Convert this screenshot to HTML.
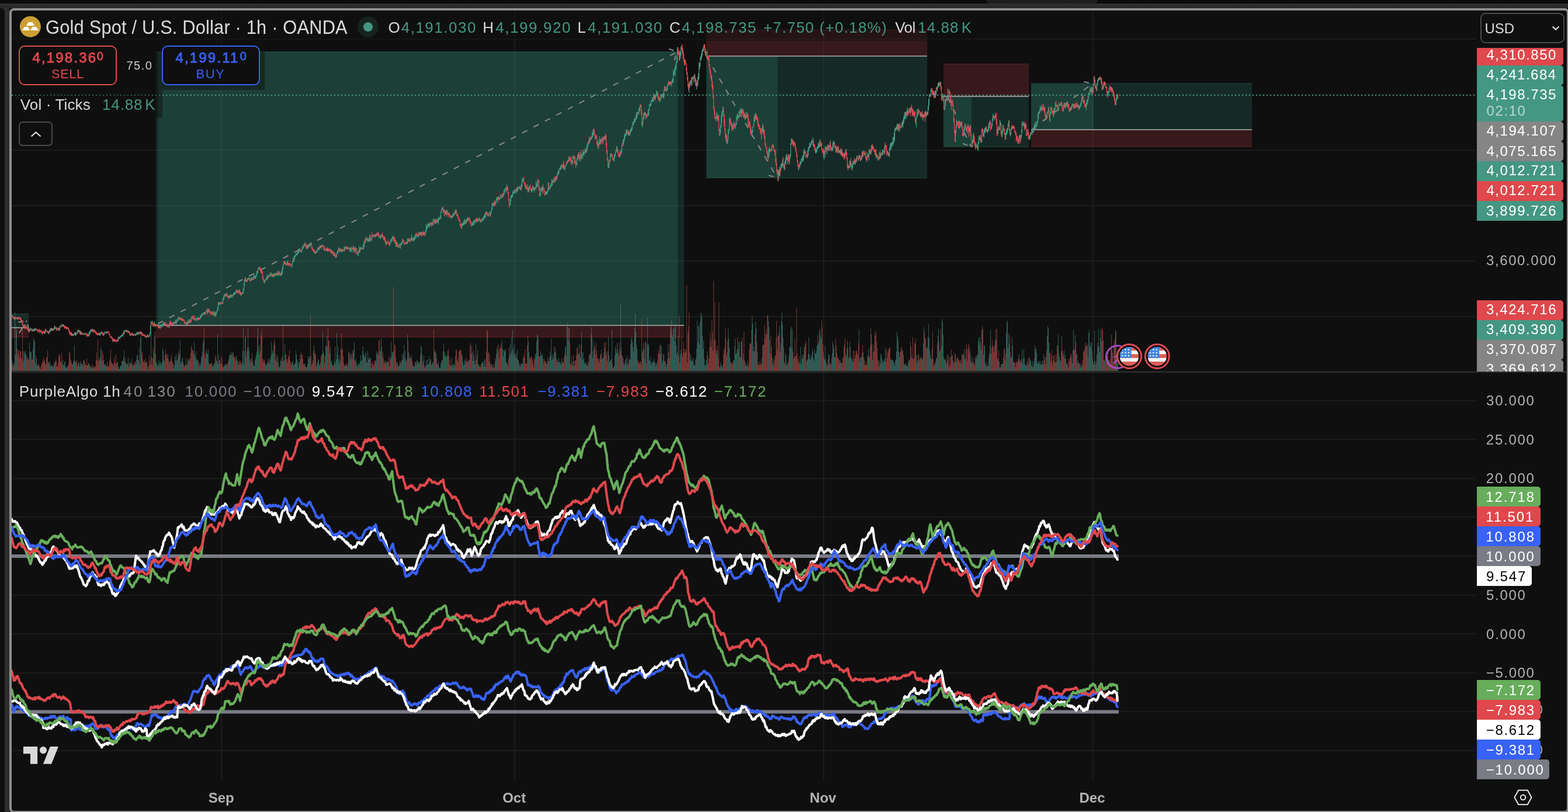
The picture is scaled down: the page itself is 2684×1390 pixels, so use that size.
<!DOCTYPE html><html lang="en"><head><meta charset="utf-8"><title>XAUUSD chart</title><style>
*{box-sizing:border-box}
html,body{margin:0;padding:0}
body{width:2684px;height:1390px;overflow:hidden;background:#0f0f0f;position:relative;
 font-family:"Liberation Sans",sans-serif;-webkit-font-smoothing:antialiased}
.t{position:absolute;line-height:0;white-space:nowrap}
.b{position:absolute}
.lab{position:absolute;left:2528px;height:34px;border-radius:0 4px 4px 0;color:#fff}
svg{position:absolute;left:0;top:0}
</style></head><body><svg width="2684" height="1390" viewBox="0 0 2684 1390"><path d="M379 18V1335 M881 18V1335 M1410 18V1335 M1870.5 18V1335 M20 67H2526 M20 162H2526 M20 257H2526 M20 352H2526 M20 447H2526 M20 542H2526 M20 686H2526 M20 752H2526 M20 819H2526 M20 885H2526 M20 952H2526 M20 1019H2526 M20 1085H2526 M20 1152H2526 M20 1218H2526 M20 1285H2526" stroke="rgba(255,255,255,0.07)" stroke-width="1.6" fill="none"/><rect x="20" y="537" width="29" height="23" fill="rgba(45,150,130,0.2)" /><rect x="20" y="562" width="29" height="15.5" fill="rgba(220,65,75,0.2)" /><rect x="20" y="560" width="24" height="2" fill="#8f8f8f" /><rect x="20" y="537" width="29" height="1" fill="#25483f" /><rect x="20" y="576.5" width="29" height="1.0" fill="#5a2528" /><rect x="267" y="89" width="904" height="467" fill="rgba(45,150,130,0.2)" /><rect x="271" y="89" width="889" height="467" fill="rgba(61,152,128,0.2)" /><rect x="267" y="88.5" width="904" height="1.0" fill="#2a5a50" /><rect x="267" y="558" width="904" height="19.5" fill="rgba(220,65,75,0.2)" /><rect x="267" y="576.5" width="904" height="1.0" fill="#5a2528" /><rect x="267" y="556" width="904" height="2" fill="#8f8f8f" /><rect x="1209" y="51" width="378" height="44" fill="rgba(220,65,75,0.2)" /><rect x="1209" y="50.5" width="378" height="1.0" fill="#5a2528" /><rect x="1209" y="97" width="378" height="208" fill="rgba(45,150,130,0.2)" /><rect x="1209" y="97" width="122" height="208" fill="rgba(61,152,128,0.2)" /><rect x="1209" y="304" width="378" height="1" fill="#25483f" /><rect x="1214" y="95" width="373" height="2" fill="#8f8f8f" /><rect x="1615" y="109.5" width="146" height="54.5" fill="rgba(220,65,75,0.2)" /><rect x="1615" y="109" width="146" height="1" fill="#5a2528" /><rect x="1615" y="166" width="146" height="85.5" fill="rgba(45,150,130,0.2)" /><rect x="1615" y="166" width="48" height="85.5" fill="rgba(61,152,128,0.2)" /><rect x="1615" y="250.5" width="146" height="1.0" fill="#25483f" /><rect x="1615" y="164" width="146" height="2" fill="#8f8f8f" /><rect x="1765" y="143" width="378" height="78" fill="rgba(45,150,130,0.2)" /><rect x="1765" y="143" width="107" height="78" fill="rgba(61,152,128,0.2)" /><rect x="1765" y="142.5" width="378" height="1.0" fill="#25483f" /><rect x="1765" y="223" width="378" height="28.5" fill="rgba(220,65,75,0.2)" /><rect x="1765" y="250.5" width="378" height="1.0" fill="#5a2528" /><rect x="1765" y="221" width="378" height="2" fill="#8f8f8f" /><path d="M20.5 635V618M24.5 635V622M25.5 635V534M26.5 635V607M27.5 635V557M28.5 635V565M30.5 635V607M41.5 635V602M42.5 635V605M43.5 635V600M44.5 635V607M50.5 635V587M51.5 635V603M52.5 635V601M56.5 635V597M57.5 635V578M58.5 635V582M59.5 635V585M60.5 635V622M62.5 635V614M63.5 635V626M64.5 635V625M68.5 635V628M77.5 635V623M83.5 635V620M84.5 635V623M85.5 635V618M86.5 635V627M88.5 635V625M90.5 635V628M91.5 635V627M92.5 635V619M93.5 635V622M107.5 635V616M108.5 635V624M109.5 635V626M110.5 635V619M111.5 635V619M112.5 635V628M113.5 635V630M114.5 635V629M115.5 635V627M124.5 635V624M125.5 635V620M126.5 635V617M127.5 635V591M128.5 635V618M132.5 635V627M133.5 635V624M134.5 635V620M137.5 635V618M138.5 635V622M139.5 635V622M140.5 635V623M141.5 635V626M144.5 635V616M150.5 635V624M152.5 635V623M153.5 635V626M154.5 635V626M155.5 635V629M156.5 635V631M158.5 635V628M159.5 635V630M171.5 635V611M172.5 635V594M173.5 635V599M174.5 635V618M177.5 635V616M178.5 635V624M179.5 635V625M180.5 635V623M181.5 635V627M193.5 635V622M194.5 635V626M197.5 635V622M202.5 635V627M203.5 635V631M204.5 635V632M205.5 635V627M206.5 635V626M207.5 635V626M208.5 635V618M209.5 635V617M210.5 635V619M212.5 635V600M213.5 635V619M214.5 635V613M215.5 635V622M216.5 635V623M219.5 635V612M224.5 635V621M226.5 635V623M227.5 635V627M228.5 635V624M229.5 635V624M233.5 635V616M234.5 635V609M235.5 635V608M237.5 635V617M238.5 635V595M240.5 635V578M241.5 635V570M251.5 635V620M252.5 635V627M253.5 635V632M258.5 635V554M264.5 635V575M267.5 635V620M268.5 635V622M269.5 635V625M270.5 635V628M271.5 635V617M274.5 635V623M275.5 635V620M276.5 635V625M277.5 635V620M278.5 635V596M279.5 635V601M280.5 635V616M281.5 635V619M287.5 635V607M290.5 635V619M296.5 635V623M297.5 635V631M298.5 635V625M299.5 635V610M300.5 635V617M301.5 635V606M302.5 635V617M303.5 635V617M304.5 635V611M305.5 635V604M307.5 635V607M308.5 635V583M309.5 635V623M310.5 635V619M311.5 635V615M312.5 635V611M319.5 635V625M320.5 635V624M322.5 635V617M323.5 635V613M324.5 635V618M331.5 635V605M332.5 635V585M333.5 635V607M334.5 635V613M335.5 635V601M336.5 635V618M337.5 635V615M338.5 635V616M342.5 635V622M343.5 635V625M344.5 635V612M345.5 635V609M346.5 635V602M347.5 635V587M348.5 635V581M351.5 635V613M352.5 635V603M353.5 635V598M355.5 635V606M356.5 635V598M362.5 635V621M363.5 635V628M364.5 635V625M365.5 635V626M366.5 635V623M367.5 635V621M370.5 635V616M371.5 635V619M372.5 635V572M373.5 635V623M374.5 635V608M383.5 635V626M384.5 635V626M385.5 635V623M386.5 635V622M387.5 635V626M391.5 635V615M392.5 635V609M393.5 635V605M394.5 635V608M395.5 635V607M397.5 635V608M398.5 635V603M404.5 635V609M405.5 635V615M406.5 635V617M409.5 635V623M412.5 635V622M413.5 635V625M414.5 635V619M415.5 635V600M416.5 635V561M417.5 635V624M418.5 635V601M419.5 635V578M421.5 635V611M423.5 635V595M424.5 635V562M425.5 635V594M426.5 635V600M429.5 635V621M430.5 635V613M432.5 635V618M433.5 635V623M434.5 635V626M435.5 635V627M436.5 635V617M437.5 635V613M438.5 635V608M439.5 635V602M441.5 635V561M442.5 635V594M443.5 635V606M453.5 635V620M454.5 635V624M455.5 635V626M456.5 635V623M457.5 635V621M460.5 635V614M461.5 635V623M462.5 635V616M463.5 635V610M464.5 635V585M465.5 635V606M466.5 635V599M467.5 635V604M470.5 635V587M471.5 635V616M472.5 635V606M476.5 635V620M477.5 635V629M480.5 635V617M481.5 635V613M482.5 635V619M483.5 635V610M485.5 635V618M486.5 635V617M487.5 635V590M491.5 635V621M499.5 635V620M500.5 635V621M501.5 635V618M503.5 635V624M504.5 635V623M505.5 635V620M506.5 635V600M507.5 635V607M508.5 635V615M509.5 635V619M510.5 635V629M511.5 635V620M512.5 635V621M513.5 635V607M519.5 635V624M521.5 635V623M525.5 635V628M526.5 635V623M527.5 635V610M528.5 635V615M529.5 635V609M530.5 635V613M537.5 635V591M542.5 635V622M543.5 635V620M544.5 635V615M545.5 635V616M546.5 635V625M547.5 635V624M551.5 635V605M552.5 635V567M557.5 635V593M558.5 635V591M559.5 635V575M560.5 635V594M564.5 635V605M565.5 635V594M566.5 635V619M568.5 635V623M572.5 635V618M574.5 635V622M575.5 635V615M576.5 635V570M577.5 635V607M578.5 635V593M579.5 635V615M581.5 635V609M582.5 635V618M589.5 635V626M590.5 635V626M591.5 635V625M594.5 635V627M595.5 635V622M597.5 635V601M599.5 635V615M600.5 635V604M601.5 635V608M604.5 635V604M605.5 635V598M606.5 635V586M609.5 635V614M610.5 635V626M611.5 635V623M613.5 635V623M614.5 635V621M616.5 635V619M617.5 635V608M620.5 635V601M621.5 635V593M622.5 635V606M623.5 635V609M624.5 635V612M625.5 635V603M626.5 635V605M627.5 635V621M628.5 635V620M629.5 635V600M630.5 635V613M631.5 635V616M632.5 635V611M634.5 635V613M635.5 635V630M636.5 635V622M639.5 635V627M643.5 635V618M644.5 635V601M645.5 635V606M646.5 635V603M651.5 635V599M652.5 635V579M653.5 635V594M661.5 635V622M662.5 635V618M663.5 635V620M669.5 635V585M670.5 635V610M671.5 635V603M672.5 635V603M679.5 635V623M680.5 635V620M682.5 635V627M683.5 635V625M685.5 635V619M686.5 635V623M687.5 635V617M688.5 635V606M689.5 635V616M690.5 635V605M691.5 635V590M692.5 635V612M693.5 635V600M694.5 635V617M697.5 635V573M699.5 635V603M700.5 635V613M703.5 635V613M704.5 635V608M706.5 635V623M707.5 635V627M708.5 635V628M709.5 635V627M710.5 635V619M711.5 635V620M712.5 635V625M713.5 635V616M715.5 635V621M716.5 635V620M718.5 635V619M720.5 635V591M721.5 635V595M722.5 635V606M724.5 635V618M725.5 635V609M729.5 635V617M730.5 635V625M731.5 635V615M732.5 635V624M733.5 635V623M734.5 635V610M735.5 635V621M736.5 635V615M739.5 635V624M740.5 635V620M741.5 635V621M744.5 635V598M745.5 635V603M746.5 635V605M748.5 635V624M749.5 635V623M750.5 635V619M751.5 635V628M752.5 635V630M753.5 635V630M754.5 635V623M755.5 635V620M756.5 635V616M757.5 635V616M759.5 635V588M760.5 635V602M761.5 635V610M763.5 635V612M764.5 635V609M765.5 635V610M768.5 635V609M772.5 635V626M773.5 635V612M774.5 635V624M775.5 635V629M776.5 635V624M777.5 635V622M778.5 635V626M790.5 635V607M791.5 635V611M792.5 635V620M793.5 635V626M794.5 635V624M795.5 635V618M796.5 635V615M799.5 635V618M800.5 635V618M802.5 635V616M803.5 635V616M808.5 635V604M809.5 635V618M810.5 635V600M811.5 635V609M812.5 635V618M813.5 635V624M814.5 635V588M818.5 635V623M819.5 635V624M820.5 635V627M825.5 635V619M826.5 635V621M827.5 635V619M828.5 635V628M829.5 635V615M830.5 635V615M831.5 635V628M837.5 635V619M841.5 635V622M842.5 635V624M843.5 635V630M848.5 635V618M849.5 635V606M850.5 635V597M859.5 635V582M860.5 635V598M861.5 635V610M862.5 635V599M863.5 635V600M864.5 635V602M865.5 635V596M866.5 635V621M867.5 635V620M872.5 635V608M873.5 635V589M874.5 635V604M875.5 635V577M876.5 635V601M877.5 635V564M878.5 635V596M879.5 635V606M880.5 635V590M882.5 635V611M883.5 635V604M884.5 635V613M885.5 635V598M886.5 635V616M887.5 635V617M888.5 635V624M891.5 635V623M892.5 635V623M893.5 635V621M894.5 635V624M895.5 635V613M904.5 635V584M905.5 635V602M917.5 635V606M918.5 635V584M919.5 635V573M920.5 635V575M924.5 635V610M925.5 635V601M926.5 635V608M927.5 635V609M928.5 635V605M934.5 635V620M935.5 635V623M936.5 635V622M937.5 635V611M938.5 635V618M941.5 635V601M942.5 635V609M943.5 635V580M944.5 635V617M945.5 635V606M946.5 635V615M947.5 635V611M949.5 635V603M950.5 635V595M951.5 635V604M953.5 635V620M954.5 635V616M955.5 635V621M956.5 635V613M957.5 635V620M958.5 635V620M959.5 635V621M960.5 635V625M963.5 635V619M967.5 635V594M968.5 635V593M969.5 635V610M970.5 635V560M971.5 635V553M972.5 635V583M973.5 635V562M979.5 635V620M980.5 635V627M981.5 635V608M982.5 635V618M990.5 635V607M991.5 635V589M992.5 635V604M993.5 635V612M995.5 635V568M996.5 635V604M997.5 635V617M998.5 635V603M999.5 635V614M1000.5 635V622M1001.5 635V620M1003.5 635V621M1004.5 635V626M1005.5 635V626M1006.5 635V619M1009.5 635V607M1010.5 635V604M1012.5 635V560M1013.5 635V577M1014.5 635V613M1015.5 635V601M1016.5 635V584M1025.5 635V621M1026.5 635V614M1029.5 635V598M1030.5 635V615M1031.5 635V612M1032.5 635V613M1033.5 635V604M1035.5 635V595M1041.5 635V577M1042.5 635V608M1043.5 635V620M1044.5 635V618M1045.5 635V616M1047.5 635V564M1050.5 635V629M1051.5 635V626M1052.5 635V608M1053.5 635V593M1054.5 635V598M1055.5 635V604M1056.5 635V587M1062.5 635V520M1063.5 635V594M1064.5 635V608M1066.5 635V613M1067.5 635V621M1068.5 635V625M1069.5 635V621M1070.5 635V616M1071.5 635V614M1072.5 635V625M1073.5 635V609M1077.5 635V617M1078.5 635V615M1079.5 635V589M1080.5 635V581M1081.5 635V577M1082.5 635V585M1083.5 635V594M1084.5 635V602M1085.5 635V579M1086.5 635V561M1087.5 635V537M1088.5 635V568M1089.5 635V590M1090.5 635V597M1094.5 635V623M1095.5 635V619M1100.5 635V599M1101.5 635V587M1102.5 635V596M1103.5 635V614M1105.5 635V585M1108.5 635V543M1109.5 635V591M1110.5 635V589M1111.5 635V617M1112.5 635V618M1113.5 635V611M1114.5 635V625M1115.5 635V620M1116.5 635V621M1117.5 635V620M1118.5 635V618M1119.5 635V613M1120.5 635V620M1122.5 635V627M1123.5 635V622M1124.5 635V623M1130.5 635V590M1131.5 635V606M1132.5 635V594M1133.5 635V621M1134.5 635V617M1135.5 635V606M1136.5 635V607M1138.5 635V618M1139.5 635V622M1140.5 635V628M1141.5 635V623M1142.5 635V615M1143.5 635V590M1147.5 635V558M1150.5 635V572M1151.5 635V577M1152.5 635V563M1153.5 635V562M1154.5 635V584M1155.5 635V560M1156.5 635V555M1157.5 635V591M1158.5 635V607M1159.5 635V602M1160.5 635V575M1163.5 635V621M1164.5 635V607M1165.5 635V598M1180.5 635V604M1181.5 635V617M1182.5 635V608M1183.5 635V618M1184.5 635V615M1185.5 635V618M1186.5 635V612M1187.5 635V625M1188.5 635V624M1189.5 635V626M1190.5 635V616M1192.5 635V597M1193.5 635V549M1194.5 635V586M1195.5 635V559M1196.5 635V557M1197.5 635V590M1198.5 635V551M1199.5 635V535M1200.5 635V544M1201.5 635V538M1202.5 635V574M1203.5 635V597M1204.5 635V583M1205.5 635V614M1206.5 635V626M1208.5 635V624M1209.5 635V616M1210.5 635V602M1225.5 635V599M1226.5 635V605M1233.5 635V620M1234.5 635V625M1235.5 635V627M1236.5 635V630M1237.5 635V623M1243.5 635V609M1246.5 635V563M1247.5 635V580M1248.5 635V596M1249.5 635V612M1255.5 635V617M1256.5 635V617M1257.5 635V593M1258.5 635V580M1259.5 635V606M1260.5 635V605M1261.5 635V598M1264.5 635V586M1265.5 635V585M1266.5 635V611M1267.5 635V611M1268.5 635V584M1269.5 635V585M1271.5 635V615M1275.5 635V620M1276.5 635V625M1277.5 635V625M1278.5 635V627M1279.5 635V618M1287.5 635V542M1288.5 635V554M1289.5 635V601M1290.5 635V593M1291.5 635V602M1293.5 635V551M1294.5 635V562M1304.5 635V613M1305.5 635V590M1315.5 635V550M1316.5 635V560M1320.5 635V594M1321.5 635V611M1322.5 635V623M1333.5 635V570M1334.5 635V559M1336.5 635V587M1337.5 635V550M1338.5 635V535M1339.5 635V556M1343.5 635V623M1344.5 635V604M1345.5 635V609M1346.5 635V624M1348.5 635V620M1351.5 635V594M1352.5 635V594M1353.5 635V563M1354.5 635V559M1355.5 635V597M1356.5 635V563M1358.5 635V614M1369.5 635V619M1370.5 635V594M1371.5 635V624M1372.5 635V614M1373.5 635V608M1374.5 635V614M1375.5 635V606M1376.5 635V593M1380.5 635V619M1381.5 635V616M1382.5 635V615M1383.5 635V606M1384.5 635V577M1385.5 635V606M1386.5 635V615M1387.5 635V615M1388.5 635V607M1389.5 635V611M1390.5 635V597M1391.5 635V602M1392.5 635V615M1393.5 635V618M1394.5 635V597M1395.5 635V605M1396.5 635V605M1397.5 635V601M1398.5 635V592M1399.5 635V573M1400.5 635V590M1401.5 635V584M1402.5 635V567M1403.5 635V563M1404.5 635V574M1410.5 635V611M1411.5 635V616M1412.5 635V592M1415.5 635V625M1416.5 635V625M1418.5 635V605M1419.5 635V608M1420.5 635V623M1424.5 635V604M1425.5 635V585M1426.5 635V590M1427.5 635V597M1428.5 635V611M1429.5 635V612M1436.5 635V616M1437.5 635V621M1438.5 635V616M1440.5 635V622M1447.5 635V607M1448.5 635V611M1449.5 635V597M1452.5 635V614M1453.5 635V611M1454.5 635V585M1455.5 635V594M1456.5 635V611M1457.5 635V614M1458.5 635V619M1459.5 635V614M1464.5 635V608M1470.5 635V564M1471.5 635V619M1472.5 635V613M1473.5 635V612M1474.5 635V610M1475.5 635V604M1486.5 635V597M1487.5 635V611M1491.5 635V572M1492.5 635V589M1493.5 635V616M1503.5 635V618M1507.5 635V608M1508.5 635V605M1509.5 635V613M1510.5 635V622M1511.5 635V616M1512.5 635V619M1513.5 635V618M1514.5 635V613M1515.5 635V595M1524.5 635V616M1525.5 635V614M1526.5 635V616M1527.5 635V617M1528.5 635V616M1529.5 635V620M1530.5 635V622M1531.5 635V626M1532.5 635V618M1533.5 635V616M1534.5 635V602M1535.5 635V568M1536.5 635V575M1537.5 635V583M1538.5 635V602M1539.5 635V611M1545.5 635V600M1546.5 635V608M1547.5 635V625M1548.5 635V623M1549.5 635V624M1550.5 635V622M1552.5 635V626M1553.5 635V628M1554.5 635V621M1555.5 635V615M1556.5 635V617M1568.5 635V608M1569.5 635V622M1570.5 635V617M1571.5 635V608M1579.5 635V613M1580.5 635V588M1581.5 635V560M1586.5 635V597M1588.5 635V577M1589.5 635V555M1590.5 635V579M1591.5 635V600M1592.5 635V607M1593.5 635V613M1600.5 635V624M1601.5 635V618M1602.5 635V613M1603.5 635V613M1604.5 635V588M1605.5 635V575M1606.5 635V563M1609.5 635V599M1612.5 635V546M1613.5 635V551M1614.5 635V573M1616.5 635V616M1617.5 635V614M1618.5 635V616M1620.5 635V623M1621.5 635V607M1622.5 635V617M1629.5 635V609M1635.5 635V607M1636.5 635V620M1637.5 635V614M1642.5 635V620M1643.5 635V618M1645.5 635V623M1649.5 635V607M1650.5 635V598M1651.5 635V615M1652.5 635V614M1659.5 635V604M1660.5 635V596M1661.5 635V618M1665.5 635V612M1670.5 635V609M1671.5 635V613M1672.5 635V608M1674.5 635V583M1675.5 635V578M1677.5 635V577M1678.5 635V586M1679.5 635V599M1680.5 635V565M1683.5 635V607M1684.5 635V591M1685.5 635V592M1686.5 635V622M1687.5 635V626M1690.5 635V624M1691.5 635V627M1692.5 635V613M1693.5 635V606M1694.5 635V591M1695.5 635V565M1703.5 635V582M1707.5 635V614M1708.5 635V615M1710.5 635V619M1711.5 635V629M1712.5 635V629M1715.5 635V623M1716.5 635V622M1722.5 635V570M1723.5 635V552M1724.5 635V549M1725.5 635V596M1726.5 635V571M1727.5 635V589M1730.5 635V612M1731.5 635V610M1732.5 635V577M1733.5 635V592M1734.5 635V618M1735.5 635V621M1744.5 635V607M1745.5 635V618M1747.5 635V620M1748.5 635V615M1749.5 635V598M1750.5 635V622M1751.5 635V614M1752.5 635V598M1753.5 635V613M1754.5 635V623M1755.5 635V626M1756.5 635V625M1757.5 635V619M1758.5 635V626M1759.5 635V614M1763.5 635V618M1764.5 635V617M1767.5 635V618M1768.5 635V629M1769.5 635V622M1770.5 635V614M1771.5 635V591M1772.5 635V597M1773.5 635V597M1774.5 635V604M1775.5 635V620M1776.5 635V623M1777.5 635V618M1778.5 635V622M1779.5 635V618M1780.5 635V625M1781.5 635V619M1782.5 635V624M1783.5 635V623M1784.5 635V617M1786.5 635V606M1792.5 635V576M1793.5 635V558M1794.5 635V561M1795.5 635V587M1806.5 635V621M1808.5 635V619M1811.5 635V573M1812.5 635V605M1813.5 635V610M1814.5 635V617M1815.5 635V619M1817.5 635V576M1821.5 635V600M1825.5 635V621M1826.5 635V624M1833.5 635V606M1834.5 635V612M1835.5 635V622M1836.5 635V600M1837.5 635V565M1840.5 635V574M1841.5 635V585M1842.5 635V605M1845.5 635V617M1848.5 635V623M1849.5 635V629M1850.5 635V622M1851.5 635V628M1852.5 635V625M1860.5 635V593M1861.5 635V590M1862.5 635V611M1863.5 635V570M1864.5 635V565M1865.5 635V591M1866.5 635V595M1867.5 635V587M1868.5 635V586M1870.5 635V615M1871.5 635V620M1872.5 635V624M1873.5 635V566M1874.5 635V618M1877.5 635V607M1878.5 635V587M1879.5 635V593M1880.5 635V563M1881.5 635V594M1882.5 635V603M1883.5 635V578M1884.5 635V564M1888.5 635V583M1889.5 635V616M1890.5 635V617M1897.5 635V616M1898.5 635V616M1899.5 635V620M1903.5 635V598M1909.5 635V565M1911.5 635V615M1912.5 635V622M1913.5 635V621" stroke="rgba(82,164,154,0.5)" stroke-width="1" fill="none" shape-rendering="crispEdges"/><path d="M21.5 635V625M22.5 635V621M23.5 635V626M29.5 635V597M31.5 635V599M32.5 635V601M33.5 635V613M34.5 635V600M35.5 635V602M36.5 635V612M37.5 635V615M38.5 635V559M39.5 635V601M40.5 635V618M45.5 635V615M46.5 635V609M47.5 635V615M48.5 635V613M49.5 635V617M53.5 635V603M54.5 635V616M55.5 635V615M61.5 635V609M65.5 635V622M66.5 635V624M67.5 635V628M69.5 635V632M70.5 635V626M71.5 635V621M72.5 635V621M73.5 635V615M74.5 635V619M75.5 635V612M76.5 635V617M78.5 635V623M79.5 635V612M80.5 635V611M81.5 635V600M82.5 635V620M87.5 635V625M89.5 635V626M94.5 635V619M95.5 635V614M96.5 635V618M97.5 635V627M98.5 635V627M99.5 635V621M100.5 635V609M101.5 635V606M102.5 635V609M103.5 635V619M104.5 635V618M105.5 635V604M106.5 635V623M116.5 635V626M117.5 635V621M118.5 635V604M119.5 635V602M120.5 635V613M121.5 635V617M122.5 635V621M123.5 635V623M129.5 635V621M130.5 635V619M131.5 635V616M135.5 635V622M136.5 635V628M142.5 635V618M143.5 635V617M145.5 635V622M146.5 635V625M147.5 635V625M148.5 635V614M149.5 635V626M151.5 635V621M157.5 635V624M160.5 635V626M161.5 635V630M162.5 635V628M163.5 635V627M164.5 635V616M165.5 635V603M166.5 635V617M167.5 635V581M168.5 635V619M169.5 635V613M170.5 635V617M175.5 635V601M176.5 635V607M182.5 635V626M183.5 635V620M184.5 635V627M185.5 635V628M186.5 635V626M187.5 635V617M188.5 635V614M189.5 635V598M190.5 635V619M191.5 635V622M192.5 635V623M195.5 635V611M196.5 635V618M198.5 635V606M199.5 635V623M200.5 635V620M201.5 635V620M211.5 635V612M217.5 635V624M218.5 635V622M220.5 635V627M221.5 635V620M222.5 635V623M223.5 635V621M225.5 635V614M230.5 635V620M231.5 635V619M232.5 635V624M236.5 635V616M239.5 635V624M242.5 635V607M243.5 635V602M244.5 635V615M245.5 635V620M246.5 635V619M247.5 635V616M248.5 635V621M249.5 635V613M250.5 635V621M254.5 635V626M255.5 635V609M256.5 635V617M257.5 635V624M259.5 635V611M260.5 635V625M261.5 635V613M262.5 635V595M263.5 635V604M265.5 635V568M266.5 635V606M272.5 635V623M273.5 635V618M282.5 635V608M283.5 635V598M284.5 635V607M285.5 635V606M286.5 635V613M288.5 635V615M289.5 635V621M291.5 635V618M292.5 635V613M293.5 635V606M294.5 635V618M295.5 635V621M306.5 635V600M313.5 635V620M314.5 635V624M315.5 635V627M316.5 635V626M317.5 635V623M318.5 635V613M321.5 635V615M325.5 635V613M326.5 635V604M327.5 635V592M328.5 635V596M329.5 635V600M330.5 635V600M339.5 635V618M340.5 635V627M341.5 635V622M349.5 635V561M350.5 635V607M354.5 635V605M357.5 635V621M358.5 635V623M359.5 635V623M360.5 635V623M361.5 635V622M368.5 635V611M369.5 635V608M375.5 635V616M376.5 635V617M377.5 635V623M378.5 635V610M379.5 635V623M380.5 635V613M381.5 635V627M382.5 635V629M388.5 635V623M389.5 635V623M390.5 635V619M396.5 635V602M399.5 635V604M400.5 635V611M401.5 635V612M402.5 635V610M403.5 635V618M407.5 635V625M408.5 635V619M410.5 635V617M411.5 635V620M420.5 635V575M422.5 635V601M427.5 635V617M428.5 635V614M431.5 635V604M440.5 635V577M444.5 635V590M445.5 635V601M446.5 635V573M447.5 635V576M448.5 635V565M449.5 635V615M450.5 635V620M451.5 635V615M452.5 635V616M458.5 635V615M459.5 635V620M468.5 635V591M469.5 635V581M473.5 635V619M474.5 635V612M475.5 635V608M478.5 635V628M479.5 635V626M484.5 635V559M488.5 635V607M489.5 635V606M490.5 635V615M492.5 635V615M493.5 635V609M494.5 635V611M495.5 635V599M496.5 635V617M497.5 635V620M498.5 635V625M502.5 635V625M514.5 635V614M515.5 635V603M516.5 635V607M517.5 635V607M518.5 635V614M520.5 635V623M522.5 635V627M523.5 635V627M524.5 635V629M531.5 635V540M532.5 635V609M533.5 635V625M534.5 635V622M535.5 635V617M536.5 635V600M538.5 635V605M539.5 635V604M540.5 635V609M541.5 635V627M548.5 635V621M549.5 635V610M550.5 635V608M553.5 635V602M554.5 635V606M555.5 635V621M556.5 635V609M561.5 635V562M562.5 635V583M563.5 635V583M567.5 635V617M569.5 635V625M570.5 635V626M571.5 635V624M573.5 635V593M580.5 635V623M583.5 635V597M584.5 635V570M585.5 635V599M586.5 635V596M587.5 635V610M588.5 635V621M592.5 635V624M593.5 635V622M596.5 635V604M598.5 635V606M602.5 635V614M603.5 635V600M607.5 635V617M608.5 635V619M612.5 635V628M615.5 635V625M618.5 635V617M619.5 635V618M633.5 635V614M637.5 635V619M638.5 635V624M640.5 635V623M641.5 635V617M642.5 635V617M647.5 635V607M648.5 635V582M649.5 635V583M650.5 635V602M654.5 635V610M655.5 635V602M656.5 635V614M657.5 635V622M658.5 635V619M659.5 635V617M660.5 635V620M664.5 635V620M665.5 635V610M666.5 635V627M667.5 635V614M668.5 635V614M673.5 635V491M674.5 635V600M675.5 635V589M676.5 635V592M677.5 635V612M678.5 635V620M681.5 635V627M684.5 635V618M695.5 635V620M696.5 635V615M698.5 635V583M701.5 635V607M702.5 635V613M705.5 635V618M714.5 635V618M717.5 635V622M719.5 635V609M723.5 635V624M726.5 635V626M727.5 635V630M728.5 635V627M737.5 635V615M738.5 635V624M742.5 635V564M743.5 635V602M747.5 635V613M758.5 635V601M762.5 635V606M766.5 635V600M767.5 635V597M769.5 635V624M770.5 635V616M771.5 635V626M779.5 635V610M780.5 635V599M781.5 635V599M782.5 635V617M783.5 635V612M784.5 635V620M785.5 635V602M786.5 635V599M787.5 635V601M788.5 635V599M789.5 635V599M797.5 635V621M798.5 635V612M801.5 635V620M804.5 635V593M805.5 635V587M806.5 635V605M807.5 635V591M815.5 635V616M816.5 635V608M817.5 635V599M821.5 635V628M822.5 635V628M823.5 635V623M824.5 635V622M832.5 635V601M833.5 635V564M834.5 635V568M835.5 635V604M836.5 635V603M838.5 635V608M839.5 635V623M840.5 635V626M844.5 635V628M845.5 635V623M846.5 635V629M847.5 635V613M851.5 635V591M852.5 635V601M853.5 635V590M854.5 635V612M855.5 635V597M856.5 635V595M857.5 635V587M858.5 635V594M868.5 635V622M869.5 635V625M870.5 635V614M871.5 635V595M881.5 635V606M889.5 635V622M890.5 635V627M896.5 635V607M897.5 635V612M898.5 635V598M899.5 635V622M900.5 635V623M901.5 635V622M902.5 635V591M903.5 635V574M906.5 635V612M907.5 635V615M908.5 635V612M909.5 635V610M910.5 635V613M911.5 635V617M912.5 635V622M913.5 635V628M914.5 635V612M915.5 635V615M916.5 635V606M921.5 635V580M922.5 635V610M923.5 635V610M929.5 635V614M930.5 635V622M931.5 635V614M932.5 635V618M933.5 635V618M939.5 635V619M940.5 635V613M948.5 635V593M952.5 635V614M961.5 635V613M962.5 635V620M964.5 635V622M965.5 635V612M966.5 635V606M974.5 635V562M975.5 635V587M976.5 635V623M977.5 635V624M978.5 635V609M983.5 635V626M984.5 635V617M985.5 635V617M986.5 635V608M987.5 635V596M988.5 635V594M989.5 635V605M994.5 635V590M1002.5 635V623M1007.5 635V622M1008.5 635V608M1011.5 635V571M1017.5 635V597M1018.5 635V593M1019.5 635V607M1020.5 635V587M1021.5 635V601M1022.5 635V614M1023.5 635V612M1024.5 635V615M1027.5 635V608M1028.5 635V605M1034.5 635V586M1036.5 635V586M1037.5 635V608M1038.5 635V602M1039.5 635V618M1040.5 635V601M1046.5 635V614M1048.5 635V622M1049.5 635V630M1057.5 635V597M1058.5 635V604M1059.5 635V609M1060.5 635V586M1061.5 635V600M1065.5 635V609M1074.5 635V621M1075.5 635V624M1076.5 635V613M1091.5 635V615M1092.5 635V619M1093.5 635V621M1096.5 635V619M1097.5 635V624M1098.5 635V546M1099.5 635V603M1104.5 635V585M1106.5 635V622M1107.5 635V589M1121.5 635V621M1125.5 635V618M1126.5 635V605M1127.5 635V599M1128.5 635V605M1129.5 635V591M1137.5 635V618M1144.5 635V603M1145.5 635V613M1146.5 635V589M1148.5 635V563M1149.5 635V548M1161.5 635V610M1162.5 635V541M1166.5 635V577M1167.5 635V605M1168.5 635V612M1169.5 635V585M1170.5 635V597M1171.5 635V604M1172.5 635V597M1173.5 635V603M1174.5 635V599M1175.5 635V488M1176.5 635V620M1177.5 635V569M1178.5 635V559M1179.5 635V535M1191.5 635V612M1207.5 635V625M1211.5 635V609M1212.5 635V622M1213.5 635V614M1214.5 635V595M1215.5 635V570M1216.5 635V583M1217.5 635V594M1218.5 635V549M1219.5 635V569M1220.5 635V600M1221.5 635V481M1222.5 635V583M1223.5 635V517M1224.5 635V581M1227.5 635V592M1228.5 635V600M1229.5 635V614M1230.5 635V517M1231.5 635V628M1232.5 635V629M1238.5 635V606M1239.5 635V599M1240.5 635V595M1241.5 635V562M1242.5 635V579M1244.5 635V603M1245.5 635V583M1250.5 635V621M1251.5 635V620M1252.5 635V620M1253.5 635V624M1254.5 635V621M1262.5 635V577M1263.5 635V598M1270.5 635V578M1272.5 635V605M1273.5 635V568M1274.5 635V616M1280.5 635V628M1281.5 635V623M1282.5 635V598M1283.5 635V587M1284.5 635V589M1285.5 635V588M1286.5 635V564M1292.5 635V572M1295.5 635V586M1296.5 635V603M1297.5 635V624M1298.5 635V624M1299.5 635V620M1300.5 635V625M1301.5 635V619M1302.5 635V623M1303.5 635V624M1306.5 635V591M1307.5 635V590M1308.5 635V556M1309.5 635V580M1310.5 635V572M1311.5 635V563M1312.5 635V572M1313.5 635V540M1314.5 635V540M1317.5 635V581M1318.5 635V605M1319.5 635V574M1323.5 635V614M1324.5 635V626M1325.5 635V617M1326.5 635V609M1327.5 635V609M1328.5 635V578M1329.5 635V549M1330.5 635V599M1331.5 635V575M1332.5 635V575M1335.5 635V602M1340.5 635V578M1341.5 635V594M1342.5 635V619M1347.5 635V625M1349.5 635V620M1350.5 635V609M1357.5 635V602M1359.5 635V612M1360.5 635V580M1361.5 635V610M1362.5 635V609M1363.5 635V527M1364.5 635V604M1365.5 635V615M1366.5 635V619M1367.5 635V610M1368.5 635V623M1377.5 635V595M1378.5 635V588M1379.5 635V584M1405.5 635V580M1406.5 635V548M1407.5 635V560M1408.5 635V589M1409.5 635V602M1413.5 635V615M1414.5 635V620M1417.5 635V615M1421.5 635V622M1422.5 635V624M1423.5 635V614M1430.5 635V581M1431.5 635V592M1432.5 635V604M1433.5 635V611M1434.5 635V613M1435.5 635V615M1439.5 635V621M1441.5 635V621M1442.5 635V611M1443.5 635V614M1444.5 635V594M1445.5 635V590M1446.5 635V579M1450.5 635V583M1451.5 635V595M1460.5 635V600M1461.5 635V619M1462.5 635V601M1463.5 635V613M1465.5 635V600M1466.5 635V601M1467.5 635V605M1468.5 635V609M1469.5 635V587M1476.5 635V591M1477.5 635V603M1478.5 635V612M1479.5 635V616M1480.5 635V625M1481.5 635V620M1482.5 635V624M1483.5 635V625M1484.5 635V612M1485.5 635V608M1488.5 635V611M1489.5 635V593M1490.5 635V562M1494.5 635V603M1495.5 635V590M1496.5 635V601M1497.5 635V570M1498.5 635V575M1499.5 635V566M1500.5 635V585M1501.5 635V596M1502.5 635V615M1504.5 635V627M1505.5 635V617M1506.5 635V623M1516.5 635V620M1517.5 635V598M1518.5 635V613M1519.5 635V604M1520.5 635V601M1521.5 635V597M1522.5 635V595M1523.5 635V595M1540.5 635V604M1541.5 635V602M1542.5 635V597M1543.5 635V594M1544.5 635V601M1551.5 635V626M1557.5 635V616M1558.5 635V584M1559.5 635V594M1560.5 635V610M1561.5 635V613M1562.5 635V577M1563.5 635V615M1564.5 635V613M1565.5 635V587M1566.5 635V589M1567.5 635V580M1572.5 635V606M1573.5 635V617M1574.5 635V613M1575.5 635V612M1576.5 635V614M1577.5 635V610M1578.5 635V617M1582.5 635V567M1583.5 635V578M1584.5 635V580M1585.5 635V595M1587.5 635V593M1594.5 635V615M1595.5 635V596M1596.5 635V567M1597.5 635V615M1598.5 635V627M1599.5 635V621M1607.5 635V585M1608.5 635V602M1610.5 635V564M1611.5 635V593M1615.5 635V611M1619.5 635V619M1623.5 635V607M1624.5 635V627M1625.5 635V612M1626.5 635V624M1627.5 635V611M1628.5 635V598M1630.5 635V608M1631.5 635V617M1632.5 635V621M1633.5 635V620M1634.5 635V604M1638.5 635V612M1639.5 635V611M1640.5 635V615M1641.5 635V616M1644.5 635V616M1646.5 635V605M1647.5 635V609M1648.5 635V606M1653.5 635V597M1654.5 635V589M1655.5 635V618M1656.5 635V598M1657.5 635V593M1658.5 635V588M1662.5 635V609M1663.5 635V620M1664.5 635V621M1666.5 635V621M1667.5 635V621M1668.5 635V625M1669.5 635V613M1673.5 635V607M1676.5 635V590M1681.5 635V557M1682.5 635V563M1688.5 635V620M1689.5 635V628M1696.5 635V606M1697.5 635V595M1698.5 635V582M1699.5 635V592M1700.5 635V593M1701.5 635V603M1702.5 635V591M1704.5 635V563M1705.5 635V582M1706.5 635V563M1709.5 635V600M1713.5 635V623M1714.5 635V624M1717.5 635V612M1718.5 635V598M1719.5 635V596M1720.5 635V616M1721.5 635V605M1728.5 635V574M1729.5 635V602M1736.5 635V620M1737.5 635V621M1738.5 635V628M1739.5 635V620M1740.5 635V619M1741.5 635V621M1742.5 635V615M1743.5 635V613M1746.5 635V617M1760.5 635V623M1761.5 635V611M1762.5 635V613M1765.5 635V625M1766.5 635V627M1785.5 635V624M1787.5 635V617M1788.5 635V611M1789.5 635V623M1790.5 635V611M1791.5 635V599M1796.5 635V604M1797.5 635V603M1798.5 635V618M1799.5 635V608M1800.5 635V599M1801.5 635V624M1802.5 635V617M1803.5 635V609M1804.5 635V608M1805.5 635V619M1807.5 635V606M1809.5 635V591M1810.5 635V593M1816.5 635V601M1818.5 635V600M1819.5 635V605M1820.5 635V610M1822.5 635V614M1823.5 635V607M1824.5 635V614M1827.5 635V623M1828.5 635V629M1829.5 635V614M1830.5 635V619M1831.5 635V614M1832.5 635V606M1838.5 635V598M1839.5 635V598M1843.5 635V607M1844.5 635V622M1846.5 635V621M1847.5 635V622M1853.5 635V617M1854.5 635V601M1855.5 635V602M1856.5 635V598M1857.5 635V587M1858.5 635V593M1859.5 635V587M1869.5 635V601M1875.5 635V625M1876.5 635V619M1885.5 635V585M1886.5 635V561M1887.5 635V566M1891.5 635V615M1892.5 635V619M1893.5 635V616M1894.5 635V618M1895.5 635V609M1896.5 635V601M1900.5 635V615M1901.5 635V598M1902.5 635V573M1904.5 635V604M1905.5 635V620M1906.5 635V592M1907.5 635V586M1908.5 635V580M1910.5 635V568" stroke="rgba(221,94,86,0.5)" stroke-width="1" fill="none" shape-rendering="crispEdges"/><path d="M267 556L1159 89" stroke="#8a8a8a" stroke-width="2" stroke-dasharray="10 12" stroke-dashoffset="-3.5" fill="none"/><path d="M1153.4 86.8L1145.0 83.6M1157.2 94.7L1154.4 103.3" stroke="#8a8a8a" stroke-width="2" fill="none"/><path d="M1209 96L1330 304" stroke="#8a8a8a" stroke-width="2" stroke-dasharray="10 12" stroke-dashoffset="-0.5" fill="none"/><path d="M1331.9 298.3L1334.8 289.8M1324.2 302.4L1315.5 300.1" stroke="#8a8a8a" stroke-width="2" fill="none"/><path d="M1622 166L1662 251" stroke="#8a8a8a" stroke-width="2" stroke-dasharray="10 12" stroke-dashoffset="-1" fill="none"/><path d="M1664.4 245.5L1668.0 237.2M1656.4 248.9L1647.9 245.8" stroke="#8a8a8a" stroke-width="2" fill="none"/><path d="M1765 222.5L1870 143" stroke="#8a8a8a" stroke-width="2" stroke-dasharray="10 12" stroke-dashoffset="-3" fill="none"/><path d="M1864.1 141.8L1855.3 140.0M1869.1 148.9L1867.9 157.8" stroke="#8a8a8a" stroke-width="2" fill="none"/><path d="M33 570L46 549" stroke="#8a8a8a" stroke-width="2" stroke-dasharray="10 12" stroke-dashoffset="0" fill="none"/><path d="M40.1 550.0L31.2 551.5M47.3 554.8L49.4 563.6" stroke="#8a8a8a" stroke-width="2" fill="none"/><path d="M20.5 540.1V543.1M24.5 542.7V546.4M26.5 543.3V546.7M27.5 543.2V545.8M30.5 542.6V546.7M41.5 556.3V560.0M44.5 556.6V562.4M50.5 563.2V568.7M51.5 562.6V566.4M52.5 560.9V564.7M56.5 563.4V568.1M57.5 562.6V565.9M58.5 563.9V567.1M59.5 561.7V566.9M60.5 561.9V565.7M62.5 563.0V565.2M68.5 564.9V567.9M76.5 567.2V571.7M77.5 563.4V570.8M83.5 567.2V571.6M84.5 565.7V570.3M85.5 563.5V568.8M86.5 561.6V566.9M88.5 561.6V566.0M90.5 562.6V567.0M91.5 562.2V564.7M92.5 560.2V565.3M93.5 557.2V563.6M97.5 559.8V565.0M100.5 560.6V566.4M102.5 557.2V565.7M104.5 557.3V560.7M105.5 554.4V558.6M107.5 555.6V559.4M108.5 555.1V558.6M114.5 560.4V563.5M124.5 571.7V575.3M125.5 571.5V575.0M126.5 570.9V574.2M127.5 569.2V572.5M128.5 568.2V574.6M130.5 569.5V573.4M131.5 569.5V571.9M132.5 565.5V571.2M133.5 564.6V570.1M134.5 564.5V567.7M137.5 566.2V572.2M139.5 568.1V572.7M140.5 569.8V572.7M141.5 569.8V572.1M144.5 570.7V573.0M146.5 569.6V572.8M150.5 569.8V575.9M152.5 569.6V575.2M153.5 566.7V572.2M154.5 565.6V571.5M155.5 564.1V568.8M156.5 563.3V566.8M158.5 562.3V568.2M167.5 569.9V573.9M169.5 568.7V573.9M171.5 569.9V575.0M172.5 569.6V572.7M173.5 567.1V572.1M177.5 569.8V574.8M178.5 570.5V572.8M179.5 567.1V571.8M181.5 568.1V570.5M183.5 566.4V570.9M193.5 579.7V585.3M194.5 579.8V582.9M197.5 581.6V585.3M200.5 582.4V585.6M201.5 579.9V584.5M202.5 576.2V583.8M203.5 577.0V579.9M205.5 574.6V579.9M206.5 575.2V577.4M207.5 573.9V576.8M208.5 572.0V575.7M209.5 573.1V575.4M210.5 569.4V576.3M212.5 565.0V572.3M213.5 566.3V568.5M214.5 565.0V567.6M215.5 564.7V567.8M219.5 565.9V569.0M223.5 571.9V574.7M224.5 570.8V573.3M226.5 570.5V574.3M229.5 571.1V574.3M231.5 571.4V575.0M233.5 568.7V574.3M234.5 569.5V571.7M235.5 567.7V573.2M237.5 569.4V572.1M238.5 568.1V572.9M240.5 567.6V571.7M250.5 575.2V578.9M251.5 574.5V577.0M252.5 572.0V576.6M255.5 573.6V576.7M256.5 569.2V576.0M257.5 557.2V572.6M258.5 549.6V559.5M260.5 549.0V555.2M264.5 550.3V558.1M267.5 554.9V558.5M274.5 557.5V563.0M275.5 557.5V559.4M276.5 556.4V559.8M277.5 554.8V560.9M278.5 552.7V558.1M279.5 552.8V557.3M280.5 551.5V556.7M284.5 554.7V559.1M287.5 555.8V560.2M289.5 554.3V561.7M290.5 550.8V558.2M293.5 553.2V557.3M294.5 552.0V556.0M296.5 551.2V556.3M297.5 552.2V556.3M298.5 550.6V554.1M299.5 550.2V553.5M301.5 546.6V555.8M302.5 548.9V552.3M303.5 546.3V550.1M304.5 544.5V550.0M305.5 542.1V546.4M307.5 543.5V546.9M310.5 543.7V548.3M319.5 551.8V558.2M320.5 549.8V555.3M322.5 550.3V553.6M323.5 546.7V552.4M324.5 546.1V553.7M327.5 543.3V551.4M328.5 542.1V547.0M331.5 541.0V546.1M333.5 544.7V548.0M335.5 546.4V549.8M336.5 543.3V548.2M337.5 544.4V547.6M338.5 543.4V546.7M341.5 543.9V547.7M342.5 541.1V546.4M343.5 539.5V544.4M344.5 538.2V543.9M346.5 538.1V541.1M347.5 534.7V539.6M348.5 535.2V537.9M350.5 535.0V537.9M351.5 533.6V538.8M352.5 532.7V536.5M353.5 531.3V534.2M355.5 529.5V539.1M356.5 528.7V533.0M359.5 532.5V535.5M362.5 534.5V537.4M364.5 532.2V538.1M366.5 535.9V540.5M367.5 533.5V539.7M369.5 535.2V542.6M370.5 533.4V538.4M371.5 530.0V535.1M372.5 525.6V532.5M373.5 518.3V530.6M374.5 517.0V522.3M376.5 516.9V523.1M380.5 515.7V520.5M381.5 511.6V520.0M382.5 508.0V514.1M383.5 504.5V513.1M384.5 502.9V508.4M386.5 503.8V507.5M387.5 502.0V506.5M391.5 506.7V510.2M392.5 505.1V510.8M393.5 505.6V509.1M394.5 503.8V510.2M397.5 504.2V510.1M398.5 503.4V505.6M400.5 500.3V505.7M401.5 500.6V504.7M402.5 499.6V503.5M403.5 498.8V502.8M404.5 495.5V501.1M409.5 495.4V500.7M412.5 500.3V507.1M413.5 501.9V503.8M415.5 499.6V503.6M416.5 493.4V502.0M417.5 485.3V497.4M418.5 478.3V489.7M419.5 474.3V482.7M421.5 479.8V482.0M423.5 476.0V482.3M425.5 474.9V479.5M429.5 475.8V481.2M430.5 474.4V479.8M432.5 476.8V479.7M433.5 474.3V478.5M434.5 470.6V478.2M435.5 471.1V476.1M436.5 471.7V476.5M437.5 472.7V478.1M438.5 468.5V474.7M439.5 463.8V472.1M441.5 459.6V467.8M442.5 457.0V462.3M443.5 457.5V459.3M452.5 480.3V483.4M453.5 479.0V484.9M454.5 477.0V481.0M455.5 475.4V479.0M456.5 473.1V479.9M457.5 469.7V477.4M459.5 471.7V476.0M460.5 469.8V473.9M461.5 471.1V473.2M462.5 467.1V473.2M463.5 466.9V471.1M466.5 468.4V473.8M469.5 468.3V473.8M470.5 466.9V471.8M472.5 467.8V472.4M474.5 464.1V471.2M476.5 464.3V471.9M480.5 468.2V472.4M481.5 464.9V471.5M482.5 461.7V471.2M483.5 456.7V468.1M484.5 453.0V461.3M485.5 448.0V454.8M486.5 446.3V451.5M491.5 447.6V453.9M494.5 450.7V454.1M499.5 451.8V457.9M500.5 446.2V454.3M501.5 441.2V449.6M503.5 437.9V447.4M504.5 437.5V444.6M505.5 435.5V439.9M506.5 434.2V437.6M507.5 434.1V436.6M508.5 431.8V437.3M509.5 430.2V436.2M510.5 426.2V434.1M511.5 425.9V432.3M512.5 425.5V430.7M515.5 428.2V431.0M516.5 425.9V433.1M517.5 421.6V427.3M518.5 421.6V427.1M519.5 418.2V424.3M521.5 415.9V421.3M525.5 420.5V427.3M527.5 420.8V424.9M528.5 418.2V423.0M529.5 417.1V421.6M530.5 416.5V423.1M531.5 414.6V419.9M537.5 427.2V432.1M539.5 430.3V434.6M541.5 429.6V434.0M542.5 428.7V431.4M543.5 424.3V431.4M545.5 424.0V428.7M546.5 422.1V427.9M547.5 419.3V425.4M549.5 419.3V424.4M551.5 418.3V423.6M556.5 426.3V428.3M557.5 425.5V428.7M559.5 425.2V430.3M560.5 423.0V429.8M564.5 424.5V430.0M566.5 428.0V433.4M568.5 429.5V433.7M572.5 432.9V437.9M574.5 436.5V442.0M576.5 431.6V439.8M577.5 430.1V434.7M578.5 427.7V433.7M579.5 423.5V430.6M581.5 427.0V432.1M582.5 424.7V430.2M585.5 426.8V432.0M586.5 426.4V429.8M589.5 421.8V430.7M590.5 423.1V427.8M591.5 422.3V426.4M594.5 423.8V426.9M595.5 422.5V426.7M597.5 424.0V425.8M599.5 424.9V430.3M600.5 423.7V430.5M601.5 422.3V431.9M604.5 420.7V432.0M606.5 423.6V430.3M608.5 422.5V431.7M609.5 425.3V428.1M611.5 432.4V436.9M613.5 429.6V438.0M614.5 420.8V432.7M616.5 423.6V430.2M617.5 422.3V427.5M620.5 424.5V426.4M621.5 418.2V427.1M622.5 415.4V426.9M623.5 412.0V423.1M625.5 406.7V415.7M627.5 408.5V411.6M628.5 405.6V412.4M630.5 409.3V413.4M631.5 407.0V414.0M632.5 402.1V413.7M634.5 406.3V412.6M635.5 406.9V410.1M636.5 397.8V412.9M639.5 402.3V405.6M641.5 401.8V406.8M643.5 400.7V404.9M645.5 399.5V404.1M646.5 397.9V401.7M651.5 400.9V409.5M652.5 403.1V406.4M653.5 401.1V405.5M661.5 412.5V418.2M662.5 414.2V417.7M667.5 413.7V420.1M668.5 411.5V416.2M669.5 409.0V415.3M670.5 407.8V413.6M671.5 403.9V412.3M672.5 404.3V408.5M679.5 414.0V421.9M682.5 418.6V424.8M683.5 417.5V420.1M685.5 415.8V425.7M686.5 416.4V419.6M687.5 414.1V419.4M688.5 409.5V417.1M694.5 414.2V418.2M696.5 413.7V417.8M697.5 408.2V417.5M699.5 409.3V414.0M700.5 408.2V412.7M703.5 406.6V413.6M704.5 401.0V411.0M706.5 408.0V413.0M707.5 405.5V412.1M708.5 407.3V413.1M709.5 405.0V411.0M710.5 401.4V410.3M711.5 400.7V407.3M713.5 400.1V406.8M715.5 402.1V406.5M716.5 397.6V405.6M718.5 397.2V402.1M720.5 396.7V402.6M722.5 397.8V402.0M724.5 398.1V402.5M725.5 395.4V403.0M728.5 393.5V403.6M729.5 384.1V397.4M730.5 387.8V393.4M731.5 384.8V391.5M732.5 381.0V388.9M733.5 383.0V387.4M734.5 382.7V389.6M735.5 381.6V385.9M736.5 381.6V387.1M739.5 380.8V384.7M741.5 374.3V385.4M744.5 374.4V383.3M746.5 375.1V383.8M748.5 376.9V381.4M749.5 373.7V380.4M750.5 372.2V384.5M751.5 371.4V377.3M753.5 369.0V375.8M754.5 362.6V374.0M755.5 358.4V364.4M756.5 354.9V360.3M757.5 355.2V359.4M759.5 358.4V362.9M761.5 358.8V366.8M763.5 360.8V368.0M765.5 358.7V366.4M768.5 364.6V367.9M771.5 368.7V372.5M772.5 369.3V374.7M774.5 367.3V372.0M775.5 366.2V371.7M776.5 363.9V369.7M777.5 365.0V368.7M778.5 360.8V367.1M780.5 357.7V365.4M782.5 367.5V369.9M790.5 381.7V391.0M791.5 382.7V387.5M792.5 380.9V386.1M793.5 378.3V385.2M794.5 377.1V384.9M795.5 374.7V383.2M798.5 375.0V382.1M799.5 373.3V379.4M800.5 372.0V379.1M802.5 372.6V376.6M808.5 380.4V385.8M809.5 379.3V386.9M810.5 379.1V385.1M811.5 377.4V385.2M812.5 376.2V380.5M813.5 375.3V382.2M817.5 373.7V379.9M818.5 374.3V378.9M820.5 372.1V377.4M822.5 376.1V381.6M824.5 375.5V379.2M825.5 373.7V379.3M826.5 372.7V376.8M827.5 371.1V378.2M828.5 369.2V375.5M829.5 367.0V373.5M830.5 364.0V373.5M831.5 362.5V371.8M836.5 365.8V369.2M837.5 362.4V368.1M839.5 363.0V369.9M840.5 360.4V366.3M841.5 354.8V363.6M842.5 347.5V359.5M843.5 347.6V353.4M845.5 345.5V353.7M848.5 343.7V350.4M849.5 340.2V348.0M850.5 336.6V343.2M853.5 336.0V342.9M855.5 338.3V342.0M856.5 332.2V340.5M859.5 332.8V339.6M861.5 330.9V336.9M862.5 325.0V334.3M863.5 325.5V331.7M864.5 322.0V327.6M865.5 320.9V326.0M867.5 315.9V326.6M872.5 348.1V352.6M873.5 339.6V351.1M874.5 335.2V345.7M875.5 333.3V339.2M876.5 332.7V338.4M877.5 327.2V337.5M878.5 328.3V333.1M879.5 325.1V330.7M880.5 324.2V330.9M882.5 324.6V332.1M884.5 323.1V330.0M885.5 319.6V327.6M886.5 320.2V326.6M887.5 319.8V323.3M891.5 317.6V326.2M892.5 314.5V324.7M893.5 307.1V320.7M894.5 304.3V311.6M901.5 317.9V322.7M904.5 321.2V328.2M905.5 318.1V328.0M910.5 322.2V329.1M911.5 316.9V326.3M914.5 320.8V329.7M915.5 319.3V325.9M917.5 310.2V324.6M918.5 315.6V320.2M919.5 310.8V320.4M920.5 305.8V319.2M924.5 329.9V335.9M925.5 322.3V334.3M926.5 320.8V327.6M927.5 320.2V328.3M928.5 318.7V325.4M930.5 322.1V324.5M933.5 328.4V333.6M934.5 327.8V332.5M935.5 328.0V333.3M936.5 327.1V332.9M937.5 322.5V330.1M938.5 312.8V328.1M941.5 318.5V323.9M942.5 316.1V320.3M943.5 313.1V320.3M944.5 306.6V316.8M945.5 308.8V318.1M947.5 305.4V312.3M949.5 305.9V311.5M950.5 302.1V310.4M951.5 301.5V309.6M953.5 299.2V307.2M954.5 294.8V302.5M955.5 291.2V298.8M956.5 292.9V298.8M957.5 287.5V295.3M958.5 286.2V289.4M959.5 284.0V291.3M960.5 282.0V290.1M963.5 282.0V288.7M966.5 285.2V292.3M967.5 283.1V289.2M968.5 282.3V284.7M969.5 276.6V283.8M971.5 273.0V280.2M973.5 268.9V277.2M979.5 273.5V279.6M980.5 266.0V281.6M981.5 267.9V272.6M986.5 277.9V282.9M987.5 271.1V283.1M988.5 265.1V275.0M990.5 260.8V271.6M992.5 267.5V276.5M993.5 261.4V270.6M995.5 263.5V272.4M996.5 264.7V267.7M997.5 259.8V272.1M998.5 255.7V265.0M999.5 260.3V267.2M1000.5 258.5V263.9M1001.5 254.5V261.0M1003.5 254.3V262.5M1004.5 248.6V259.6M1005.5 245.2V255.6M1006.5 242.8V251.0M1008.5 234.6V247.3M1009.5 236.4V244.5M1010.5 234.8V240.9M1012.5 234.5V238.7M1013.5 227.5V236.9M1014.5 221.8V235.1M1015.5 225.5V231.6M1016.5 219.9V230.7M1019.5 232.2V237.9M1024.5 239.2V255.3M1025.5 243.5V249.7M1026.5 233.2V247.1M1028.5 237.8V247.5M1029.5 238.3V243.8M1030.5 234.4V241.2M1032.5 234.0V244.4M1033.5 234.3V237.4M1035.5 232.8V239.4M1041.5 278.6V287.2M1042.5 273.7V288.2M1044.5 264.7V276.4M1045.5 262.0V268.9M1050.5 269.5V273.9M1051.5 264.0V276.6M1052.5 262.9V269.7M1053.5 258.9V267.5M1054.5 254.9V261.2M1055.5 249.7V259.1M1060.5 262.0V270.1M1061.5 256.8V268.6M1063.5 255.6V264.2M1064.5 247.7V261.2M1066.5 238.9V250.5M1067.5 238.1V247.2M1068.5 231.2V242.2M1069.5 227.8V239.3M1070.5 230.4V233.5M1071.5 222.1V233.7M1072.5 221.8V231.1M1075.5 222.6V232.1M1077.5 226.6V232.9M1078.5 223.1V231.4M1079.5 220.3V227.7M1080.5 218.6V225.0M1081.5 216.4V224.3M1082.5 211.2V220.9M1083.5 208.6V214.3M1084.5 207.5V215.1M1085.5 203.8V211.2M1086.5 202.5V209.5M1087.5 201.7V209.1M1088.5 197.1V204.8M1089.5 192.0V204.3M1090.5 191.3V202.1M1092.5 191.4V196.4M1093.5 185.3V195.1M1094.5 183.5V191.5M1095.5 179.5V189.5M1099.5 208.1V218.1M1100.5 201.4V213.6M1101.5 194.7V205.4M1102.5 192.5V203.0M1103.5 191.4V196.2M1105.5 193.6V204.8M1108.5 193.9V198.8M1109.5 188.1V198.0M1110.5 185.3V198.0M1111.5 178.0V189.0M1112.5 177.9V182.3M1113.5 175.8V182.0M1114.5 171.8V180.9M1115.5 170.7V174.3M1116.5 166.2V174.2M1117.5 169.3V173.4M1118.5 159.8V174.8M1120.5 162.1V170.2M1122.5 160.9V168.6M1123.5 154.5V164.6M1124.5 157.3V163.4M1130.5 166.8V173.1M1131.5 160.8V169.1M1133.5 161.6V165.7M1134.5 159.2V165.8M1135.5 159.9V168.5M1136.5 152.7V168.0M1138.5 147.6V155.2M1140.5 152.5V156.7M1141.5 148.8V155.0M1142.5 144.8V154.8M1143.5 141.7V147.9M1147.5 139.7V144.5M1149.5 140.8V148.3M1150.5 135.1V143.2M1151.5 134.4V140.2M1152.5 120.1V142.0M1153.5 122.4V129.6M1154.5 117.2V127.4M1155.5 113.8V129.7M1156.5 110.0V120.8M1157.5 105.8V117.5M1158.5 97.9V108.2M1159.5 80.5V106.8M1163.5 89.3V103.4M1164.5 87.7V100.0M1165.5 80.2V95.7M1179.5 140.9V158.6M1180.5 140.1V151.0M1181.5 138.6V147.0M1182.5 136.9V142.0M1184.5 132.6V146.3M1185.5 131.0V136.4M1187.5 129.5V141.7M1188.5 128.0V134.3M1192.5 140.9V152.9M1193.5 137.3V147.8M1194.5 131.6V146.4M1195.5 124.9V137.2M1196.5 107.3V135.1M1197.5 107.4V119.0M1198.5 98.4V114.3M1199.5 95.4V102.2M1200.5 91.6V103.2M1201.5 86.5V97.8M1202.5 84.2V94.6M1203.5 81.6V87.9M1204.5 77.5V87.7M1208.5 87.7V96.4M1209.5 88.6V93.7M1225.5 200.2V208.1M1226.5 191.7V203.6M1228.5 196.1V207.5M1232.5 221.8V231.7M1233.5 213.0V227.8M1234.5 197.4V219.1M1235.5 190.9V210.8M1236.5 189.1V198.6M1237.5 181.9V192.6M1243.5 231.3V245.6M1245.5 238.0V245.8M1246.5 222.2V239.7M1247.5 220.6V228.5M1248.5 200.7V223.0M1249.5 204.2V211.0M1253.5 210.9V220.3M1255.5 211.7V223.6M1256.5 207.1V216.6M1258.5 213.9V220.2M1259.5 208.9V216.7M1260.5 199.4V213.9M1261.5 196.2V204.8M1263.5 196.2V202.5M1264.5 198.3V201.9M1265.5 190.4V201.0M1266.5 187.6V197.5M1267.5 187.6V193.8M1268.5 184.1V194.4M1271.5 185.9V193.7M1273.5 192.1V201.2M1275.5 196.0V205.4M1278.5 191.8V202.5M1282.5 209.5V214.9M1287.5 222.3V234.5M1288.5 217.0V226.8M1289.5 212.7V218.9M1290.5 200.8V215.1M1291.5 195.2V209.6M1293.5 193.0V203.0M1303.5 222.2V237.4M1304.5 218.2V225.5M1305.5 211.3V226.6M1315.5 255.5V271.4M1316.5 253.4V267.5M1319.5 255.0V258.2M1320.5 254.0V259.4M1321.5 248.0V256.4M1332.5 294.1V309.6M1333.5 294.5V301.8M1334.5 285.3V301.9M1336.5 281.1V293.0M1337.5 280.7V286.5M1338.5 278.1V288.3M1339.5 272.3V283.6M1341.5 280.9V288.0M1343.5 275.3V290.8M1344.5 270.0V280.2M1345.5 265.7V281.7M1346.5 263.0V274.4M1348.5 269.4V281.1M1351.5 266.8V281.3M1352.5 263.0V271.7M1353.5 245.0V267.6M1354.5 236.7V247.9M1355.5 238.6V245.0M1358.5 240.4V252.3M1367.5 283.1V291.4M1369.5 276.2V285.7M1370.5 276.5V281.9M1371.5 270.9V280.5M1372.5 270.6V276.3M1373.5 267.3V276.4M1374.5 265.8V277.3M1375.5 258.5V274.3M1376.5 253.9V269.1M1378.5 259.2V261.0M1380.5 264.0V268.3M1382.5 257.2V269.5M1383.5 252.3V266.6M1384.5 251.1V258.2M1385.5 244.2V254.3M1386.5 247.0V252.4M1387.5 244.8V252.6M1388.5 242.5V248.8M1389.5 239.1V246.2M1390.5 241.5V244.2M1391.5 235.4V249.7M1396.5 255.1V262.5M1397.5 253.9V262.1M1398.5 251.1V260.1M1399.5 250.5V254.0M1400.5 244.3V255.5M1401.5 247.1V252.7M1402.5 242.5V252.2M1403.5 238.6V252.1M1410.5 255.8V273.6M1412.5 250.8V270.1M1415.5 252.1V264.0M1416.5 247.8V257.2M1418.5 248.0V258.9M1419.5 249.6V258.0M1420.5 243.9V252.5M1424.5 251.4V258.9M1425.5 244.3V258.2M1426.5 240.5V253.7M1427.5 242.2V248.4M1429.5 249.2V254.3M1432.5 250.3V259.1M1435.5 252.3V263.1M1436.5 257.0V260.6M1437.5 257.5V262.1M1438.5 255.6V263.8M1440.5 255.2V266.6M1446.5 260.8V271.4M1447.5 256.0V266.7M1452.5 283.7V287.8M1454.5 275.0V287.2M1455.5 275.6V285.9M1458.5 281.4V291.5M1459.5 275.8V287.7M1461.5 274.9V281.6M1463.5 273.4V282.2M1464.5 272.5V280.8M1466.5 266.1V277.5M1470.5 264.5V272.9M1471.5 265.7V271.6M1473.5 269.8V276.3M1474.5 266.6V273.8M1475.5 259.6V272.5M1477.5 260.8V268.5M1478.5 257.0V263.5M1480.5 262.1V265.6M1484.5 260.4V274.6M1486.5 263.5V268.5M1487.5 256.3V274.7M1490.5 257.8V264.7M1491.5 248.3V262.3M1492.5 248.9V258.4M1500.5 263.4V271.3M1503.5 268.3V274.5M1505.5 260.4V273.5M1507.5 263.8V270.4M1508.5 260.9V267.3M1510.5 256.1V265.8M1511.5 257.3V264.0M1512.5 257.4V260.6M1514.5 247.7V263.0M1518.5 257.9V263.3M1520.5 260.6V267.4M1522.5 253.1V268.2M1523.5 247.3V257.6M1524.5 244.4V256.8M1525.5 244.5V254.8M1526.5 242.6V251.3M1527.5 243.5V247.9M1528.5 234.3V249.8M1529.5 234.8V246.1M1530.5 226.7V243.5M1531.5 220.5V240.6M1532.5 218.9V224.2M1533.5 217.8V223.9M1534.5 215.8V221.2M1535.5 211.3V223.0M1537.5 211.9V222.0M1539.5 213.6V225.8M1542.5 214.9V219.7M1543.5 210.3V217.2M1544.5 207.6V215.8M1545.5 206.1V218.6M1546.5 200.9V212.8M1547.5 197.5V209.5M1548.5 192.4V204.4M1549.5 191.6V202.9M1550.5 191.7V203.8M1552.5 188.5V200.4M1553.5 184.0V197.1M1555.5 190.2V194.0M1556.5 185.1V193.4M1559.5 183.6V192.7M1563.5 186.7V200.3M1568.5 199.7V218.1M1569.5 187.3V201.5M1570.5 192.9V200.0M1571.5 185.6V196.8M1575.5 192.1V199.0M1579.5 195.1V206.4M1581.5 195.8V200.0M1584.5 189.5V199.9M1586.5 191.1V198.3M1588.5 180.9V197.1M1589.5 169.5V188.9M1590.5 161.2V181.0M1592.5 161.1V166.3M1593.5 151.3V165.2M1597.5 154.9V163.5M1600.5 155.1V167.9M1601.5 155.1V166.4M1602.5 149.6V162.4M1604.5 147.5V156.9M1605.5 141.9V150.3M1606.5 141.3V148.9M1609.5 139.8V147.6M1612.5 163.8V171.0M1613.5 159.7V168.8M1616.5 183.4V186.7M1617.5 170.2V188.7M1618.5 168.9V181.7M1620.5 163.4V173.1M1621.5 163.3V172.8M1622.5 151.7V168.4M1628.5 171.4V188.3M1629.5 171.4V176.0M1635.5 222.5V243.5M1636.5 213.8V229.5M1637.5 204.7V219.4M1642.5 214.5V219.2M1643.5 209.7V218.8M1645.5 208.0V214.7M1649.5 220.9V233.9M1650.5 217.0V231.1M1651.5 211.3V223.2M1655.5 217.1V228.2M1656.5 213.0V219.1M1659.5 217.6V227.4M1660.5 214.9V226.8M1664.5 240.5V252.1M1665.5 230.6V243.9M1670.5 244.6V252.6M1671.5 248.3V252.0M1674.5 241.6V257.8M1675.5 232.4V246.7M1677.5 232.1V239.9M1679.5 237.0V243.7M1680.5 220.6V243.9M1683.5 227.3V233.5M1684.5 222.0V235.6M1685.5 218.9V226.5M1686.5 218.4V228.5M1687.5 215.9V223.8M1690.5 221.8V227.4M1691.5 216.1V225.8M1692.5 210.4V223.2M1693.5 208.6V219.4M1694.5 205.7V214.5M1697.5 211.1V220.2M1698.5 202.4V216.0M1699.5 194.9V207.1M1702.5 199.3V205.9M1703.5 193.4V203.2M1707.5 221.1V231.2M1708.5 217.3V228.5M1710.5 217.5V222.8M1711.5 205.1V222.5M1712.5 209.5V215.1M1715.5 225.1V235.1M1716.5 214.1V228.8M1721.5 227.8V239.3M1722.5 223.2V231.6M1723.5 220.1V230.3M1724.5 218.9V226.8M1725.5 211.4V221.9M1726.5 206.6V216.2M1729.5 226.8V233.4M1730.5 219.2V230.2M1731.5 215.8V223.0M1734.5 216.0V219.7M1744.5 232.1V246.0M1745.5 230.7V237.8M1747.5 230.9V241.0M1748.5 221.8V235.1M1749.5 207.2V226.5M1750.5 211.7V215.1M1751.5 209.1V214.8M1754.5 209.5V220.8M1755.5 211.7V220.0M1758.5 221.0V231.6M1762.5 232.1V239.9M1763.5 227.6V237.0M1764.5 226.2V232.1M1766.5 222.6V230.9M1767.5 224.0V228.3M1768.5 222.3V226.5M1769.5 218.3V227.0M1770.5 211.6V222.6M1771.5 215.1V221.3M1772.5 208.9V221.2M1773.5 211.6V217.6M1774.5 208.0V216.2M1775.5 206.3V212.7M1776.5 195.6V209.8M1777.5 191.4V204.4M1778.5 191.1V195.7M1779.5 187.1V194.0M1780.5 180.8V192.0M1781.5 184.3V189.0M1782.5 180.5V188.6M1783.5 183.2V188.8M1786.5 178.2V188.2M1791.5 195.7V202.6M1792.5 191.7V201.9M1793.5 189.7V194.3M1794.5 182.6V193.2M1797.5 190.8V209.1M1798.5 182.8V196.5M1804.5 184.4V196.3M1805.5 185.2V191.2M1806.5 175.9V187.5M1808.5 179.2V182.2M1811.5 184.7V190.7M1812.5 176.0V188.6M1814.5 177.5V182.1M1815.5 175.0V179.4M1820.5 179.3V190.2M1821.5 175.8V183.4M1824.5 176.7V184.0M1825.5 176.9V181.1M1826.5 173.5V181.9M1831.5 185.0V191.0M1833.5 183.0V189.1M1834.5 180.1V187.3M1835.5 177.7V182.8M1836.5 177.8V181.7M1840.5 178.5V185.6M1842.5 179.5V183.1M1845.5 178.8V184.7M1847.5 181.3V187.1M1848.5 180.5V185.6M1849.5 176.4V183.4M1850.5 173.4V180.8M1851.5 166.8V176.8M1852.5 159.7V173.5M1859.5 175.6V189.3M1860.5 170.6V179.9M1861.5 170.3V178.5M1862.5 165.0V174.8M1863.5 158.5V168.2M1864.5 158.5V162.9M1865.5 153.6V161.8M1866.5 149.5V157.4M1867.5 150.0V154.4M1870.5 150.5V160.2M1871.5 143.2V157.7M1872.5 131.5V147.0M1877.5 142.2V156.2M1878.5 137.1V147.1M1879.5 133.9V141.4M1880.5 133.5V138.2M1882.5 131.0V137.0M1884.5 133.2V141.3M1887.5 147.5V154.2M1888.5 143.4V152.5M1889.5 139.8V148.6M1896.5 157.1V164.4M1897.5 155.9V161.9M1898.5 150.8V158.7M1899.5 146.2V153.2M1903.5 149.7V156.8M1910.5 167.3V179.9M1911.5 164.0V172.7M1912.5 160.0V167.8" stroke="#449782" stroke-width="1.25" fill="none"/><path d="M21.5 539.6V542.9M22.5 541.0V546.2M23.5 543.3V546.1M25.5 541.7V548.4M28.5 543.3V545.8M29.5 543.2V547.7M31.5 542.7V545.2M32.5 542.6V545.5M33.5 542.8V547.1M34.5 543.9V547.3M35.5 543.7V549.3M36.5 546.7V551.2M37.5 547.7V553.8M38.5 550.5V557.6M39.5 554.6V559.7M40.5 556.2V559.9M42.5 555.0V562.9M43.5 558.3V562.7M45.5 558.3V562.6M46.5 560.1V564.3M47.5 560.9V565.8M48.5 563.2V567.9M49.5 563.8V568.3M53.5 562.4V566.0M54.5 562.7V567.0M55.5 563.8V566.4M61.5 562.2V565.2M63.5 563.1V565.5M64.5 563.7V568.9M65.5 564.8V567.3M66.5 564.5V567.2M67.5 563.5V570.4M69.5 564.7V568.2M70.5 565.7V571.2M71.5 566.5V569.2M72.5 567.8V572.4M73.5 566.8V570.6M74.5 566.9V570.2M75.5 566.1V570.9M78.5 563.0V567.5M79.5 565.9V568.6M80.5 567.0V568.6M81.5 566.0V569.6M82.5 566.7V571.8M87.5 561.6V566.2M89.5 561.9V566.5M94.5 558.4V562.7M95.5 560.5V563.0M96.5 561.3V566.7M98.5 561.2V563.7M99.5 562.4V566.2M101.5 561.1V564.4M103.5 557.0V560.0M106.5 555.4V558.4M109.5 555.8V560.5M110.5 556.9V562.5M111.5 558.4V561.5M112.5 558.7V562.9M113.5 558.5V563.2M115.5 559.9V562.8M116.5 560.3V563.4M117.5 561.0V566.5M118.5 564.1V570.3M119.5 567.0V573.2M120.5 568.1V573.0M121.5 569.1V574.8M122.5 568.7V575.2M123.5 570.7V574.4M129.5 568.4V574.5M135.5 564.8V569.2M136.5 565.7V572.4M138.5 567.3V572.9M142.5 570.0V572.6M143.5 571.0V573.9M145.5 570.7V572.5M147.5 570.6V574.0M148.5 571.5V576.7M149.5 572.2V575.6M151.5 572.4V576.3M157.5 563.5V567.8M159.5 565.2V569.6M160.5 564.3V567.8M161.5 564.1V567.8M162.5 565.1V569.9M163.5 566.8V570.5M164.5 568.6V571.3M165.5 568.6V573.3M166.5 569.7V573.7M168.5 570.7V573.6M170.5 569.8V574.1M174.5 567.5V571.0M175.5 569.0V572.7M176.5 569.4V575.0M180.5 568.2V570.2M182.5 568.1V571.0M184.5 567.3V569.1M185.5 567.5V569.8M186.5 567.5V572.8M187.5 571.4V574.1M188.5 572.5V577.8M189.5 575.3V578.0M190.5 575.8V578.8M191.5 576.4V580.0M192.5 577.9V583.8M195.5 579.7V585.5M196.5 581.7V584.7M198.5 581.0V584.4M199.5 582.6V584.7M204.5 576.5V579.9M211.5 567.8V572.4M216.5 564.5V568.1M217.5 565.2V569.1M218.5 565.9V569.2M220.5 566.4V569.9M221.5 567.2V571.9M222.5 568.5V574.9M225.5 569.0V574.2M227.5 570.9V574.3M228.5 572.0V574.9M230.5 572.2V574.3M232.5 571.8V574.1M236.5 567.7V572.5M239.5 567.2V571.3M241.5 567.8V573.7M242.5 569.1V572.1M243.5 569.1V574.4M244.5 571.5V575.4M245.5 572.0V574.6M246.5 572.8V575.0M247.5 571.8V576.5M248.5 574.0V576.8M249.5 573.8V577.5M253.5 573.7V577.5M254.5 574.6V577.2M259.5 552.1V555.5M261.5 551.2V559.4M262.5 553.9V557.5M263.5 552.4V558.8M265.5 554.1V560.0M266.5 555.2V558.3M268.5 555.7V557.7M269.5 555.5V558.9M270.5 557.3V560.7M271.5 557.1V561.5M272.5 558.3V562.4M273.5 558.3V562.0M281.5 550.8V555.8M282.5 553.4V555.8M283.5 550.9V558.5M285.5 554.6V558.2M286.5 554.3V560.5M288.5 555.6V559.5M291.5 549.4V557.1M292.5 549.2V556.4M295.5 551.9V557.4M300.5 547.7V554.2M306.5 542.7V548.2M308.5 543.6V546.9M309.5 544.8V548.2M311.5 544.2V549.1M312.5 545.1V549.4M313.5 546.2V548.9M314.5 546.8V550.0M315.5 547.9V553.5M316.5 550.2V554.5M317.5 551.4V555.1M318.5 551.4V555.8M321.5 548.3V557.3M325.5 546.5V550.2M326.5 548.6V552.4M329.5 540.0V545.4M330.5 542.7V546.7M332.5 539.8V547.9M334.5 544.8V549.2M339.5 543.1V549.0M340.5 544.1V547.0M345.5 537.1V541.2M349.5 534.0V538.4M354.5 528.2V535.4M357.5 528.0V535.3M358.5 530.2V534.8M360.5 532.7V539.3M361.5 534.5V537.6M363.5 532.7V539.8M365.5 533.7V540.4M368.5 533.3V542.5M375.5 517.3V520.1M377.5 517.2V520.2M378.5 517.9V520.9M379.5 517.2V520.5M385.5 502.7V506.6M388.5 501.0V508.8M389.5 504.9V508.9M390.5 506.2V511.8M395.5 504.4V508.9M396.5 505.2V508.5M399.5 502.9V507.5M405.5 495.6V502.0M406.5 495.9V500.3M407.5 497.9V503.0M408.5 496.9V502.3M410.5 495.4V504.2M411.5 499.6V504.7M414.5 500.0V504.0M420.5 475.2V482.6M422.5 477.8V483.3M424.5 476.4V478.1M426.5 475.4V478.8M427.5 476.2V481.2M428.5 478.6V482.1M431.5 474.4V479.6M440.5 464.1V467.6M444.5 456.6V462.7M445.5 457.8V464.2M446.5 459.2V466.7M447.5 463.0V467.7M448.5 463.3V469.3M449.5 465.2V477.3M450.5 472.6V480.5M451.5 477.8V484.1M458.5 471.9V477.0M464.5 466.5V473.5M465.5 469.0V473.7M467.5 469.0V474.9M468.5 468.4V473.9M471.5 468.3V473.3M473.5 467.5V471.3M475.5 466.9V471.5M477.5 463.2V470.1M478.5 466.0V471.9M479.5 466.9V472.1M487.5 447.0V452.4M488.5 448.1V452.1M489.5 449.5V453.9M490.5 450.2V454.3M492.5 445.6V452.9M493.5 449.2V455.9M495.5 450.2V453.8M496.5 450.4V454.7M497.5 451.8V455.4M498.5 453.7V456.5M502.5 442.8V447.4M513.5 424.8V430.4M514.5 428.0V431.4M520.5 419.2V422.4M522.5 414.8V421.7M523.5 416.7V424.7M524.5 423.2V425.2M526.5 420.8V425.9M532.5 414.9V420.1M533.5 416.6V426.0M534.5 422.2V429.3M535.5 425.5V428.4M536.5 426.7V431.7M538.5 427.6V434.3M540.5 430.1V434.1M544.5 422.7V428.3M548.5 420.9V424.3M550.5 420.5V426.4M552.5 419.6V422.0M553.5 420.0V422.3M554.5 420.8V428.3M555.5 421.7V429.6M558.5 424.8V430.3M561.5 424.6V431.6M562.5 426.3V430.2M563.5 426.6V429.1M565.5 426.3V431.4M567.5 427.8V434.7M569.5 429.1V434.7M570.5 430.9V438.0M571.5 431.9V438.4M573.5 432.8V439.6M575.5 435.6V440.9M580.5 423.5V431.0M583.5 425.2V430.8M584.5 426.4V431.6M587.5 426.2V430.7M588.5 426.5V429.3M592.5 420.5V425.5M593.5 421.6V426.5M596.5 423.3V426.9M598.5 423.3V431.0M602.5 423.9V426.3M603.5 424.1V427.5M605.5 421.6V426.9M607.5 424.7V433.3M610.5 425.1V435.0M612.5 429.9V435.2M615.5 425.5V432.2M618.5 422.7V426.9M619.5 424.4V427.3M624.5 410.7V416.8M626.5 406.4V411.7M629.5 408.0V414.5M633.5 402.1V412.4M637.5 401.2V405.8M638.5 403.1V405.8M640.5 400.8V404.7M642.5 401.0V405.7M644.5 398.5V404.0M647.5 397.0V405.5M648.5 399.7V405.2M649.5 403.6V408.0M650.5 404.0V406.8M654.5 398.6V406.0M655.5 402.1V407.6M656.5 404.3V410.5M657.5 404.6V411.7M658.5 404.4V413.0M659.5 407.9V417.1M660.5 411.9V420.3M663.5 413.9V416.4M664.5 410.5V417.1M665.5 414.5V418.3M666.5 415.5V421.4M673.5 404.3V413.2M674.5 406.2V412.1M675.5 405.6V415.9M676.5 409.9V417.5M677.5 410.8V422.2M678.5 414.4V422.7M680.5 415.1V422.4M681.5 419.9V424.0M684.5 417.9V424.4M689.5 408.5V412.7M690.5 410.7V415.8M691.5 411.6V418.9M692.5 415.1V417.8M693.5 415.2V417.9M695.5 414.6V417.7M698.5 407.8V415.0M701.5 407.6V414.3M702.5 411.1V413.7M705.5 406.6V411.7M712.5 398.3V403.8M714.5 400.3V403.9M717.5 396.8V404.0M719.5 398.1V402.9M721.5 397.5V405.2M723.5 396.2V403.1M726.5 397.2V404.0M727.5 398.1V400.5M737.5 378.9V385.0M738.5 381.5V388.5M740.5 379.8V386.7M742.5 374.5V381.7M743.5 377.6V380.6M745.5 376.1V383.2M747.5 375.2V380.7M752.5 372.4V375.1M758.5 353.4V364.0M760.5 358.8V370.3M762.5 360.8V367.6M764.5 360.9V370.5M766.5 361.7V367.9M767.5 364.8V371.8M769.5 364.1V370.7M770.5 368.1V373.1M773.5 368.9V373.3M779.5 360.2V366.8M781.5 359.9V369.5M783.5 365.6V372.6M784.5 368.6V375.1M785.5 372.1V378.1M786.5 375.9V379.3M787.5 375.3V387.5M788.5 383.6V386.5M789.5 382.9V392.5M796.5 376.5V384.0M797.5 378.7V383.3M801.5 372.6V379.2M803.5 372.1V378.3M804.5 374.7V381.6M805.5 378.1V384.7M806.5 379.7V388.5M807.5 384.4V385.7M814.5 374.5V379.5M815.5 373.4V379.2M816.5 372.8V380.4M819.5 375.3V377.8M821.5 372.8V380.3M823.5 375.4V379.2M832.5 361.7V366.9M833.5 363.2V367.9M834.5 363.0V369.4M835.5 366.2V371.0M838.5 364.2V371.1M844.5 347.0V351.9M846.5 342.7V350.8M847.5 346.2V352.6M851.5 336.8V343.0M852.5 337.6V347.0M854.5 337.0V341.6M857.5 332.8V337.5M858.5 335.7V339.7M860.5 330.3V337.2M866.5 321.1V329.7M868.5 318.0V324.3M869.5 321.0V333.3M870.5 328.9V344.5M871.5 339.9V355.2M881.5 326.2V328.7M883.5 321.9V327.7M888.5 319.3V322.2M889.5 318.1V324.6M890.5 321.4V324.9M895.5 305.8V310.2M896.5 302.5V312.7M897.5 310.7V316.1M898.5 313.2V319.3M899.5 313.7V322.8M900.5 317.4V324.2M902.5 315.1V325.2M903.5 321.6V329.9M906.5 319.8V323.2M907.5 315.6V323.9M908.5 322.0V326.0M909.5 321.6V330.0M912.5 318.4V323.8M913.5 320.7V326.7M916.5 321.1V322.9M921.5 308.6V311.5M922.5 308.5V326.5M923.5 319.5V337.3M929.5 315.9V331.7M931.5 321.6V328.5M932.5 325.9V335.4M939.5 311.8V324.7M940.5 319.8V325.1M946.5 308.9V313.1M948.5 303.0V313.4M952.5 301.6V308.1M961.5 280.9V286.3M962.5 281.5V287.4M964.5 274.9V288.9M965.5 279.2V289.3M970.5 276.8V280.9M972.5 274.0V277.1M974.5 267.2V275.5M975.5 269.5V274.5M976.5 268.5V276.3M977.5 269.0V280.5M978.5 274.9V282.7M982.5 265.4V270.8M983.5 269.1V281.0M984.5 267.5V279.7M985.5 274.8V287.3M989.5 263.2V271.9M991.5 260.5V274.4M994.5 256.8V274.8M1002.5 254.6V262.6M1007.5 240.6V245.3M1011.5 232.9V239.1M1017.5 222.2V231.4M1018.5 229.4V239.0M1020.5 230.9V236.5M1021.5 232.2V246.9M1022.5 241.2V249.7M1023.5 245.6V253.5M1027.5 238.0V246.5M1031.5 236.3V247.3M1034.5 233.1V240.8M1036.5 229.1V238.7M1037.5 231.0V251.0M1038.5 244.1V263.0M1039.5 257.4V274.6M1040.5 270.5V286.1M1043.5 273.0V279.2M1046.5 262.8V266.7M1047.5 263.4V269.6M1048.5 264.7V273.3M1049.5 270.1V275.4M1056.5 250.7V260.5M1057.5 255.0V262.2M1058.5 259.4V268.2M1059.5 263.7V267.9M1062.5 260.0V264.8M1065.5 243.6V250.2M1073.5 221.7V228.3M1074.5 225.3V230.3M1076.5 224.0V231.3M1091.5 192.7V195.6M1096.5 178.7V183.1M1097.5 179.3V196.9M1098.5 188.4V215.7M1104.5 191.6V198.3M1106.5 195.5V201.0M1107.5 196.4V201.8M1119.5 163.4V170.9M1121.5 162.6V171.8M1125.5 155.8V166.2M1126.5 160.1V170.1M1127.5 166.5V172.2M1128.5 163.9V173.7M1129.5 167.8V174.4M1132.5 162.1V167.3M1137.5 147.9V154.9M1139.5 148.2V156.2M1144.5 138.3V144.3M1145.5 139.2V146.4M1146.5 140.1V145.4M1148.5 139.0V144.9M1160.5 81.1V94.1M1161.5 87.1V94.0M1162.5 85.9V104.3M1166.5 78.2V86.2M1167.5 75.6V88.1M1168.5 81.9V93.6M1169.5 86.7V101.0M1170.5 92.8V105.8M1171.5 99.9V112.3M1172.5 102.4V111.2M1173.5 103.2V109.3M1174.5 107.8V121.6M1175.5 116.3V128.3M1176.5 122.9V137.7M1177.5 130.7V148.2M1178.5 143.8V154.6M1183.5 132.4V147.0M1186.5 131.4V134.8M1189.5 126.4V139.6M1190.5 133.0V146.3M1191.5 136.0V148.2M1205.5 75.5V82.5M1206.5 76.1V91.2M1207.5 82.6V95.8M1210.5 86.4V97.8M1211.5 95.1V99.8M1212.5 95.7V104.2M1213.5 94.0V114.5M1214.5 109.0V121.3M1215.5 116.6V127.5M1216.5 121.5V133.8M1217.5 127.6V138.0M1218.5 129.4V149.1M1219.5 138.3V153.2M1220.5 146.0V168.1M1221.5 162.3V187.3M1222.5 181.8V197.0M1223.5 188.5V203.1M1224.5 199.5V204.5M1227.5 194.2V204.2M1229.5 198.9V206.1M1230.5 196.4V224.6M1231.5 219.6V233.1M1238.5 184.5V200.7M1239.5 195.1V216.3M1240.5 202.9V224.0M1241.5 219.9V236.7M1242.5 227.5V240.5M1244.5 231.6V245.9M1250.5 202.1V215.7M1251.5 208.2V215.8M1252.5 211.3V224.4M1254.5 215.3V221.9M1257.5 211.3V220.1M1262.5 194.0V207.6M1269.5 187.5V195.5M1270.5 187.1V197.5M1272.5 188.9V201.3M1274.5 193.6V203.2M1276.5 192.3V203.8M1277.5 197.9V201.8M1279.5 196.0V201.5M1280.5 194.8V218.7M1281.5 202.8V216.9M1283.5 206.8V219.4M1284.5 214.3V228.2M1285.5 218.0V231.7M1286.5 222.5V229.0M1292.5 197.0V207.3M1294.5 195.3V205.0M1295.5 197.7V205.8M1296.5 200.4V211.6M1297.5 203.0V217.2M1298.5 211.7V217.0M1299.5 212.4V221.7M1300.5 215.4V222.0M1301.5 219.2V229.4M1302.5 219.3V228.8M1306.5 214.6V230.0M1307.5 222.0V230.2M1308.5 221.2V237.8M1309.5 231.5V249.0M1310.5 244.6V251.6M1311.5 249.9V255.4M1312.5 251.8V263.2M1313.5 257.7V270.3M1314.5 262.2V276.8M1317.5 250.6V260.6M1318.5 255.6V260.5M1322.5 247.8V252.2M1323.5 245.6V252.7M1324.5 249.7V258.1M1325.5 255.3V260.0M1326.5 255.5V266.1M1327.5 257.7V278.3M1328.5 271.1V283.4M1329.5 279.2V295.1M1330.5 289.3V299.3M1331.5 290.1V310.2M1335.5 287.7V300.0M1340.5 268.4V284.7M1342.5 280.6V291.4M1347.5 265.4V274.1M1349.5 264.2V277.5M1350.5 264.4V276.3M1356.5 237.7V247.4M1357.5 241.0V249.2M1359.5 242.6V246.4M1360.5 243.8V251.0M1361.5 245.8V256.7M1362.5 252.1V261.6M1363.5 258.9V268.9M1364.5 263.2V276.8M1365.5 274.1V284.8M1366.5 281.0V289.8M1368.5 279.5V286.8M1377.5 257.8V264.0M1379.5 258.7V270.6M1381.5 264.0V270.8M1392.5 239.9V251.4M1393.5 246.3V252.3M1394.5 247.4V258.0M1395.5 251.4V261.4M1404.5 240.4V250.0M1405.5 245.2V250.9M1406.5 244.1V256.5M1407.5 254.0V260.5M1408.5 257.8V263.6M1409.5 253.8V269.6M1411.5 258.2V263.7M1413.5 249.7V256.5M1414.5 251.9V259.4M1417.5 247.7V254.9M1421.5 239.8V257.5M1422.5 249.2V259.0M1423.5 252.7V256.5M1428.5 243.0V252.2M1430.5 248.5V260.6M1431.5 252.4V262.1M1433.5 251.2V261.0M1434.5 249.6V262.0M1439.5 253.7V265.5M1441.5 258.1V268.1M1442.5 260.7V269.1M1443.5 262.1V267.1M1444.5 261.9V273.3M1445.5 263.2V269.9M1448.5 255.1V265.9M1449.5 260.2V274.6M1450.5 269.5V287.8M1451.5 279.5V291.2M1453.5 283.6V288.3M1456.5 270.3V283.3M1457.5 279.5V290.0M1460.5 277.3V281.9M1462.5 270.8V279.4M1465.5 270.8V276.4M1467.5 267.0V272.4M1468.5 270.4V273.0M1469.5 267.5V276.0M1472.5 266.0V275.1M1476.5 258.4V269.0M1479.5 259.2V266.2M1481.5 258.8V270.5M1482.5 267.2V273.9M1483.5 269.1V277.6M1485.5 263.7V269.9M1488.5 255.3V262.3M1489.5 254.8V264.4M1493.5 246.4V254.9M1494.5 249.4V256.3M1495.5 252.0V259.1M1496.5 256.3V260.3M1497.5 256.4V265.1M1498.5 255.1V265.8M1499.5 255.4V270.2M1501.5 264.3V267.9M1502.5 264.9V275.1M1504.5 268.0V272.3M1506.5 258.6V271.2M1509.5 260.7V264.9M1513.5 252.3V265.3M1515.5 244.0V252.7M1516.5 248.7V257.2M1517.5 248.5V266.9M1519.5 258.1V265.0M1521.5 261.8V267.2M1536.5 213.6V222.7M1538.5 212.1V224.4M1540.5 210.2V218.6M1541.5 216.7V220.6M1551.5 191.0V197.5M1554.5 188.1V198.1M1557.5 185.1V192.8M1558.5 184.1V198.9M1560.5 179.3V189.5M1561.5 184.9V197.4M1562.5 187.8V198.7M1564.5 191.8V196.3M1565.5 191.1V199.8M1566.5 189.9V208.5M1567.5 202.4V212.3M1572.5 186.9V194.4M1573.5 188.4V192.0M1574.5 190.4V197.6M1576.5 192.1V201.3M1577.5 193.2V200.3M1578.5 189.7V201.5M1580.5 195.5V202.7M1582.5 192.2V201.1M1583.5 190.4V208.5M1585.5 192.4V199.9M1587.5 191.1V196.7M1591.5 160.4V164.8M1594.5 152.4V156.4M1595.5 150.3V161.8M1596.5 155.1V163.0M1598.5 156.1V167.4M1599.5 159.2V168.0M1603.5 149.2V154.0M1607.5 139.8V147.4M1608.5 142.1V147.6M1610.5 140.6V154.3M1611.5 147.6V173.0M1614.5 161.6V174.0M1615.5 167.3V187.7M1619.5 169.2V172.9M1623.5 155.4V158.1M1624.5 153.0V160.6M1625.5 156.7V167.9M1626.5 157.4V175.4M1627.5 167.2V180.9M1630.5 170.5V182.4M1631.5 175.7V189.7M1632.5 186.7V209.9M1633.5 201.9V227.2M1634.5 222.3V243.0M1638.5 207.6V214.2M1639.5 207.6V214.0M1640.5 210.6V219.2M1641.5 208.7V221.0M1644.5 208.5V215.6M1646.5 208.0V219.9M1647.5 215.7V233.1M1648.5 227.4V233.0M1652.5 213.2V217.5M1653.5 215.8V222.9M1654.5 218.4V224.8M1657.5 213.5V224.4M1658.5 217.3V234.4M1661.5 213.9V233.5M1662.5 228.4V239.4M1663.5 237.8V252.8M1666.5 227.5V240.4M1667.5 232.0V244.4M1668.5 240.2V249.7M1669.5 244.9V256.1M1672.5 246.0V254.7M1673.5 250.0V257.5M1676.5 234.6V239.9M1678.5 230.5V243.2M1681.5 219.6V226.6M1682.5 221.1V233.7M1688.5 217.6V225.4M1689.5 220.4V225.4M1695.5 208.2V224.2M1696.5 215.9V221.8M1700.5 198.7V203.2M1701.5 197.1V201.5M1704.5 197.4V201.2M1705.5 193.1V213.5M1706.5 203.3V232.9M1709.5 214.9V223.1M1713.5 209.2V230.7M1714.5 221.9V233.9M1717.5 213.6V223.9M1718.5 219.5V224.4M1719.5 220.6V230.9M1720.5 226.9V238.6M1727.5 205.8V223.3M1728.5 220.6V231.3M1732.5 214.0V220.8M1733.5 214.7V220.6M1735.5 215.4V220.4M1736.5 216.7V225.4M1737.5 223.5V228.3M1738.5 224.4V231.8M1739.5 227.1V242.5M1740.5 231.8V238.1M1741.5 232.8V241.9M1742.5 237.8V246.0M1743.5 236.0V244.6M1746.5 230.2V245.1M1752.5 207.4V217.4M1753.5 211.2V223.6M1756.5 212.4V233.5M1757.5 229.1V232.1M1759.5 220.4V230.9M1760.5 225.4V238.0M1761.5 230.7V239.3M1765.5 224.9V229.1M1784.5 178.2V190.6M1785.5 183.9V188.6M1787.5 183.6V192.0M1788.5 183.2V198.5M1789.5 192.5V201.9M1790.5 197.4V205.8M1795.5 184.6V199.7M1796.5 196.8V205.9M1799.5 183.5V188.1M1800.5 183.0V193.8M1801.5 188.8V194.5M1802.5 189.5V198.0M1803.5 187.5V201.2M1807.5 172.8V182.7M1809.5 179.2V186.4M1810.5 179.5V186.7M1813.5 179.0V180.4M1816.5 174.2V180.6M1817.5 174.8V184.3M1818.5 179.2V189.0M1819.5 185.0V191.8M1822.5 175.7V183.8M1823.5 178.0V186.1M1827.5 176.3V184.6M1828.5 177.6V184.6M1829.5 178.6V187.9M1830.5 185.5V192.1M1832.5 183.3V188.7M1837.5 176.8V186.0M1838.5 178.8V185.3M1839.5 177.8V185.5M1841.5 175.5V183.5M1843.5 174.2V184.6M1844.5 178.6V182.8M1846.5 179.7V188.7M1853.5 162.7V168.9M1854.5 165.5V177.2M1855.5 171.6V176.9M1856.5 170.7V183.7M1857.5 178.2V182.5M1858.5 177.5V183.8M1868.5 150.1V160.6M1869.5 153.5V162.4M1873.5 129.3V142.1M1874.5 135.9V150.2M1875.5 144.7V152.4M1876.5 148.1V154.9M1881.5 132.5V136.9M1883.5 131.4V136.0M1885.5 133.1V144.3M1886.5 139.1V153.7M1890.5 140.4V145.4M1891.5 139.7V147.1M1892.5 141.6V150.2M1893.5 148.4V151.8M1894.5 148.4V159.3M1895.5 155.2V167.0M1900.5 147.0V156.7M1901.5 148.6V154.4M1902.5 149.0V157.9M1904.5 151.2V159.0M1905.5 154.5V162.8M1906.5 157.1V167.2M1907.5 162.6V173.5M1908.5 168.2V179.9M1909.5 174.6V178.3M1913.5 162.0V169.8" stroke="#df484c" stroke-width="1.25" fill="none"/><path d="M20 952H1915 M20 1218.5H1915" stroke="#797b85" stroke-width="6" fill="none"/><path d="M20.0,888.7 21.1,891.3 22.3,893.1 23.4,892.6 24.6,892.1 25.7,892.1 26.8,894.2 28.0,894.2 29.1,894.4 30.3,897.7 31.4,899.7 32.5,902.4 33.7,902.8 34.8,905.4 36.0,907.5 37.1,907.7 38.2,911.6 39.4,914.0 40.5,915.6 41.6,919.9 42.7,921.8 43.8,926.1 44.9,928.2 46.0,931.7 47.1,933.3 48.2,936.2 49.3,938.7 50.5,939.8 51.6,940.2 52.8,939.6 53.9,942.0 55.0,943.1 56.2,945.1 57.3,945.9 58.5,946.4 59.6,948.4 60.7,949.8 61.8,951.8 62.9,951.3 64.0,952.9 65.1,954.3 66.2,956.7 67.2,959.0 68.3,961.1 69.4,962.9 70.4,963.6 71.5,963.3 72.6,966.9 73.6,964.9 74.7,964.3 75.8,960.4 76.8,959.1 77.9,959.6 79.0,956.7 80.0,954.5 81.1,952.1 82.2,952.1 83.2,952.2 84.3,950.7 85.4,949.0 86.4,945.4 87.4,944.2 88.5,942.8 89.5,938.7 90.5,936.2 91.6,935.6 92.6,938.7 93.7,937.3 94.8,939.6 95.9,940.0 96.9,942.6 98.0,943.3 99.1,945.0 100.2,948.2 101.3,948.9 102.4,951.0 103.5,950.8 104.6,951.5 105.7,953.0 106.8,951.1 107.9,953.6 109.0,955.7 110.1,955.4 111.2,958.1 112.3,959.2 113.4,959.0 114.4,962.5 115.5,964.6 116.6,967.4 117.6,970.4 118.7,973.3 119.8,973.7 120.9,973.1 121.9,973.2 123.0,970.4 124.1,973.1 125.1,972.1 126.2,971.6 127.3,969.4 128.3,968.4 129.4,968.4 130.5,970.8 131.5,968.2 132.6,971.3 133.6,974.4 134.6,976.6 135.6,980.9 136.7,984.9 137.7,988.0 138.8,988.5 139.9,991.6 140.9,993.7 142.0,996.3 143.1,1000.3 144.1,1000.8 145.1,1001.6 146.2,1002.8 147.2,1003.3 148.2,1001.5 149.2,999.6 150.3,994.8 151.3,993.8 152.3,994.4 153.3,990.0 154.4,987.7 155.4,986.0 156.4,983.9 157.4,981.8 158.5,979.7 159.5,982.1 160.6,983.8 161.7,983.8 162.7,985.4 163.8,987.1 164.9,987.4 166.2,993.2 167.4,998.1 168.7,1001.5 169.7,1000.2 170.8,1000.5 171.8,1002.4 172.8,1003.1 173.8,1001.5 174.9,1000.3 176.0,1000.3 177.1,1001.5 178.2,1001.1 179.3,997.9 180.4,997.1 181.5,996.4 182.6,994.6 183.6,996.4 184.6,997.0 185.6,998.6 186.7,997.7 187.7,1002.5 188.7,1006.1 189.7,1007.0 190.8,1008.6 191.8,1013.1 192.9,1016.7 193.9,1016.8 195.0,1015.4 196.1,1017.3 197.1,1020.2 198.2,1019.5 199.2,1018.5 200.3,1015.4 201.3,1015.5 202.3,1013.8 203.3,1010.5 204.4,1010.5 205.4,1005.9 206.4,1002.1 207.4,1002.3 208.5,997.7 209.5,998.6 210.6,995.1 211.7,991.6 212.7,990.5 213.8,989.2 214.9,987.4 216.0,986.9 217.1,988.0 218.2,983.9 219.3,984.4 220.4,984.7 221.5,987.2 222.6,984.9 223.6,983.0 224.7,981.4 225.8,980.8 226.8,981.7 227.9,981.2 229.0,979.7 230.3,970.3 231.5,961.3 232.8,951.5 233.8,954.2 234.9,953.8 235.9,956.1 236.9,955.0 237.9,956.7 239.0,958.6 240.0,958.9 241.0,960.1 242.1,962.0 243.1,961.8 244.1,964.1 245.1,964.7 246.2,967.1 247.2,967.1 248.2,969.5 249.5,971.4 250.8,972.5 252.1,974.6 253.1,967.6 254.1,959.7 255.1,955.1 256.2,949.8 257.2,943.8 258.2,944.9 259.2,944.2 260.3,944.1 261.3,942.7 262.3,942.6 263.3,941.9 264.4,944.7 265.4,944.7 266.4,945.8 267.4,947.7 268.5,949.5 269.5,947.9 270.5,951.5 271.5,949.8 272.6,950.3 273.6,949.0 274.6,945.4 275.6,942.3 276.7,941.4 277.7,936.2 278.7,934.3 279.7,928.2 280.8,925.3 281.8,924.7 282.8,920.8 283.9,918.3 285.0,916.6 286.0,915.5 287.1,915.4 288.2,914.0 289.2,911.8 290.3,913.1 291.3,916.4 292.3,916.9 293.3,918.5 294.4,920.8 295.6,927.1 296.9,932.0 298.2,937.4 299.5,931.3 300.8,928.1 302.1,920.8 303.3,913.5 304.6,902.8 305.7,903.6 306.8,901.6 307.8,901.0 308.9,900.2 310.0,898.9 311.0,897.7 312.1,902.0 313.2,903.7 314.2,901.4 315.3,906.3 316.4,907.7 317.4,907.9 318.5,907.5 319.6,908.5 320.6,908.6 321.7,908.0 322.8,906.6 323.8,905.4 324.9,905.3 326.0,903.1 327.1,900.5 328.2,899.1 329.3,898.4 330.4,897.9 331.5,896.4 332.6,896.4 333.7,898.0 334.7,898.3 335.8,899.4 336.9,901.4 337.9,900.3 339.0,900.0 340.1,898.0 341.2,895.8 342.2,896.1 343.3,897.3 344.4,895.1 345.4,893.0 346.4,890.2 347.4,886.8 348.5,884.5 349.5,879.7 350.5,876.6 351.5,873.4 352.6,873.4 353.6,870.2 354.6,868.2 355.7,871.0 356.8,871.4 357.8,875.9 358.9,877.4 360.0,877.7 361.0,879.7 362.1,881.0 363.2,879.1 364.2,879.2 365.3,880.2 366.4,880.9 367.4,881.0 368.5,880.2 369.6,878.2 370.6,876.9 371.7,877.4 372.8,875.9 373.8,873.3 374.9,874.4 376.0,869.4 377.1,869.6 378.1,869.7 379.2,869.4 380.3,866.9 381.3,866.2 382.4,866.7 383.5,865.6 384.5,865.8 385.6,862.2 386.7,864.4 387.7,865.2 388.7,869.2 389.7,871.7 390.8,873.9 391.8,874.6 392.8,875.7 393.8,875.4 394.9,876.3 395.9,876.6 396.9,877.2 397.9,878.2 399.0,876.8 400.0,872.1 401.0,873.5 402.1,872.1 403.3,872.1 404.6,872.7 405.9,874.6 407.2,878.8 408.5,882.7 409.7,887.4 410.8,884.2 411.8,882.5 412.8,882.0 413.8,877.5 414.9,874.6 415.9,871.1 416.9,870.0 417.9,866.0 419.0,863.1 420.0,861.8 421.0,862.4 422.1,863.1 423.1,862.7 424.1,862.6 425.1,864.4 426.2,864.5 427.3,865.1 428.3,866.6 429.4,867.7 430.5,868.5 431.5,868.2 432.6,866.1 433.6,864.0 434.6,864.8 435.6,863.2 436.7,861.8 437.9,857.4 439.2,855.1 440.5,852.8 441.6,853.3 442.6,855.4 443.7,856.3 444.8,859.8 445.9,863.6 446.9,864.4 448.0,866.0 449.1,866.4 450.1,869.8 451.2,873.7 452.3,872.2 453.3,874.6 454.4,876.0 455.5,875.2 456.5,874.5 457.6,871.4 458.7,872.5 459.7,873.3 460.8,876.7 461.9,877.4 462.9,877.0 464.0,877.5 465.1,877.1 466.2,881.0 467.2,881.4 468.3,880.7 469.4,878.7 470.4,881.2 471.5,878.2 472.6,879.7 473.6,882.0 474.7,884.8 475.8,887.8 476.8,889.8 477.9,893.3 479.0,893.8 480.0,889.8 481.0,885.3 482.1,880.2 483.1,876.9 484.1,874.6 485.1,874.3 486.2,873.7 487.2,872.6 488.2,870.8 489.2,866.9 490.3,868.6 491.3,871.9 492.3,877.9 493.3,879.7 494.4,881.0 495.6,884.5 496.9,884.8 498.2,890.0 499.2,886.7 500.3,885.3 501.3,886.7 502.3,887.0 503.3,884.9 504.4,882.4 505.5,877.8 506.5,876.1 507.6,873.9 508.7,872.2 509.7,866.9 510.8,870.0 511.8,870.4 512.8,870.6 513.8,872.0 514.9,874.6 515.9,875.7 516.9,875.4 517.9,877.6 519.0,877.2 520.0,875.9 521.1,877.8 522.1,879.8 523.2,880.5 524.3,882.0 525.3,885.4 526.4,887.4 527.5,887.9 528.5,890.9 529.6,890.9 530.7,893.4 531.8,893.4 532.8,893.8 533.9,896.4 535.0,894.7 536.1,898.6 537.2,899.0 538.3,897.8 539.4,900.8 540.5,902.8 541.6,900.5 542.7,900.0 543.8,900.8 544.9,901.7 546.0,901.2 547.1,900.7 548.2,897.7 549.3,896.4 550.3,898.1 551.4,900.5 552.5,899.4 553.5,902.8 554.6,904.1 555.7,904.6 556.8,905.6 557.8,905.9 558.9,907.9 560.0,909.2 561.0,910.5 562.1,910.1 563.2,912.2 564.2,912.7 565.3,915.0 566.4,915.5 567.4,915.6 568.5,914.8 569.5,918.0 570.5,919.4 571.5,922.1 572.6,923.3 573.6,922.7 574.7,919.2 575.8,917.9 576.8,919.0 577.9,916.7 579.0,916.9 580.0,917.9 581.0,919.2 582.1,918.4 583.1,919.6 584.1,920.8 585.2,920.2 586.2,923.1 587.3,922.9 588.4,923.6 589.4,925.5 590.5,927.2 591.6,927.0 592.6,929.4 593.7,927.9 594.8,931.3 595.9,930.0 596.9,932.3 597.9,934.7 599.0,934.0 600.0,933.8 601.0,936.7 602.1,938.7 603.1,936.6 604.2,936.8 605.3,936.6 606.3,936.1 607.4,935.8 608.5,937.4 609.7,934.1 611.0,932.5 612.3,928.5 613.4,929.2 614.5,928.1 615.6,929.0 616.7,931.1 617.8,930.7 618.9,929.2 620.0,932.3 621.1,929.8 622.1,929.3 623.2,926.1 624.3,924.7 625.3,923.6 626.4,922.1 627.5,920.1 628.5,918.6 629.6,918.9 630.7,917.7 631.8,916.5 632.8,915.6 633.8,912.9 634.9,911.7 635.9,909.5 636.9,908.3 637.9,907.9 639.0,907.0 640.0,907.6 641.0,907.4 642.1,905.6 643.1,905.4 644.1,909.2 645.1,908.9 646.2,911.2 647.2,911.4 648.2,915.6 649.3,916.0 650.3,917.0 651.4,915.1 652.5,912.6 653.5,913.6 654.6,914.4 655.6,917.3 656.7,920.8 657.7,923.0 658.7,926.1 659.7,925.9 661.0,930.3 662.3,935.8 663.6,940.0 664.6,942.3 665.6,941.5 666.7,947.3 667.7,948.3 668.7,949.0 669.7,949.6 670.8,949.8 671.8,953.7 672.8,955.3 673.8,956.7 674.9,957.2 675.9,958.4 676.9,961.6 677.9,961.9 679.0,964.9 680.0,964.4 680.5,965.6 681.6,963.4 682.6,962.1 683.7,961.3 684.8,961.6 685.9,961.1 686.9,957.9 688.2,963.2 689.5,966.2 690.8,969.5 691.8,971.3 692.8,971.2 693.8,974.0 694.9,975.6 695.9,975.9 697.0,975.4 698.0,975.2 699.1,975.1 700.2,972.2 701.2,971.6 702.3,973.3 703.4,973.6 704.4,973.1 705.5,971.6 706.6,975.0 707.6,974.3 708.7,974.6 709.7,973.6 710.8,971.4 711.8,968.9 712.8,966.1 713.8,961.8 714.9,958.0 716.0,955.6 717.1,953.2 718.1,950.7 719.2,947.8 720.3,943.8 721.3,941.9 722.4,941.3 723.5,940.8 724.5,939.2 725.6,937.0 726.7,938.7 727.7,935.0 728.8,932.1 729.9,929.8 730.9,923.8 732.0,921.4 733.1,919.5 734.1,916.6 735.2,916.1 736.3,915.0 737.4,917.4 738.4,916.5 739.5,915.6 740.6,915.6 741.6,915.5 742.7,916.7 743.8,917.5 744.8,917.4 745.9,915.6 747.0,916.1 748.0,915.4 749.1,915.1 750.2,910.6 751.2,911.2 752.3,910.5 753.4,908.8 754.4,906.4 755.5,904.6 756.6,903.4 757.6,901.3 758.7,899.0 760.0,907.4 761.3,918.2 762.3,918.9 763.3,920.2 764.4,923.5 765.4,925.8 766.4,929.7 767.5,927.6 768.5,928.8 769.6,929.7 770.7,933.7 771.8,933.7 772.8,932.3 773.9,931.8 775.0,931.2 776.0,931.4 777.1,932.2 778.2,933.0 779.2,933.6 780.3,936.0 781.4,938.1 782.4,941.3 783.5,939.8 784.6,942.8 785.6,943.8 786.9,942.6 788.2,944.4 789.5,946.4 790.5,947.1 791.5,952.1 792.6,953.6 793.6,955.2 794.6,954.1 795.6,951.0 796.7,950.2 797.7,948.2 798.7,946.5 799.7,943.8 800.8,940.5 801.8,943.9 802.8,943.6 803.8,941.9 804.9,940.0 806.2,945.9 807.4,951.5 808.5,949.1 809.5,945.8 810.5,942.3 811.5,938.7 812.6,936.2 813.6,938.8 814.7,940.8 815.8,944.9 816.8,947.0 817.9,949.1 819.0,951.5 820.0,950.3 821.1,948.9 822.2,946.1 823.2,940.4 824.3,938.7 825.4,937.4 826.5,936.1 827.5,935.7 828.6,932.4 829.7,931.6 830.7,929.9 831.8,927.2 832.8,926.0 833.8,926.9 834.9,926.9 835.9,926.7 836.9,928.5 837.9,925.7 839.0,923.4 840.0,917.9 841.0,913.6 842.1,913.1 843.1,910.0 844.2,906.2 845.3,904.4 846.3,902.2 847.4,898.0 848.5,895.1 849.5,893.7 850.6,895.3 851.7,896.4 852.7,894.9 853.8,892.9 854.9,892.6 855.9,892.1 857.0,893.9 858.1,892.6 859.1,895.0 860.2,892.7 861.3,893.8 862.3,893.3 863.3,892.3 864.4,888.2 865.4,886.8 866.4,883.6 867.4,889.5 868.5,888.5 869.5,893.3 870.5,899.5 871.5,900.3 872.6,899.2 873.6,893.9 874.6,895.3 875.6,891.4 876.7,890.0 877.7,889.6 878.7,883.8 879.7,882.0 880.8,882.2 881.8,881.0 882.8,878.7 883.8,876.5 884.9,877.6 885.9,874.6 886.9,873.3 887.9,876.3 889.0,880.1 890.0,881.4 891.0,884.1 892.1,886.2 893.1,884.3 894.1,881.5 895.1,881.6 896.2,879.6 897.2,878.5 898.2,882.2 899.2,885.8 900.3,888.9 901.3,891.0 902.3,895.1 903.3,897.5 904.4,899.5 905.4,899.8 906.4,900.9 907.4,904.1 908.5,903.2 909.6,903.1 910.6,899.8 911.7,900.6 912.8,901.2 913.8,897.7 914.9,897.7 916.0,897.4 917.1,894.0 918.1,893.3 919.2,895.7 920.3,892.6 921.5,896.7 922.8,904.9 924.1,910.5 925.4,911.7 926.7,913.1 927.9,916.9 929.0,916.5 930.1,916.1 931.2,913.9 932.2,916.2 933.3,915.9 934.4,915.6 935.4,916.6 936.5,914.0 937.6,910.6 938.6,908.8 939.7,908.7 940.8,907.9 941.8,903.4 942.8,900.1 943.8,896.8 944.9,894.3 945.9,890.0 946.9,889.1 947.9,889.0 949.0,887.2 950.0,885.9 951.0,884.9 952.1,885.9 953.2,886.8 954.2,884.2 955.3,886.2 956.4,885.0 957.4,884.9 958.5,881.7 959.5,878.8 960.5,877.8 961.5,877.6 962.6,874.6 963.6,874.3 964.6,878.9 965.6,880.4 966.7,883.7 967.7,884.9 968.7,883.1 969.7,879.7 970.8,878.8 971.8,879.9 972.8,878.5 973.8,880.3 974.9,877.8 975.9,875.3 976.9,874.6 977.9,874.6 979.0,877.9 980.1,881.5 981.2,881.8 982.2,887.0 983.3,886.5 984.4,890.0 985.4,888.6 986.4,886.5 987.4,888.1 988.5,886.4 989.5,887.4 990.8,890.9 992.1,895.8 993.3,900.3 994.4,899.1 995.5,897.3 996.5,897.8 997.6,897.0 998.7,895.4 999.7,893.8 1000.8,894.3 1001.8,889.7 1002.8,887.1 1003.8,886.4 1004.9,883.6 1005.9,880.4 1006.9,880.2 1007.9,879.0 1009.0,876.9 1010.0,877.2 1011.1,873.5 1012.1,872.1 1013.2,869.1 1014.3,870.0 1015.3,866.6 1016.4,864.4 1017.4,867.7 1018.5,871.1 1019.5,873.0 1020.5,876.6 1021.5,878.5 1022.6,876.4 1023.6,878.9 1024.6,878.2 1025.6,881.1 1026.7,881.0 1027.7,882.3 1028.7,881.5 1029.7,883.0 1030.8,884.6 1031.8,888.7 1032.8,889.3 1033.8,896.1 1034.9,898.3 1035.9,900.3 1036.9,902.8 1038.2,909.7 1039.5,917.6 1040.8,925.9 1041.8,926.6 1042.9,928.9 1044.0,927.2 1045.0,929.8 1046.1,932.5 1047.2,932.3 1048.2,933.2 1049.2,934.7 1050.3,935.2 1051.3,939.1 1052.3,940.0 1053.6,938.4 1054.9,935.0 1056.2,931.0 1057.4,936.9 1058.7,941.8 1060.0,947.7 1061.0,946.4 1062.1,943.9 1063.1,942.5 1064.1,936.8 1065.1,936.2 1066.2,936.6 1067.3,934.8 1068.3,931.1 1069.4,932.0 1070.5,930.8 1071.5,931.0 1072.6,927.8 1073.6,923.7 1074.6,921.2 1075.6,918.5 1076.7,915.6 1077.7,914.4 1078.8,914.8 1079.9,910.1 1080.9,908.5 1082.0,908.5 1083.1,905.4 1084.1,905.4 1085.2,905.5 1086.3,904.2 1087.4,904.0 1088.4,906.1 1089.5,904.1 1090.6,903.0 1091.6,901.8 1092.7,901.4 1093.8,896.1 1094.8,894.1 1095.9,895.1 1097.0,895.2 1098.0,898.0 1099.1,900.1 1100.2,900.3 1101.2,903.4 1102.3,902.8 1103.4,902.6 1104.4,899.7 1105.5,899.8 1106.6,897.1 1107.6,897.6 1108.7,895.1 1109.8,898.2 1110.9,896.5 1111.9,895.1 1113.0,897.4 1114.1,897.9 1115.1,897.7 1116.2,895.4 1117.3,897.2 1118.3,894.1 1119.4,894.6 1120.5,896.4 1121.5,895.1 1122.6,897.4 1123.7,899.4 1124.7,901.3 1125.8,903.6 1126.9,905.1 1127.9,905.4 1129.0,904.4 1130.0,905.5 1131.0,905.8 1132.1,907.5 1133.1,907.9 1134.4,904.8 1135.6,898.2 1136.9,893.8 1137.9,892.6 1139.0,890.7 1140.0,891.4 1141.0,890.0 1142.1,887.4 1143.1,887.8 1144.1,887.9 1145.1,889.8 1146.2,894.2 1147.2,895.1 1148.5,890.0 1149.7,884.5 1151.0,879.7 1152.3,874.8 1153.6,871.7 1154.9,864.4 1155.9,863.2 1156.9,864.0 1157.9,862.8 1159.0,861.7 1160.0,859.2 1161.1,860.4 1162.1,861.5 1163.2,862.6 1164.3,863.1 1165.3,861.3 1166.4,864.4 1167.4,868.7 1168.5,872.8 1169.5,877.5 1170.5,881.7 1171.5,887.4 1172.8,893.6 1174.1,902.0 1175.4,907.9 1176.4,912.6 1177.4,914.7 1178.5,920.7 1179.5,923.1 1180.5,928.5 1181.5,927.7 1182.6,927.4 1183.6,926.5 1184.6,926.2 1185.6,928.5 1186.7,929.1 1187.8,932.0 1188.9,936.2 1190.0,936.6 1191.1,938.8 1192.2,941.3 1193.3,943.8 1194.4,940.9 1195.4,938.9 1196.4,937.5 1197.4,933.2 1198.5,931.0 1199.5,929.2 1200.6,929.4 1201.7,925.8 1202.7,925.0 1203.8,924.5 1204.9,922.1 1206.0,921.5 1207.1,920.6 1208.2,919.5 1209.3,920.4 1210.4,921.2 1211.5,919.9 1212.6,922.1 1213.6,925.7 1214.6,928.5 1215.6,931.3 1216.7,935.7 1217.7,938.7 1218.7,944.9 1219.7,949.6 1220.8,956.8 1221.8,959.7 1222.8,966.9 1223.8,970.6 1224.9,972.9 1225.9,975.7 1226.9,975.1 1227.9,977.2 1229.0,978.0 1230.0,977.3 1231.0,975.2 1232.1,976.1 1233.1,973.3 1234.1,975.0 1235.1,981.6 1236.2,982.9 1237.2,986.6 1238.2,987.4 1239.5,990.1 1240.8,995.8 1242.1,999.0 1243.1,993.6 1244.1,989.4 1245.1,982.7 1246.2,976.9 1247.2,974.6 1248.2,972.3 1249.2,973.0 1250.3,973.0 1251.3,971.5 1252.3,969.5 1253.3,970.2 1254.4,969.3 1255.4,968.2 1256.4,968.1 1257.4,966.9 1258.7,961.7 1260.0,958.0 1261.3,954.1 1262.4,956.1 1263.4,955.4 1264.5,952.1 1265.6,952.3 1266.6,949.0 1267.7,950.3 1268.7,955.4 1269.7,957.2 1270.8,961.4 1271.8,962.8 1272.8,965.6 1273.8,966.1 1274.9,962.6 1275.9,963.0 1276.9,966.3 1277.9,964.4 1279.0,968.3 1280.1,972.1 1281.2,972.9 1282.2,976.2 1283.3,978.2 1284.4,979.7 1285.4,974.2 1286.4,968.2 1287.4,960.3 1288.5,954.2 1289.5,949.0 1290.6,949.1 1291.6,951.1 1292.7,951.4 1293.8,951.5 1294.8,955.2 1295.9,956.7 1296.9,955.0 1297.9,954.5 1299.0,952.7 1300.0,950.0 1301.0,951.5 1302.1,953.7 1303.2,952.6 1304.2,956.5 1305.3,957.9 1306.4,960.2 1307.4,959.2 1308.5,965.2 1309.6,970.9 1310.6,973.8 1311.7,978.5 1312.8,981.5 1313.8,987.4 1314.9,987.1 1315.9,987.6 1316.9,985.5 1317.9,987.2 1319.0,988.6 1320.0,987.4 1320.5,988.7 1321.5,991.3 1322.6,989.8 1323.6,991.6 1324.6,993.0 1325.6,992.6 1326.7,995.5 1327.7,998.5 1328.7,1000.9 1329.7,1003.2 1330.8,1005.4 1332.1,1000.0 1333.3,994.0 1334.6,990.0 1335.9,987.0 1337.2,981.4 1338.5,973.3 1339.5,975.2 1340.6,976.3 1341.7,975.9 1342.7,976.5 1343.8,980.4 1344.9,981.0 1345.9,980.2 1346.9,980.0 1347.9,980.7 1349.0,976.4 1350.0,978.5 1351.0,973.3 1352.1,968.9 1353.1,965.9 1354.1,961.7 1355.1,956.7 1356.4,957.3 1357.7,958.1 1359.0,959.2 1360.0,964.1 1361.0,969.1 1362.1,977.8 1363.1,985.7 1364.1,990.0 1365.1,989.9 1366.2,989.0 1367.2,989.9 1368.2,990.2 1369.2,992.6 1370.3,993.9 1371.4,993.3 1372.4,992.6 1373.5,989.5 1374.6,990.2 1375.6,988.7 1376.7,985.9 1377.8,986.2 1378.8,984.3 1379.9,985.3 1381.0,982.6 1382.1,979.7 1383.1,977.7 1384.2,972.6 1385.3,971.2 1386.3,969.9 1387.4,965.4 1388.5,961.8 1389.5,963.0 1390.6,960.8 1391.7,961.9 1392.7,961.2 1393.8,962.0 1394.9,961.8 1395.9,960.2 1396.9,958.5 1397.9,958.1 1399.0,954.0 1400.0,951.5 1401.0,946.8 1402.1,944.2 1403.1,942.8 1404.1,938.5 1405.1,937.4 1406.2,937.8 1407.2,941.1 1408.2,943.6 1409.2,944.3 1410.3,946.4 1411.3,944.9 1412.4,944.3 1413.5,943.9 1414.5,943.1 1415.6,942.1 1416.7,940.0 1417.7,941.1 1418.8,942.0 1419.9,940.9 1420.9,944.5 1422.0,944.0 1423.1,946.4 1424.1,944.3 1425.1,944.5 1426.2,943.0 1427.2,941.8 1428.2,941.3 1429.2,941.9 1430.3,943.2 1431.3,943.1 1432.3,944.2 1433.3,946.4 1434.4,945.7 1435.5,945.5 1436.5,944.5 1437.6,943.0 1438.7,940.6 1439.7,940.0 1440.8,937.0 1441.9,934.8 1442.9,933.6 1444.0,935.8 1445.1,934.2 1446.2,932.3 1447.2,935.5 1448.2,940.2 1449.2,944.7 1450.3,947.7 1451.3,949.0 1452.4,952.6 1453.4,952.9 1454.5,957.0 1455.6,956.0 1456.6,957.4 1457.7,960.5 1458.8,958.1 1459.8,959.8 1460.9,958.1 1462.0,955.0 1463.0,956.1 1464.1,952.8 1465.2,952.3 1466.2,953.2 1467.3,952.5 1468.4,949.5 1469.4,947.9 1470.5,947.7 1471.6,945.1 1472.6,942.1 1473.7,938.1 1474.8,931.8 1475.9,925.3 1476.9,923.3 1477.9,924.0 1479.0,924.5 1480.0,924.6 1481.0,923.0 1482.1,922.1 1483.1,921.3 1484.2,919.9 1485.3,918.0 1486.3,915.0 1487.4,912.5 1488.5,913.1 1489.5,910.9 1490.5,911.1 1491.5,906.9 1492.6,903.3 1493.6,904.1 1494.9,911.0 1496.2,922.0 1497.4,928.5 1498.7,932.3 1500.0,938.0 1501.3,942.6 1502.3,945.4 1503.3,945.9 1504.4,946.7 1505.4,945.9 1506.4,946.4 1507.5,946.6 1508.5,948.0 1509.6,943.2 1510.7,943.4 1511.8,944.3 1512.8,943.8 1513.8,946.1 1514.9,948.5 1515.9,950.2 1516.9,954.3 1517.9,956.7 1519.2,961.5 1520.5,966.7 1521.8,970.8 1522.9,969.4 1523.9,968.4 1525.0,965.9 1526.1,967.9 1527.1,968.0 1528.2,964.4 1529.2,964.4 1530.3,961.3 1531.3,955.1 1532.3,954.2 1533.3,951.5 1534.6,947.2 1535.9,942.4 1537.2,936.2 1538.2,936.7 1539.3,935.3 1540.4,936.2 1541.5,933.5 1542.5,929.3 1543.6,931.0 1544.7,931.8 1545.7,928.3 1546.8,928.3 1547.9,927.8 1548.9,929.5 1550.0,928.5 1551.1,929.1 1552.1,927.0 1553.2,927.7 1554.3,925.5 1555.3,923.6 1556.4,924.6 1557.5,924.0 1558.5,924.3 1559.6,921.5 1560.7,921.0 1561.8,921.4 1562.8,922.1 1563.8,925.1 1564.9,924.0 1565.9,924.8 1566.9,930.0 1567.9,931.0 1569.0,928.1 1570.0,928.7 1571.0,927.7 1572.1,927.5 1573.1,923.3 1574.1,926.0 1575.1,929.9 1576.2,930.4 1577.2,933.6 1578.2,937.4 1579.2,936.2 1580.3,935.4 1581.3,934.9 1582.3,935.2 1583.3,937.4 1584.4,935.4 1585.5,933.5 1586.5,932.2 1587.6,930.9 1588.7,928.8 1589.7,925.9 1590.8,926.6 1591.9,925.6 1592.9,923.7 1594.0,924.6 1595.1,924.9 1596.2,922.1 1597.2,920.1 1598.3,916.8 1599.4,916.2 1600.4,914.5 1601.5,910.9 1602.6,910.5 1603.6,909.0 1604.7,912.3 1605.8,908.7 1606.8,908.1 1607.9,907.8 1609.0,907.9 1610.0,911.7 1611.0,915.7 1612.1,916.6 1613.1,919.1 1614.1,920.8 1615.4,924.8 1616.7,925.7 1617.9,927.2 1619.0,925.8 1620.0,925.6 1621.0,923.0 1622.1,920.1 1623.1,919.5 1624.1,921.9 1625.1,927.3 1626.2,931.2 1627.2,934.6 1628.2,940.0 1629.2,944.0 1630.3,945.5 1631.3,947.3 1632.3,951.3 1633.3,954.1 1634.4,955.3 1635.4,956.2 1636.4,960.3 1637.4,961.1 1638.5,961.8 1639.5,962.4 1640.6,964.6 1641.7,968.6 1642.7,969.5 1643.8,973.0 1644.9,974.6 1645.9,976.2 1646.9,977.3 1647.9,977.4 1649.0,978.3 1650.0,979.7 1651.0,978.9 1652.1,979.3 1653.1,977.4 1654.1,972.7 1655.1,972.1 1656.2,975.8 1657.2,977.6 1658.2,981.2 1659.2,984.3 1660.3,987.4 1661.3,989.6 1662.3,991.5 1663.3,995.2 1664.4,998.2 1665.4,997.7 1666.4,1001.6 1667.4,1002.8 1668.5,1004.5 1669.5,1004.9 1670.5,1005.4 1671.6,1006.2 1672.6,1003.8 1673.7,1003.9 1674.8,1002.2 1675.9,1003.9 1676.9,1002.8 1677.9,1000.1 1679.0,995.5 1680.0,991.1 1681.0,989.3 1682.1,984.9 1683.1,982.7 1684.1,981.2 1685.1,980.0 1686.2,978.0 1687.2,975.9 1688.2,973.3 1689.3,974.9 1690.4,973.2 1691.5,972.1 1692.5,970.4 1693.6,970.8 1694.7,970.1 1695.7,967.4 1696.8,964.0 1697.9,966.2 1698.9,963.1 1700.0,961.8 1701.0,964.2 1702.1,967.1 1703.1,971.9 1704.1,975.2 1705.1,979.7 1706.2,981.0 1707.2,980.8 1708.2,980.2 1709.2,983.3 1710.3,984.9 1711.3,985.1 1712.4,986.1 1713.5,988.8 1714.5,991.2 1715.6,993.4 1716.7,996.4 1717.7,999.9 1718.7,1002.8 1719.7,1004.3 1720.8,1006.7 1721.8,1007.9 1722.8,1003.0 1723.8,1001.8 1724.9,1000.4 1725.9,995.4 1726.9,992.6 1727.9,988.8 1729.0,985.4 1730.0,984.8 1731.0,980.9 1732.1,979.7 1733.1,981.8 1734.2,979.9 1735.3,978.8 1736.3,977.1 1737.4,978.4 1738.5,977.2 1739.5,974.6 1740.6,973.7 1741.7,974.6 1742.7,973.1 1743.8,973.2 1744.9,972.1 1745.9,968.4 1746.9,961.3 1747.9,956.6 1749.0,951.4 1750.0,943.8 1751.3,940.4 1752.6,936.6 1753.8,932.3 1754.9,934.3 1756.0,934.0 1757.1,935.5 1758.1,935.1 1759.2,936.1 1760.3,938.7 1761.3,937.7 1762.3,939.2 1763.3,936.9 1764.4,937.1 1765.4,937.4 1766.4,934.3 1767.4,932.6 1768.5,931.6 1769.5,925.9 1770.5,923.3 1771.6,919.7 1772.6,917.2 1773.7,914.6 1774.8,913.2 1775.9,912.7 1776.9,907.9 1777.9,906.6 1779.0,900.7 1780.0,901.5 1781.0,898.1 1782.1,895.1 1783.3,895.1 1784.6,892.9 1785.9,891.3 1786.9,892.4 1787.9,896.6 1789.0,899.5 1790.0,899.9 1791.0,902.8 1792.3,902.3 1793.6,898.9 1794.9,897.7 1796.2,900.3 1797.4,904.7 1798.7,909.2 1799.7,911.4 1800.8,914.2 1801.8,915.8 1802.8,914.3 1803.8,918.2 1804.9,918.7 1805.9,917.6 1806.9,920.7 1807.9,921.3 1809.0,922.1 1810.0,923.5 1811.1,925.5 1812.2,926.6 1813.2,926.1 1814.3,927.3 1815.4,928.5 1816.4,927.4 1817.4,927.3 1818.5,926.9 1819.5,928.3 1820.5,925.9 1821.6,927.1 1822.6,926.7 1823.7,928.7 1824.8,928.2 1825.9,928.1 1826.9,928.5 1827.9,930.7 1829.0,931.4 1830.0,932.8 1831.0,934.7 1832.1,934.9 1833.1,931.8 1834.1,929.7 1835.1,928.0 1836.2,925.6 1837.2,922.1 1838.2,922.2 1839.3,924.1 1840.4,925.6 1841.5,928.8 1842.5,930.6 1843.6,931.0 1844.7,931.1 1845.7,931.5 1846.8,934.3 1847.9,936.7 1848.9,938.1 1850.0,938.7 1851.1,938.5 1852.1,934.8 1853.2,936.8 1854.3,937.4 1855.3,935.4 1856.4,933.6 1857.5,931.4 1858.5,930.4 1859.6,926.4 1860.7,924.1 1861.8,923.1 1862.8,920.8 1863.8,917.2 1864.9,914.2 1865.9,910.2 1866.9,905.9 1867.9,902.8 1869.0,901.1 1870.0,899.4 1871.0,898.5 1872.1,896.0 1873.1,893.8 1874.1,896.1 1875.1,897.9 1876.2,899.4 1877.2,901.9 1878.2,902.8 1879.2,904.8 1880.3,906.5 1881.3,905.2 1882.3,904.8 1883.3,907.9 1884.4,910.7 1885.4,917.4 1886.4,922.0 1887.4,928.8 1888.5,931.0 1889.5,932.0 1890.6,934.1 1891.7,936.1 1892.7,940.5 1893.8,942.2 1894.9,942.6 1895.9,941.7 1897.0,944.1 1898.1,940.7 1899.1,940.7 1900.2,939.2 1901.3,940.0 1902.3,940.3 1903.3,939.8 1904.4,942.0 1905.4,942.9 1906.4,942.6 1907.7,947.3 1909.0,952.0 1910.3,954.1 1911.5,955.3 1912.8,957.9" stroke="#ffffff" stroke-width="4.1" fill="none" stroke-linejoin="round" stroke-linecap="round"/><path d="M20.0,902.8 21.1,905.1 22.2,902.3 23.3,902.3 24.4,901.7 25.5,902.2 26.6,899.3 27.7,900.3 28.7,901.5 29.7,903.6 30.8,906.3 31.8,909.3 32.8,913.1 33.8,914.7 34.9,919.3 35.9,921.6 36.9,922.8 37.9,928.5 39.0,930.5 40.1,932.5 41.2,936.1 42.2,939.0 43.3,941.4 44.4,943.8 45.5,946.8 46.6,948.1 47.7,954.3 48.8,955.1 49.9,958.7 51.0,962.3 52.1,965.6 53.1,962.1 54.1,959.5 55.1,953.0 56.2,950.5 57.2,949.0 58.2,946.4 59.3,947.4 60.4,943.6 61.5,942.4 62.5,938.9 63.6,940.0 64.7,935.2 65.7,932.7 66.8,934.7 67.9,931.9 68.9,928.5 70.0,925.9 71.1,924.6 72.1,925.0 73.2,927.4 74.3,925.9 75.3,928.2 76.4,929.7 77.5,928.6 78.5,927.4 79.6,930.5 80.7,930.5 81.8,928.4 82.8,928.5 83.9,924.9 85.0,924.5 86.0,922.2 87.1,922.1 88.2,921.9 89.2,919.5 90.3,918.3 91.3,919.0 92.3,917.6 93.3,918.2 94.4,916.9 95.4,919.5 96.4,918.6 97.4,917.8 98.5,919.4 99.5,920.8 100.5,918.0 101.5,917.8 102.6,918.2 103.6,914.1 104.6,915.6 105.7,916.6 106.8,918.4 107.8,921.4 108.9,920.9 110.0,924.3 111.0,925.9 112.1,926.4 113.2,926.7 114.2,927.1 115.3,927.4 116.4,929.1 117.4,929.7 118.5,933.6 119.5,935.0 120.5,936.3 121.5,936.6 122.6,938.7 123.6,940.2 124.7,935.8 125.8,936.2 126.8,935.8 127.9,934.1 129.0,932.3 130.0,935.0 131.1,936.2 132.2,936.8 133.2,937.5 134.3,936.9 135.4,936.2 136.4,936.8 137.4,936.7 138.5,935.7 139.5,936.8 140.5,936.2 141.6,937.8 142.6,939.1 143.7,940.9 144.8,941.5 145.9,943.8 146.9,943.8 148.2,943.4 149.5,943.7 150.8,946.4 151.8,946.7 152.8,947.0 153.8,945.7 154.9,944.9 155.9,943.8 157.0,947.5 158.0,948.1 159.1,952.5 160.2,953.0 161.2,955.4 162.3,959.2 163.4,959.8 164.4,960.6 165.5,963.8 166.6,965.4 167.6,966.5 168.7,966.9 169.8,965.1 170.9,964.6 171.9,963.9 173.0,963.9 174.1,964.5 175.1,963.1 176.2,959.8 177.2,957.3 178.2,957.3 179.2,954.4 180.3,951.5 181.3,953.3 182.4,955.0 183.5,955.9 184.5,958.3 185.6,959.5 186.7,959.2 187.7,960.8 188.7,967.5 189.7,967.2 190.8,970.5 191.8,973.3 192.9,975.3 194.0,978.1 195.1,976.8 196.2,977.3 197.3,979.7 198.4,980.9 199.5,983.6 200.6,981.1 201.6,978.8 202.7,976.0 203.8,972.9 204.8,970.9 205.9,968.2 206.9,968.0 207.9,970.1 209.0,971.1 210.0,971.6 211.0,972.1 212.1,972.8 213.1,975.1 214.1,976.6 215.1,980.6 216.2,981.0 217.2,987.0 218.2,990.3 219.2,991.6 220.3,993.2 221.3,997.7 222.3,998.9 223.3,1000.5 224.4,1000.9 225.4,1004.1 226.4,1005.4 227.5,1004.5 228.5,1003.0 229.6,1000.0 230.7,996.8 231.8,996.5 232.8,996.4 233.8,993.0 234.9,992.6 235.9,989.6 236.9,989.1 237.9,984.9 239.0,986.5 240.1,986.8 241.2,987.5 242.2,985.5 243.3,988.0 244.4,987.4 245.4,986.6 246.5,988.3 247.6,988.6 248.6,990.1 249.7,990.1 250.8,988.7 251.8,988.6 252.8,993.3 253.8,995.7 254.9,996.7 255.9,996.4 257.2,990.7 258.5,980.6 259.7,973.3 260.8,974.9 261.8,974.7 262.8,977.2 263.8,978.9 264.9,979.7 265.9,983.5 266.9,982.0 267.9,982.5 269.0,985.8 270.0,988.7 271.1,988.2 272.1,988.1 273.2,990.2 274.3,990.3 275.3,991.5 276.4,993.8 277.4,993.6 278.5,991.5 279.5,989.9 280.5,989.9 281.5,990.0 282.6,991.6 283.6,995.2 284.6,994.4 285.6,995.8 286.7,997.7 287.9,991.0 289.2,985.5 290.5,979.7 291.6,979.5 292.6,980.4 293.7,978.2 294.8,978.2 295.9,977.1 296.9,977.2 297.9,977.6 299.0,974.7 300.0,972.6 301.0,970.0 302.1,966.9 303.1,967.0 304.1,960.6 305.1,958.4 306.2,955.9 307.2,954.1 308.2,954.6 309.3,953.0 310.4,951.6 311.5,951.2 312.5,952.9 313.6,952.8 314.6,957.3 315.6,961.5 316.7,962.3 317.7,966.4 318.7,968.2 319.7,966.2 320.8,962.7 321.8,962.1 322.8,958.4 323.8,956.7 325.1,951.8 326.4,951.5 327.7,946.4 328.8,946.8 329.8,947.7 330.9,948.5 332.0,949.8 333.0,948.5 334.1,951.5 335.1,952.4 336.2,954.9 337.2,953.8 338.2,955.5 339.2,956.7 340.3,952.5 341.3,952.1 342.3,950.2 343.3,950.9 344.4,949.0 345.6,939.5 346.9,928.3 348.2,920.8 349.2,910.5 350.3,904.7 351.3,899.2 352.3,889.0 353.3,882.3 354.6,879.6 355.9,873.4 357.2,868.2 358.5,871.4 359.7,872.9 361.0,875.9 362.1,873.4 363.1,872.8 364.1,877.2 365.1,875.9 366.2,874.6 367.4,866.1 368.7,862.5 370.0,854.1 371.0,853.6 372.1,851.9 373.1,848.7 374.1,845.3 375.1,843.8 376.2,841.6 377.2,843.0 378.2,844.5 379.2,843.7 380.3,841.3 381.5,833.4 382.8,825.9 384.1,819.6 385.4,814.7 386.7,810.5 387.7,816.7 388.7,818.9 389.7,821.8 390.8,822.7 391.8,828.5 392.9,827.6 393.9,827.1 395.0,827.1 396.1,829.4 397.1,829.8 398.2,831.0 399.5,830.9 400.8,831.0 402.1,831.0 403.3,826.3 404.6,819.7 405.9,811.8 407.2,818.9 408.5,822.9 409.7,829.7 410.8,820.7 411.8,816.0 412.8,809.1 413.8,803.5 414.9,796.4 415.9,791.7 416.9,788.2 417.9,785.7 419.0,780.7 420.0,775.9 421.1,773.8 422.1,770.1 423.2,768.2 424.3,763.9 425.3,764.1 426.4,761.8 427.4,765.8 428.5,765.9 429.5,769.3 430.5,772.4 431.5,774.6 432.6,771.5 433.6,766.6 434.6,762.2 435.6,757.9 436.7,756.7 437.7,751.0 438.8,748.3 439.9,743.9 440.9,739.4 442.0,735.1 443.1,732.3 444.1,734.2 445.1,739.0 446.2,740.6 447.2,744.7 448.2,749.0 449.2,750.8 450.3,754.1 451.3,756.1 452.3,761.8 453.3,761.8 454.4,762.3 455.5,757.9 456.5,756.8 457.6,754.2 458.7,752.7 459.7,750.3 460.8,749.7 461.8,748.3 462.8,748.7 463.8,750.4 464.9,747.7 465.9,746.7 466.9,749.7 467.9,751.8 469.0,751.7 470.0,752.8 471.0,750.3 472.1,747.1 473.1,744.9 474.1,739.4 475.1,736.2 476.2,738.7 477.2,739.6 478.2,742.7 479.2,742.8 480.3,746.4 481.5,740.9 482.8,733.2 484.1,728.5 485.1,727.8 486.2,723.3 487.2,719.7 488.2,715.6 489.2,715.6 490.3,715.2 491.3,720.9 492.3,720.0 493.3,723.3 494.4,725.9 495.6,727.6 496.9,733.8 498.2,736.2 499.3,732.9 500.3,730.9 501.4,729.9 502.5,728.8 503.5,725.6 504.6,723.3 505.6,719.7 506.7,718.2 507.7,716.7 508.7,712.4 509.7,707.9 510.8,710.6 511.8,714.9 512.8,719.7 513.8,719.9 514.9,723.3 515.9,720.7 516.9,719.4 517.9,718.8 519.0,718.6 520.0,716.9 521.1,719.4 522.1,724.8 523.2,727.7 524.3,731.0 525.3,733.9 526.4,736.2 527.7,732.9 529.0,729.3 530.3,724.6 531.3,728.8 532.3,730.7 533.3,734.4 534.4,736.4 535.4,738.7 536.4,740.0 537.4,741.4 538.5,742.3 539.5,746.8 540.5,747.7 541.6,747.0 542.6,746.1 543.7,743.1 544.8,742.4 545.9,740.6 546.9,740.0 548.0,738.1 549.1,737.2 550.1,739.3 551.2,736.9 552.3,735.8 553.3,736.2 554.4,738.2 555.4,738.1 556.4,741.3 557.4,742.3 558.5,745.1 559.6,745.9 560.7,746.8 561.8,746.9 562.9,748.7 564.0,754.1 565.1,754.3 566.2,755.4 567.3,757.0 568.4,758.3 569.5,760.1 570.5,764.6 571.6,766.2 572.7,767.9 573.8,766.9 574.9,767.1 576.0,764.8 577.1,767.5 578.2,768.2 579.3,768.1 580.4,767.9 581.5,768.2 582.6,769.0 583.7,768.5 584.8,768.5 585.9,767.5 587.0,766.8 588.1,768.7 589.2,766.9 590.3,771.7 591.4,773.1 592.5,774.2 593.6,777.4 594.7,777.9 595.8,779.8 596.9,782.3 598.0,781.7 599.1,782.3 600.1,783.6 601.2,782.3 602.3,779.4 603.3,779.7 604.4,779.1 605.5,783.5 606.5,786.6 607.6,788.2 608.7,790.1 609.7,791.3 610.9,792.5 612.0,793.0 613.1,792.9 614.2,791.5 615.4,793.7 616.5,795.2 617.6,792.1 618.7,793.8 619.8,789.1 620.9,787.9 621.9,784.5 623.0,783.6 624.1,780.9 625.1,775.9 626.2,775.1 627.2,774.4 628.2,775.5 629.2,773.8 630.3,774.6 631.3,775.0 632.4,779.6 633.5,781.9 634.5,782.0 635.6,783.9 636.7,787.4 637.7,785.5 638.8,780.6 639.9,780.0 640.9,780.5 642.0,776.7 643.1,774.6 644.1,778.3 645.2,780.8 646.3,783.4 647.4,786.7 648.4,787.3 649.5,791.3 650.6,790.9 651.6,792.1 652.7,794.6 653.8,795.5 654.8,800.2 655.9,800.3 656.9,803.5 657.9,802.2 659.0,804.8 660.0,806.9 661.0,809.2 662.1,812.1 663.1,813.0 664.1,814.7 665.1,819.2 666.2,820.8 667.2,820.5 668.2,816.1 669.2,811.6 670.3,809.5 671.3,806.7 672.6,819.8 673.8,828.6 675.1,838.7 676.3,844.3 677.6,847.1 678.8,850.9 680.0,856.7 680.9,857.8 681.8,859.2 682.9,858.2 683.9,858.0 685.0,858.0 686.1,857.2 687.1,858.5 688.2,857.9 689.2,862.4 690.3,869.7 691.3,873.3 692.3,880.2 693.3,884.9 694.4,885.5 695.5,886.4 696.5,885.0 697.6,887.1 698.7,886.6 699.7,888.7 700.8,887.5 701.8,885.6 702.8,885.4 703.8,885.1 704.9,883.6 706.0,886.6 707.1,889.3 708.2,889.3 709.3,891.0 710.4,894.3 711.5,897.4 712.6,897.7 713.6,891.8 714.6,884.9 715.6,879.0 716.7,875.9 717.7,869.5 718.8,869.9 719.8,872.2 720.9,873.4 722.0,873.1 723.0,877.1 724.1,875.9 725.2,875.5 726.2,875.0 727.3,872.7 728.4,872.5 729.4,870.7 730.5,869.5 731.6,867.7 732.6,869.0 733.7,868.9 734.8,868.5 735.9,867.8 736.9,868.2 737.9,867.5 739.0,866.8 740.0,863.8 741.0,862.5 742.1,860.5 743.2,859.0 744.2,860.3 745.3,861.0 746.4,863.7 747.5,861.6 748.6,864.6 749.7,865.6 750.9,865.8 752.0,861.3 753.1,859.2 754.2,858.1 755.4,855.5 756.5,850.7 757.6,848.2 758.7,846.4 760.0,851.0 761.3,857.4 762.6,861.8 763.6,866.5 764.6,870.1 765.6,873.7 766.7,874.8 767.7,878.5 768.8,880.1 769.9,879.1 771.0,877.9 772.1,879.0 773.2,879.5 774.3,880.5 775.4,879.7 776.5,880.3 777.5,885.3 778.6,887.2 779.7,887.2 780.7,888.1 781.8,890.0 782.9,890.4 783.9,892.4 785.0,894.7 786.1,895.2 787.1,897.9 788.2,900.3 789.2,900.7 790.3,903.2 791.3,904.1 792.3,907.7 793.3,910.5 794.4,908.8 795.5,908.2 796.6,907.9 797.7,907.2 798.8,903.7 799.9,903.1 801.0,902.8 802.1,903.0 803.1,908.7 804.1,912.3 805.1,916.1 806.2,916.9 807.2,916.6 808.2,916.7 809.2,915.6 810.3,917.4 811.3,915.6 812.3,918.1 813.3,920.5 814.4,924.7 815.4,928.6 816.4,929.7 817.5,931.4 818.5,931.7 819.6,928.4 820.7,931.6 821.8,928.9 822.8,929.7 823.9,927.0 825.0,922.6 826.0,920.1 827.1,916.9 828.2,912.4 829.2,910.5 830.3,912.1 831.4,909.7 832.4,910.3 833.5,907.9 834.6,906.8 835.6,905.4 836.7,901.5 837.8,900.1 838.8,897.4 839.9,896.8 841.0,894.9 842.1,892.6 843.1,891.4 844.2,888.4 845.3,887.5 846.3,882.7 847.4,879.4 848.5,877.2 849.5,874.0 850.5,870.8 851.5,867.9 852.6,867.1 853.6,861.8 854.6,862.1 855.6,863.3 856.7,863.2 857.7,863.4 858.7,864.4 859.8,861.3 860.9,859.2 861.9,856.9 863.0,853.0 864.1,848.6 865.1,846.4 866.2,848.4 867.3,850.7 868.3,851.8 869.4,855.1 870.5,855.6 871.5,860.5 872.6,857.8 873.7,854.2 874.7,848.3 875.8,845.2 876.9,842.9 877.9,837.4 879.0,833.5 880.1,831.4 881.2,826.6 882.3,826.6 883.4,824.3 884.5,819.4 885.6,818.2 886.7,820.5 887.8,821.0 888.9,821.7 890.0,823.5 891.1,823.0 892.2,824.8 893.3,823.3 894.4,825.2 895.4,827.8 896.4,829.5 897.4,833.5 898.5,836.2 899.5,837.8 900.6,839.6 901.7,842.8 902.7,844.7 903.8,844.0 904.9,845.1 906.0,844.7 907.1,843.9 908.2,846.5 909.3,846.6 910.4,844.7 911.5,842.5 912.6,843.8 913.6,842.1 914.7,843.1 915.8,839.0 916.8,840.2 917.9,836.2 919.0,836.2 920.0,838.0 921.0,841.8 922.1,843.6 923.1,849.1 924.1,852.8 925.1,852.8 926.2,852.8 927.2,855.5 928.2,857.5 929.2,859.2 930.3,861.2 931.3,863.1 932.3,863.9 933.3,865.9 934.4,869.5 935.4,867.8 936.5,868.0 937.6,865.8 938.6,862.8 939.7,861.1 940.8,861.8 942.1,854.7 943.3,850.5 944.6,845.1 945.7,843.7 946.8,842.6 947.8,838.6 948.9,835.5 950.0,831.8 951.0,832.3 952.1,827.7 953.1,821.9 954.1,819.4 955.1,813.3 956.2,809.2 957.2,808.4 958.3,807.4 959.4,803.0 960.4,802.4 961.5,800.6 962.6,801.5 963.8,803.5 965.1,805.2 966.4,807.9 967.4,806.2 968.5,802.3 969.5,797.9 970.5,794.9 971.5,793.8 972.6,794.1 973.7,790.4 974.8,788.5 975.9,785.0 977.0,782.7 978.1,782.6 979.2,779.7 980.3,781.6 981.3,783.5 982.3,786.6 983.3,787.7 984.4,788.7 985.4,785.0 986.5,781.1 987.6,779.4 988.6,777.6 989.7,770.7 990.8,768.2 992.1,772.4 993.3,777.3 994.6,783.6 995.9,776.3 997.2,770.0 998.5,764.4 999.5,764.7 1000.5,760.1 1001.5,758.5 1002.6,756.8 1003.6,756.7 1004.7,753.2 1005.7,752.6 1006.8,751.4 1007.9,752.2 1008.9,749.7 1010.0,746.4 1011.1,743.9 1012.1,743.2 1013.2,738.8 1014.3,734.7 1015.3,731.5 1016.4,729.7 1017.4,736.4 1018.5,740.6 1019.5,746.4 1020.5,752.9 1021.5,759.2 1022.6,760.3 1023.6,760.4 1024.6,762.0 1025.6,763.1 1026.7,763.1 1027.8,764.9 1028.9,761.5 1030.0,759.2 1031.1,758.1 1032.2,759.3 1033.3,759.3 1034.4,757.9 1035.6,764.4 1036.9,772.6 1038.2,777.2 1039.5,792.2 1040.8,805.4 1041.8,806.9 1042.8,812.5 1043.8,817.2 1044.9,818.9 1045.9,820.8 1046.9,825.6 1047.9,827.3 1049.0,830.8 1050.0,834.9 1051.0,837.4 1052.1,835.5 1053.1,829.7 1054.1,826.4 1055.1,825.7 1056.2,823.3 1057.4,830.6 1058.7,836.7 1060.0,843.8 1061.0,841.3 1062.1,836.4 1063.1,834.5 1064.1,830.5 1065.1,828.5 1066.2,826.1 1067.2,822.0 1068.2,819.2 1069.2,815.8 1070.3,810.5 1071.3,808.4 1072.4,806.8 1073.5,805.9 1074.5,803.5 1075.6,801.3 1076.7,799.0 1077.7,797.5 1078.8,797.7 1079.9,793.6 1080.9,791.0 1082.0,789.3 1083.1,790.0 1084.1,789.6 1085.1,790.5 1086.2,788.4 1087.2,786.5 1088.2,784.9 1089.3,784.3 1090.3,777.6 1091.4,776.4 1092.5,777.2 1093.5,772.5 1094.6,769.5 1095.6,771.0 1096.7,776.2 1097.7,777.2 1098.7,780.3 1099.7,782.3 1101.0,783.6 1102.3,783.5 1103.6,783.6 1104.7,780.0 1105.8,781.0 1106.9,777.3 1108.0,777.9 1109.1,777.2 1110.2,776.2 1111.3,772.1 1112.4,769.5 1113.4,768.5 1114.5,768.5 1115.6,766.4 1116.6,764.5 1117.7,761.8 1118.7,761.5 1119.7,756.7 1120.8,755.0 1121.8,756.8 1122.8,754.1 1123.9,757.5 1125.0,756.5 1126.0,758.8 1127.1,761.5 1128.2,764.3 1129.2,766.9 1130.3,767.5 1131.4,768.7 1132.4,768.6 1133.5,769.8 1134.6,771.5 1135.6,772.1 1136.7,773.1 1137.8,770.2 1138.8,771.4 1139.9,771.1 1141.0,769.2 1142.1,769.5 1143.1,769.9 1144.1,770.5 1145.1,772.3 1146.2,774.5 1147.2,773.3 1148.2,772.9 1149.3,769.8 1150.4,765.7 1151.5,764.7 1152.5,761.9 1153.6,759.2 1154.6,756.7 1155.6,756.5 1156.7,754.0 1157.7,751.1 1158.7,749.0 1159.7,749.9 1160.8,753.9 1161.8,757.7 1162.8,757.4 1163.8,760.5 1164.9,762.1 1166.0,766.1 1167.1,768.9 1168.1,772.9 1169.2,775.2 1170.3,779.7 1171.3,786.6 1172.3,792.8 1173.3,797.8 1174.4,805.2 1175.4,810.5 1176.7,814.3 1177.9,820.2 1179.2,825.9 1180.3,826.6 1181.4,827.9 1182.4,830.1 1183.5,831.1 1184.6,831.7 1185.6,829.7 1186.7,831.2 1187.8,832.7 1188.8,834.1 1189.9,835.0 1191.0,835.3 1192.1,836.2 1193.1,832.0 1194.1,831.4 1195.1,829.0 1196.2,825.4 1197.2,823.3 1198.3,822.8 1199.4,820.2 1200.5,820.0 1201.6,819.0 1202.7,818.0 1203.8,815.9 1204.9,814.4 1206.0,815.8 1207.1,817.9 1208.2,818.1 1209.3,817.4 1210.4,817.5 1211.5,820.1 1212.6,820.8 1213.6,823.3 1214.6,828.8 1215.6,832.3 1216.7,836.5 1217.7,840.0 1219.0,848.2 1220.3,858.4 1221.5,869.5 1222.6,871.8 1223.6,875.9 1224.6,879.5 1225.6,885.2 1226.7,886.2 1227.7,883.2 1228.7,881.4 1229.7,880.0 1230.8,875.9 1231.8,874.6 1233.1,871.2 1234.4,869.0 1235.6,865.6 1236.7,871.1 1237.7,872.9 1238.7,879.5 1239.7,883.2 1240.8,887.4 1241.8,886.1 1242.8,881.4 1243.8,881.1 1244.9,880.2 1245.9,878.5 1246.9,877.8 1247.9,875.9 1249.0,873.2 1250.0,873.4 1251.0,873.3 1252.1,874.0 1253.2,876.5 1254.2,878.0 1255.3,877.6 1256.4,879.9 1257.4,883.6 1258.6,882.4 1259.7,884.6 1260.8,883.2 1261.9,883.2 1263.0,879.7 1264.2,882.4 1265.3,880.9 1266.4,881.0 1267.4,881.7 1268.5,884.2 1269.5,887.3 1270.5,888.5 1271.5,890.0 1272.6,890.7 1273.7,891.9 1274.7,894.4 1275.8,895.7 1276.9,897.6 1277.9,899.0 1279.0,900.6 1280.1,904.4 1281.2,908.1 1282.3,908.7 1283.4,910.2 1284.5,913.2 1285.6,915.6 1286.7,913.0 1287.8,910.4 1288.8,905.7 1289.9,900.9 1291.0,895.9 1292.1,895.1 1293.1,897.4 1294.2,898.3 1295.3,901.1 1296.3,901.5 1297.4,905.5 1298.5,906.7 1299.6,909.2 1300.7,907.9 1301.8,910.1 1302.9,910.5 1304.0,911.9 1305.1,908.8 1306.2,910.5 1307.2,916.2 1308.3,918.5 1309.4,923.3 1310.4,926.5 1311.5,931.8 1312.6,933.6 1313.6,936.0 1314.7,936.6 1315.8,942.3 1316.8,942.1 1317.9,943.2 1318.9,945.2 1320.0,949.0 1321.0,951.9 1322.1,955.5 1323.1,957.9 1324.1,961.7 1325.1,960.5 1326.2,963.2 1327.2,964.9 1328.2,966.9 1329.2,968.7 1330.3,971.3 1331.3,971.6 1332.3,974.7 1333.3,973.3 1334.4,973.9 1335.5,973.3 1336.5,970.5 1337.6,968.2 1338.7,967.7 1339.7,968.2 1340.8,971.0 1341.9,968.6 1343.0,969.7 1344.1,969.4 1345.2,972.2 1346.3,972.9 1347.4,973.3 1348.5,973.0 1349.6,971.5 1350.6,971.6 1351.7,968.6 1352.8,966.4 1353.8,965.6 1354.9,967.1 1356.0,970.2 1357.1,970.2 1358.1,971.0 1359.2,972.1 1360.3,974.6 1361.3,973.6 1362.3,976.9 1363.3,979.6 1364.4,981.1 1365.4,982.3 1366.5,983.4 1367.5,983.9 1368.6,983.7 1369.7,984.2 1370.7,983.6 1371.8,983.6 1372.8,983.5 1373.8,980.4 1374.9,979.5 1375.9,978.3 1376.9,978.5 1377.9,975.6 1379.0,977.2 1380.0,977.4 1381.0,977.1 1382.1,977.2 1383.1,973.8 1384.2,973.5 1385.3,971.0 1386.3,969.3 1387.4,970.0 1388.5,966.9 1389.5,973.4 1390.5,977.6 1391.5,982.1 1392.6,986.9 1393.6,992.6 1394.6,991.2 1395.6,991.9 1396.7,993.5 1397.7,993.1 1398.7,991.3 1399.7,988.7 1400.8,986.1 1401.8,985.2 1402.8,983.8 1403.8,981.0 1404.9,981.7 1405.9,980.1 1406.9,980.4 1407.9,979.5 1409.0,979.7 1410.0,979.8 1411.1,978.9 1412.2,975.4 1413.2,974.6 1414.3,975.9 1415.4,972.1 1416.5,971.7 1417.5,970.0 1418.6,967.8 1419.7,968.9 1420.7,968.2 1421.8,964.4 1422.9,965.7 1423.9,968.2 1425.0,967.8 1426.1,967.6 1427.1,969.0 1428.2,968.2 1429.2,966.3 1430.3,964.9 1431.3,966.7 1432.3,964.0 1433.3,963.1 1434.4,964.6 1435.4,969.8 1436.4,969.2 1437.4,972.3 1438.5,974.6 1439.5,975.0 1440.6,974.7 1441.7,975.6 1442.7,977.3 1443.8,978.9 1444.9,979.7 1445.9,981.1 1446.9,982.6 1447.9,985.4 1449.0,987.2 1450.0,990.0 1451.0,992.2 1452.1,995.6 1453.1,997.9 1454.1,998.3 1455.1,1002.8 1456.2,1001.2 1457.2,1004.2 1458.2,1003.6 1459.2,1004.9 1460.3,1007.9 1461.3,1007.0 1462.4,1005.6 1463.5,1005.1 1464.5,1004.6 1465.6,1002.3 1466.7,1001.5 1467.7,996.5 1468.7,995.9 1469.7,994.4 1470.8,989.3 1471.8,988.7 1472.8,987.6 1473.8,979.3 1474.9,976.9 1475.9,975.7 1476.9,970.8 1478.0,969.9 1479.1,969.0 1480.1,968.7 1481.2,969.6 1482.3,967.8 1483.3,968.2 1484.4,965.6 1485.5,963.0 1486.6,963.8 1487.7,959.4 1488.8,958.2 1489.9,955.9 1491.0,954.1 1492.1,956.4 1493.1,958.7 1494.1,964.3 1495.1,967.1 1496.2,972.1 1497.2,970.5 1498.2,974.9 1499.2,976.0 1500.3,975.2 1501.3,977.2 1502.6,976.0 1503.8,974.7 1505.1,972.1 1506.2,970.8 1507.2,975.8 1508.2,976.1 1509.2,979.0 1510.3,978.5 1511.4,979.3 1512.5,980.7 1513.6,981.1 1514.7,978.4 1515.8,978.8 1516.8,981.3 1517.9,979.7 1519.0,978.9 1520.0,976.7 1521.0,973.3 1522.1,974.1 1523.1,972.1 1524.2,971.5 1525.3,969.2 1526.4,968.1 1527.5,962.8 1528.6,962.2 1529.7,962.9 1530.8,959.2 1531.8,958.4 1532.8,954.4 1533.8,952.1 1534.9,947.7 1535.9,946.4 1537.0,947.0 1538.0,946.5 1539.1,946.9 1540.2,947.3 1541.2,947.8 1542.3,947.7 1543.3,947.0 1544.4,941.0 1545.4,940.3 1546.4,939.7 1547.4,936.2 1548.5,933.8 1549.5,935.2 1550.5,931.0 1551.5,930.3 1552.6,927.2 1553.6,924.9 1554.6,924.8 1555.6,922.3 1556.7,922.8 1557.7,923.3 1558.7,922.3 1559.7,920.0 1560.8,916.8 1561.8,915.8 1562.8,913.1 1563.8,918.2 1564.9,922.0 1565.9,925.0 1566.9,928.4 1567.9,931.0 1569.0,932.9 1570.0,930.8 1571.0,930.4 1572.1,930.7 1573.1,932.3 1574.1,936.8 1575.1,939.1 1576.2,942.0 1577.2,945.2 1578.2,949.0 1579.2,948.0 1580.3,946.3 1581.3,941.6 1582.3,941.0 1583.3,936.2 1584.4,933.8 1585.4,931.4 1586.4,927.0 1587.4,923.5 1588.5,919.5 1589.7,911.0 1591.0,903.0 1592.3,897.7 1593.6,902.8 1594.9,910.0 1596.2,918.2 1597.2,917.1 1598.2,914.5 1599.2,913.2 1600.3,910.8 1601.3,907.9 1602.3,905.8 1603.3,902.8 1604.4,900.7 1605.4,901.3 1606.4,900.3 1607.7,897.7 1609.0,896.3 1610.3,892.6 1611.3,896.5 1612.3,899.2 1613.3,904.2 1614.4,911.0 1615.4,915.6 1616.7,907.8 1617.9,903.3 1619.2,899.0 1620.5,899.2 1621.8,896.7 1623.1,895.1 1624.1,897.6 1625.2,899.0 1626.3,900.7 1627.4,903.9 1628.4,905.7 1629.5,907.9 1630.5,911.6 1631.5,917.0 1632.6,920.0 1633.6,925.7 1634.6,928.5 1635.7,928.6 1636.8,931.9 1637.8,931.1 1638.9,929.8 1640.0,928.9 1641.0,931.0 1642.1,933.3 1643.1,934.7 1644.1,936.2 1645.1,939.0 1646.2,942.6 1647.2,940.6 1648.2,939.9 1649.2,941.0 1650.3,937.9 1651.3,940.0 1652.3,941.2 1653.3,942.4 1654.4,942.1 1655.4,945.8 1656.4,946.4 1657.5,948.9 1658.5,951.1 1659.6,955.6 1660.7,959.0 1661.8,960.8 1662.8,964.4 1663.9,964.9 1665.0,967.8 1666.0,968.2 1667.1,967.1 1668.2,968.8 1669.2,970.8 1670.3,970.3 1671.4,970.7 1672.4,970.6 1673.5,971.2 1674.6,970.1 1675.6,970.8 1676.7,968.5 1677.7,966.3 1678.7,961.2 1679.7,957.8 1680.8,954.1 1681.8,954.0 1682.9,956.3 1684.0,955.7 1685.0,954.4 1686.1,954.3 1687.2,955.4 1688.2,955.9 1689.3,959.1 1690.4,958.4 1691.5,958.4 1692.5,959.6 1693.6,959.2 1694.7,955.4 1695.7,952.4 1696.8,949.6 1697.9,945.5 1698.9,944.1 1700.0,942.6 1701.0,946.7 1702.1,950.3 1703.1,953.7 1704.1,957.0 1705.1,959.2 1706.2,963.8 1707.3,965.7 1708.3,965.7 1709.4,966.0 1710.5,969.1 1711.5,970.8 1712.6,973.3 1713.7,975.1 1714.7,976.9 1715.8,977.8 1716.9,977.5 1717.9,979.7 1719.0,977.7 1720.0,981.0 1721.0,980.7 1722.1,981.8 1723.1,982.3 1724.1,979.7 1725.1,977.2 1726.2,973.6 1727.2,969.5 1728.2,969.5 1729.2,969.2 1730.3,968.9 1731.3,969.6 1732.3,968.5 1733.3,968.2 1734.4,972.4 1735.4,972.6 1736.4,975.6 1737.4,977.8 1738.5,979.7 1739.5,983.9 1740.5,982.8 1741.5,986.3 1742.6,986.7 1743.6,987.4 1744.6,985.5 1745.6,981.9 1746.7,977.5 1747.7,975.6 1748.7,973.3 1749.7,969.8 1750.8,964.6 1751.8,958.4 1752.8,953.3 1753.8,949.0 1754.9,947.6 1756.0,948.7 1757.1,949.1 1758.1,947.9 1759.2,949.9 1760.3,949.0 1761.3,947.1 1762.3,943.5 1763.3,939.2 1764.4,936.3 1765.4,933.6 1766.5,931.1 1767.5,928.9 1768.6,927.9 1769.7,927.2 1770.7,926.0 1771.8,923.3 1772.8,920.3 1773.8,920.0 1774.9,918.9 1775.9,918.3 1776.9,916.9 1777.9,916.9 1779.0,917.7 1780.0,922.1 1781.0,920.0 1782.1,923.3 1783.1,924.1 1784.2,925.0 1785.3,928.2 1786.3,930.4 1787.4,931.6 1788.5,936.2 1789.5,937.2 1790.6,936.7 1791.7,938.0 1792.7,938.3 1793.8,937.1 1794.9,936.2 1795.9,936.3 1797.0,939.1 1798.1,943.5 1799.1,947.0 1800.2,950.1 1801.3,952.8 1802.3,947.7 1803.3,942.5 1804.4,940.2 1805.4,935.6 1806.4,931.0 1807.5,929.0 1808.5,931.1 1809.6,928.8 1810.7,927.6 1811.8,927.1 1812.8,928.5 1813.9,929.2 1815.0,930.2 1816.0,931.7 1817.1,932.0 1818.2,934.3 1819.2,934.9 1820.3,932.9 1821.4,932.0 1822.4,930.8 1823.5,929.2 1824.6,927.4 1825.6,925.9 1826.7,925.3 1827.8,924.0 1828.9,923.0 1830.0,924.2 1831.1,922.7 1832.2,920.2 1833.3,922.1 1834.4,921.8 1835.5,924.4 1836.5,926.1 1837.6,924.6 1838.7,927.5 1839.7,927.2 1840.8,929.0 1841.9,926.6 1843.0,926.9 1844.1,926.9 1845.2,927.7 1846.3,924.2 1847.4,924.6 1848.5,924.4 1849.6,923.9 1850.6,922.8 1851.7,923.0 1852.8,923.4 1853.8,923.3 1854.9,923.8 1856.0,924.1 1857.1,922.0 1858.1,921.9 1859.2,921.2 1860.3,920.8 1861.3,915.5 1862.3,913.0 1863.3,912.6 1864.4,907.4 1865.4,902.8 1866.5,904.8 1867.5,903.4 1868.6,902.5 1869.7,899.6 1870.7,899.8 1871.8,900.3 1872.8,898.3 1873.8,895.8 1874.9,896.0 1875.9,892.6 1876.9,892.6 1877.9,890.0 1879.0,886.5 1880.0,882.1 1881.0,881.0 1882.1,878.5 1883.1,880.9 1884.1,888.1 1885.1,891.0 1886.2,893.1 1887.2,899.0 1888.2,899.8 1889.2,901.1 1890.3,902.1 1891.3,904.2 1892.3,907.9 1893.4,906.4 1894.5,908.0 1895.6,907.1 1896.7,908.0 1897.8,906.3 1898.9,907.3 1900.0,909.2 1901.1,908.2 1902.1,905.9 1903.2,904.7 1904.3,903.6 1905.3,900.8 1906.4,900.3 1907.7,905.4 1909.0,909.1 1910.3,914.4 1911.5,916.5 1912.8,916.9" stroke="#67ad5b" stroke-width="4.1" fill="none" stroke-linejoin="round" stroke-linecap="round"/><path d="M20.0,902.8 21.0,905.5 22.1,909.6 23.1,909.9 24.1,914.1 25.1,915.6 26.2,915.5 27.3,918.3 28.3,917.3 29.4,916.8 30.5,917.7 31.5,916.9 32.6,917.7 33.7,918.3 34.7,916.7 35.8,917.0 36.9,917.2 37.9,918.2 39.0,916.4 40.1,917.1 41.2,919.1 42.3,920.5 43.4,921.2 44.5,922.5 45.6,923.3 46.7,924.8 47.8,927.7 48.8,930.7 49.9,931.2 51.0,933.3 52.1,936.2 53.1,934.6 54.2,933.6 55.3,933.6 56.3,936.5 57.4,933.6 58.5,936.2 59.5,935.9 60.6,934.6 61.7,934.7 62.7,934.4 63.8,934.5 64.9,932.3 65.9,932.5 67.0,933.0 68.1,933.3 69.1,935.1 70.2,935.4 71.3,937.4 72.4,936.3 73.4,937.1 74.5,938.1 75.6,938.3 76.6,942.9 77.7,942.6 78.7,942.1 79.7,943.0 80.8,946.6 81.8,943.7 82.8,946.4 83.9,947.2 85.0,949.0 86.0,949.9 87.1,952.8 88.2,952.6 89.2,955.4 90.3,955.1 91.4,956.7 92.5,951.6 93.6,954.3 94.7,954.2 95.8,952.0 96.9,951.5 98.0,951.3 99.1,953.9 100.1,953.1 101.2,952.4 102.3,952.3 103.3,952.8 104.4,952.3 105.5,951.2 106.5,954.3 107.6,950.3 108.7,949.2 109.7,951.5 110.8,952.4 111.9,955.1 112.9,956.5 114.0,958.1 115.1,960.4 116.2,961.8 117.2,962.7 118.2,963.3 119.2,967.1 120.3,967.3 121.3,966.9 122.3,969.3 123.3,968.3 124.4,966.1 125.4,964.4 126.4,965.6 127.4,963.3 128.5,961.4 129.5,959.6 130.5,959.1 131.5,959.2 132.6,960.9 133.7,961.2 134.7,965.2 135.8,967.1 136.9,970.0 137.9,970.8 139.0,972.7 140.1,973.7 141.2,975.2 142.2,975.3 143.3,978.6 144.4,979.7 145.4,981.9 146.5,982.3 147.6,983.3 148.6,983.8 149.7,984.8 150.8,987.4 151.8,985.2 152.9,984.7 154.0,982.5 155.0,983.6 156.1,983.1 157.2,982.3 158.2,981.0 159.2,983.7 160.3,987.1 161.3,986.9 162.3,988.7 163.4,988.8 164.4,991.3 165.5,990.9 166.6,993.9 167.6,994.0 168.7,995.1 169.8,995.6 170.9,995.0 171.9,993.2 173.0,993.6 174.1,994.3 175.1,995.1 176.2,995.0 177.3,993.1 178.3,993.5 179.4,993.9 180.5,992.2 181.5,991.3 182.6,990.4 183.7,991.6 184.7,991.6 185.8,989.6 186.9,990.4 187.9,990.0 189.0,991.9 190.0,997.3 191.0,1000.7 192.1,1001.9 193.1,1005.4 194.1,1007.1 195.2,1006.9 196.3,1008.2 197.4,1010.4 198.4,1008.7 199.5,1011.8 200.6,1012.4 201.6,1012.3 202.7,1009.8 203.8,1010.9 204.8,1009.6 205.9,1010.5 206.9,1009.6 207.9,1007.5 209.0,1004.4 210.0,1002.3 211.0,1001.5 212.1,997.3 213.1,995.2 214.1,992.3 215.1,988.1 216.2,984.9 217.2,984.1 218.3,983.6 219.4,977.7 220.4,974.6 221.5,975.3 222.6,973.3 223.7,973.4 224.8,973.6 225.9,971.5 227.0,972.4 228.1,972.4 229.2,973.5 230.3,974.6 231.3,974.2 232.3,973.7 233.3,971.6 234.4,970.8 235.4,970.8 236.4,971.7 237.4,974.8 238.5,974.0 239.5,978.1 240.5,977.2 241.5,977.6 242.6,975.1 243.6,976.7 244.6,974.9 245.6,973.3 246.7,975.3 247.7,974.5 248.7,974.2 249.7,973.8 250.8,977.2 252.1,970.5 253.3,964.2 254.6,959.2 255.7,960.5 256.8,955.8 257.8,955.9 258.9,954.4 260.0,954.4 261.0,952.8 262.3,955.9 263.6,962.0 264.9,965.6 265.9,969.3 266.9,967.6 267.9,968.7 269.0,969.6 270.0,970.8 271.1,968.1 272.1,970.4 273.2,970.5 274.3,969.9 275.3,971.2 276.4,969.5 277.4,968.4 278.5,966.6 279.5,964.9 280.5,963.9 281.5,961.8 282.6,960.6 283.7,958.9 284.7,959.3 285.8,955.5 286.9,954.7 287.9,951.5 289.2,946.8 290.5,943.1 291.8,937.4 292.8,938.4 293.8,936.3 294.9,935.8 295.9,936.5 296.9,936.2 297.9,935.4 299.0,933.2 300.0,929.5 301.0,925.8 302.1,924.6 303.1,923.6 304.1,920.5 305.1,920.9 306.2,919.0 307.2,916.9 308.2,915.8 309.2,912.8 310.3,911.4 311.3,911.7 312.3,910.5 313.4,910.9 314.4,910.7 315.5,914.0 316.6,914.0 317.6,915.8 318.7,916.9 319.8,914.8 320.9,915.6 321.9,914.6 323.0,910.6 324.1,912.0 325.1,910.5 326.2,909.4 327.3,910.1 328.3,906.6 329.4,905.9 330.5,906.4 331.5,904.1 332.7,906.6 333.8,903.9 334.9,902.2 336.0,904.4 337.1,903.0 338.3,904.2 339.4,903.3 340.5,905.4 341.5,904.1 342.6,901.4 343.6,898.1 344.6,895.3 345.6,892.6 346.7,891.4 347.7,889.9 348.7,888.7 349.7,886.1 350.8,884.9 352.1,884.3 353.3,883.6 354.6,879.7 355.7,880.8 356.8,880.1 357.8,884.4 358.9,884.7 360.0,886.2 361.0,887.4 362.1,888.1 363.2,887.2 364.2,888.7 365.3,889.2 366.4,890.3 367.4,891.3 368.5,888.4 369.5,886.0 370.5,880.8 371.5,878.4 372.6,877.2 373.6,876.7 374.7,875.3 375.8,875.8 376.8,873.6 377.9,870.8 379.0,870.8 380.1,870.7 381.2,869.1 382.3,870.0 383.4,870.1 384.5,869.3 385.6,869.2 386.7,866.9 387.7,868.5 388.8,869.2 389.9,870.4 390.9,870.6 392.0,872.9 393.1,875.9 394.1,872.4 395.2,873.1 396.3,873.0 397.4,871.3 398.4,872.2 399.5,869.5 400.5,870.6 401.5,867.9 402.6,865.3 403.6,866.4 404.6,865.6 405.7,868.2 406.8,869.5 407.8,872.0 408.9,871.9 410.0,874.1 411.0,874.6 412.1,868.9 413.1,866.8 414.1,866.7 415.1,860.7 416.2,859.2 417.2,857.3 418.2,856.0 419.2,855.2 420.3,854.3 421.3,852.8 422.4,852.6 423.4,853.3 424.5,854.0 425.6,852.3 426.6,854.6 427.7,852.8 428.7,856.7 429.7,855.1 430.8,856.8 431.8,855.7 432.8,859.2 433.9,857.7 435.0,853.7 436.0,850.4 437.1,850.1 438.2,849.1 439.2,846.4 440.3,845.8 441.3,843.8 442.3,844.3 443.3,845.9 444.4,846.4 445.4,851.0 446.4,850.8 447.4,851.5 448.5,856.2 449.5,859.2 450.5,861.1 451.5,863.7 452.6,865.7 453.6,868.6 454.6,868.2 455.7,866.3 456.8,866.4 457.8,868.6 458.9,865.9 460.0,866.3 461.0,864.4 462.1,864.2 463.2,866.6 464.3,866.9 465.4,865.5 466.5,866.5 467.6,864.3 468.7,865.6 469.8,866.3 470.9,865.9 472.0,864.4 473.1,865.8 474.2,866.1 475.3,867.4 476.4,865.6 477.4,866.7 478.5,866.7 479.5,867.6 480.5,868.3 481.5,869.5 482.6,869.3 483.7,866.5 484.7,862.5 485.8,858.6 486.9,856.8 487.9,852.8 489.0,855.4 490.0,855.5 491.0,858.5 492.1,863.4 493.1,864.4 494.1,864.3 495.1,867.5 496.2,872.3 497.2,875.0 498.2,874.6 499.3,872.4 500.3,870.9 501.4,868.2 502.5,867.4 503.5,865.6 504.6,864.4 505.7,861.0 506.8,859.7 507.8,857.2 508.9,854.8 510.0,855.2 511.0,852.8 512.1,855.1 513.2,855.9 514.2,858.5 515.3,859.5 516.4,860.4 517.4,863.1 518.5,862.7 519.6,862.7 520.6,863.1 521.7,863.2 522.8,864.4 523.8,865.6 524.9,866.5 526.0,865.0 527.1,863.0 528.1,860.0 529.2,859.7 530.3,859.2 531.3,860.7 532.3,864.3 533.3,866.0 534.4,867.4 535.4,869.5 536.5,871.7 537.5,874.6 538.6,876.0 539.7,878.7 540.7,883.0 541.8,884.9 542.8,883.9 543.8,883.5 544.9,886.9 545.9,887.1 546.9,886.2 547.9,886.3 549.0,885.3 550.0,884.4 551.0,881.3 552.1,882.3 553.1,886.0 554.1,886.9 555.1,892.0 556.2,895.6 557.2,897.7 558.2,897.4 559.3,898.6 560.4,899.3 561.5,901.3 562.5,900.4 563.6,902.8 564.7,905.0 565.7,908.0 566.8,909.6 567.9,911.2 568.9,914.3 570.0,915.6 571.1,916.2 572.1,915.8 573.2,914.6 574.3,915.4 575.3,914.1 576.4,916.9 577.5,914.2 578.5,913.2 579.6,914.1 580.7,911.7 581.8,909.6 582.8,910.5 583.9,913.1 585.0,913.2 586.0,913.1 587.1,913.3 588.2,914.0 589.2,916.9 590.3,917.2 591.4,918.4 592.4,918.9 593.5,918.0 594.6,916.5 595.6,916.9 596.7,913.3 597.8,912.3 598.8,913.4 599.9,912.1 601.0,911.9 602.1,910.5 603.1,912.4 604.2,913.6 605.3,914.6 606.3,916.2 607.4,914.3 608.5,918.2 609.5,917.3 610.5,921.4 611.5,920.9 612.6,920.8 613.6,922.1 614.7,920.8 615.7,923.0 616.8,921.0 617.9,921.0 618.9,919.8 620.0,920.8 621.0,915.7 622.1,915.6 623.1,912.0 624.1,910.2 625.1,907.9 626.2,906.8 627.3,906.4 628.3,906.2 629.4,905.2 630.5,904.7 631.5,902.8 632.6,903.7 633.6,902.9 634.6,903.0 635.6,906.0 636.7,906.7 637.7,906.3 638.8,904.1 639.9,901.1 640.9,901.4 642.0,901.8 643.1,897.7 644.4,902.8 645.6,908.3 646.9,915.6 648.2,918.1 649.5,920.9 650.8,924.6 651.8,925.1 652.8,925.4 653.8,924.8 654.9,924.6 655.9,925.9 656.9,928.1 657.9,930.8 659.0,931.7 660.0,934.4 661.0,936.2 662.1,938.0 663.1,940.1 664.1,942.3 665.1,943.1 666.2,943.8 667.2,940.6 668.3,939.6 669.4,937.3 670.4,934.9 671.5,932.0 672.6,931.0 673.8,938.8 675.1,943.0 676.4,946.4 677.6,949.8 678.8,951.1 680.0,954.1 681.1,955.8 682.3,958.1 683.4,961.7 684.5,964.6 685.6,966.9 686.7,966.4 687.7,967.9 688.7,967.1 689.7,969.5 690.8,969.5 692.1,975.4 693.3,982.4 694.6,987.4 695.7,985.8 696.8,985.8 697.8,986.4 698.9,984.4 700.0,982.7 701.0,984.9 702.1,982.8 703.1,982.1 704.1,980.5 705.1,979.0 706.2,977.2 707.2,979.9 708.3,980.1 709.4,980.9 710.4,980.5 711.5,982.8 712.6,982.3 713.6,980.2 714.6,973.9 715.6,972.6 716.7,969.7 717.7,966.9 718.8,966.6 719.8,964.5 720.9,962.0 722.0,959.5 723.0,960.5 724.1,956.7 725.2,956.4 726.2,952.8 727.3,953.0 728.4,951.0 729.4,948.2 730.5,946.4 731.5,941.8 732.6,941.4 733.6,937.4 734.6,936.7 735.6,933.6 736.7,934.0 737.7,936.3 738.7,937.8 739.7,937.4 740.8,940.0 741.8,939.5 742.9,937.7 744.0,935.1 745.0,934.8 746.1,933.1 747.2,933.6 748.2,931.3 749.3,929.5 750.4,927.5 751.5,923.7 752.5,923.6 753.6,922.1 754.6,920.1 755.6,919.5 756.7,920.6 757.7,916.2 758.7,915.6 760.0,920.5 761.3,924.1 762.6,929.7 763.6,929.7 764.6,930.4 765.6,932.8 766.7,934.2 767.7,933.6 768.7,936.6 769.7,937.9 770.8,939.3 771.8,941.4 772.8,943.8 773.8,945.0 774.9,943.8 775.9,943.6 776.9,944.1 777.9,942.6 779.0,945.4 780.1,947.3 781.2,950.1 782.2,954.6 783.3,955.8 784.4,956.7 785.4,956.3 786.4,958.8 787.4,957.5 788.5,957.9 789.5,960.5 790.5,960.1 791.5,961.0 792.6,961.7 793.6,962.0 794.6,961.8 795.7,965.9 796.8,966.4 797.8,967.7 798.9,970.4 800.0,971.5 801.0,970.8 802.1,973.5 803.1,977.0 804.1,975.7 805.1,976.6 806.2,979.7 807.2,976.1 808.2,975.8 809.2,977.4 810.3,975.3 811.3,974.6 812.3,976.0 813.3,974.5 814.4,976.1 815.4,975.9 816.4,977.2 817.5,975.8 818.5,975.9 819.6,975.3 820.7,974.4 821.8,975.9 822.8,974.6 823.8,974.9 824.9,972.9 825.9,970.3 826.9,969.1 827.9,969.5 829.2,964.0 830.5,960.2 831.8,954.1 832.9,954.6 833.9,953.8 835.0,954.2 836.1,954.3 837.1,954.9 838.2,954.1 839.2,951.9 840.3,952.6 841.3,946.2 842.3,943.3 843.3,943.8 844.4,938.8 845.4,937.1 846.4,937.6 847.4,932.5 848.5,929.7 849.5,928.1 850.6,926.5 851.7,923.4 852.7,925.3 853.8,922.0 854.9,919.5 855.9,921.2 857.0,918.9 858.1,917.8 859.1,916.2 860.2,914.2 861.3,914.4 862.3,910.6 863.3,910.4 864.4,907.0 865.4,903.2 866.4,900.3 867.5,902.1 868.5,906.9 869.6,908.4 870.7,909.7 871.8,913.6 872.8,915.6 873.8,913.2 874.9,911.2 875.9,910.0 876.9,908.6 877.9,904.1 879.0,900.6 880.1,903.8 881.2,901.7 882.2,900.2 883.3,900.2 884.4,899.0 885.4,901.4 886.5,900.4 887.6,902.2 888.6,902.3 889.7,906.6 890.8,906.7 891.8,907.0 892.9,906.7 894.0,902.8 895.0,901.9 896.1,902.0 897.2,900.3 898.2,904.6 899.2,910.0 900.3,914.8 901.3,917.5 902.3,922.1 903.3,925.1 904.4,927.2 905.4,929.3 906.4,930.0 907.4,933.6 908.5,933.3 909.6,932.8 910.6,931.8 911.7,931.1 912.8,930.6 913.8,929.7 914.9,929.5 916.0,930.4 917.1,929.5 918.1,929.3 919.2,928.6 920.3,927.2 921.5,937.7 922.8,943.4 924.1,951.5 925.2,952.1 926.2,950.7 927.3,948.0 928.4,946.4 929.4,948.6 930.5,946.4 931.6,947.2 932.6,949.1 933.7,949.9 934.8,948.6 935.9,949.2 936.9,952.8 938.0,951.0 939.1,951.2 940.1,951.4 941.2,951.3 942.3,949.1 943.3,950.3 944.6,945.8 945.9,940.2 947.2,936.2 948.2,932.3 949.3,933.2 950.4,930.6 951.5,929.1 952.5,929.9 953.6,928.5 954.6,926.7 955.6,922.1 956.7,918.2 957.7,915.6 958.7,915.6 959.7,912.1 960.8,911.7 961.8,909.4 962.8,905.4 963.8,904.1 964.9,901.7 966.0,898.8 967.1,898.2 968.1,893.0 969.2,893.1 970.3,890.0 971.3,887.6 972.4,888.2 973.5,888.2 974.5,886.7 975.6,886.6 976.7,887.4 977.7,886.2 978.8,884.9 979.9,882.3 980.9,884.5 982.0,884.4 983.1,882.3 984.4,884.9 985.6,888.3 986.9,887.4 988.2,882.3 989.5,877.9 990.8,874.6 991.8,876.7 992.8,877.4 993.8,882.5 994.9,883.8 995.9,886.2 997.0,889.2 998.0,887.2 999.1,887.0 1000.2,888.8 1001.2,888.5 1002.3,888.7 1003.4,887.9 1004.5,889.1 1005.6,887.5 1006.7,885.5 1007.8,883.8 1008.9,882.8 1010.0,881.0 1011.1,878.8 1012.1,879.1 1013.2,875.9 1014.3,875.5 1015.3,874.4 1016.4,873.3 1017.7,879.4 1019.0,882.1 1020.3,883.6 1021.3,883.6 1022.4,884.8 1023.5,885.1 1024.5,885.9 1025.6,887.0 1026.7,887.4 1027.8,889.9 1028.9,889.7 1030.0,889.5 1031.1,889.3 1032.2,887.3 1033.3,885.0 1034.4,886.2 1035.6,892.4 1036.9,898.3 1038.2,904.1 1039.5,909.4 1040.8,915.9 1042.1,918.2 1043.1,919.4 1044.2,921.9 1045.3,921.6 1046.3,922.1 1047.4,923.8 1048.5,924.6 1049.6,926.0 1050.7,925.0 1051.8,925.4 1052.9,925.3 1054.0,925.4 1055.1,923.2 1056.2,924.6 1057.2,928.3 1058.2,930.1 1059.2,934.1 1060.3,933.7 1061.3,936.2 1062.4,934.2 1063.4,930.1 1064.5,931.5 1065.6,926.3 1066.6,925.2 1067.7,923.3 1068.8,922.2 1069.8,919.7 1070.9,920.8 1072.0,919.0 1073.0,915.6 1074.1,915.6 1075.4,912.7 1076.7,908.9 1077.9,907.9 1079.0,907.4 1080.1,905.5 1081.2,902.6 1082.3,901.7 1083.4,902.9 1084.5,901.7 1085.6,901.5 1086.7,901.9 1087.8,902.5 1088.8,903.2 1089.9,902.9 1091.0,903.2 1092.1,902.8 1093.1,899.6 1094.1,896.2 1095.1,891.8 1096.2,890.9 1097.2,884.9 1098.2,887.1 1099.2,883.8 1100.3,885.5 1101.3,885.9 1102.3,888.7 1103.3,889.5 1104.4,890.2 1105.4,892.4 1106.4,895.6 1107.4,896.4 1108.5,895.2 1109.6,895.6 1110.6,892.9 1111.7,892.8 1112.8,890.2 1113.8,890.0 1114.9,893.0 1116.0,891.5 1117.1,892.9 1118.2,890.3 1119.3,890.6 1120.4,894.8 1121.5,892.6 1122.6,894.2 1123.7,892.2 1124.7,893.9 1125.8,893.9 1126.9,896.9 1127.9,896.4 1129.0,900.8 1130.0,899.7 1131.0,902.1 1132.1,901.2 1133.1,905.4 1134.1,906.7 1135.1,906.1 1136.2,904.6 1137.2,906.5 1138.2,906.7 1139.2,909.2 1140.3,911.3 1141.3,910.1 1142.3,914.7 1143.3,914.4 1144.4,911.6 1145.5,914.7 1146.5,912.4 1147.6,912.4 1148.7,908.9 1149.7,910.5 1150.8,904.8 1151.8,904.4 1152.8,901.0 1153.8,897.0 1154.9,895.1 1155.9,894.2 1156.9,890.4 1157.9,889.5 1159.0,885.6 1160.0,884.9 1161.1,884.0 1162.1,885.3 1163.2,886.7 1164.3,888.6 1165.3,888.0 1166.4,888.7 1167.4,892.3 1168.5,895.2 1169.5,897.4 1170.5,900.4 1171.5,902.8 1172.6,905.1 1173.6,908.0 1174.6,913.0 1175.6,918.9 1176.7,922.1 1177.9,927.3 1179.2,930.9 1180.5,936.2 1181.6,935.0 1182.6,935.9 1183.7,934.3 1184.8,931.8 1185.9,933.4 1186.9,933.6 1188.0,935.1 1189.1,936.3 1190.1,935.0 1191.2,936.9 1192.3,938.0 1193.3,938.7 1194.4,937.1 1195.5,935.7 1196.5,933.0 1197.6,931.5 1198.7,931.3 1199.7,928.5 1200.8,927.4 1201.9,925.8 1202.9,924.7 1204.0,924.7 1205.1,925.1 1206.2,924.6 1207.2,925.6 1208.3,927.2 1209.4,927.7 1210.4,927.7 1211.5,925.2 1212.6,928.5 1213.6,929.9 1214.6,930.6 1215.6,933.5 1216.7,937.4 1217.7,937.4 1218.7,939.3 1219.7,943.9 1220.8,943.9 1221.8,946.7 1222.8,951.5 1223.8,953.6 1224.9,955.5 1225.9,956.2 1226.9,958.2 1227.9,956.7 1229.0,955.9 1230.1,956.5 1231.2,957.9 1232.2,958.2 1233.3,955.5 1234.4,957.9 1235.4,958.9 1236.4,961.4 1237.4,965.7 1238.5,966.5 1239.5,968.2 1240.5,970.6 1241.5,972.9 1242.6,978.9 1243.6,981.3 1244.6,982.3 1245.6,981.1 1246.7,979.4 1247.7,979.2 1248.7,975.6 1249.7,977.2 1250.8,977.7 1251.8,980.9 1252.8,983.6 1253.8,984.5 1254.9,987.4 1256.0,988.5 1257.1,990.4 1258.2,989.4 1259.4,990.7 1260.5,989.8 1261.6,988.7 1262.7,989.7 1263.8,988.7 1264.9,987.8 1266.0,987.4 1267.1,987.2 1268.1,985.4 1269.2,981.9 1270.3,982.3 1271.4,982.0 1272.5,980.3 1273.6,978.5 1274.7,979.0 1275.8,978.3 1276.8,977.9 1277.9,975.9 1279.0,978.8 1280.1,978.1 1281.2,979.3 1282.3,980.0 1283.4,982.0 1284.5,981.1 1285.6,982.3 1286.7,979.5 1287.8,976.6 1288.8,974.1 1289.9,971.0 1291.0,970.8 1292.1,968.2 1293.2,967.3 1294.2,968.2 1295.3,965.9 1296.4,965.3 1297.5,965.5 1298.6,965.8 1299.7,965.6 1300.8,964.7 1301.9,965.8 1302.9,968.7 1304.0,970.2 1305.1,974.5 1306.2,973.3 1307.2,975.0 1308.3,979.3 1309.4,977.8 1310.4,980.1 1311.5,987.3 1312.6,987.4 1313.6,990.1 1314.7,992.4 1315.8,993.9 1316.8,997.1 1317.9,998.4 1318.9,1003.4 1320.0,1005.4 1320.5,997.7 1321.5,999.0 1322.6,999.2 1323.6,1002.3 1324.6,1004.0 1325.6,1007.9 1326.7,1008.9 1327.7,1012.2 1328.7,1016.7 1329.7,1020.6 1330.8,1023.3 1332.1,1025.0 1333.3,1029.7 1334.4,1027.9 1335.4,1023.9 1336.4,1017.8 1337.4,1016.6 1338.5,1010.5 1339.6,1009.6 1340.7,1007.3 1341.8,1008.8 1342.9,1006.8 1344.0,1005.1 1345.1,1002.8 1346.2,1002.8 1347.2,1001.8 1348.2,1001.6 1349.2,1003.2 1350.3,1000.3 1351.3,1000.3 1352.3,999.7 1353.3,998.5 1354.4,995.3 1355.4,995.8 1356.4,992.6 1357.5,996.4 1358.5,998.2 1359.6,1001.2 1360.7,1002.0 1361.8,1004.0 1362.8,1006.7 1363.9,1008.1 1365.0,1008.5 1366.1,1010.0 1367.2,1009.7 1368.3,1010.2 1369.4,1007.5 1370.5,1010.5 1371.6,1009.9 1372.6,1007.4 1373.7,1006.6 1374.8,1006.3 1375.9,1005.0 1376.9,1004.1 1378.0,1002.7 1379.1,999.5 1380.1,998.4 1381.2,994.7 1382.3,991.5 1383.3,990.0 1384.4,987.8 1385.5,984.1 1386.5,979.7 1387.6,976.9 1388.7,974.9 1389.7,972.1 1390.8,974.9 1391.9,973.5 1393.0,973.1 1394.1,970.9 1395.2,974.5 1396.3,975.6 1397.4,974.6 1398.5,972.4 1399.6,969.1 1400.7,969.9 1401.8,967.7 1402.9,968.8 1404.0,967.3 1405.1,964.4 1406.2,965.9 1407.2,968.1 1408.2,966.3 1409.2,969.9 1410.3,969.5 1411.3,966.5 1412.4,965.1 1413.5,962.8 1414.5,962.4 1415.6,960.0 1416.7,959.2 1417.7,957.7 1418.8,957.7 1419.9,958.0 1420.9,958.4 1422.0,959.0 1423.1,956.7 1424.1,956.3 1425.1,948.8 1426.2,947.3 1427.2,946.2 1428.2,942.6 1429.2,944.1 1430.3,947.2 1431.3,947.6 1432.3,950.4 1433.3,954.1 1434.4,955.1 1435.5,958.5 1436.5,960.5 1437.6,960.4 1438.7,959.5 1439.7,961.8 1440.8,961.6 1441.9,961.0 1442.9,962.5 1444.0,963.3 1445.1,964.2 1446.2,965.6 1447.2,968.3 1448.3,968.9 1449.4,968.8 1450.4,970.4 1451.5,971.2 1452.6,972.1 1453.6,971.2 1454.7,969.9 1455.8,972.3 1456.8,972.0 1457.9,972.2 1459.0,973.3 1460.0,973.3 1461.1,973.3 1462.2,975.7 1463.2,975.0 1464.3,975.0 1465.4,974.6 1466.5,973.7 1467.5,974.2 1468.6,973.4 1469.7,973.3 1470.7,971.4 1471.8,972.1 1472.9,969.1 1473.9,967.6 1475.0,965.6 1476.1,965.0 1477.1,964.8 1478.2,961.8 1479.3,959.7 1480.3,959.1 1481.4,959.2 1482.5,958.0 1483.5,956.5 1484.6,954.1 1485.7,951.3 1486.8,949.5 1487.8,948.0 1488.9,947.2 1490.0,945.6 1491.0,943.8 1492.3,942.7 1493.6,939.7 1494.9,938.7 1495.9,941.2 1497.0,942.1 1498.1,944.7 1499.1,946.7 1500.2,949.4 1501.3,954.1 1502.4,951.5 1503.4,950.1 1504.5,948.2 1505.6,944.3 1506.6,945.3 1507.7,941.3 1508.8,939.1 1509.8,937.2 1510.9,935.8 1512.0,935.2 1513.0,934.5 1514.1,932.3 1515.2,932.1 1516.2,939.5 1517.3,941.3 1518.4,943.4 1519.4,943.7 1520.5,946.4 1521.5,947.8 1522.6,946.7 1523.6,948.5 1524.6,948.0 1525.6,947.7 1526.7,947.7 1527.7,948.3 1528.7,944.1 1529.7,946.0 1530.8,943.8 1531.8,941.4 1532.8,940.5 1533.8,937.0 1534.9,935.7 1535.9,932.3 1536.9,932.9 1537.9,932.3 1539.0,931.1 1540.0,929.8 1541.0,925.9 1542.1,928.9 1543.1,930.8 1544.1,932.3 1545.1,932.7 1546.2,936.2 1547.2,933.9 1548.3,934.0 1549.4,933.5 1550.4,932.7 1551.5,931.3 1552.6,932.3 1553.6,932.3 1554.7,934.4 1555.8,934.3 1556.8,934.8 1557.9,933.4 1559.0,933.6 1560.1,932.4 1561.2,933.0 1562.3,935.5 1563.4,935.6 1564.5,936.1 1565.6,936.1 1566.7,937.4 1567.8,937.8 1568.9,938.7 1570.0,937.4 1571.1,938.1 1572.2,935.8 1573.3,934.4 1574.4,936.2 1575.4,937.7 1576.5,939.9 1577.6,942.5 1578.6,944.3 1579.7,945.5 1580.8,946.4 1581.8,943.4 1582.9,942.6 1584.0,941.9 1585.0,940.4 1586.1,938.6 1587.2,936.2 1588.2,934.2 1589.3,933.8 1590.4,930.3 1591.5,928.4 1592.5,928.4 1593.6,925.9 1594.7,926.3 1595.7,924.6 1596.8,922.3 1597.9,922.0 1598.9,920.5 1600.0,920.8 1601.1,920.3 1602.1,919.0 1603.2,918.8 1604.3,915.0 1605.3,912.6 1606.4,913.1 1607.7,913.0 1609.0,909.0 1610.3,907.9 1611.5,912.2 1612.8,918.6 1614.1,924.6 1615.1,928.4 1616.2,929.0 1617.2,930.5 1618.2,934.9 1619.2,937.4 1620.5,934.3 1621.8,927.2 1623.1,923.3 1624.1,922.4 1625.2,926.8 1626.3,930.1 1627.4,931.3 1628.4,931.9 1629.5,933.6 1630.5,933.1 1631.5,936.1 1632.6,941.6 1633.6,943.5 1634.6,943.8 1635.7,944.8 1636.8,945.6 1637.8,946.1 1638.9,944.7 1640.0,945.2 1641.0,946.4 1642.1,949.7 1643.2,950.7 1644.2,955.4 1645.3,956.4 1646.4,957.1 1647.4,959.2 1648.5,961.9 1649.6,962.1 1650.6,965.4 1651.7,966.5 1652.8,966.4 1653.8,966.9 1654.9,970.3 1656.0,971.3 1657.1,974.3 1658.1,975.1 1659.2,977.2 1660.3,979.7 1661.3,980.4 1662.4,982.7 1663.5,984.0 1664.5,987.8 1665.6,988.8 1666.7,991.3 1667.7,993.2 1668.8,990.1 1669.9,989.6 1670.9,988.4 1672.0,988.0 1673.1,987.4 1674.1,988.3 1675.2,987.5 1676.3,986.2 1677.4,982.0 1678.4,980.3 1679.5,979.7 1680.6,977.5 1681.6,976.3 1682.7,975.4 1683.8,972.6 1684.8,970.4 1685.9,969.5 1687.0,969.6 1688.0,968.7 1689.1,964.8 1690.2,964.5 1691.2,963.5 1692.3,959.2 1693.4,958.5 1694.5,958.4 1695.6,956.3 1696.7,954.7 1697.8,955.0 1698.9,955.3 1700.0,954.1 1701.1,955.7 1702.1,958.3 1703.2,958.7 1704.3,961.3 1705.3,963.7 1706.4,964.4 1707.5,967.2 1708.5,966.9 1709.6,968.9 1710.7,970.5 1711.8,973.5 1712.8,974.6 1713.9,975.2 1715.0,974.6 1716.0,977.9 1717.1,978.3 1718.2,979.8 1719.2,981.0 1720.3,984.3 1721.3,982.2 1722.3,983.4 1723.3,981.7 1724.4,984.9 1725.6,975.3 1726.9,968.2 1728.0,968.9 1729.1,969.6 1730.1,968.8 1731.2,969.9 1732.3,969.7 1733.3,972.1 1734.4,970.8 1735.5,973.4 1736.5,975.9 1737.6,978.1 1738.7,978.9 1739.7,977.2 1740.8,978.3 1741.9,978.1 1742.9,975.5 1744.0,974.6 1745.1,970.9 1746.2,972.1 1747.2,967.9 1748.2,960.0 1749.2,956.5 1750.3,951.4 1751.3,946.4 1752.4,947.9 1753.4,949.1 1754.5,948.9 1755.6,951.0 1756.6,950.4 1757.7,954.1 1758.8,955.1 1759.8,956.6 1760.9,955.3 1762.0,958.7 1763.0,959.3 1764.1,957.9 1765.2,957.1 1766.2,955.7 1767.3,952.8 1768.4,951.6 1769.4,950.1 1770.5,949.0 1771.6,949.3 1772.6,947.7 1773.7,945.0 1774.8,943.3 1775.9,940.5 1776.9,938.7 1778.0,935.3 1779.1,933.8 1780.1,932.6 1781.2,932.7 1782.3,931.8 1783.3,931.0 1784.4,931.3 1785.5,929.9 1786.5,927.5 1787.6,925.5 1788.7,924.1 1789.7,923.3 1790.8,922.9 1791.9,922.0 1792.9,923.6 1794.0,926.0 1795.1,927.3 1796.2,925.9 1797.2,923.6 1798.3,924.2 1799.4,925.2 1800.4,925.8 1801.5,926.4 1802.6,923.3 1803.6,923.5 1804.7,921.1 1805.8,921.8 1806.8,921.7 1807.9,923.0 1809.0,922.1 1810.0,920.9 1811.1,922.9 1812.2,924.8 1813.2,927.4 1814.3,926.1 1815.4,927.2 1816.5,926.1 1817.5,928.1 1818.6,927.2 1819.7,927.3 1820.7,927.8 1821.8,927.2 1822.9,927.8 1823.9,924.7 1825.0,927.6 1826.1,925.3 1827.1,923.8 1828.2,924.6 1829.3,923.1 1830.3,923.7 1831.4,924.3 1832.5,924.3 1833.5,925.8 1834.6,927.2 1835.7,926.3 1836.8,926.7 1837.8,925.5 1838.9,926.2 1840.0,925.7 1841.0,925.9 1842.1,926.1 1843.2,926.8 1844.2,926.9 1845.3,928.1 1846.4,929.6 1847.4,929.7 1848.5,928.4 1849.6,929.7 1850.6,929.2 1851.7,929.9 1852.8,931.3 1853.8,928.5 1854.9,929.2 1856.0,929.0 1857.1,931.4 1858.1,931.5 1859.2,929.3 1860.3,931.0 1861.3,929.6 1862.4,927.3 1863.5,925.8 1864.5,924.4 1865.6,921.5 1866.7,920.8 1867.7,918.8 1868.8,913.2 1869.9,909.5 1870.9,907.7 1872.0,902.7 1873.1,900.3 1874.1,900.7 1875.1,899.7 1876.2,900.3 1877.2,899.9 1878.2,901.5 1879.2,900.1 1880.3,898.5 1881.3,897.2 1882.3,896.0 1883.3,893.8 1884.4,896.3 1885.4,900.3 1886.4,905.7 1887.4,907.5 1888.5,910.5 1889.5,912.8 1890.5,914.2 1891.5,917.8 1892.6,919.9 1893.6,922.1 1894.7,923.8 1895.7,925.6 1896.8,923.5 1897.9,924.5 1898.9,925.6 1900.0,927.2 1901.1,928.8 1902.1,932.8 1903.2,933.6 1904.3,935.4 1905.3,933.0 1906.4,936.2 1907.5,935.0 1908.5,938.1 1909.6,938.7 1910.7,939.3 1911.8,940.9 1912.8,941.3" stroke="#3861f6" stroke-width="4.1" fill="none" stroke-linejoin="round" stroke-linecap="round"/><path d="M20.0,920.8 21.3,925.9 22.6,931.6 23.8,936.2 24.9,936.5 25.9,937.4 26.9,937.1 27.9,938.4 29.0,936.2 30.0,934.8 31.0,932.7 32.1,931.0 33.1,930.3 34.1,929.7 35.2,931.3 36.2,932.7 37.3,935.5 38.4,936.2 39.4,933.8 40.5,936.2 41.5,936.6 42.6,937.8 43.6,941.3 44.6,941.5 45.6,942.6 46.7,943.4 47.7,944.6 48.7,944.8 49.7,946.0 50.8,949.0 51.8,946.9 52.8,945.2 53.8,944.2 54.9,945.1 55.9,941.3 57.0,940.4 58.0,941.0 59.1,943.1 60.2,941.6 61.2,944.0 62.3,942.6 63.3,941.7 64.4,943.5 65.4,943.6 66.4,944.4 67.4,946.4 68.5,948.9 69.6,949.9 70.6,950.7 71.7,954.0 72.8,955.0 73.8,955.4 74.9,955.9 76.0,952.7 77.1,952.2 78.1,951.9 79.2,950.3 80.3,949.0 81.3,949.6 82.4,949.2 83.5,949.3 84.5,949.1 85.6,952.2 86.7,951.5 87.7,950.6 88.7,947.9 89.7,944.6 90.8,943.1 91.8,940.0 92.8,940.1 93.8,937.9 94.9,938.8 95.9,939.9 96.9,938.7 97.9,941.8 99.0,944.2 100.0,944.7 101.0,947.5 102.1,946.4 103.1,945.4 104.2,943.0 105.3,945.0 106.3,944.8 107.4,946.4 108.5,943.8 109.6,940.9 110.7,943.6 111.8,941.0 112.9,939.8 114.1,940.5 115.2,941.4 116.3,940.0 117.4,940.0 118.7,942.4 120.0,950.7 121.3,954.1 122.4,954.6 123.4,955.4 124.5,955.2 125.6,955.4 126.6,954.2 127.7,955.4 128.8,955.3 129.8,956.0 130.9,954.5 132.0,953.9 133.0,953.8 134.1,952.8 135.2,954.9 136.2,955.7 137.3,956.6 138.4,960.0 139.4,961.1 140.5,961.8 141.6,965.5 142.6,966.5 143.7,967.0 144.8,967.0 145.9,966.2 146.9,968.2 147.9,969.0 149.0,969.4 150.0,971.1 151.0,972.0 152.1,970.8 153.1,969.8 154.2,970.8 155.3,968.6 156.3,964.9 157.4,965.1 158.5,963.1 159.5,965.1 160.5,967.6 161.5,969.1 162.6,972.9 163.6,972.1 164.6,975.4 165.6,978.9 166.7,979.6 167.7,983.5 168.7,984.9 169.7,986.5 170.8,984.4 171.8,985.2 172.8,983.0 173.8,984.9 174.9,981.9 175.9,980.2 176.9,979.8 177.9,977.2 179.0,972.1 180.0,970.3 181.1,971.9 182.2,971.1 183.2,968.1 184.3,969.0 185.4,968.2 186.4,969.0 187.4,970.7 188.5,974.1 189.5,979.9 190.5,979.7 191.6,981.4 192.6,984.9 193.7,984.2 194.8,984.9 195.9,985.8 196.9,987.4 198.0,987.6 199.1,990.0 200.1,989.0 201.2,989.9 202.3,990.1 203.3,990.0 204.4,988.3 205.5,989.0 206.5,986.8 207.6,988.1 208.7,988.7 209.7,988.7 210.8,985.3 211.8,982.5 212.8,978.4 213.8,976.1 214.9,972.1 216.0,972.7 217.1,971.5 218.2,972.9 219.3,972.3 220.4,972.3 221.5,971.9 222.6,973.3 223.6,972.6 224.7,971.9 225.8,973.6 226.8,974.4 227.9,974.5 229.0,974.6 230.0,974.3 231.1,977.0 232.2,976.1 233.2,978.4 234.3,979.9 235.4,979.7 236.5,978.2 237.6,981.3 238.7,980.0 239.8,979.5 240.9,978.5 242.0,977.4 243.1,978.5 244.1,979.1 245.2,978.7 246.3,980.2 247.4,982.4 248.4,982.7 249.5,982.3 250.5,983.4 251.5,983.4 252.6,983.2 253.6,980.9 254.6,981.0 255.6,977.3 256.7,973.5 257.7,969.1 258.7,966.1 259.7,961.8 260.8,960.2 261.9,962.4 262.9,958.6 264.0,959.8 265.1,960.1 266.2,957.9 267.2,960.5 268.2,961.6 269.2,961.0 270.3,962.9 271.3,964.4 272.4,961.6 273.4,961.6 274.5,960.8 275.6,959.4 276.6,960.2 277.7,957.9 278.7,956.3 279.7,954.8 280.8,953.9 281.8,952.8 282.8,951.5 283.8,952.6 284.9,956.1 285.9,958.4 286.9,958.3 287.9,959.2 289.0,957.7 290.1,958.0 291.2,961.8 292.2,958.1 293.3,960.2 294.4,960.5 295.4,963.6 296.4,963.7 297.4,962.3 298.5,963.5 299.5,965.6 300.8,961.9 302.1,956.8 303.3,954.1 304.4,955.8 305.4,959.5 306.4,962.3 307.4,964.8 308.5,966.9 309.5,966.7 310.5,964.4 311.5,962.7 312.6,961.9 313.6,961.8 314.6,963.5 315.6,963.8 316.7,969.5 317.7,972.1 318.7,973.3 319.7,974.3 320.8,975.9 321.8,976.2 322.8,976.7 323.8,977.2 324.9,971.6 325.9,966.6 326.9,958.4 327.9,954.7 329.0,949.0 330.0,945.6 331.0,943.7 332.1,940.2 333.1,938.4 334.1,938.7 335.2,937.2 336.2,941.0 337.3,943.2 338.4,942.5 339.4,942.0 340.5,945.1 341.5,940.4 342.6,938.7 343.6,940.3 344.6,935.2 345.6,933.6 346.9,929.4 348.2,921.1 349.5,915.6 350.6,913.9 351.6,910.4 352.7,909.9 353.8,908.8 354.8,904.9 355.9,901.5 357.0,901.4 358.0,900.9 359.1,898.9 360.2,898.5 361.2,898.3 362.3,897.7 363.4,901.5 364.4,901.9 365.5,902.5 366.6,903.6 367.6,909.8 368.7,910.5 369.8,907.4 370.9,908.0 371.9,905.2 373.0,902.9 374.1,898.8 375.1,895.1 376.2,894.9 377.3,896.9 378.3,897.8 379.4,898.4 380.5,900.9 381.5,899.0 382.6,894.7 383.7,891.7 384.7,888.3 385.8,883.0 386.9,882.3 387.9,875.9 389.0,880.8 390.1,880.9 391.2,881.6 392.2,885.8 393.3,887.6 394.4,890.0 395.4,887.9 396.5,886.7 397.6,885.1 398.6,883.0 399.7,882.0 400.8,879.7 402.1,877.2 403.3,869.8 404.6,864.4 405.6,865.2 406.7,863.6 407.7,863.5 408.7,863.8 409.7,866.9 410.8,862.4 411.9,858.3 412.9,855.8 414.0,853.3 415.1,849.1 416.2,847.7 417.2,844.6 418.2,843.2 419.2,839.0 420.3,837.8 421.3,834.9 422.3,832.9 423.3,828.8 424.4,824.8 425.4,824.2 426.4,820.8 427.4,820.8 428.5,820.6 429.5,822.8 430.5,825.4 431.5,823.3 432.6,822.5 433.7,818.1 434.7,814.1 435.8,810.6 436.9,807.9 437.9,802.8 439.0,801.8 440.0,802.8 441.0,799.1 442.1,799.5 443.1,799.0 444.1,803.0 445.1,804.7 446.2,804.5 447.2,807.7 448.2,806.7 449.2,806.6 450.3,811.3 451.3,813.2 452.3,812.8 453.3,815.6 454.4,815.5 455.4,814.0 456.4,811.0 457.4,807.9 458.5,807.9 459.5,805.2 460.5,804.2 461.5,802.5 462.6,800.8 463.6,800.3 464.6,800.9 465.6,802.5 466.7,807.7 467.7,807.3 468.7,809.2 469.8,807.7 470.9,802.2 471.9,802.9 473.0,797.8 474.1,795.0 475.1,793.8 476.2,794.2 477.2,796.8 478.2,801.4 479.2,803.2 480.3,805.4 481.5,802.3 482.8,795.0 484.1,791.3 485.1,786.8 486.2,783.2 487.2,780.4 488.2,777.3 489.2,773.3 490.5,774.3 491.8,779.1 493.1,783.6 494.1,786.0 495.2,784.8 496.3,785.0 497.4,785.3 498.4,786.7 499.5,786.2 500.5,783.3 501.5,781.2 502.6,779.1 503.6,776.5 504.6,774.6 505.6,770.3 506.7,764.7 507.7,763.7 508.7,758.7 509.7,754.1 510.8,752.6 511.9,754.0 512.9,752.8 514.0,752.2 515.1,749.4 516.2,751.5 517.3,751.5 518.4,748.4 519.5,749.0 520.5,751.4 521.6,750.6 522.7,747.8 523.8,749.0 525.1,747.5 526.4,749.0 527.7,745.1 529.0,740.9 530.3,734.1 531.5,728.5 532.8,733.6 534.1,739.2 535.4,747.7 536.5,747.2 537.6,750.9 538.7,751.3 539.8,753.7 540.9,754.7 542.0,755.0 543.1,755.4 544.2,757.2 545.3,756.2 546.4,755.6 547.5,755.1 548.6,754.3 549.7,752.4 550.8,750.3 551.8,754.1 552.8,758.5 553.8,758.5 554.9,759.2 555.9,764.4 557.0,765.4 558.0,766.4 559.1,769.7 560.2,771.4 561.2,772.2 562.3,773.3 563.4,776.9 564.4,778.1 565.5,779.1 566.6,778.3 567.6,780.5 568.7,779.7 569.8,777.8 570.9,782.3 571.9,783.2 573.0,783.7 574.1,785.2 575.1,783.6 576.4,779.4 577.7,773.3 579.0,766.9 580.1,768.9 581.2,768.8 582.3,767.2 583.4,771.7 584.5,769.7 585.6,769.5 586.7,770.8 587.8,771.1 588.9,771.9 590.0,773.9 591.1,774.1 592.2,772.2 593.3,772.5 594.4,772.1 595.4,771.1 596.5,766.4 597.6,763.0 598.6,759.2 599.7,759.0 600.8,756.7 601.8,758.2 602.9,759.0 604.0,757.0 605.0,757.6 606.1,757.2 607.2,759.2 608.2,762.0 609.2,760.5 610.3,763.3 611.3,764.6 612.3,765.6 613.4,767.5 614.4,767.0 615.5,767.7 616.6,768.1 617.6,768.8 618.7,770.8 619.8,768.7 620.9,765.9 621.9,761.9 623.0,756.8 624.1,758.0 625.1,752.8 626.2,753.6 627.3,754.2 628.4,755.9 629.5,754.1 630.6,751.1 631.7,752.6 632.8,754.1 634.0,752.8 635.1,754.8 636.2,752.8 637.4,752.8 638.5,751.1 639.7,752.2 640.8,750.5 641.9,751.5 643.1,750.3 644.1,753.2 645.2,756.0 646.3,756.2 647.4,759.3 648.4,763.0 649.5,765.6 650.6,767.0 651.6,767.2 652.7,765.3 653.8,767.0 654.8,765.9 655.9,765.6 657.0,769.6 658.0,769.2 659.1,770.8 660.2,773.7 661.2,775.9 662.3,778.5 663.4,780.3 664.4,782.1 665.5,784.0 666.6,785.8 667.6,788.1 668.7,788.7 669.8,788.7 670.9,787.9 671.9,787.4 673.0,786.6 674.1,788.7 675.1,787.4 676.3,791.4 677.6,799.2 678.8,804.5 680.0,810.5 681.0,814.1 682.1,814.9 683.1,818.2 684.1,818.1 685.2,816.8 686.3,816.1 687.4,816.3 688.4,817.3 689.5,815.6 690.5,820.2 691.5,823.9 692.6,827.6 693.6,830.3 694.6,836.2 695.7,836.8 696.8,835.7 697.8,834.2 698.9,835.6 700.0,832.9 701.0,832.3 702.1,831.1 703.2,832.2 704.2,833.2 705.3,830.8 706.4,832.9 707.4,833.6 708.5,835.9 709.6,835.4 710.6,838.1 711.7,839.6 712.8,838.3 713.8,838.7 714.9,838.4 716.0,837.7 717.1,834.9 718.1,834.4 719.2,829.9 720.3,829.7 721.4,830.6 722.5,831.2 723.6,830.9 724.7,831.0 725.8,829.7 726.8,831.5 727.9,829.7 729.0,827.7 730.1,825.4 731.2,826.8 732.2,822.3 733.3,821.2 734.4,819.5 735.4,821.6 736.5,822.0 737.6,821.5 738.6,823.2 739.7,826.1 740.8,825.9 741.9,825.9 743.0,825.0 744.1,824.8 745.2,826.5 746.3,827.3 747.4,827.5 748.5,828.5 749.6,827.6 750.7,828.4 751.9,827.8 753.0,825.2 754.2,825.3 755.3,823.4 756.4,824.1 757.6,823.5 758.7,820.8 760.0,830.4 761.3,834.9 762.4,838.2 763.4,839.9 764.5,838.3 765.6,839.5 766.6,840.7 767.7,842.6 768.8,844.7 769.8,844.6 770.9,846.3 772.0,848.7 773.0,850.3 774.1,852.8 775.2,850.5 776.2,851.9 777.3,850.4 778.4,850.9 779.4,850.6 780.5,851.5 781.5,855.2 782.6,855.7 783.6,857.2 784.6,857.1 785.6,861.8 786.7,863.7 787.8,866.0 788.8,869.7 789.9,871.2 791.0,874.6 792.1,875.9 793.1,879.0 794.2,879.2 795.3,881.6 796.3,881.8 797.4,882.4 798.5,884.9 799.6,883.8 800.7,883.7 801.8,887.0 802.9,886.4 804.0,886.6 805.1,886.6 806.2,886.2 807.4,894.5 808.7,897.7 809.7,899.6 810.8,898.0 811.8,896.4 812.8,896.2 813.8,896.4 814.9,900.8 815.9,900.4 816.9,902.5 817.9,901.9 819.0,905.4 820.0,903.6 821.1,902.5 822.2,900.6 823.2,898.1 824.3,896.8 825.4,895.1 826.5,895.2 827.5,893.0 828.6,891.3 829.7,888.4 830.7,889.3 831.8,887.4 832.8,888.1 833.8,892.2 834.9,894.4 835.9,895.2 836.9,896.4 838.0,893.4 839.1,890.8 840.1,890.9 841.2,888.2 842.3,889.0 843.3,887.4 844.4,885.9 845.5,883.4 846.5,882.7 847.6,881.7 848.7,879.5 849.7,877.2 850.8,877.5 851.9,875.4 852.9,872.0 854.0,873.0 855.1,871.1 856.2,870.8 857.3,868.4 858.4,868.5 859.5,871.9 860.5,873.9 861.6,874.2 862.7,874.5 863.8,872.1 864.9,873.0 866.0,871.4 867.1,871.0 868.1,873.7 869.2,875.4 870.3,874.6 871.3,873.6 872.3,874.6 873.3,877.2 874.4,880.4 875.4,881.0 876.5,882.2 877.6,879.5 878.7,878.3 879.8,879.1 880.9,879.8 882.0,876.5 883.1,878.5 884.1,877.9 885.2,880.0 886.3,877.9 887.4,880.7 888.4,882.6 889.5,881.0 890.6,883.5 891.7,881.8 892.9,881.1 894.0,879.2 895.1,879.7 896.2,878.9 897.3,880.2 898.5,879.7 899.7,886.3 901.0,894.6 902.3,899.0 903.6,899.2 904.9,903.3 906.2,902.8 907.2,903.3 908.3,899.4 909.4,902.4 910.4,900.5 911.5,899.6 912.6,900.3 913.7,900.3 914.8,897.5 915.9,900.1 917.0,897.9 918.1,897.6 919.2,897.0 920.3,897.7 921.3,901.9 922.3,907.2 923.3,912.2 924.4,920.8 925.4,923.3 926.5,924.1 927.5,922.1 928.6,924.1 929.7,923.0 930.7,921.8 931.8,920.8 932.9,921.4 933.9,918.4 935.0,918.6 936.1,918.9 937.1,919.8 938.2,919.5 939.3,916.6 940.3,917.4 941.4,915.7 942.5,914.3 943.5,914.0 944.6,913.1 945.6,910.3 946.7,908.2 947.7,907.5 948.7,905.1 949.7,902.8 950.8,900.6 951.9,901.1 953.0,899.0 954.1,896.2 955.2,896.6 956.3,892.7 957.4,892.6 958.5,891.8 959.6,889.6 960.6,888.2 961.7,886.8 962.8,885.9 963.8,884.9 964.9,882.8 966.0,878.3 967.1,875.1 968.1,870.3 969.2,868.3 970.3,866.9 971.3,866.3 972.4,867.1 973.5,865.1 974.5,864.7 975.6,864.9 976.7,863.1 977.7,863.8 978.8,860.5 979.9,860.3 980.9,857.9 982.0,858.6 983.1,859.2 984.1,859.6 985.2,856.5 986.3,858.3 987.4,858.7 988.4,858.9 989.5,857.9 990.5,860.5 991.5,859.4 992.6,861.5 993.6,861.3 994.6,863.1 995.7,861.4 996.8,860.5 997.8,859.4 998.9,860.5 1000.0,859.2 1001.0,857.9 1002.1,855.5 1003.3,855.4 1004.4,858.4 1005.5,856.5 1006.6,854.4 1007.8,854.5 1008.9,850.9 1010.0,852.8 1011.1,849.9 1012.1,846.0 1013.2,845.0 1014.3,840.9 1015.3,837.2 1016.4,836.2 1017.4,840.0 1018.5,839.1 1019.5,840.0 1020.5,841.1 1021.5,842.6 1022.6,840.3 1023.7,838.7 1024.7,835.8 1025.8,834.3 1026.9,833.8 1027.9,831.0 1029.0,830.4 1030.1,831.4 1031.2,828.2 1032.3,826.8 1033.4,826.4 1034.5,825.4 1035.6,824.6 1036.9,835.0 1038.2,845.2 1039.5,854.1 1040.8,862.3 1042.1,867.5 1043.3,874.6 1044.4,874.4 1045.5,878.5 1046.5,877.1 1047.6,878.4 1048.7,880.1 1049.7,878.5 1050.8,877.0 1051.9,875.3 1052.9,874.9 1054.0,870.0 1055.1,868.9 1056.2,866.9 1057.2,870.0 1058.2,870.8 1059.2,874.7 1060.3,877.0 1061.3,878.5 1062.3,872.5 1063.3,871.6 1064.4,865.3 1065.4,859.0 1066.4,856.7 1067.5,852.7 1068.5,851.0 1069.6,849.4 1070.7,845.4 1071.8,841.8 1072.8,841.3 1073.9,837.9 1075.0,834.8 1076.0,833.6 1077.1,832.2 1078.2,829.5 1079.2,827.2 1080.3,826.2 1081.4,822.6 1082.4,820.6 1083.5,820.7 1084.6,820.0 1085.6,816.9 1086.7,818.1 1087.7,817.4 1088.7,817.5 1089.7,815.5 1090.8,815.6 1091.8,815.2 1092.8,815.4 1093.8,813.3 1094.9,811.6 1095.9,811.8 1096.9,816.0 1097.9,818.2 1099.0,820.8 1100.0,823.8 1101.0,827.2 1102.1,828.5 1103.2,828.5 1104.2,829.8 1105.3,830.3 1106.4,830.4 1107.4,832.3 1108.5,831.3 1109.6,827.7 1110.6,828.0 1111.7,827.3 1112.8,825.8 1113.8,824.6 1114.9,822.9 1116.0,824.1 1117.1,822.4 1118.1,823.8 1119.2,822.3 1120.3,822.1 1121.3,818.2 1122.3,818.9 1123.3,818.2 1124.4,814.9 1125.4,815.6 1126.5,816.9 1127.5,817.5 1128.6,821.9 1129.7,824.6 1130.7,826.2 1131.8,825.9 1132.8,825.6 1133.8,819.8 1134.9,818.3 1135.9,818.1 1136.9,814.4 1138.0,814.5 1139.1,813.4 1140.1,812.6 1141.2,811.6 1142.3,811.7 1143.3,811.8 1144.4,810.7 1145.5,809.7 1146.5,806.0 1147.6,806.3 1148.7,806.3 1149.7,805.4 1150.8,803.1 1151.8,800.5 1152.8,797.3 1153.8,791.4 1154.9,790.0 1155.9,785.3 1156.9,785.2 1157.9,780.1 1159.0,778.3 1160.0,777.2 1161.1,778.7 1162.1,779.3 1163.2,783.5 1164.3,785.4 1165.3,788.9 1166.4,790.0 1167.4,793.2 1168.5,797.4 1169.5,801.3 1170.5,803.7 1171.5,805.4 1172.8,813.4 1174.1,822.2 1175.4,828.5 1176.7,836.1 1177.9,841.1 1179.2,843.8 1180.3,845.8 1181.4,844.4 1182.4,843.4 1183.5,842.1 1184.6,839.4 1185.6,840.0 1186.7,839.6 1187.8,840.8 1188.9,842.0 1190.0,839.1 1191.1,838.9 1192.2,838.3 1193.3,838.7 1194.4,834.9 1195.4,831.3 1196.4,827.3 1197.4,825.4 1198.5,823.3 1199.5,821.5 1200.6,821.1 1201.7,822.9 1202.7,820.3 1203.8,817.5 1204.9,819.5 1205.9,820.8 1207.0,821.8 1208.1,821.6 1209.1,822.6 1210.2,826.0 1211.3,825.9 1212.4,830.2 1213.4,831.8 1214.5,835.6 1215.6,836.8 1216.6,839.4 1217.7,843.8 1218.7,848.6 1219.7,851.1 1220.8,856.5 1221.8,859.5 1222.8,864.4 1223.8,864.0 1224.9,865.7 1225.9,869.5 1226.9,867.9 1227.9,870.8 1229.0,871.7 1230.1,876.8 1231.2,879.1 1232.2,883.3 1233.3,885.6 1234.4,888.7 1235.4,892.3 1236.4,894.3 1237.4,896.8 1238.5,897.8 1239.5,900.3 1240.5,901.4 1241.5,905.2 1242.6,907.8 1243.6,909.5 1244.6,911.8 1245.6,909.4 1246.7,908.6 1247.7,907.5 1248.7,904.2 1249.7,902.8 1250.8,902.7 1251.9,904.0 1253.0,904.5 1254.1,906.9 1255.2,907.1 1256.3,908.1 1257.4,910.5 1258.5,911.7 1259.6,908.3 1260.7,910.2 1261.8,910.4 1262.9,910.3 1264.0,908.3 1265.1,907.9 1266.4,905.9 1267.7,899.9 1269.0,897.7 1270.1,895.7 1271.2,898.1 1272.3,901.3 1273.5,898.7 1274.6,899.9 1275.7,900.0 1276.8,900.3 1277.9,900.3 1279.0,903.4 1280.1,903.9 1281.2,907.1 1282.3,908.0 1283.4,909.8 1284.5,911.4 1285.6,910.5 1286.7,912.1 1287.8,909.4 1288.9,909.5 1290.0,908.8 1291.1,907.5 1292.2,907.8 1293.3,907.9 1294.4,909.1 1295.5,910.1 1296.6,910.4 1297.7,912.3 1298.8,913.8 1299.9,914.5 1301.0,915.6 1302.1,917.2 1303.2,919.6 1304.3,923.7 1305.4,925.6 1306.5,927.4 1307.6,928.3 1308.7,928.5 1309.8,931.3 1310.9,933.9 1311.9,936.2 1313.0,939.1 1314.1,941.9 1315.1,946.4 1316.3,951.5 1317.6,948.9 1318.8,953.2 1320.0,956.7 1321.0,954.5 1322.1,956.3 1323.1,957.9 1324.1,961.4 1325.2,961.0 1326.3,959.9 1327.4,959.2 1328.4,962.1 1329.5,963.1 1330.8,963.5 1332.1,963.6 1333.3,966.9 1334.4,966.0 1335.4,965.1 1336.4,961.5 1337.4,959.8 1338.5,957.9 1339.5,958.0 1340.6,961.2 1341.7,960.3 1342.7,962.3 1343.8,963.3 1344.9,966.9 1345.9,964.4 1347.0,965.1 1348.1,964.2 1349.1,964.1 1350.2,963.8 1351.3,964.4 1352.3,964.1 1353.3,966.3 1354.4,965.1 1355.4,968.0 1356.4,965.6 1357.5,969.8 1358.5,969.2 1359.6,974.2 1360.7,975.5 1361.8,976.6 1362.8,979.7 1363.8,983.5 1364.9,983.3 1365.9,985.4 1366.9,988.5 1367.9,988.7 1369.0,988.7 1370.0,987.6 1371.0,990.8 1372.1,991.6 1373.1,991.3 1374.1,991.9 1375.2,989.9 1376.3,989.2 1377.4,986.7 1378.4,985.6 1379.5,984.9 1380.5,981.4 1381.5,978.8 1382.6,978.3 1383.6,974.2 1384.6,970.8 1385.9,969.8 1387.2,966.0 1388.5,965.6 1389.5,963.9 1390.6,966.3 1391.7,966.7 1392.7,966.2 1393.8,968.2 1394.9,968.2 1396.0,970.7 1397.1,967.1 1398.2,970.0 1399.3,970.6 1400.4,970.3 1401.5,968.2 1402.6,969.5 1403.6,968.2 1404.7,971.2 1405.8,972.7 1406.8,975.5 1407.9,976.5 1409.0,977.2 1410.1,974.9 1411.2,975.7 1412.3,975.9 1413.4,976.5 1414.5,971.8 1415.6,974.4 1416.7,973.3 1417.7,973.6 1418.8,975.1 1419.9,978.5 1420.9,978.4 1422.0,978.3 1423.1,978.5 1424.1,976.6 1425.2,975.4 1426.3,976.1 1427.4,975.3 1428.4,977.3 1429.5,975.9 1430.5,977.8 1431.5,978.5 1432.6,978.7 1433.6,980.8 1434.6,982.3 1435.7,983.4 1436.8,985.1 1437.8,986.1 1438.9,988.4 1440.0,990.5 1441.0,991.3 1442.1,993.4 1443.2,993.9 1444.2,996.3 1445.3,995.1 1446.4,1000.1 1447.4,1000.3 1448.5,1002.6 1449.5,1005.9 1450.5,1005.5 1451.5,1006.9 1452.6,1009.2 1453.6,1008.7 1454.6,1011.3 1455.6,1009.0 1456.7,1010.1 1457.7,1011.8 1458.8,1010.6 1459.9,1008.3 1461.0,1009.1 1462.1,1008.3 1463.2,1005.4 1464.3,1004.3 1465.4,1001.5 1466.4,1003.2 1467.4,1003.8 1468.5,1005.1 1469.5,1005.9 1470.5,1005.4 1471.6,1005.2 1472.8,1002.7 1473.9,1001.3 1475.0,1000.9 1476.1,1003.1 1477.2,1002.7 1478.4,1001.3 1479.5,1001.5 1480.6,1003.1 1481.7,1003.8 1482.8,1006.8 1483.9,1006.1 1485.0,1005.8 1486.1,1005.5 1487.2,1009.2 1488.3,1009.1 1489.4,1007.6 1490.5,1009.9 1491.6,1010.8 1492.7,1008.8 1493.8,1010.4 1494.9,1010.5 1495.9,1010.0 1497.0,1009.7 1498.1,1011.0 1499.1,1009.3 1500.2,1009.8 1501.3,1010.5 1502.3,1007.4 1503.3,1004.6 1504.4,1001.5 1505.4,1001.0 1506.4,997.7 1507.4,996.9 1508.5,995.5 1509.5,993.3 1510.5,991.3 1511.5,988.7 1512.6,988.9 1513.7,990.1 1514.7,988.6 1515.8,988.7 1516.9,991.1 1517.9,991.3 1519.0,993.2 1520.1,992.9 1521.2,994.9 1522.3,995.4 1523.4,996.5 1524.5,996.4 1525.6,995.1 1526.7,995.4 1527.7,995.4 1528.7,994.2 1529.7,989.8 1530.8,990.0 1531.9,990.3 1533.0,989.1 1534.2,988.8 1535.3,990.8 1536.5,988.8 1537.6,989.1 1538.7,991.2 1539.9,992.8 1541.0,992.6 1542.3,994.6 1543.6,995.1 1544.7,992.7 1545.8,993.4 1546.9,992.1 1548.0,991.1 1549.1,988.8 1550.2,987.1 1551.3,987.4 1552.3,988.7 1553.3,990.8 1554.4,994.0 1555.4,995.0 1556.4,995.1 1557.4,995.8 1558.5,991.8 1559.5,990.6 1560.5,991.2 1561.5,990.0 1562.6,991.6 1563.7,990.5 1564.8,990.9 1565.9,993.9 1567.0,995.9 1568.1,994.2 1569.2,997.7 1570.3,996.9 1571.4,998.3 1572.4,998.8 1573.5,996.9 1574.6,995.4 1575.6,996.4 1576.7,998.9 1577.7,1002.3 1578.7,1007.5 1579.7,1010.9 1580.8,1014.4 1581.8,1011.2 1582.9,1010.7 1584.0,1006.9 1585.0,1007.9 1586.1,1005.6 1587.2,1002.8 1588.2,998.3 1589.2,996.1 1590.3,992.9 1591.3,987.0 1592.3,983.6 1593.4,981.2 1594.4,977.9 1595.5,972.7 1596.6,972.8 1597.6,967.1 1598.7,966.9 1599.7,961.2 1600.8,958.2 1601.8,956.7 1602.8,957.1 1603.8,951.5 1604.9,951.9 1605.9,948.9 1606.9,947.0 1607.9,947.0 1609.0,946.4 1610.0,950.5 1611.0,951.8 1612.1,953.4 1613.1,957.7 1614.1,961.8 1615.1,961.4 1616.2,963.7 1617.2,966.7 1618.2,966.2 1619.2,966.9 1620.5,966.9 1621.8,966.7 1623.1,964.4 1624.1,965.4 1625.1,966.1 1626.2,966.6 1627.2,970.6 1628.2,972.1 1629.3,974.9 1630.3,976.4 1631.4,972.2 1632.5,972.9 1633.5,975.1 1634.6,977.2 1635.9,976.4 1637.2,975.8 1638.5,973.3 1639.7,977.7 1641.0,981.5 1642.3,982.3 1643.3,984.5 1644.4,982.9 1645.4,985.3 1646.4,983.2 1647.4,983.6 1648.5,980.8 1649.6,980.6 1650.6,981.2 1651.7,979.0 1652.8,978.0 1653.8,975.9 1654.9,979.0 1655.9,980.9 1656.9,981.4 1657.9,987.7 1659.0,987.4 1660.0,993.3 1661.0,996.9 1662.1,999.4 1663.1,1003.5 1664.1,1007.9 1665.1,1011.5 1666.2,1012.7 1667.2,1012.9 1668.2,1014.7 1669.2,1016.9 1670.5,1017.1 1671.8,1018.8 1673.1,1020.8 1674.1,1018.9 1675.1,1019.7 1676.2,1015.5 1677.2,1011.7 1678.2,1011.8 1679.2,1007.7 1680.3,1001.0 1681.3,998.1 1682.3,994.0 1683.3,987.4 1684.4,984.1 1685.4,984.3 1686.4,981.6 1687.4,980.9 1688.5,979.7 1689.5,980.0 1690.6,976.0 1691.7,976.3 1692.7,974.6 1693.8,977.0 1694.9,974.6 1695.9,971.7 1697.0,969.8 1698.1,967.2 1699.1,963.7 1700.2,960.6 1701.3,960.5 1702.3,961.5 1703.3,964.2 1704.4,967.7 1705.4,971.2 1706.4,972.1 1707.4,973.7 1708.5,973.7 1709.5,974.1 1710.5,978.3 1711.5,979.7 1712.6,980.9 1713.7,980.7 1714.7,981.0 1715.8,983.4 1716.9,986.6 1717.9,987.4 1719.2,988.4 1720.5,992.2 1721.8,995.1 1723.1,989.6 1724.4,986.5 1725.6,982.3 1726.7,982.2 1727.7,985.0 1728.7,988.4 1729.7,991.7 1730.8,993.8 1732.1,989.9 1733.3,987.0 1734.6,981.0 1735.7,980.6 1736.8,983.2 1737.8,981.6 1738.9,980.3 1740.0,981.5 1741.0,979.7 1742.1,977.5 1743.1,971.0 1744.1,969.4 1745.1,967.3 1746.2,964.4 1747.2,964.5 1748.3,959.1 1749.4,956.6 1750.4,956.0 1751.5,955.5 1752.6,952.8 1753.6,952.4 1754.7,954.8 1755.8,956.0 1756.8,958.1 1757.9,958.2 1759.0,959.2 1760.0,958.9 1761.1,962.4 1762.2,964.7 1763.2,965.7 1764.3,966.0 1765.4,969.5 1766.4,968.4 1767.4,964.6 1768.5,962.9 1769.5,961.8 1770.5,956.7 1771.6,955.1 1772.6,951.3 1773.7,946.5 1774.8,942.6 1775.9,941.0 1776.9,936.2 1777.9,936.0 1779.0,932.4 1780.0,930.7 1781.0,929.6 1782.1,928.5 1783.1,923.3 1784.1,921.3 1785.1,920.5 1786.2,918.7 1787.2,915.6 1788.2,916.6 1789.3,918.3 1790.4,915.6 1791.5,917.2 1792.5,916.2 1793.6,916.9 1794.7,915.5 1795.7,917.4 1796.8,915.7 1797.9,917.7 1798.9,918.5 1800.0,919.5 1801.1,919.3 1802.1,916.4 1803.2,916.1 1804.3,916.6 1805.3,914.9 1806.4,914.4 1807.5,914.9 1808.5,915.5 1809.6,914.7 1810.7,914.1 1811.8,915.2 1812.8,916.9 1813.9,919.5 1815.0,920.1 1816.0,921.2 1817.1,924.9 1818.2,926.8 1819.2,927.2 1820.3,926.4 1821.4,924.2 1822.4,923.8 1823.5,919.8 1824.6,918.7 1825.6,916.9 1826.7,917.3 1827.8,915.4 1828.8,914.6 1829.9,915.8 1831.0,917.1 1832.1,914.4 1833.1,915.0 1834.2,917.9 1835.3,917.8 1836.3,919.5 1837.4,921.2 1838.5,920.8 1839.5,925.0 1840.6,925.2 1841.7,925.8 1842.7,928.8 1843.8,931.1 1844.9,931.0 1845.9,931.9 1846.9,932.3 1847.9,933.9 1849.0,933.5 1850.0,936.2 1851.1,936.1 1852.1,933.0 1853.2,931.3 1854.3,929.9 1855.3,927.0 1856.4,927.2 1857.5,926.6 1858.6,926.3 1859.7,929.1 1860.8,927.7 1861.9,927.4 1863.0,925.7 1864.1,928.5 1865.2,925.5 1866.2,924.4 1867.3,920.2 1868.4,917.8 1869.4,915.3 1870.5,913.1 1871.8,913.0 1873.1,907.8 1874.4,907.9 1875.6,913.5 1876.9,915.0 1878.2,918.2 1879.2,914.5 1880.3,911.0 1881.3,909.8 1882.3,909.6 1883.3,906.7 1884.6,911.2 1885.9,918.0 1887.2,923.3 1888.2,925.6 1889.3,927.8 1890.4,930.7 1891.5,931.7 1892.5,933.9 1893.6,933.6 1894.6,934.6 1895.6,935.7 1896.7,935.5 1897.7,935.3 1898.7,936.2 1899.7,935.5 1900.8,934.4 1901.8,932.3 1902.8,928.5 1903.8,928.5 1904.9,929.3 1905.9,930.6 1906.9,930.9 1907.9,930.8 1909.0,931.0 1910.3,933.8 1911.5,935.2 1912.8,934.9" stroke="#df484c" stroke-width="4.1" fill="none" stroke-linejoin="round" stroke-linecap="round"/><path d="M20.0,1206.2 21.3,1209.0 22.6,1212.7 23.8,1219.0 24.9,1214.3 25.9,1213.7 26.9,1210.2 27.9,1211.0 29.0,1208.7 30.0,1211.4 31.1,1210.4 32.2,1211.8 33.2,1212.0 34.3,1212.0 35.4,1213.8 36.5,1212.9 37.5,1214.1 38.6,1216.3 39.7,1216.7 40.7,1216.6 41.8,1217.7 42.9,1219.5 43.9,1219.0 45.0,1220.3 46.1,1220.5 47.1,1221.3 48.2,1222.8 49.3,1225.3 50.3,1224.1 51.4,1224.0 52.5,1224.7 53.5,1226.5 54.6,1224.1 55.7,1224.0 56.8,1227.6 57.8,1224.6 58.9,1225.1 60.0,1226.8 61.0,1226.7 62.1,1226.8 63.2,1224.5 64.2,1227.1 65.3,1226.8 66.4,1227.0 67.4,1227.9 68.5,1228.8 69.6,1229.3 70.6,1228.9 71.7,1231.1 72.8,1232.5 73.8,1230.5 74.9,1230.1 76.0,1231.0 77.1,1230.8 78.2,1228.8 79.3,1228.7 80.4,1230.4 81.5,1229.2 82.6,1228.7 83.7,1229.0 84.7,1228.6 85.8,1228.4 86.9,1225.7 87.9,1227.9 89.0,1228.2 90.0,1226.1 91.0,1227.3 92.1,1226.6 93.1,1225.4 94.1,1227.4 95.2,1229.3 96.3,1229.2 97.4,1230.5 98.4,1231.2 99.5,1229.2 100.6,1228.2 101.7,1229.2 102.8,1226.3 103.9,1226.8 105.0,1228.7 106.1,1228.8 107.2,1226.7 108.3,1225.3 109.4,1230.0 110.5,1229.8 111.6,1230.3 112.7,1230.5 113.8,1228.2 114.9,1230.5 115.9,1228.4 117.0,1232.5 118.1,1230.7 119.1,1230.9 120.2,1231.1 121.3,1231.8 121.6,1249.7 122.6,1250.4 123.6,1248.4 124.6,1247.1 125.7,1248.4 126.7,1249.6 127.7,1249.7 128.8,1249.6 129.9,1248.0 131.0,1248.4 132.1,1245.7 133.2,1245.1 134.3,1244.5 135.4,1245.9 136.4,1248.9 137.4,1248.8 138.5,1249.5 139.5,1249.0 140.5,1248.5 141.6,1247.4 142.7,1246.5 143.8,1243.7 144.9,1242.9 146.0,1242.3 147.1,1244.2 148.2,1243.3 149.3,1244.5 150.5,1244.7 151.6,1242.1 152.8,1242.6 153.9,1243.1 155.0,1240.9 156.2,1241.1 157.3,1239.2 158.5,1238.2 159.5,1239.5 160.5,1240.6 161.5,1243.3 162.6,1244.7 163.6,1247.2 164.7,1244.0 165.8,1247.8 166.9,1247.8 168.0,1245.3 169.1,1243.4 170.2,1243.5 171.3,1243.3 172.4,1244.3 173.5,1244.5 174.6,1241.7 175.7,1241.9 176.8,1245.2 177.9,1245.1 179.0,1244.6 180.1,1243.5 181.2,1243.3 182.3,1244.1 183.4,1247.5 184.5,1247.3 185.6,1249.3 186.7,1248.5 187.9,1250.7 189.2,1254.8 190.5,1260.0 191.6,1260.5 192.6,1259.9 193.7,1263.0 194.8,1263.1 195.9,1263.4 196.9,1263.8 198.0,1261.2 199.1,1261.7 200.1,1259.3 201.2,1257.3 202.3,1256.7 203.3,1257.4 204.4,1256.7 205.5,1253.4 206.5,1252.7 207.6,1255.2 208.7,1254.9 209.7,1252.3 210.8,1254.1 211.9,1251.1 212.9,1248.4 214.0,1248.2 215.1,1249.0 216.2,1247.2 217.2,1249.3 218.3,1247.4 219.4,1246.5 220.4,1245.1 221.5,1246.4 222.6,1247.2 223.6,1247.6 224.7,1246.4 225.8,1247.2 226.8,1247.3 227.9,1247.2 229.0,1249.7 230.0,1245.7 231.1,1243.7 232.2,1243.9 233.2,1242.2 234.3,1238.5 235.4,1238.2 236.5,1239.0 237.6,1240.9 238.7,1239.8 239.8,1239.6 240.9,1239.1 242.0,1240.2 243.1,1240.8 244.1,1241.8 245.2,1241.9 246.3,1243.4 247.4,1243.7 248.4,1244.4 249.5,1244.6 250.6,1243.7 251.6,1241.6 252.7,1240.5 253.8,1240.9 254.8,1242.9 255.9,1239.5 257.2,1235.1 258.5,1229.3 259.7,1224.1 260.8,1226.1 261.8,1225.9 262.8,1223.9 263.8,1223.5 264.9,1222.8 265.9,1223.4 266.9,1223.6 267.9,1225.1 269.0,1224.3 270.0,1227.9 271.1,1228.0 272.2,1227.4 273.3,1229.3 274.4,1227.8 275.5,1228.8 276.6,1230.3 277.7,1230.5 278.8,1228.7 279.8,1232.3 280.9,1229.3 282.0,1227.9 283.0,1227.3 284.1,1227.9 285.2,1226.7 286.2,1227.0 287.3,1226.2 288.4,1223.7 289.4,1222.1 290.5,1221.5 291.5,1218.4 292.6,1218.7 293.6,1220.3 294.6,1219.7 295.6,1219.0 296.7,1218.8 297.7,1215.7 298.7,1216.2 299.7,1212.1 300.8,1210.0 301.8,1208.7 302.8,1210.2 303.8,1208.7 304.9,1207.1 305.9,1207.4 307.0,1208.8 308.1,1207.5 309.2,1206.7 310.3,1208.0 311.4,1208.2 312.5,1208.1 313.6,1206.2 314.7,1206.6 315.8,1207.1 316.9,1204.6 318.0,1207.7 319.1,1207.5 320.2,1207.0 321.3,1207.4 322.3,1206.3 323.3,1202.3 324.4,1200.3 325.4,1198.8 326.4,1195.9 327.4,1193.7 328.5,1189.8 329.5,1187.0 330.5,1184.2 331.5,1183.1 332.6,1182.8 333.7,1183.1 334.7,1184.1 335.8,1183.6 336.9,1183.7 337.9,1185.6 339.0,1183.4 340.1,1183.9 341.2,1180.4 342.2,1179.7 343.3,1178.1 344.4,1176.7 345.4,1174.2 346.4,1171.4 347.4,1165.6 348.5,1165.3 349.5,1162.6 350.6,1160.9 351.6,1162.4 352.7,1160.2 353.8,1157.1 354.8,1157.5 355.9,1156.2 356.9,1155.6 357.9,1156.1 359.0,1159.1 360.0,1160.0 361.0,1162.6 362.1,1164.7 363.2,1165.1 364.2,1166.2 365.3,1170.5 366.4,1172.6 367.4,1171.5 368.5,1169.5 369.5,1165.8 370.5,1163.7 371.5,1164.1 372.6,1160.0 373.6,1159.0 374.7,1156.3 375.8,1156.5 376.8,1154.5 377.9,1154.2 379.0,1153.6 380.1,1154.0 381.2,1151.8 382.3,1149.6 383.4,1148.7 384.5,1149.6 385.6,1147.2 386.7,1144.6 387.7,1146.1 388.8,1145.5 389.9,1147.2 390.9,1145.7 392.0,1144.9 393.1,1144.6 394.1,1144.4 395.2,1142.7 396.3,1140.6 397.4,1139.5 398.4,1140.1 399.5,1140.8 400.6,1139.1 401.7,1142.0 402.8,1140.9 403.9,1140.6 405.0,1138.1 406.1,1137.9 407.2,1136.9 408.2,1140.2 409.2,1144.9 410.3,1148.8 411.3,1152.0 412.3,1154.9 413.4,1151.5 414.4,1149.9 415.5,1149.7 416.6,1147.6 417.6,1145.2 418.7,1144.6 419.8,1143.0 421.0,1142.4 422.1,1143.9 423.2,1142.5 424.3,1144.0 425.4,1143.0 426.6,1142.7 427.7,1140.8 428.7,1140.5 429.7,1143.5 430.8,1144.2 431.8,1146.7 432.8,1149.7 433.9,1150.2 435.0,1148.3 436.1,1149.2 437.2,1146.2 438.3,1145.1 439.4,1144.4 440.5,1143.3 441.6,1143.1 442.6,1141.4 443.7,1140.8 444.8,1138.8 445.9,1141.0 446.9,1139.5 448.0,1141.0 449.1,1141.3 450.2,1140.6 451.3,1141.0 452.4,1143.0 453.5,1142.1 454.6,1143.3 455.7,1144.3 456.8,1144.8 457.9,1142.9 459.0,1142.2 460.1,1141.2 461.2,1142.1 462.3,1139.5 463.4,1139.2 464.4,1139.3 465.5,1140.3 466.6,1138.2 467.6,1137.8 468.7,1136.9 469.8,1136.1 470.9,1136.1 472.0,1137.2 473.1,1138.7 474.2,1137.3 475.3,1137.1 476.4,1138.2 477.5,1138.6 478.5,1139.6 479.6,1137.6 480.7,1139.1 481.8,1138.0 482.8,1139.5 483.9,1137.2 485.0,1135.2 486.0,1134.1 487.1,1133.8 488.2,1131.6 489.2,1131.8 490.3,1131.7 491.4,1131.5 492.4,1131.5 493.5,1132.2 494.6,1130.2 495.6,1130.5 496.7,1129.3 497.8,1125.8 498.8,1126.9 499.9,1125.1 501.0,1123.9 502.1,1124.1 503.2,1123.5 504.2,1123.7 505.3,1123.7 506.4,1122.0 507.5,1122.9 508.6,1122.7 509.7,1121.5 510.8,1121.1 511.9,1121.8 513.0,1121.3 514.1,1121.3 515.2,1120.3 516.3,1121.0 517.4,1119.0 518.5,1119.4 519.6,1115.0 520.6,1116.8 521.7,1113.7 522.8,1110.8 523.8,1111.3 524.9,1111.4 526.0,1114.1 527.1,1115.5 528.1,1114.8 529.2,1117.4 530.3,1116.4 531.3,1118.4 532.3,1121.4 533.3,1124.3 534.4,1126.8 535.4,1129.2 536.5,1127.2 537.6,1131.4 538.7,1130.5 539.8,1132.1 540.9,1131.2 542.0,1132.5 543.1,1133.1 544.2,1130.4 545.4,1131.7 546.5,1132.1 547.6,1129.7 548.8,1127.6 549.9,1127.8 551.1,1127.4 552.2,1128.1 553.3,1127.9 554.6,1134.2 555.9,1138.0 557.2,1140.8 558.3,1142.3 559.4,1140.7 560.5,1142.3 561.6,1143.9 562.7,1146.3 563.8,1148.6 564.9,1149.7 565.9,1151.9 567.0,1151.0 568.1,1152.5 569.1,1153.1 570.2,1154.0 571.3,1154.9 572.4,1154.8 573.5,1155.4 574.6,1155.4 575.8,1156.8 576.9,1156.0 578.0,1156.3 579.1,1158.6 580.3,1156.2 581.4,1157.1 582.5,1157.2 583.6,1154.4 584.7,1155.4 585.8,1155.5 586.8,1154.9 587.9,1153.6 589.0,1154.9 590.1,1155.2 591.2,1152.9 592.3,1153.4 593.4,1152.2 594.5,1153.9 595.6,1152.3 596.7,1151.9 597.7,1154.0 598.7,1154.0 599.7,1157.2 600.8,1157.4 601.8,1155.5 602.9,1157.3 604.0,1160.1 605.0,1160.7 606.1,1160.1 607.2,1161.3 608.2,1162.4 609.3,1163.9 610.4,1163.8 611.5,1163.3 612.5,1161.8 613.6,1162.6 614.7,1162.4 615.8,1161.4 617.0,1161.2 618.1,1158.7 619.2,1159.6 620.3,1158.8 621.4,1158.6 622.6,1157.4 623.7,1156.3 624.8,1156.2 625.9,1156.3 627.0,1154.5 628.1,1154.2 629.2,1152.2 630.3,1152.3 631.4,1151.9 632.5,1149.7 633.6,1151.6 634.7,1149.3 635.8,1149.4 636.8,1147.3 637.9,1148.5 639.0,1147.7 640.1,1145.4 641.2,1143.9 642.2,1144.5 643.3,1142.8 644.4,1144.6 645.6,1149.9 646.9,1151.6 648.2,1154.9 649.3,1156.2 650.3,1156.3 651.4,1156.2 652.5,1158.5 653.5,1157.6 654.6,1157.4 655.7,1158.7 656.8,1157.7 657.8,1159.9 658.9,1160.9 660.0,1162.5 661.0,1162.6 662.1,1165.3 663.2,1161.8 664.3,1162.4 665.4,1163.0 666.5,1163.0 667.6,1164.8 668.7,1165.1 669.8,1166.1 670.9,1164.9 671.9,1165.8 673.0,1167.8 674.1,1168.6 675.1,1170.3 676.3,1172.3 677.6,1174.9 678.8,1176.5 680.0,1180.5 680.5,1185.6 681.5,1186.6 682.6,1187.1 683.6,1188.0 684.6,1186.5 685.6,1186.9 686.7,1186.5 687.7,1186.3 688.7,1182.8 689.7,1182.3 690.8,1184.4 691.8,1186.2 692.8,1189.7 693.8,1193.8 694.9,1195.6 695.9,1199.7 697.0,1203.0 698.1,1204.3 699.2,1204.2 700.3,1202.0 701.4,1204.8 702.5,1205.5 703.6,1207.4 704.7,1207.0 705.8,1207.5 706.9,1205.5 708.0,1205.2 709.1,1205.4 710.2,1204.2 711.3,1204.9 712.4,1205.1 713.5,1207.0 714.6,1204.9 715.7,1205.4 716.8,1203.0 717.9,1202.9 719.0,1203.6 720.1,1203.2 721.2,1200.4 722.3,1200.7 723.4,1199.5 724.5,1199.8 725.6,1198.8 726.7,1195.9 727.8,1195.3 728.9,1195.1 730.0,1193.3 731.1,1192.3 732.2,1190.6 733.3,1190.0 734.4,1192.1 735.4,1189.6 736.5,1188.8 737.6,1185.8 738.6,1185.3 739.7,1184.8 740.8,1183.1 741.9,1182.7 743.0,1182.0 744.1,1180.5 745.2,1181.2 746.3,1177.8 747.4,1178.4 748.5,1177.9 749.5,1178.6 750.6,1178.6 751.7,1174.6 752.7,1174.9 753.8,1173.6 754.9,1175.4 755.9,1173.0 757.0,1172.0 758.1,1173.5 759.1,1171.6 760.2,1169.6 761.3,1170.3 762.4,1170.7 763.5,1171.7 764.6,1171.8 765.7,1169.5 766.8,1169.6 767.9,1170.6 769.0,1171.5 770.1,1171.8 771.2,1170.9 772.3,1170.8 773.4,1170.3 774.5,1170.5 775.6,1168.5 776.7,1170.3 777.7,1170.4 778.8,1169.8 779.9,1168.4 780.9,1170.1 782.0,1169.3 783.1,1171.5 784.1,1174.2 785.1,1175.3 786.2,1175.2 787.2,1178.2 788.2,1177.9 789.3,1177.8 790.3,1177.6 791.4,1176.7 792.5,1177.4 793.5,1175.5 794.6,1176.7 795.6,1178.2 796.7,1178.0 797.7,1179.0 798.7,1180.9 799.7,1181.8 800.8,1179.7 801.9,1180.1 802.9,1179.0 804.0,1180.2 805.1,1179.1 806.2,1179.2 807.4,1184.2 808.7,1186.1 810.0,1192.1 811.1,1191.9 812.1,1193.2 813.2,1192.0 814.3,1190.5 815.3,1192.2 816.4,1190.8 817.5,1193.0 818.5,1190.4 819.6,1191.9 820.7,1191.8 821.8,1192.1 822.8,1194.6 823.9,1195.9 825.0,1195.2 826.0,1195.5 827.1,1197.8 828.2,1198.1 829.2,1197.2 830.5,1193.4 831.8,1188.2 832.9,1186.2 834.0,1186.0 835.1,1186.5 836.2,1186.7 837.3,1184.2 838.4,1183.5 839.5,1184.4 840.5,1180.8 841.5,1182.3 842.6,1181.2 843.6,1181.1 844.6,1177.9 845.7,1175.1 846.8,1177.4 847.8,1173.6 848.9,1171.1 850.0,1171.9 851.0,1171.5 852.1,1172.0 853.2,1169.1 854.2,1169.4 855.3,1168.7 856.4,1167.8 857.4,1166.4 858.5,1166.6 859.6,1166.1 860.6,1165.5 861.7,1164.2 862.8,1161.6 863.8,1160.0 864.9,1159.7 866.0,1157.7 867.1,1161.5 868.1,1158.4 869.2,1156.4 870.3,1158.7 871.5,1160.6 872.8,1164.0 874.1,1166.4 875.1,1164.7 876.2,1161.0 877.2,1160.2 878.2,1156.6 879.2,1154.9 880.3,1154.4 881.4,1153.9 882.4,1151.4 883.5,1150.8 884.6,1151.6 885.6,1149.7 886.7,1150.0 887.8,1152.9 888.8,1150.3 889.9,1153.1 891.0,1155.2 892.1,1156.2 893.2,1156.2 894.2,1154.2 895.3,1155.3 896.4,1156.4 897.5,1155.1 898.6,1155.9 899.7,1156.2 901.0,1159.1 902.3,1165.5 903.6,1172.8 904.7,1171.3 905.7,1173.0 906.8,1174.3 907.9,1173.0 908.9,1174.1 910.0,1175.4 911.1,1176.5 912.1,1174.6 913.2,1176.3 914.3,1176.1 915.3,1175.8 916.4,1175.4 917.4,1176.7 918.5,1175.9 919.5,1176.1 920.5,1175.7 921.5,1174.1 922.6,1177.0 923.6,1176.7 924.6,1182.2 925.6,1184.7 926.7,1185.6 927.7,1187.4 928.7,1188.2 929.7,1189.6 930.8,1189.6 931.8,1192.1 932.9,1192.8 933.9,1191.8 935.0,1193.3 936.1,1193.3 937.1,1194.0 938.2,1194.6 939.3,1196.8 940.3,1193.7 941.4,1193.8 942.5,1193.9 943.5,1193.4 944.6,1192.1 945.6,1190.5 946.7,1188.1 947.7,1186.5 948.7,1183.1 949.7,1183.1 950.8,1180.9 951.9,1181.5 953.0,1181.9 954.1,1178.9 955.2,1178.1 956.3,1177.2 957.4,1176.7 958.5,1176.4 959.6,1172.3 960.6,1173.5 961.7,1173.0 962.8,1168.3 963.8,1169.0 964.9,1168.2 965.9,1164.6 966.9,1158.9 967.9,1159.2 969.0,1156.2 970.0,1152.8 971.1,1154.8 972.2,1154.1 973.2,1152.2 974.3,1150.1 975.4,1149.7 976.4,1148.3 977.4,1148.6 978.5,1147.8 979.5,1147.0 980.5,1147.2 981.6,1150.7 982.6,1153.0 983.7,1154.7 984.8,1158.2 985.9,1157.2 986.9,1160.0 987.9,1158.1 989.0,1157.5 990.0,1151.6 991.0,1150.5 992.1,1149.7 993.1,1149.0 994.2,1151.1 995.3,1149.1 996.3,1147.5 997.4,1147.2 998.5,1145.9 999.5,1145.8 1000.6,1147.2 1001.7,1143.9 1002.7,1145.5 1003.8,1145.1 1004.9,1143.3 1006.0,1145.5 1007.1,1143.2 1008.2,1142.9 1009.3,1142.4 1010.4,1141.0 1011.5,1140.0 1012.6,1140.8 1013.6,1141.6 1014.7,1138.6 1015.8,1138.9 1016.8,1140.8 1017.9,1143.2 1019.0,1142.1 1020.0,1145.3 1021.0,1145.6 1022.1,1146.2 1023.1,1146.1 1024.1,1149.7 1025.2,1151.3 1026.2,1149.7 1027.3,1147.4 1028.4,1148.4 1029.4,1146.0 1030.5,1147.2 1031.5,1147.1 1032.6,1146.4 1033.6,1146.3 1034.6,1144.9 1035.6,1143.3 1036.9,1150.9 1038.2,1157.6 1039.5,1165.1 1040.5,1166.8 1041.5,1168.2 1042.6,1171.6 1043.6,1176.8 1044.6,1179.2 1045.7,1176.8 1046.8,1182.1 1047.8,1179.6 1048.9,1179.7 1050.0,1180.9 1051.0,1180.5 1052.3,1182.7 1053.6,1182.9 1054.9,1186.9 1055.9,1184.4 1056.9,1183.7 1057.9,1183.8 1059.0,1181.6 1060.0,1180.5 1061.0,1177.2 1062.1,1177.1 1063.1,1176.1 1064.1,1172.1 1065.1,1171.5 1066.2,1171.2 1067.3,1171.8 1068.4,1170.9 1069.5,1169.9 1070.6,1168.6 1071.7,1168.8 1072.8,1167.7 1073.9,1166.8 1075.0,1165.2 1076.1,1166.5 1077.2,1164.0 1078.3,1161.5 1079.4,1161.7 1080.5,1160.0 1081.6,1157.5 1082.7,1159.0 1083.8,1158.0 1084.9,1158.1 1086.0,1157.7 1087.1,1155.1 1088.2,1154.9 1089.3,1154.0 1090.4,1153.9 1091.5,1153.6 1092.6,1152.7 1093.7,1150.5 1094.8,1151.4 1095.9,1151.0 1097.0,1153.2 1098.0,1152.9 1099.1,1155.4 1100.2,1156.7 1101.2,1157.9 1102.3,1160.0 1103.4,1159.1 1104.4,1157.3 1105.5,1157.4 1106.6,1157.3 1107.6,1158.1 1108.7,1157.4 1109.8,1158.6 1110.9,1157.7 1112.0,1156.6 1113.1,1155.8 1114.2,1153.1 1115.3,1154.0 1116.4,1153.6 1117.5,1152.3 1118.6,1153.9 1119.7,1153.2 1120.8,1152.2 1121.9,1150.6 1123.0,1150.2 1124.1,1149.7 1125.2,1149.0 1126.3,1148.9 1127.4,1148.7 1128.5,1146.8 1129.6,1148.5 1130.7,1147.0 1131.8,1147.2 1132.9,1146.3 1133.9,1143.8 1135.0,1144.7 1136.1,1141.6 1137.1,1139.6 1138.2,1136.9 1139.3,1136.5 1140.3,1133.8 1141.4,1134.7 1142.5,1133.2 1143.5,1131.9 1144.6,1131.8 1145.7,1132.8 1146.8,1131.0 1147.9,1129.4 1149.0,1127.7 1150.1,1127.7 1151.2,1129.4 1152.3,1129.2 1153.4,1127.4 1154.5,1127.7 1155.6,1128.7 1156.7,1126.5 1157.8,1125.6 1158.9,1124.5 1160.0,1125.4 1161.1,1122.3 1162.2,1122.9 1163.3,1123.4 1164.4,1122.5 1165.5,1122.9 1166.6,1122.2 1167.7,1120.3 1168.7,1121.0 1169.7,1122.6 1170.8,1126.4 1171.8,1128.3 1172.8,1130.5 1173.8,1133.3 1174.9,1139.2 1175.9,1143.5 1176.9,1147.3 1177.9,1149.7 1179.0,1153.6 1180.1,1154.3 1181.2,1153.0 1182.2,1155.8 1183.3,1156.3 1184.4,1157.4 1185.5,1156.6 1186.6,1158.3 1187.7,1159.0 1188.8,1159.3 1189.9,1159.1 1191.0,1158.3 1192.1,1160.0 1193.1,1158.8 1194.2,1157.9 1195.3,1158.0 1196.3,1158.9 1197.4,1155.8 1198.5,1154.9 1199.5,1153.3 1200.6,1153.6 1201.7,1152.8 1202.7,1151.0 1203.8,1150.0 1204.9,1148.5 1205.9,1148.4 1207.0,1150.7 1208.1,1151.6 1209.1,1153.6 1210.2,1151.6 1211.3,1152.3 1212.4,1153.5 1213.4,1154.9 1214.5,1155.6 1215.6,1156.7 1216.6,1158.3 1217.7,1160.0 1218.7,1162.9 1219.7,1164.3 1220.8,1167.8 1221.8,1167.7 1222.8,1172.8 1223.8,1173.3 1224.9,1176.8 1225.9,1176.4 1226.9,1179.8 1227.9,1183.1 1229.0,1185.2 1230.0,1187.3 1231.0,1187.6 1232.1,1189.8 1233.1,1190.8 1234.1,1191.0 1235.2,1191.9 1236.3,1193.4 1237.4,1192.4 1238.4,1190.3 1239.5,1193.3 1240.5,1194.3 1241.5,1196.8 1242.6,1199.4 1243.6,1204.3 1244.6,1204.9 1245.6,1208.8 1246.7,1210.1 1247.7,1210.3 1248.7,1214.1 1249.7,1216.4 1250.8,1216.0 1251.9,1214.3 1252.9,1219.0 1254.0,1219.0 1255.1,1218.2 1256.2,1216.4 1257.2,1217.8 1258.3,1217.3 1259.4,1214.4 1260.4,1213.4 1261.5,1215.6 1262.6,1215.1 1263.7,1216.1 1264.8,1215.0 1265.9,1213.0 1267.0,1212.8 1268.1,1212.9 1269.2,1211.1 1270.3,1208.7 1271.3,1211.1 1272.4,1209.0 1273.5,1210.8 1274.5,1209.1 1275.6,1208.5 1276.7,1210.0 1277.8,1209.4 1278.9,1211.1 1280.0,1213.6 1281.1,1214.4 1282.2,1214.4 1283.3,1214.3 1284.4,1216.4 1285.4,1217.6 1286.5,1217.4 1287.6,1216.6 1288.6,1216.0 1289.7,1217.8 1290.8,1219.0 1291.9,1219.7 1293.0,1218.5 1294.1,1219.5 1295.2,1217.2 1296.3,1215.6 1297.4,1218.1 1298.5,1217.7 1299.5,1217.2 1300.6,1218.4 1301.7,1217.9 1302.7,1219.3 1303.8,1218.9 1304.9,1221.5 1306.0,1221.4 1307.1,1222.6 1308.2,1223.6 1309.3,1225.0 1310.4,1223.3 1311.5,1225.5 1312.6,1226.7 1313.6,1225.5 1314.7,1226.5 1315.8,1228.1 1316.8,1228.8 1317.9,1231.1 1318.9,1229.4 1320.0,1229.2 1320.9,1229.8 1321.8,1225.4 1322.9,1225.1 1323.9,1225.8 1325.0,1226.3 1326.1,1227.6 1327.1,1228.6 1328.2,1229.2 1329.2,1228.1 1330.3,1229.6 1331.3,1229.1 1332.3,1229.7 1333.3,1231.8 1334.4,1230.9 1335.4,1229.0 1336.4,1227.3 1337.4,1226.8 1338.5,1227.9 1339.6,1228.1 1340.7,1229.5 1341.8,1229.7 1342.9,1230.0 1344.0,1229.4 1345.1,1230.2 1346.2,1230.5 1347.3,1230.8 1348.4,1230.3 1349.5,1229.6 1350.5,1231.1 1351.6,1231.8 1352.7,1230.4 1353.8,1231.8 1354.9,1230.7 1355.9,1230.8 1356.9,1227.6 1357.9,1226.4 1359.0,1227.9 1360.0,1226.9 1361.1,1228.4 1362.2,1232.1 1363.2,1231.8 1364.3,1236.5 1365.4,1235.6 1366.4,1237.6 1367.4,1237.5 1368.5,1239.1 1369.5,1239.6 1370.5,1239.5 1371.5,1238.6 1372.6,1236.5 1373.6,1234.2 1374.6,1232.9 1375.6,1229.2 1376.7,1228.2 1377.8,1229.7 1378.8,1227.4 1379.9,1227.2 1381.0,1228.6 1382.1,1225.4 1383.2,1224.9 1384.2,1224.1 1385.3,1223.4 1386.4,1224.9 1387.5,1224.3 1388.6,1224.4 1389.7,1224.1 1390.8,1224.2 1391.9,1223.6 1393.0,1222.1 1394.1,1223.0 1395.2,1222.5 1396.3,1226.2 1397.4,1225.4 1398.5,1224.3 1399.6,1222.3 1400.6,1221.4 1401.7,1219.9 1402.8,1221.9 1403.8,1220.3 1404.9,1219.8 1406.0,1221.4 1407.1,1221.7 1408.1,1223.5 1409.2,1222.8 1410.3,1224.1 1411.4,1223.9 1412.5,1225.5 1413.6,1225.2 1414.7,1223.5 1415.8,1225.3 1416.8,1225.5 1417.9,1224.1 1419.0,1224.5 1420.1,1223.9 1421.2,1223.7 1422.3,1224.2 1423.4,1224.5 1424.5,1223.6 1425.6,1222.8 1426.7,1221.3 1427.8,1223.0 1428.8,1225.9 1429.9,1226.1 1431.0,1228.3 1432.1,1229.2 1433.1,1230.5 1434.2,1231.9 1435.3,1234.7 1436.3,1235.5 1437.4,1236.1 1438.5,1236.9 1439.7,1239.5 1441.0,1240.8 1442.3,1244.6 1443.4,1243.5 1444.4,1242.4 1445.5,1242.2 1446.6,1240.7 1447.6,1241.5 1448.7,1240.8 1449.7,1240.6 1450.8,1240.9 1451.8,1244.2 1452.8,1244.9 1453.8,1243.3 1454.9,1243.7 1456.0,1244.6 1457.1,1242.3 1458.1,1241.4 1459.2,1241.0 1460.3,1240.8 1461.4,1238.9 1462.5,1241.7 1463.6,1240.5 1464.7,1238.5 1465.8,1238.4 1466.8,1237.8 1467.9,1238.2 1469.0,1238.3 1470.1,1237.2 1471.2,1236.9 1472.2,1238.7 1473.3,1239.6 1474.4,1240.8 1475.4,1240.8 1476.4,1241.4 1477.4,1243.0 1478.5,1243.6 1479.5,1244.6 1480.6,1247.2 1481.6,1247.0 1482.7,1246.5 1483.8,1247.6 1484.8,1248.1 1485.9,1247.2 1486.9,1246.9 1487.9,1244.1 1489.0,1243.5 1490.0,1242.0 1491.0,1239.5 1492.1,1239.0 1493.2,1237.8 1494.2,1238.1 1495.3,1236.5 1496.4,1234.9 1497.4,1235.6 1498.5,1236.8 1499.6,1233.7 1500.6,1234.7 1501.7,1230.4 1502.8,1231.5 1503.8,1230.5 1504.9,1230.9 1506.0,1230.1 1507.1,1230.8 1508.1,1230.6 1509.2,1228.5 1510.3,1229.2 1511.3,1228.5 1512.3,1227.4 1513.3,1223.7 1514.4,1221.0 1515.4,1221.5 1516.4,1219.0 1517.4,1217.3 1518.5,1215.9 1519.5,1215.3 1520.5,1213.8 1521.6,1213.8 1522.7,1213.1 1523.8,1214.3 1524.9,1212.1 1526.0,1211.6 1527.1,1212.9 1528.2,1212.6 1529.3,1212.6 1530.4,1211.6 1531.5,1213.0 1532.6,1213.0 1533.7,1211.8 1534.8,1210.5 1535.9,1210.0 1537.0,1210.9 1538.1,1209.0 1539.2,1210.2 1540.3,1209.8 1541.4,1208.2 1542.5,1207.6 1543.6,1206.2 1544.6,1204.3 1545.6,1201.1 1546.7,1201.7 1547.7,1197.4 1548.7,1197.2 1549.8,1194.5 1550.9,1196.6 1552.0,1197.8 1553.1,1196.1 1554.2,1197.7 1555.3,1198.6 1556.4,1195.9 1557.5,1194.6 1558.5,1196.0 1559.6,1196.6 1560.7,1193.4 1561.8,1190.8 1562.8,1192.1 1563.8,1195.1 1564.9,1196.5 1565.9,1198.3 1566.9,1198.3 1567.9,1202.3 1569.0,1202.5 1570.0,1203.8 1571.0,1205.2 1572.1,1206.0 1573.1,1204.9 1574.1,1203.5 1575.1,1204.0 1576.2,1200.0 1577.2,1200.1 1578.2,1198.5 1579.3,1198.9 1580.3,1201.6 1581.4,1201.0 1582.5,1200.1 1583.5,1199.8 1584.6,1201.0 1585.7,1199.5 1586.8,1196.7 1587.8,1197.4 1588.9,1197.4 1590.0,1195.6 1591.0,1195.9 1592.3,1185.4 1593.6,1172.8 1594.7,1175.4 1595.7,1175.3 1596.8,1174.1 1597.9,1173.0 1598.9,1174.4 1600.0,1172.8 1601.1,1172.3 1602.1,1172.7 1603.2,1169.7 1604.3,1168.2 1605.3,1167.9 1606.4,1165.1 1607.7,1164.0 1609.0,1163.2 1610.3,1160.0 1611.5,1167.0 1612.8,1173.2 1614.1,1177.9 1615.1,1180.1 1616.2,1183.3 1617.2,1183.3 1618.2,1186.4 1619.2,1185.6 1620.3,1185.3 1621.4,1183.9 1622.4,1184.5 1623.5,1184.9 1624.6,1184.5 1625.6,1183.1 1626.7,1186.1 1627.7,1187.8 1628.7,1192.9 1629.7,1195.7 1630.8,1198.5 1631.8,1199.3 1632.8,1202.3 1633.8,1203.1 1634.9,1208.3 1635.9,1210.0 1637.0,1208.3 1638.0,1210.2 1639.1,1209.5 1640.2,1209.5 1641.2,1209.0 1642.3,1208.7 1643.4,1210.2 1644.4,1210.7 1645.5,1210.9 1646.6,1212.6 1647.6,1213.8 1648.7,1212.6 1649.8,1213.9 1650.9,1211.6 1651.9,1211.8 1653.0,1212.3 1654.1,1212.4 1655.1,1213.8 1656.2,1214.1 1657.2,1215.1 1658.2,1218.7 1659.2,1219.8 1660.3,1222.8 1661.3,1224.6 1662.4,1225.5 1663.5,1227.2 1664.5,1230.5 1665.6,1231.7 1666.7,1233.1 1667.8,1234.2 1668.9,1232.9 1670.0,1232.0 1671.1,1232.8 1672.2,1235.6 1673.3,1235.5 1674.4,1234.4 1675.5,1236.7 1676.6,1236.3 1677.7,1234.5 1678.8,1232.5 1679.9,1231.8 1681.0,1233.4 1682.1,1234.4 1683.3,1224.1 1684.4,1223.9 1685.5,1224.1 1686.5,1222.1 1687.6,1223.1 1688.7,1224.7 1689.7,1222.8 1690.8,1222.4 1691.9,1223.5 1693.0,1220.3 1694.1,1221.1 1695.2,1221.0 1696.3,1222.9 1697.4,1221.5 1698.5,1219.5 1699.5,1219.6 1700.5,1220.6 1701.5,1218.0 1702.6,1219.0 1703.6,1219.5 1704.6,1220.3 1705.6,1220.3 1706.7,1223.0 1707.7,1224.1 1708.8,1225.6 1709.8,1226.3 1710.9,1226.7 1712.0,1226.5 1713.0,1228.0 1714.1,1229.2 1715.2,1229.9 1716.3,1230.4 1717.5,1231.1 1718.6,1230.8 1719.7,1230.1 1720.8,1229.1 1722.0,1231.5 1723.1,1230.5 1724.1,1230.2 1725.1,1230.1 1726.2,1230.8 1727.2,1230.9 1728.2,1229.2 1728.7,1213.8 1729.7,1215.2 1730.8,1213.6 1731.8,1213.8 1732.8,1212.8 1733.8,1211.8 1734.9,1211.6 1735.9,1213.8 1737.0,1213.9 1738.1,1210.9 1739.2,1211.9 1740.3,1212.4 1741.4,1210.8 1742.5,1212.0 1743.6,1212.6 1744.6,1212.5 1745.6,1209.3 1746.7,1209.7 1747.7,1206.4 1748.7,1206.2 1749.8,1207.3 1750.9,1205.7 1751.9,1205.5 1753.0,1204.0 1754.1,1205.6 1755.1,1206.2 1756.2,1206.8 1757.3,1206.8 1758.3,1207.4 1759.4,1206.9 1760.5,1206.4 1761.5,1208.7 1762.6,1208.0 1763.7,1206.1 1764.8,1205.6 1765.9,1207.3 1767.0,1206.0 1768.1,1207.6 1769.2,1207.4 1770.3,1205.8 1771.4,1203.0 1772.4,1199.1 1773.5,1200.5 1774.6,1199.2 1775.6,1195.9 1776.7,1194.1 1777.8,1195.3 1778.9,1192.4 1780.0,1194.5 1781.1,1195.2 1782.2,1192.7 1783.3,1193.3 1784.4,1195.8 1785.5,1195.0 1786.5,1196.1 1787.6,1196.4 1788.7,1195.0 1789.7,1198.5 1790.8,1201.6 1791.8,1200.5 1792.8,1200.5 1793.8,1204.0 1794.9,1203.6 1796.2,1200.2 1797.4,1196.5 1798.7,1195.9 1799.8,1194.1 1800.9,1192.9 1802.0,1192.7 1803.1,1194.2 1804.2,1193.8 1805.3,1193.0 1806.4,1194.6 1807.5,1195.8 1808.5,1193.3 1809.6,1194.0 1810.7,1193.3 1811.8,1192.1 1812.8,1190.8 1813.9,1191.3 1815.0,1191.2 1816.1,1194.4 1817.2,1193.7 1818.3,1195.6 1819.4,1192.4 1820.5,1194.6 1821.6,1192.9 1822.7,1194.2 1823.8,1194.4 1824.9,1195.7 1826.0,1195.6 1827.1,1195.0 1828.2,1194.6 1829.3,1195.3 1830.3,1194.5 1831.4,1190.7 1832.5,1191.4 1833.5,1192.7 1834.6,1192.1 1835.7,1193.8 1836.8,1192.4 1837.8,1192.7 1838.9,1191.9 1840.0,1192.6 1841.0,1193.3 1842.1,1195.1 1843.2,1194.4 1844.3,1193.7 1845.4,1192.5 1846.5,1190.2 1847.6,1191.4 1848.7,1190.8 1849.8,1190.2 1850.9,1189.4 1851.9,1189.9 1853.0,1187.8 1854.1,1188.4 1855.1,1186.9 1856.2,1189.4 1857.3,1188.4 1858.3,1188.2 1859.4,1186.4 1860.5,1189.3 1861.5,1189.5 1862.6,1187.1 1863.7,1189.6 1864.7,1190.6 1865.8,1190.1 1866.9,1192.1 1867.9,1190.8 1869.0,1190.1 1870.1,1190.0 1871.2,1187.7 1872.2,1188.5 1873.3,1186.6 1874.4,1186.9 1875.4,1187.6 1876.5,1185.7 1877.6,1184.2 1878.6,1186.1 1879.7,1184.4 1880.8,1183.1 1881.8,1184.9 1882.8,1185.1 1883.8,1186.7 1884.9,1185.8 1885.9,1185.6 1887.0,1185.9 1888.0,1186.8 1889.1,1187.2 1890.2,1188.8 1891.2,1191.1 1892.3,1192.1 1893.4,1193.3 1894.4,1193.7 1895.5,1194.7 1896.6,1195.0 1897.6,1195.1 1898.7,1197.2 1899.8,1198.6 1900.9,1197.5 1901.9,1198.3 1903.0,1199.7 1904.1,1198.5 1905.1,1199.7 1906.2,1200.5 1907.2,1202.1 1908.2,1200.7 1909.2,1201.1 1910.3,1202.3 1911.5,1208.8 1912.8,1210.0" stroke="#3861f6" stroke-width="4.1" fill="none" stroke-linejoin="round" stroke-linecap="round"/><path d="M20.0,1148.5 21.3,1154.6 22.6,1157.6 23.8,1165.1 24.9,1163.4 26.0,1164.2 27.1,1161.9 28.1,1158.1 29.2,1158.5 30.3,1157.4 31.3,1161.0 32.3,1162.6 33.3,1167.4 34.4,1168.3 35.4,1170.3 36.5,1169.8 37.5,1172.5 38.6,1175.5 39.7,1178.6 40.7,1179.7 41.8,1180.5 42.9,1183.1 43.9,1183.1 45.0,1187.0 46.1,1188.1 47.1,1192.7 48.2,1193.3 49.3,1194.8 50.3,1193.3 51.4,1195.0 52.5,1195.6 53.5,1195.0 54.6,1195.9 55.7,1197.0 56.8,1195.5 57.9,1195.9 59.0,1197.1 60.1,1193.8 61.2,1196.6 62.3,1194.6 63.4,1194.7 64.4,1193.8 65.5,1193.3 66.6,1196.0 67.6,1193.1 68.7,1195.9 69.8,1196.8 70.9,1196.4 71.9,1196.9 73.0,1197.7 74.1,1198.5 75.1,1199.7 76.2,1198.2 77.3,1199.1 78.3,1198.8 79.4,1196.6 80.5,1196.3 81.5,1194.6 82.6,1194.1 83.7,1194.4 84.7,1195.9 85.8,1193.8 86.9,1192.6 87.9,1192.1 89.0,1191.2 90.1,1189.4 91.2,1192.0 92.2,1189.4 93.3,1188.1 94.4,1188.2 95.4,1189.5 96.5,1192.5 97.6,1193.4 98.6,1194.2 99.7,1194.0 100.8,1193.3 101.8,1192.5 102.9,1194.3 104.0,1194.1 105.0,1196.8 106.1,1195.0 107.2,1194.6 108.2,1192.4 109.3,1192.9 110.4,1195.6 111.5,1196.6 112.5,1195.4 113.6,1197.2 114.6,1197.5 115.6,1198.1 116.7,1199.6 117.7,1200.3 118.7,1201.0 120.0,1204.5 121.3,1212.3 122.6,1219.0 123.6,1218.9 124.7,1219.8 125.8,1219.9 126.8,1218.1 127.9,1218.6 129.0,1217.7 130.0,1217.5 131.1,1217.2 132.2,1218.3 133.2,1218.5 134.3,1216.0 135.4,1216.4 136.5,1218.3 137.5,1217.5 138.6,1218.3 139.7,1218.2 140.7,1220.1 141.8,1220.3 142.8,1220.9 143.8,1221.2 144.9,1222.3 145.9,1226.3 146.9,1227.9 148.0,1226.9 149.1,1226.9 150.1,1226.4 151.2,1228.3 152.3,1228.9 153.3,1227.9 154.4,1227.0 155.5,1227.8 156.5,1227.5 157.6,1227.9 158.7,1230.1 159.7,1227.9 160.8,1232.4 161.9,1235.0 162.9,1234.4 164.0,1240.0 165.1,1241.7 166.2,1243.3 167.3,1244.4 168.4,1245.9 169.5,1243.5 170.5,1242.5 171.6,1243.5 172.7,1241.2 173.8,1243.3 174.9,1242.4 176.0,1243.6 177.1,1243.6 178.1,1243.9 179.2,1244.1 180.3,1242.1 181.3,1241.7 182.3,1241.5 183.3,1241.5 184.4,1243.3 185.4,1242.1 186.5,1241.3 187.5,1244.5 188.6,1244.5 189.7,1245.3 190.7,1249.4 191.8,1249.7 192.9,1252.0 193.9,1251.4 195.0,1252.3 196.1,1249.3 197.1,1250.7 198.2,1249.7 199.3,1247.9 200.3,1245.6 201.4,1248.3 202.5,1248.9 203.5,1247.5 204.6,1244.6 205.7,1243.6 206.8,1240.8 207.8,1240.0 208.9,1241.2 210.0,1240.8 211.0,1236.9 212.1,1238.1 213.2,1236.5 214.2,1236.3 215.3,1235.2 216.4,1235.4 217.4,1234.4 218.5,1235.1 219.6,1233.7 220.7,1233.6 221.8,1232.9 222.9,1234.5 224.0,1234.0 225.1,1231.8 226.2,1230.3 227.3,1231.7 228.3,1231.4 229.4,1230.8 230.5,1231.0 231.5,1230.5 232.6,1229.4 233.6,1229.0 234.6,1225.3 235.6,1223.1 236.7,1221.5 237.7,1221.6 238.8,1220.9 239.9,1220.0 240.9,1220.6 242.0,1220.7 243.1,1221.5 244.1,1222.6 245.2,1222.2 246.3,1222.8 247.4,1221.6 248.4,1221.4 249.5,1220.3 250.6,1221.2 251.6,1221.2 252.7,1218.9 253.8,1219.1 254.8,1218.6 255.9,1217.7 257.2,1215.6 258.5,1210.0 259.6,1210.5 260.7,1211.1 261.8,1210.5 262.9,1211.8 264.0,1211.0 265.1,1208.8 266.2,1210.0 267.3,1211.2 268.4,1209.7 269.5,1211.2 270.5,1208.1 271.6,1212.4 272.7,1209.9 273.8,1211.3 274.9,1209.9 276.0,1208.0 277.1,1209.1 278.1,1207.5 279.2,1206.0 280.3,1207.4 281.5,1204.9 282.8,1204.5 284.1,1201.0 285.2,1201.4 286.2,1203.2 287.3,1202.3 288.4,1203.0 289.4,1203.0 290.5,1201.0 291.6,1202.3 292.7,1203.0 293.8,1202.0 294.9,1201.6 296.0,1200.3 297.1,1198.4 298.2,1201.0 299.2,1200.9 300.3,1204.0 301.3,1204.0 302.3,1202.6 303.3,1206.2 304.4,1208.4 305.5,1208.4 306.5,1208.8 307.6,1209.4 308.7,1209.6 309.7,1210.0 310.8,1210.6 311.9,1210.8 313.0,1210.6 314.1,1212.3 315.2,1213.3 316.3,1214.2 317.4,1216.4 318.5,1218.3 319.6,1216.3 320.7,1217.8 321.8,1217.7 322.9,1218.0 324.0,1218.8 325.1,1220.3 326.2,1217.3 327.3,1219.4 328.3,1217.4 329.4,1215.2 330.5,1212.7 331.5,1213.8 332.6,1213.9 333.7,1213.3 334.7,1211.4 335.8,1212.1 336.9,1211.1 337.9,1207.4 339.0,1209.5 340.0,1209.9 341.0,1208.4 342.1,1208.7 343.1,1208.7 344.1,1208.2 345.1,1207.8 346.2,1207.3 347.2,1206.8 348.2,1206.2 349.2,1201.7 350.3,1197.0 351.3,1193.0 352.3,1190.3 353.3,1185.6 354.4,1186.8 355.5,1187.0 356.5,1183.8 357.6,1184.2 358.7,1181.2 359.7,1181.8 360.8,1180.7 361.8,1181.9 362.8,1184.1 363.8,1185.4 364.9,1183.1 365.9,1185.5 367.0,1185.6 368.1,1183.9 369.1,1187.4 370.2,1186.2 371.3,1186.9 372.4,1185.8 373.4,1183.9 374.5,1183.1 375.6,1184.1 376.6,1181.7 377.7,1181.8 378.8,1178.6 379.8,1177.9 380.9,1179.2 382.0,1179.6 383.0,1178.3 384.1,1177.9 385.1,1175.1 386.2,1173.9 387.2,1170.3 388.2,1168.5 389.2,1166.4 390.3,1165.8 391.4,1169.4 392.4,1169.3 393.5,1170.1 394.6,1170.6 395.6,1171.5 396.7,1169.9 397.8,1169.1 398.8,1170.7 399.9,1170.4 401.0,1169.9 402.1,1170.3 403.1,1172.8 404.2,1170.6 405.3,1168.9 406.3,1170.4 407.4,1169.8 408.5,1172.8 409.7,1175.5 411.0,1180.9 412.3,1185.6 413.4,1184.2 414.4,1179.5 415.5,1177.2 416.6,1175.1 417.6,1172.4 418.7,1172.8 419.8,1171.7 420.9,1171.6 421.9,1170.5 423.0,1168.1 424.1,1165.8 425.1,1165.1 426.2,1165.9 427.3,1166.3 428.3,1166.0 429.4,1171.6 430.5,1173.0 431.5,1171.5 432.6,1170.3 433.7,1169.1 434.8,1169.2 435.9,1167.6 437.0,1164.4 438.1,1165.4 439.2,1165.1 440.3,1163.0 441.4,1161.5 442.4,1162.3 443.5,1160.9 444.6,1162.7 445.6,1161.3 446.7,1161.2 447.8,1164.6 448.9,1164.4 450.0,1166.4 451.1,1170.7 452.2,1171.3 453.3,1172.8 454.4,1172.4 455.5,1174.9 456.5,1173.1 457.6,1174.6 458.7,1174.0 459.7,1171.5 460.8,1170.7 461.9,1169.2 462.9,1170.2 464.0,1166.6 465.1,1167.1 466.2,1165.1 467.2,1167.8 468.2,1165.3 469.2,1168.0 470.3,1168.8 471.3,1167.7 472.4,1165.2 473.4,1163.9 474.5,1163.5 475.6,1160.7 476.6,1158.6 477.7,1156.2 478.8,1155.7 479.9,1155.8 481.0,1158.2 482.1,1156.4 483.2,1155.0 484.3,1153.7 485.4,1154.9 486.7,1148.3 487.9,1140.7 489.2,1134.4 490.3,1134.7 491.4,1132.2 492.4,1129.8 493.5,1129.3 494.6,1126.9 495.6,1126.7 496.7,1121.9 497.8,1120.7 498.8,1117.7 499.9,1117.8 501.0,1115.8 502.1,1113.8 503.1,1110.8 504.1,1106.3 505.1,1104.6 506.2,1102.2 507.2,1099.7 508.2,1096.2 509.2,1093.1 510.3,1090.8 511.3,1088.5 512.3,1085.6 513.4,1084.5 514.5,1083.8 515.6,1081.9 516.7,1080.4 517.8,1078.2 518.9,1074.9 520.0,1075.4 521.1,1074.4 522.1,1074.1 523.2,1072.3 524.3,1075.2 525.3,1075.1 526.4,1072.8 527.5,1073.1 528.6,1073.5 529.7,1074.3 530.8,1072.7 531.9,1072.7 533.0,1070.1 534.1,1070.3 535.2,1071.5 536.2,1073.1 537.3,1073.7 538.4,1077.2 539.4,1077.6 540.5,1080.5 541.6,1079.3 542.6,1081.2 543.7,1081.2 544.8,1079.2 545.9,1077.1 546.9,1077.9 548.0,1076.3 549.1,1076.9 550.1,1076.7 551.2,1074.8 552.3,1072.7 553.3,1072.8 554.4,1076.5 555.4,1077.4 556.4,1079.7 557.4,1080.8 558.5,1083.1 559.5,1085.2 560.6,1083.7 561.7,1086.0 562.7,1084.8 563.8,1085.2 564.9,1085.6 565.9,1087.7 567.0,1087.0 568.1,1087.9 569.1,1089.0 570.2,1089.9 571.3,1090.8 572.3,1092.6 573.3,1091.4 574.4,1093.8 575.4,1095.3 576.4,1094.6 577.5,1092.5 578.5,1090.0 579.6,1087.1 580.7,1087.0 581.8,1086.5 582.8,1084.4 583.9,1084.4 585.0,1084.1 586.0,1081.2 587.1,1082.4 588.2,1084.1 589.2,1083.1 590.3,1082.8 591.4,1081.9 592.5,1084.4 593.6,1084.8 594.7,1085.8 595.8,1085.7 596.9,1086.9 598.0,1086.7 599.1,1084.3 600.1,1083.1 601.2,1081.7 602.3,1081.2 603.3,1079.2 604.4,1080.5 605.5,1081.6 606.5,1081.7 607.6,1081.4 608.7,1083.4 609.7,1083.1 610.8,1080.3 611.9,1079.2 612.9,1079.4 614.0,1078.0 615.1,1076.9 616.2,1076.7 617.2,1075.9 618.3,1074.0 619.4,1072.2 620.4,1071.5 621.5,1071.4 622.6,1069.0 623.6,1064.7 624.6,1061.0 625.6,1058.2 626.7,1057.1 627.7,1053.6 628.8,1053.5 629.9,1050.8 631.0,1049.2 632.1,1050.3 633.2,1050.5 634.3,1049.8 635.4,1047.2 636.5,1046.3 637.6,1044.7 638.7,1044.6 639.8,1045.2 640.9,1043.2 642.0,1041.4 643.1,1042.1 644.1,1042.2 645.2,1046.9 646.3,1046.3 647.4,1049.4 648.4,1050.2 649.5,1052.3 650.6,1052.9 651.6,1053.7 652.7,1054.8 653.8,1054.6 654.8,1053.7 655.9,1056.2 657.0,1055.4 658.0,1057.5 659.1,1056.1 660.2,1059.3 661.2,1062.9 662.3,1061.3 663.4,1061.6 664.4,1062.3 665.5,1062.9 666.6,1063.6 667.6,1067.6 668.7,1067.7 669.8,1068.2 670.9,1072.0 671.9,1073.3 673.0,1079.3 674.1,1080.5 675.1,1083.1 676.3,1083.9 677.6,1085.1 678.8,1085.7 680.0,1088.2 680.5,1085.6 681.5,1085.6 682.6,1088.6 683.6,1088.1 684.6,1092.5 685.6,1092.1 686.7,1090.9 687.7,1092.1 688.7,1087.8 689.7,1089.8 690.8,1086.9 692.1,1091.1 693.3,1097.9 694.6,1102.3 695.7,1103.9 696.8,1104.4 697.8,1105.1 698.9,1105.7 700.0,1106.9 701.0,1107.4 702.1,1106.5 703.1,1105.8 704.1,1104.8 705.1,1106.5 706.2,1107.4 707.2,1105.9 708.3,1105.4 709.4,1103.8 710.4,1103.2 711.5,1101.6 712.6,1099.7 713.6,1098.6 714.7,1096.1 715.8,1096.0 716.8,1092.6 717.9,1093.4 719.0,1090.8 720.1,1089.4 721.2,1090.2 722.3,1091.5 723.4,1088.0 724.5,1087.3 725.6,1088.3 726.7,1086.9 727.8,1085.2 728.9,1085.5 730.0,1085.2 731.1,1084.2 732.2,1088.0 733.3,1087.0 734.4,1085.6 735.4,1084.2 736.5,1084.7 737.6,1083.3 738.6,1080.6 739.7,1078.6 740.8,1077.9 741.9,1077.7 743.0,1075.9 744.1,1075.8 745.2,1075.2 746.3,1077.3 747.4,1074.2 748.5,1075.4 749.5,1075.1 750.6,1074.4 751.7,1073.3 752.7,1074.8 753.8,1073.2 754.9,1072.8 755.9,1072.0 757.0,1069.5 758.1,1066.4 759.1,1064.8 760.2,1063.4 761.3,1061.3 762.4,1060.0 763.4,1059.5 764.5,1059.0 765.6,1059.0 766.6,1057.6 767.7,1060.0 768.8,1061.8 769.9,1058.6 771.0,1061.3 772.1,1059.8 773.2,1060.5 774.3,1062.0 775.4,1060.0 776.5,1059.7 777.5,1057.2 778.6,1055.8 779.7,1053.3 780.7,1052.6 781.8,1051.0 782.9,1053.5 783.9,1053.7 785.0,1052.6 786.1,1053.9 787.1,1057.7 788.2,1057.4 789.3,1057.5 790.4,1056.0 791.5,1056.7 792.6,1057.9 793.7,1058.2 794.8,1054.9 795.9,1054.9 797.0,1053.2 798.2,1053.1 799.3,1053.8 800.5,1054.0 801.6,1055.5 802.7,1055.1 803.9,1054.1 805.0,1053.8 806.2,1053.6 807.4,1056.9 808.7,1060.5 810.0,1060.0 811.1,1061.7 812.2,1061.5 813.3,1061.0 814.4,1062.0 815.5,1061.1 816.6,1064.8 817.7,1062.6 818.8,1063.0 819.9,1063.1 821.0,1062.5 822.1,1062.7 823.2,1062.9 824.3,1062.4 825.4,1063.8 826.5,1064.0 827.5,1062.4 828.6,1062.2 829.7,1060.3 830.7,1058.9 831.8,1058.7 832.9,1061.1 834.0,1060.9 835.1,1060.2 836.2,1058.9 837.3,1057.8 838.4,1058.4 839.5,1057.4 840.6,1055.8 841.7,1054.8 842.8,1056.3 843.9,1055.6 845.0,1054.4 846.1,1052.7 847.2,1053.6 848.2,1048.7 849.3,1046.4 850.4,1044.7 851.5,1043.0 852.5,1040.4 853.6,1036.9 854.7,1036.5 855.8,1038.3 856.9,1036.9 858.0,1036.4 859.1,1035.8 860.2,1033.7 861.3,1034.4 862.4,1035.8 863.5,1035.1 864.6,1033.7 865.7,1031.2 866.8,1032.1 867.9,1031.5 869.0,1030.5 870.3,1031.9 871.5,1032.6 872.8,1034.4 873.9,1032.4 875.0,1030.9 876.1,1030.8 877.2,1031.0 878.3,1033.1 879.4,1032.6 880.5,1029.2 881.6,1029.1 882.7,1030.2 883.8,1031.1 884.9,1031.4 886.0,1029.8 887.1,1031.7 888.2,1030.5 889.2,1030.6 890.3,1033.8 891.3,1034.0 892.3,1033.8 893.3,1033.1 894.4,1032.8 895.4,1029.6 896.4,1031.9 897.4,1030.4 898.5,1029.2 899.5,1032.4 900.5,1038.4 901.5,1040.2 902.6,1042.2 903.6,1045.9 904.7,1045.8 905.7,1044.9 906.8,1046.7 907.9,1048.2 908.9,1050.1 910.0,1048.5 911.1,1045.9 912.1,1044.2 913.2,1044.6 914.3,1045.3 915.3,1042.1 916.4,1043.3 917.4,1044.0 918.5,1045.9 919.5,1042.9 920.5,1041.6 921.5,1043.3 922.8,1049.5 924.1,1050.9 925.4,1056.2 926.4,1058.7 927.4,1059.5 928.5,1059.4 929.5,1060.7 930.5,1062.6 931.6,1062.8 932.6,1063.6 933.7,1066.2 934.8,1064.1 935.9,1068.4 936.9,1066.4 938.0,1066.6 939.1,1064.0 940.1,1065.1 941.2,1062.7 942.3,1065.8 943.3,1062.6 944.4,1064.0 945.5,1062.7 946.5,1060.4 947.6,1060.1 948.7,1060.9 949.7,1058.7 950.8,1056.9 951.9,1058.4 953.0,1055.8 954.1,1058.5 955.2,1058.0 956.3,1056.3 957.4,1054.9 958.5,1053.9 959.6,1053.1 960.6,1053.1 961.7,1051.9 962.8,1051.8 963.8,1049.7 964.9,1051.1 966.0,1046.9 967.1,1047.6 968.2,1047.9 969.3,1047.5 970.4,1048.4 971.5,1045.9 972.6,1044.6 973.7,1044.9 974.8,1044.2 975.9,1045.4 977.0,1044.6 978.1,1042.6 979.2,1043.3 980.3,1046.3 981.3,1045.6 982.3,1048.8 983.3,1048.7 984.4,1049.7 985.4,1050.4 986.5,1048.5 987.6,1049.6 988.6,1051.9 989.7,1051.4 990.8,1053.6 992.1,1048.7 993.3,1049.6 994.6,1045.9 995.7,1042.6 996.8,1041.8 997.9,1042.8 999.0,1042.7 1000.1,1043.1 1001.2,1041.6 1002.3,1040.8 1003.4,1040.3 1004.4,1039.3 1005.5,1038.3 1006.6,1037.8 1007.6,1035.5 1008.7,1035.6 1009.8,1035.9 1010.9,1033.7 1012.0,1032.7 1013.1,1029.4 1014.2,1028.8 1015.3,1026.9 1016.4,1025.4 1017.4,1027.4 1018.5,1027.8 1019.5,1029.3 1020.5,1032.5 1021.5,1034.4 1022.6,1035.0 1023.6,1035.0 1024.6,1036.8 1025.6,1037.7 1026.7,1038.2 1027.7,1035.8 1028.7,1032.7 1029.7,1032.2 1030.8,1032.8 1031.8,1030.5 1032.8,1030.0 1033.8,1029.6 1034.9,1031.6 1035.9,1030.2 1036.9,1029.2 1038.2,1038.9 1039.5,1049.7 1040.8,1054.5 1042.1,1059.5 1043.3,1063.8 1044.4,1064.5 1045.4,1064.1 1046.4,1064.6 1047.4,1062.6 1048.5,1063.8 1049.5,1066.0 1050.5,1066.2 1051.5,1069.3 1052.6,1071.3 1053.6,1070.3 1054.7,1070.2 1055.7,1068.6 1056.8,1069.0 1057.9,1067.3 1058.9,1064.3 1060.0,1062.6 1061.0,1058.7 1062.1,1055.9 1063.1,1056.1 1064.1,1053.4 1065.1,1052.3 1066.2,1052.1 1067.3,1051.1 1068.3,1049.9 1069.4,1048.9 1070.5,1048.2 1071.5,1045.9 1072.6,1045.3 1073.7,1044.6 1074.8,1045.6 1075.9,1042.7 1077.0,1040.9 1078.1,1040.0 1079.2,1042.1 1080.3,1042.5 1081.4,1044.1 1082.5,1044.1 1083.6,1043.4 1084.7,1041.9 1085.8,1039.9 1086.9,1040.8 1088.0,1040.1 1089.1,1039.2 1090.2,1039.1 1091.3,1038.4 1092.4,1040.1 1093.5,1037.6 1094.6,1036.9 1095.7,1038.4 1096.8,1040.0 1097.8,1041.3 1098.9,1042.7 1100.0,1044.3 1101.0,1044.6 1102.3,1047.4 1103.6,1051.3 1104.9,1054.9 1105.9,1053.3 1106.9,1051.0 1107.9,1050.8 1109.0,1047.4 1110.0,1047.2 1111.1,1045.4 1112.2,1044.0 1113.3,1046.8 1114.4,1045.2 1115.5,1044.3 1116.6,1042.9 1117.7,1043.3 1118.8,1042.7 1119.8,1040.6 1120.9,1041.7 1122.0,1039.5 1123.0,1041.3 1124.1,1040.8 1125.2,1041.1 1126.2,1036.6 1127.3,1035.7 1128.4,1033.1 1129.4,1030.0 1130.5,1030.5 1131.6,1028.3 1132.6,1025.9 1133.7,1026.0 1134.8,1023.7 1135.9,1022.5 1136.9,1019.0 1138.0,1018.8 1139.1,1017.5 1140.2,1017.2 1141.3,1013.9 1142.4,1014.7 1143.5,1013.4 1144.6,1011.3 1145.7,1011.7 1146.8,1010.1 1147.8,1006.3 1148.9,1007.2 1150.0,1006.8 1151.0,1006.2 1152.1,1003.4 1153.1,1001.8 1154.1,997.2 1155.1,993.9 1156.2,993.3 1157.2,989.3 1158.3,990.8 1159.4,990.0 1160.4,987.5 1161.5,986.0 1162.6,984.4 1163.6,982.2 1164.6,982.2 1165.6,981.1 1166.7,978.3 1167.7,976.7 1169.0,980.8 1170.3,983.7 1171.5,989.5 1172.8,989.1 1174.1,987.7 1175.4,990.8 1176.7,1001.0 1177.9,1013.8 1179.2,1018.0 1180.5,1024.9 1181.8,1029.2 1182.9,1029.4 1183.9,1028.9 1185.0,1029.8 1186.1,1027.3 1187.1,1026.9 1188.2,1027.9 1189.5,1029.9 1190.8,1033.5 1192.1,1034.4 1193.1,1034.7 1194.2,1032.2 1195.3,1032.8 1196.3,1030.9 1197.4,1031.4 1198.5,1030.5 1199.5,1029.9 1200.6,1028.8 1201.7,1027.3 1202.7,1027.3 1203.8,1026.9 1204.9,1024.1 1205.9,1024.6 1207.0,1027.7 1208.1,1029.9 1209.1,1032.7 1210.2,1032.4 1211.3,1033.1 1212.3,1037.5 1213.3,1038.7 1214.4,1039.2 1215.4,1041.0 1216.4,1042.1 1217.4,1044.2 1218.5,1044.8 1219.5,1047.4 1220.5,1046.7 1221.5,1047.2 1222.8,1060.0 1224.1,1067.7 1225.1,1072.1 1226.2,1071.3 1227.2,1073.8 1228.2,1074.8 1229.2,1079.2 1230.3,1078.2 1231.3,1079.7 1232.3,1081.2 1233.3,1084.3 1234.4,1086.9 1235.4,1086.3 1236.4,1084.3 1237.4,1083.8 1238.5,1083.9 1239.5,1085.6 1240.5,1088.5 1241.5,1091.9 1242.6,1096.3 1243.6,1101.4 1244.6,1103.6 1245.9,1108.0 1247.2,1108.7 1248.5,1112.6 1249.5,1110.5 1250.6,1111.3 1251.7,1111.1 1252.7,1107.6 1253.8,1106.8 1254.9,1108.7 1255.9,1108.3 1257.0,1109.0 1258.1,1107.3 1259.1,1107.7 1260.2,1106.9 1261.3,1107.4 1262.3,1107.5 1263.3,1107.6 1264.4,1105.6 1265.4,1105.9 1266.4,1108.7 1267.7,1105.8 1269.0,1099.7 1270.0,1100.9 1271.1,1101.5 1272.2,1098.1 1273.2,1098.5 1274.3,1096.9 1275.4,1097.2 1276.4,1096.5 1277.4,1097.2 1278.5,1094.9 1279.5,1096.8 1280.5,1095.9 1281.6,1098.9 1282.6,1099.2 1283.7,1104.0 1284.8,1105.8 1285.9,1107.3 1286.9,1107.4 1288.2,1105.3 1289.5,1101.5 1290.8,1101.0 1291.8,1097.4 1292.9,1097.6 1294.0,1097.0 1295.0,1094.2 1296.1,1093.4 1297.2,1094.6 1298.2,1093.9 1299.3,1093.4 1300.4,1095.2 1301.5,1096.8 1302.5,1097.3 1303.6,1098.5 1304.7,1101.0 1305.7,1103.6 1306.8,1103.9 1307.9,1104.0 1308.9,1105.1 1310.0,1107.4 1311.0,1108.7 1312.1,1113.3 1313.1,1118.5 1314.1,1120.9 1315.1,1126.7 1316.3,1130.0 1317.6,1133.7 1318.8,1134.9 1320.0,1136.9 1320.5,1136.9 1321.6,1137.3 1322.6,1136.9 1323.7,1137.5 1324.8,1139.4 1325.9,1140.2 1326.9,1139.5 1328.0,1140.3 1329.1,1141.8 1330.1,1141.5 1331.2,1141.9 1332.3,1143.6 1333.3,1145.9 1334.4,1145.0 1335.5,1145.6 1336.6,1144.9 1337.7,1145.7 1338.8,1143.8 1339.9,1144.3 1341.0,1142.1 1342.1,1141.3 1343.2,1141.1 1344.3,1139.8 1345.4,1138.0 1346.5,1140.7 1347.6,1139.8 1348.7,1139.5 1349.8,1137.9 1350.9,1137.9 1352.0,1139.5 1353.1,1139.2 1354.2,1140.1 1355.3,1139.8 1356.4,1136.9 1357.5,1136.3 1358.5,1139.6 1359.6,1138.7 1360.7,1139.9 1361.8,1139.4 1362.8,1140.8 1363.8,1142.6 1364.9,1143.9 1365.9,1146.1 1366.9,1146.0 1367.9,1148.5 1369.0,1149.1 1370.1,1147.5 1371.2,1147.6 1372.2,1146.1 1373.3,1144.9 1374.4,1145.9 1375.5,1145.0 1376.6,1145.6 1377.7,1146.3 1378.8,1144.3 1379.9,1143.0 1381.0,1139.9 1382.1,1140.8 1383.3,1131.8 1384.6,1126.7 1385.7,1127.7 1386.8,1124.7 1387.8,1126.7 1388.9,1122.8 1390.0,1123.3 1391.0,1122.8 1392.1,1124.4 1393.2,1123.3 1394.2,1125.5 1395.3,1123.7 1396.4,1122.8 1397.4,1124.1 1398.5,1122.3 1399.6,1120.6 1400.6,1121.4 1401.7,1121.5 1402.8,1122.3 1403.8,1121.5 1405.1,1128.1 1406.4,1134.4 1407.5,1135.0 1408.6,1134.4 1409.7,1133.7 1410.8,1135.9 1411.9,1134.2 1413.0,1133.5 1414.1,1133.1 1415.2,1133.5 1416.3,1131.6 1417.4,1134.6 1418.5,1132.8 1419.6,1131.2 1420.7,1130.0 1421.8,1130.5 1423.1,1134.6 1424.4,1136.1 1425.6,1138.2 1426.7,1140.8 1427.8,1139.0 1428.9,1139.8 1430.0,1139.0 1431.1,1138.1 1432.2,1141.1 1433.3,1140.8 1434.4,1140.8 1435.5,1141.9 1436.5,1143.0 1437.6,1146.7 1438.7,1146.3 1439.7,1145.9 1440.8,1146.5 1441.8,1147.5 1442.8,1148.9 1443.8,1150.3 1444.9,1149.7 1445.9,1147.9 1447.0,1147.8 1448.1,1148.0 1449.1,1145.4 1450.2,1144.6 1451.3,1144.6 1452.6,1151.4 1453.8,1157.4 1455.1,1157.6 1456.4,1161.2 1457.7,1163.8 1458.8,1164.8 1459.9,1164.7 1461.1,1165.3 1462.2,1162.6 1463.3,1163.8 1464.4,1161.3 1465.5,1162.0 1466.7,1162.6 1467.8,1162.9 1468.9,1163.2 1470.1,1164.3 1471.2,1163.1 1472.4,1163.7 1473.5,1162.6 1474.6,1164.3 1475.8,1165.3 1476.9,1163.8 1478.0,1166.3 1479.2,1163.3 1480.3,1163.2 1481.4,1162.1 1482.5,1164.3 1483.7,1162.9 1484.8,1163.7 1485.9,1162.6 1487.0,1161.6 1488.2,1163.8 1489.3,1163.9 1490.5,1161.8 1491.6,1162.1 1492.7,1161.9 1493.9,1163.8 1495.0,1162.8 1496.2,1161.3 1497.4,1164.3 1498.7,1166.3 1500.0,1166.4 1501.1,1165.7 1502.2,1167.2 1503.3,1166.5 1504.4,1165.6 1505.5,1165.1 1506.6,1164.2 1507.7,1165.1 1508.8,1164.5 1509.8,1163.8 1510.9,1163.9 1512.0,1163.7 1513.0,1163.7 1514.1,1162.6 1515.2,1162.7 1516.2,1161.5 1517.3,1164.2 1518.4,1164.2 1519.4,1166.5 1520.5,1165.1 1521.8,1163.1 1523.1,1160.0 1524.2,1162.1 1525.3,1162.0 1526.4,1161.6 1527.5,1160.5 1528.6,1159.4 1529.7,1163.0 1530.8,1161.3 1531.9,1158.7 1533.0,1159.8 1534.2,1162.6 1535.3,1163.0 1536.5,1161.9 1537.6,1160.6 1538.7,1161.3 1539.9,1161.1 1541.0,1161.3 1542.3,1160.5 1543.6,1158.4 1544.9,1157.4 1546.0,1157.3 1547.1,1155.9 1548.2,1156.5 1549.4,1157.6 1550.5,1155.3 1551.6,1157.3 1552.7,1155.6 1553.8,1156.2 1554.9,1156.2 1555.9,1154.6 1556.9,1155.5 1557.9,1152.5 1559.0,1151.0 1560.0,1152.7 1561.1,1151.1 1562.2,1150.1 1563.2,1150.8 1564.3,1151.1 1565.4,1151.0 1566.7,1157.3 1567.9,1161.3 1569.1,1161.9 1570.2,1163.9 1571.3,1161.0 1572.4,1163.9 1573.6,1161.6 1574.7,1161.4 1575.8,1163.9 1576.9,1161.3 1578.2,1165.1 1579.5,1166.7 1580.8,1166.4 1581.9,1165.3 1583.0,1166.6 1584.1,1167.4 1585.3,1164.9 1586.4,1165.5 1587.5,1165.8 1588.6,1166.0 1589.7,1165.1 1591.0,1164.6 1592.3,1163.1 1593.6,1162.6 1594.6,1161.8 1595.6,1164.9 1596.7,1165.1 1597.7,1164.2 1598.7,1167.7 1599.8,1167.2 1600.9,1166.2 1602.0,1167.1 1603.1,1165.9 1604.2,1166.3 1605.3,1168.2 1606.4,1166.4 1607.7,1162.9 1609.0,1162.4 1610.3,1161.3 1611.5,1165.8 1612.8,1171.3 1614.1,1177.9 1615.1,1177.8 1616.2,1181.8 1617.2,1182.7 1618.2,1183.8 1619.2,1185.6 1620.3,1184.7 1621.4,1184.6 1622.5,1187.8 1623.6,1187.5 1624.7,1187.7 1625.8,1187.0 1626.9,1188.2 1628.0,1189.4 1629.1,1188.9 1630.1,1190.0 1631.2,1189.0 1632.3,1191.0 1633.3,1190.8 1634.4,1189.9 1635.4,1187.3 1636.4,1190.2 1637.4,1186.9 1638.5,1186.9 1639.6,1184.3 1640.7,1186.0 1641.8,1187.2 1642.9,1187.7 1644.0,1185.8 1645.1,1186.4 1646.2,1186.9 1647.3,1188.0 1648.4,1189.9 1649.5,1190.1 1650.5,1191.0 1651.6,1191.4 1652.7,1189.3 1653.8,1189.5 1654.9,1191.3 1655.9,1190.4 1656.9,1189.6 1657.9,1189.1 1659.0,1189.5 1660.3,1193.6 1661.5,1196.2 1662.8,1199.7 1663.9,1199.4 1665.0,1202.3 1666.0,1200.3 1667.1,1203.3 1668.2,1204.4 1669.2,1206.2 1670.3,1205.5 1671.4,1207.7 1672.4,1207.5 1673.5,1207.7 1674.6,1209.7 1675.6,1208.7 1676.7,1208.0 1677.7,1205.1 1678.7,1205.0 1679.7,1201.0 1680.8,1202.3 1682.1,1196.5 1683.3,1195.9 1684.4,1195.1 1685.5,1193.8 1686.5,1194.9 1687.6,1195.7 1688.7,1193.2 1689.7,1193.3 1690.8,1191.9 1691.9,1192.5 1693.0,1191.3 1694.1,1192.6 1695.2,1194.0 1696.3,1191.9 1697.4,1192.1 1698.5,1190.3 1699.5,1188.8 1700.5,1188.7 1701.5,1187.2 1702.6,1186.9 1703.8,1189.8 1705.1,1193.0 1706.4,1195.9 1707.5,1197.0 1708.5,1200.6 1709.6,1200.0 1710.7,1202.3 1711.8,1201.6 1712.8,1202.3 1713.9,1201.8 1715.0,1201.7 1716.1,1204.2 1717.2,1204.9 1718.3,1205.1 1719.4,1204.0 1720.5,1204.9 1721.6,1202.8 1722.6,1202.7 1723.7,1207.6 1724.8,1206.4 1725.9,1205.3 1726.9,1206.2 1728.0,1206.2 1729.1,1207.1 1730.1,1208.2 1731.2,1207.6 1732.3,1207.5 1733.3,1207.4 1734.4,1207.1 1735.5,1208.6 1736.5,1209.3 1737.6,1212.6 1738.7,1212.8 1739.7,1211.3 1741.0,1211.4 1742.3,1214.0 1743.6,1216.4 1744.9,1213.0 1746.2,1210.7 1747.4,1208.7 1748.5,1208.1 1749.6,1205.8 1750.6,1206.5 1751.7,1209.1 1752.8,1207.7 1753.8,1206.2 1754.9,1208.5 1755.9,1209.3 1756.9,1211.7 1757.9,1212.9 1759.0,1211.3 1760.0,1213.7 1761.1,1213.3 1762.2,1212.4 1763.2,1210.7 1764.3,1211.2 1765.4,1210.0 1766.5,1208.9 1767.5,1206.9 1768.6,1204.2 1769.7,1204.6 1770.7,1205.5 1771.8,1203.6 1773.1,1196.9 1774.4,1192.1 1775.6,1185.6 1776.9,1182.7 1778.2,1176.7 1779.3,1176.7 1780.3,1178.4 1781.4,1178.5 1782.5,1174.7 1783.5,1174.1 1784.6,1175.4 1785.7,1174.7 1786.8,1176.1 1787.8,1175.8 1788.9,1174.1 1790.0,1176.4 1791.0,1174.1 1792.1,1175.6 1793.1,1177.1 1794.1,1177.1 1795.1,1177.5 1796.2,1179.2 1797.4,1179.8 1798.7,1178.4 1800.0,1179.2 1801.3,1180.7 1802.6,1183.6 1803.8,1188.2 1804.9,1187.5 1806.0,1187.8 1807.1,1187.2 1808.2,1186.6 1809.3,1185.7 1810.4,1186.6 1811.5,1186.9 1812.6,1187.8 1813.7,1187.4 1814.7,1188.2 1815.8,1188.7 1816.9,1189.0 1817.9,1188.2 1819.0,1186.9 1820.1,1186.1 1821.2,1182.7 1822.2,1183.4 1823.3,1180.3 1824.4,1181.8 1825.4,1181.2 1826.5,1180.3 1827.6,1179.9 1828.6,1180.4 1829.7,1180.9 1830.8,1180.5 1831.8,1180.6 1832.9,1179.3 1834.0,1180.1 1835.0,1179.5 1836.1,1179.0 1837.2,1179.2 1838.5,1179.0 1839.7,1179.1 1841.0,1176.7 1842.1,1176.9 1843.1,1178.6 1844.1,1180.9 1845.1,1181.1 1846.2,1183.1 1847.2,1185.3 1848.3,1184.2 1849.4,1183.4 1850.4,1183.3 1851.5,1186.8 1852.6,1186.9 1853.6,1186.0 1854.7,1186.1 1855.8,1185.0 1856.8,1185.7 1857.9,1188.5 1859.0,1185.6 1860.0,1187.6 1861.1,1187.5 1862.2,1187.6 1863.2,1190.7 1864.3,1189.5 1865.4,1189.5 1866.4,1188.5 1867.4,1186.1 1868.5,1184.3 1869.5,1185.0 1870.5,1183.1 1871.6,1181.6 1872.6,1184.2 1873.7,1185.5 1874.8,1185.7 1875.9,1185.7 1876.9,1185.6 1877.9,1182.6 1879.0,1180.2 1880.0,1181.3 1881.0,1178.3 1882.1,1174.1 1883.1,1176.5 1884.1,1181.0 1885.1,1183.0 1886.2,1184.5 1887.2,1188.2 1888.2,1190.6 1889.2,1188.0 1890.3,1187.8 1891.3,1189.7 1892.3,1189.5 1893.4,1189.0 1894.4,1191.7 1895.5,1192.6 1896.6,1194.0 1897.6,1194.6 1898.7,1195.9 1899.8,1195.3 1900.9,1194.2 1901.9,1195.2 1903.0,1197.7 1904.1,1195.5 1905.1,1198.5 1906.2,1198.3 1907.2,1198.3 1908.2,1199.1 1909.2,1198.0 1910.3,1199.7 1911.5,1197.2 1912.8,1193.3" stroke="#df484c" stroke-width="4.1" fill="none" stroke-linejoin="round" stroke-linecap="round"/><path d="M20.0,1201.0 21.1,1200.3 22.1,1200.7 23.2,1199.6 24.3,1198.9 25.3,1197.6 26.4,1198.5 27.5,1200.5 28.5,1201.1 29.6,1202.6 30.7,1202.8 31.8,1203.5 32.8,1203.6 33.9,1203.0 35.0,1206.6 36.0,1208.2 37.1,1209.6 38.2,1208.2 39.2,1211.3 40.3,1210.5 41.4,1212.5 42.4,1215.0 43.5,1216.3 44.6,1218.3 45.6,1219.0 46.7,1219.9 47.8,1221.0 48.9,1220.5 50.0,1223.8 51.1,1224.0 52.2,1225.3 53.3,1224.1 54.4,1223.1 55.5,1223.3 56.6,1223.7 57.7,1224.8 58.8,1224.6 59.9,1223.7 61.0,1224.1 62.1,1224.1 63.2,1227.4 64.2,1226.7 65.3,1228.5 66.4,1230.0 67.4,1230.5 68.5,1231.3 69.6,1234.5 70.6,1232.3 71.7,1234.5 72.8,1236.4 73.8,1238.2 74.1,1245.9 75.2,1245.9 76.3,1244.1 77.3,1246.3 78.4,1246.9 79.4,1247.4 80.5,1248.2 81.5,1245.9 82.6,1246.7 83.7,1244.9 84.7,1246.8 85.8,1246.1 86.9,1246.2 87.9,1247.2 89.0,1244.0 90.1,1243.3 91.2,1244.5 92.2,1239.9 93.3,1238.2 94.4,1239.5 95.5,1240.7 96.6,1240.0 97.7,1236.5 98.8,1235.4 99.9,1236.8 101.0,1236.1 102.1,1236.9 103.2,1238.1 104.2,1239.6 105.3,1239.3 106.4,1239.7 107.5,1240.4 108.6,1242.5 109.7,1240.8 110.8,1242.4 111.9,1242.7 112.9,1240.5 114.0,1243.5 115.1,1244.5 116.2,1243.3 117.2,1241.9 118.3,1243.1 119.4,1245.8 120.4,1243.8 121.5,1245.6 122.6,1247.2 123.7,1244.4 124.8,1245.8 125.9,1244.0 127.0,1241.6 128.1,1240.3 129.2,1239.4 130.3,1236.9 131.3,1238.5 132.4,1236.7 133.5,1236.3 134.5,1238.0 135.6,1237.3 136.7,1236.9 137.7,1239.1 138.8,1241.6 139.9,1241.0 140.9,1240.4 142.0,1242.6 143.1,1244.6 144.2,1244.8 145.3,1247.7 146.4,1246.1 147.5,1248.9 148.6,1247.2 149.7,1247.6 150.8,1249.7 151.9,1251.1 153.0,1251.0 154.1,1250.2 155.2,1249.5 156.3,1249.2 157.4,1249.5 158.5,1248.5 159.5,1251.6 160.6,1254.9 161.7,1257.1 162.7,1260.6 163.8,1263.4 164.9,1265.1 166.2,1268.7 167.4,1269.4 168.7,1271.5 169.8,1272.4 170.9,1274.8 171.9,1274.7 173.0,1276.3 174.1,1279.3 175.1,1277.9 176.2,1274.7 177.2,1275.4 178.2,1275.2 179.2,1274.3 180.3,1272.8 181.3,1273.3 182.4,1273.0 183.5,1271.7 184.5,1274.6 185.6,1273.2 186.7,1271.5 187.7,1271.8 188.8,1272.0 189.9,1272.6 190.9,1270.6 192.0,1271.8 193.1,1274.1 194.1,1271.6 195.2,1271.0 196.3,1271.3 197.4,1270.4 198.4,1270.1 199.5,1266.4 200.6,1263.6 201.6,1261.8 202.7,1261.2 203.8,1260.3 204.8,1254.2 205.9,1254.9 207.0,1252.3 208.0,1253.4 209.1,1250.5 210.2,1251.1 211.2,1252.0 212.3,1249.7 213.4,1249.2 214.5,1249.0 215.6,1247.6 216.7,1246.2 217.8,1247.1 218.9,1246.2 220.0,1243.3 221.1,1246.1 222.1,1243.6 223.2,1245.1 224.3,1244.2 225.3,1244.6 226.4,1244.6 227.5,1246.5 228.5,1248.2 229.6,1246.9 230.7,1247.3 231.8,1250.9 232.8,1252.3 233.8,1249.3 234.9,1247.3 235.9,1249.2 236.9,1248.4 237.9,1245.9 239.0,1246.4 240.1,1247.5 241.2,1247.0 242.2,1249.8 243.3,1252.3 244.4,1251.0 245.4,1252.4 246.5,1252.0 247.6,1250.2 248.6,1247.0 249.7,1249.8 250.8,1248.5 252.1,1263.8 253.1,1262.6 254.2,1261.5 255.3,1261.4 256.3,1257.3 257.4,1257.6 258.5,1254.9 259.6,1256.4 260.7,1253.4 261.8,1250.9 262.9,1251.5 264.0,1249.9 265.1,1248.6 266.2,1247.2 267.3,1246.2 268.4,1242.0 269.5,1241.9 270.5,1239.5 271.6,1240.8 272.7,1239.9 273.8,1238.2 274.9,1236.5 276.0,1236.2 277.1,1234.2 278.2,1234.2 279.3,1231.4 280.4,1230.9 281.5,1227.9 282.6,1230.8 283.7,1228.5 284.7,1229.7 285.8,1226.9 286.9,1227.0 287.9,1229.2 289.0,1228.9 290.1,1226.7 291.2,1227.1 292.3,1226.6 293.4,1226.3 294.5,1225.1 295.6,1225.4 296.7,1228.0 297.8,1227.0 298.9,1227.4 300.0,1228.4 301.1,1227.5 302.2,1226.1 303.3,1227.9 304.6,1211.3 305.7,1209.3 306.8,1209.5 307.8,1211.4 308.9,1211.7 310.0,1210.7 311.0,1210.0 312.1,1210.2 313.2,1207.9 314.2,1206.3 315.3,1206.7 316.4,1208.4 317.4,1207.4 318.5,1207.0 319.6,1207.8 320.7,1207.8 321.8,1210.1 322.9,1210.2 324.0,1212.7 325.1,1213.8 326.2,1211.7 327.3,1209.8 328.3,1206.8 329.4,1207.8 330.5,1206.0 331.5,1204.9 332.6,1204.3 333.7,1207.5 334.7,1208.7 335.8,1211.6 336.9,1213.5 337.9,1213.8 339.0,1214.4 340.0,1215.3 341.0,1214.6 342.1,1213.9 343.1,1212.6 344.4,1204.6 345.6,1195.9 346.7,1193.6 347.7,1190.3 348.7,1190.5 349.7,1184.2 350.8,1183.1 352.1,1182.7 353.3,1177.0 354.6,1174.1 355.7,1177.8 356.8,1177.0 357.8,1178.3 358.9,1179.8 360.0,1178.8 361.0,1180.5 362.1,1182.0 363.2,1184.2 364.2,1184.7 365.3,1185.5 366.4,1185.6 367.4,1188.2 368.5,1186.4 369.5,1183.5 370.5,1179.6 371.5,1176.6 372.6,1175.4 373.8,1171.4 375.1,1162.6 376.2,1158.7 377.3,1159.8 378.3,1159.3 379.4,1159.7 380.5,1157.5 381.5,1154.9 382.6,1154.2 383.7,1149.7 384.7,1150.9 385.8,1149.5 386.9,1146.7 387.9,1145.9 389.0,1148.7 390.1,1145.5 391.2,1145.3 392.3,1146.6 393.4,1147.0 394.5,1146.6 395.6,1147.2 396.7,1147.9 397.8,1146.2 398.8,1141.9 399.9,1139.2 401.0,1141.1 402.1,1138.2 403.1,1139.5 404.1,1137.7 405.1,1134.0 406.2,1133.3 407.2,1131.8 408.5,1132.5 409.7,1136.2 411.0,1139.5 412.1,1136.2 413.2,1133.9 414.2,1132.2 415.3,1129.9 416.4,1127.7 417.4,1124.1 418.5,1124.1 419.6,1125.4 420.7,1125.0 421.8,1123.9 422.9,1123.9 424.0,1124.8 425.1,1125.4 426.2,1126.1 427.3,1126.7 428.3,1127.5 429.4,1127.9 430.5,1127.0 431.5,1129.2 432.8,1132.7 434.1,1134.5 435.4,1135.6 436.5,1134.7 437.5,1131.7 438.6,1128.6 439.7,1128.8 440.7,1126.7 441.8,1126.7 442.9,1126.7 443.9,1126.6 445.0,1127.9 446.1,1132.9 447.1,1133.0 448.2,1134.4 449.3,1134.1 450.4,1137.0 451.5,1138.9 452.6,1139.9 453.7,1142.8 454.8,1143.6 455.9,1143.3 457.0,1143.6 458.0,1144.4 459.1,1143.5 460.2,1142.8 461.2,1139.5 462.3,1139.5 463.4,1139.8 464.4,1138.5 465.5,1139.5 466.6,1139.0 467.6,1138.9 468.7,1136.9 469.8,1139.1 470.9,1138.7 471.9,1136.3 473.0,1135.6 474.1,1137.4 475.1,1134.4 476.2,1135.7 477.3,1136.1 478.3,1135.0 479.4,1133.1 480.5,1134.2 481.5,1134.4 482.6,1134.2 483.7,1132.5 484.7,1129.8 485.8,1128.8 486.9,1126.9 487.9,1124.1 489.0,1126.1 490.1,1127.3 491.2,1130.0 492.2,1129.9 493.3,1131.5 494.4,1134.4 495.4,1132.8 496.5,1134.0 497.6,1133.0 498.6,1134.2 499.7,1136.5 500.8,1136.9 501.9,1136.0 503.0,1134.5 504.1,1131.8 505.2,1134.2 506.3,1132.6 507.4,1132.1 508.5,1129.2 509.7,1127.6 511.0,1126.7 512.1,1127.9 513.2,1130.0 514.2,1127.9 515.3,1130.2 516.4,1132.5 517.4,1133.1 518.5,1130.7 519.6,1131.1 520.6,1132.1 521.7,1131.6 522.8,1133.4 523.8,1134.4 524.9,1134.8 526.0,1134.8 527.1,1135.5 528.2,1135.1 529.3,1131.7 530.4,1131.2 531.5,1131.8 532.6,1131.7 533.6,1134.6 534.6,1136.9 535.6,1139.5 536.7,1140.8 537.7,1139.9 538.7,1142.5 539.7,1144.1 540.8,1145.3 541.8,1147.2 542.9,1145.3 543.9,1146.0 545.0,1145.2 546.1,1143.9 547.1,1142.1 548.2,1142.1 549.2,1138.9 550.3,1138.5 551.3,1139.7 552.3,1137.8 553.3,1139.5 554.4,1142.1 555.4,1142.9 556.4,1146.3 557.4,1149.0 558.5,1152.3 559.5,1154.0 560.6,1154.3 561.7,1153.9 562.7,1155.2 563.8,1156.3 564.9,1157.4 565.9,1159.6 566.9,1159.8 567.9,1160.1 569.0,1162.4 570.0,1165.1 571.1,1163.1 572.2,1164.0 573.3,1163.7 574.4,1164.2 575.5,1164.8 576.6,1163.7 577.7,1163.8 578.8,1164.2 579.8,1165.0 580.9,1163.9 582.0,1164.6 583.0,1160.4 584.1,1162.6 585.2,1162.7 586.2,1164.1 587.3,1166.4 588.4,1165.8 589.4,1166.8 590.5,1165.1 591.6,1167.5 592.6,1167.7 593.7,1167.3 594.8,1168.4 595.9,1167.2 596.9,1169.0 598.0,1167.4 599.1,1167.7 600.1,1169.7 601.2,1167.1 602.3,1166.0 603.3,1165.1 604.4,1166.3 605.5,1165.6 606.5,1167.1 607.6,1168.4 608.7,1169.5 609.7,1169.0 610.8,1170.3 611.9,1170.3 612.9,1168.0 614.0,1167.1 615.1,1165.5 616.2,1165.1 617.2,1163.8 618.3,1163.7 619.4,1161.6 620.4,1159.9 621.5,1160.3 622.6,1158.7 623.7,1158.8 624.8,1157.0 625.9,1157.9 627.0,1156.7 628.1,1156.4 629.2,1157.5 630.3,1154.9 631.4,1154.4 632.5,1156.4 633.6,1154.2 634.7,1154.0 635.8,1151.8 636.8,1151.4 637.9,1151.0 639.0,1151.6 640.1,1151.5 641.2,1147.7 642.2,1145.5 643.3,1144.2 644.4,1145.9 645.6,1149.8 646.9,1154.2 648.2,1158.7 649.3,1159.3 650.4,1159.1 651.5,1161.0 652.6,1160.4 653.7,1162.5 654.8,1164.3 655.9,1165.1 657.0,1166.1 658.0,1166.1 659.1,1168.1 660.2,1168.7 661.2,1172.2 662.3,1171.5 663.4,1171.9 664.4,1171.1 665.5,1170.5 666.6,1170.0 667.6,1170.6 668.7,1171.5 669.7,1173.5 670.8,1175.0 671.8,1178.0 672.8,1176.8 673.8,1177.9 674.9,1181.8 675.9,1179.4 676.9,1180.8 677.9,1182.9 679.0,1184.5 680.0,1185.6 680.5,1183.1 681.5,1184.3 682.6,1184.8 683.6,1186.4 684.6,1184.2 685.6,1186.9 686.7,1187.3 687.7,1187.5 688.7,1188.2 689.7,1191.2 690.8,1192.1 692.1,1196.4 693.3,1200.9 694.6,1203.6 695.6,1206.8 696.7,1208.4 697.7,1208.8 698.7,1212.2 699.7,1215.1 700.8,1214.8 701.9,1215.2 702.9,1216.6 704.0,1215.2 705.1,1216.7 706.2,1216.4 707.3,1216.4 708.4,1216.3 709.5,1215.8 710.5,1217.6 711.6,1216.6 712.7,1216.8 713.8,1215.1 714.9,1214.3 716.0,1213.8 717.1,1211.0 718.1,1213.6 719.2,1213.4 720.3,1211.3 721.3,1209.9 722.4,1207.8 723.5,1206.7 724.5,1205.1 725.6,1201.1 726.7,1201.0 727.7,1202.4 728.8,1200.4 729.9,1199.0 730.9,1198.0 732.0,1197.7 733.1,1199.7 734.1,1200.2 735.2,1198.0 736.3,1196.0 737.4,1196.4 738.4,1192.7 739.5,1190.8 740.6,1190.8 741.7,1190.9 742.8,1188.7 743.9,1187.5 745.0,1188.7 746.1,1188.8 747.2,1188.2 748.2,1185.9 749.3,1184.3 750.4,1184.0 751.5,1182.2 752.5,1180.6 753.6,1179.2 754.6,1178.6 755.6,1177.8 756.7,1174.1 757.7,1173.2 758.7,1170.3 759.7,1171.7 760.8,1174.2 761.8,1177.1 762.8,1176.7 763.8,1177.9 764.9,1179.1 766.0,1177.9 767.1,1179.9 768.1,1180.3 769.2,1182.3 770.3,1183.1 771.4,1180.7 772.5,1182.5 773.6,1183.6 774.7,1183.1 775.8,1184.9 776.8,1184.1 777.9,1184.4 779.0,1186.2 780.1,1185.5 781.2,1187.4 782.2,1189.8 783.3,1192.7 784.4,1193.3 785.4,1194.6 786.5,1194.4 787.6,1196.0 788.6,1198.9 789.7,1197.5 790.8,1198.5 791.8,1199.7 792.9,1200.7 794.0,1201.9 795.0,1204.1 796.1,1202.7 797.2,1204.9 798.2,1203.6 799.2,1203.7 800.3,1202.9 801.3,1203.4 802.3,1199.7 803.3,1203.7 804.4,1207.4 805.4,1209.9 806.4,1214.5 807.4,1215.1 808.5,1214.8 809.6,1213.4 810.6,1215.8 811.7,1216.2 812.8,1218.2 813.8,1217.7 814.9,1220.4 816.0,1221.2 817.1,1222.2 818.1,1223.3 819.2,1225.0 820.3,1227.9 821.3,1227.1 822.4,1226.0 823.5,1224.6 824.5,1224.8 825.6,1223.6 826.7,1221.5 827.8,1221.9 828.9,1220.6 830.0,1218.5 831.1,1220.7 832.2,1219.8 833.3,1217.4 834.4,1217.7 835.4,1217.0 836.4,1212.9 837.4,1214.5 838.5,1212.5 839.5,1210.0 840.5,1209.5 841.5,1207.5 842.6,1204.2 843.6,1205.4 844.6,1203.6 845.7,1201.6 846.8,1200.5 847.8,1198.7 848.9,1197.7 850.0,1194.9 851.0,1193.3 852.1,1189.9 853.2,1190.1 854.2,1191.1 855.3,1191.7 856.4,1189.2 857.4,1188.2 858.5,1189.3 859.6,1186.8 860.6,1186.7 861.7,1187.2 862.8,1184.8 863.8,1183.1 865.1,1181.1 866.4,1179.8 867.7,1177.9 868.8,1181.1 869.8,1185.4 870.9,1189.5 872.0,1190.3 873.0,1192.3 874.1,1195.9 875.4,1191.7 876.7,1190.1 877.9,1186.9 879.0,1185.8 880.1,1185.4 881.2,1181.9 882.3,1182.9 883.4,1179.6 884.5,1178.8 885.6,1179.2 886.7,1177.2 887.8,1177.8 888.9,1176.3 890.0,1174.5 891.1,1174.3 892.2,1174.8 893.3,1171.5 894.4,1175.5 895.5,1179.8 896.5,1182.1 897.6,1183.1 898.7,1190.2 899.7,1190.8 900.8,1190.5 901.9,1192.1 903.0,1193.9 904.1,1195.8 905.2,1196.7 906.3,1196.4 907.4,1197.2 908.5,1195.4 909.6,1195.4 910.6,1191.7 911.7,1189.6 912.8,1189.1 913.8,1188.2 914.9,1185.7 915.9,1184.7 916.9,1184.6 917.9,1182.3 919.0,1181.8 920.0,1182.9 921.0,1185.5 922.1,1187.0 923.1,1189.7 924.1,1192.1 925.2,1195.1 926.2,1197.2 927.3,1195.9 928.4,1196.6 929.4,1195.9 930.5,1199.7 931.5,1200.3 932.6,1201.6 933.6,1203.4 934.6,1202.4 935.6,1204.9 936.7,1204.2 937.8,1201.3 938.8,1202.5 939.9,1203.6 941.0,1199.8 942.1,1201.0 943.2,1199.2 944.2,1197.4 945.3,1195.2 946.4,1194.1 947.5,1190.4 948.6,1189.1 949.7,1185.6 950.8,1186.1 951.9,1184.1 952.9,1184.0 954.0,1186.0 955.1,1184.8 956.2,1183.1 957.2,1180.9 958.3,1179.9 959.4,1180.2 960.4,1180.7 961.5,1179.7 962.6,1177.9 963.6,1180.3 964.6,1183.8 965.6,1184.2 966.7,1185.5 967.7,1188.2 968.8,1187.5 969.8,1185.9 970.9,1184.2 972.0,1183.3 973.0,1183.4 974.1,1181.8 975.2,1178.8 976.2,1178.5 977.3,1176.9 978.4,1173.8 979.4,1173.8 980.5,1171.5 981.5,1172.6 982.6,1175.4 983.6,1178.1 984.6,1177.5 985.6,1179.2 986.7,1178.1 987.8,1181.4 988.8,1178.9 989.9,1180.0 991.0,1177.9 992.1,1177.9 993.3,1165.1 994.4,1162.2 995.5,1162.1 996.5,1162.7 997.6,1161.7 998.7,1160.0 999.7,1160.0 1000.8,1159.4 1001.9,1155.3 1002.9,1156.0 1004.0,1152.0 1005.1,1153.3 1006.2,1151.0 1007.2,1150.2 1008.3,1150.9 1009.4,1149.2 1010.4,1146.1 1011.5,1144.2 1012.6,1145.9 1013.8,1143.2 1015.1,1137.6 1016.4,1134.4 1017.5,1138.1 1018.5,1141.0 1019.6,1140.3 1020.7,1144.2 1021.8,1148.9 1022.8,1151.0 1023.9,1151.3 1025.0,1145.9 1026.0,1146.5 1027.1,1146.3 1028.2,1147.2 1029.2,1143.3 1030.3,1142.7 1031.4,1142.8 1032.4,1143.8 1033.5,1142.3 1034.6,1143.6 1035.6,1142.1 1036.9,1147.8 1038.2,1152.6 1039.5,1158.7 1040.5,1160.7 1041.5,1162.1 1042.6,1167.7 1043.6,1170.6 1044.6,1172.8 1045.6,1173.9 1046.7,1176.1 1047.7,1175.1 1048.7,1176.5 1049.7,1177.9 1050.8,1177.3 1051.9,1174.9 1053.0,1171.0 1054.1,1172.7 1055.2,1171.2 1056.3,1169.4 1057.4,1167.7 1058.5,1166.0 1059.6,1163.4 1060.6,1160.5 1061.7,1158.6 1062.8,1156.8 1063.8,1156.2 1064.9,1154.1 1066.0,1155.9 1067.1,1153.9 1068.1,1155.6 1069.2,1153.9 1070.3,1154.9 1071.4,1155.9 1072.5,1154.3 1073.6,1152.1 1074.7,1151.8 1075.8,1151.3 1076.8,1148.4 1077.9,1149.7 1079.0,1149.1 1080.1,1148.3 1081.2,1148.5 1082.3,1149.1 1083.4,1149.2 1084.5,1149.1 1085.6,1147.2 1086.7,1147.3 1087.8,1147.2 1088.8,1146.8 1089.9,1146.7 1091.0,1146.8 1092.1,1147.2 1093.1,1144.9 1094.1,1144.7 1095.1,1142.7 1096.2,1142.6 1097.2,1142.1 1098.2,1144.8 1099.3,1150.2 1100.4,1148.0 1101.5,1152.1 1102.5,1153.3 1103.6,1158.7 1104.7,1160.4 1105.8,1155.0 1106.9,1155.5 1108.0,1155.5 1109.1,1153.9 1110.2,1153.8 1111.3,1152.3 1112.4,1151.2 1113.4,1150.3 1114.5,1148.7 1115.6,1146.5 1116.6,1146.5 1117.7,1144.6 1118.8,1144.5 1119.8,1143.6 1120.9,1141.4 1122.0,1142.7 1123.0,1143.4 1124.1,1143.3 1125.2,1141.3 1126.2,1140.5 1127.3,1140.1 1128.4,1138.6 1129.4,1138.6 1130.5,1135.6 1131.6,1135.6 1132.6,1133.2 1133.7,1135.9 1134.8,1137.6 1135.9,1137.5 1136.9,1135.6 1138.0,1135.2 1139.1,1134.3 1140.1,1135.8 1141.2,1133.9 1142.3,1132.0 1143.3,1134.4 1144.4,1138.3 1145.4,1140.0 1146.4,1139.2 1147.4,1139.7 1148.5,1142.1 1149.5,1139.1 1150.5,1139.3 1151.5,1136.3 1152.6,1132.6 1153.6,1131.8 1154.7,1130.8 1155.7,1130.7 1156.8,1129.9 1157.9,1128.9 1158.9,1128.9 1160.0,1127.9 1161.0,1127.7 1162.1,1130.0 1163.1,1132.3 1164.1,1135.2 1165.1,1139.5 1166.2,1141.0 1167.3,1143.5 1168.3,1145.0 1169.4,1145.5 1170.5,1146.8 1171.5,1149.7 1172.6,1151.0 1173.6,1155.0 1174.6,1158.2 1175.6,1160.1 1176.7,1162.6 1177.9,1168.8 1179.2,1173.2 1180.5,1177.9 1181.6,1179.3 1182.6,1179.0 1183.7,1180.5 1184.8,1178.7 1185.9,1178.5 1186.9,1179.2 1188.0,1178.3 1189.1,1181.5 1190.1,1183.1 1191.2,1181.9 1192.3,1182.4 1193.3,1181.8 1194.4,1181.7 1195.5,1180.5 1196.5,1175.8 1197.6,1173.9 1198.7,1173.4 1199.7,1171.5 1200.8,1171.5 1201.9,1169.0 1202.9,1168.3 1204.0,1167.0 1205.1,1165.8 1206.2,1166.4 1207.2,1167.9 1208.2,1169.9 1209.2,1174.4 1210.3,1176.0 1211.3,1175.4 1212.4,1176.3 1213.4,1178.3 1214.5,1181.4 1215.6,1182.1 1216.6,1183.9 1217.7,1183.1 1218.7,1188.6 1219.7,1192.4 1220.8,1197.5 1221.8,1203.4 1222.8,1206.2 1223.9,1207.6 1225.0,1210.1 1226.0,1211.3 1227.1,1213.2 1228.2,1216.5 1229.2,1217.7 1230.3,1220.1 1231.4,1220.0 1232.4,1218.0 1233.5,1222.1 1234.6,1221.6 1235.6,1221.5 1236.7,1221.8 1237.7,1224.1 1238.7,1224.6 1239.7,1227.2 1240.8,1229.2 1241.8,1230.5 1242.9,1231.8 1244.0,1231.5 1245.0,1235.0 1246.1,1234.3 1247.2,1235.6 1248.2,1232.0 1249.2,1229.2 1250.3,1226.2 1251.3,1224.3 1252.3,1222.8 1253.4,1221.0 1254.5,1221.4 1255.6,1223.3 1256.7,1222.7 1257.8,1221.3 1258.9,1220.9 1260.0,1220.3 1261.1,1220.2 1262.1,1221.1 1263.2,1220.5 1264.3,1217.7 1265.3,1219.2 1266.4,1220.3 1267.7,1216.7 1269.0,1211.9 1270.3,1208.7 1271.4,1212.2 1272.5,1210.2 1273.6,1209.9 1274.7,1210.1 1275.8,1210.7 1276.8,1211.6 1277.9,1215.1 1279.0,1215.8 1280.0,1216.1 1281.0,1217.9 1282.1,1222.1 1283.1,1224.1 1284.1,1224.3 1285.2,1226.4 1286.3,1229.0 1287.4,1231.0 1288.4,1231.8 1289.5,1230.5 1290.6,1230.2 1291.6,1231.3 1292.7,1230.5 1293.8,1227.6 1294.8,1227.0 1295.9,1225.4 1297.0,1225.7 1298.0,1224.9 1299.1,1223.5 1300.2,1224.1 1301.2,1223.0 1302.3,1225.4 1303.4,1228.2 1304.4,1228.0 1305.5,1232.5 1306.6,1234.7 1307.6,1233.2 1308.7,1236.9 1309.7,1241.1 1310.8,1244.7 1311.8,1244.2 1312.8,1247.7 1313.8,1249.7 1314.9,1250.7 1315.9,1251.0 1316.9,1252.5 1317.9,1250.1 1319.0,1249.9 1320.0,1252.3 1320.5,1252.3 1321.5,1252.0 1322.6,1254.4 1323.6,1255.7 1324.6,1256.6 1325.6,1257.4 1326.7,1256.8 1327.8,1258.7 1328.9,1259.3 1330.0,1258.7 1331.1,1258.1 1332.2,1260.4 1333.3,1258.7 1334.4,1259.3 1335.5,1260.0 1336.5,1258.3 1337.6,1259.0 1338.7,1256.6 1339.7,1257.4 1340.8,1258.2 1341.9,1256.1 1342.9,1258.3 1344.0,1257.2 1345.1,1259.7 1346.2,1258.7 1347.2,1257.9 1348.3,1258.1 1349.4,1257.1 1350.4,1257.2 1351.5,1256.0 1352.6,1256.2 1353.6,1255.5 1354.7,1254.8 1355.8,1251.0 1356.8,1253.0 1357.9,1252.0 1359.0,1251.0 1360.3,1253.8 1361.5,1258.2 1362.8,1261.3 1363.9,1261.1 1365.0,1264.2 1366.0,1263.6 1367.1,1266.4 1368.2,1265.4 1369.2,1265.1 1370.3,1264.1 1371.3,1261.7 1372.3,1262.9 1373.3,1262.5 1374.4,1260.0 1375.4,1259.9 1376.4,1255.9 1377.4,1251.8 1378.5,1250.2 1379.5,1249.7 1380.6,1246.7 1381.6,1247.0 1382.7,1245.7 1383.8,1243.6 1384.8,1242.4 1385.9,1240.8 1387.0,1239.9 1388.1,1239.6 1389.2,1239.0 1390.3,1236.1 1391.4,1233.3 1392.5,1235.3 1393.6,1233.1 1394.7,1234.1 1395.8,1230.5 1396.9,1230.5 1398.0,1230.6 1399.1,1228.4 1400.2,1228.5 1401.3,1229.2 1402.6,1228.6 1403.8,1227.5 1405.1,1222.8 1406.2,1221.9 1407.3,1224.5 1408.3,1226.6 1409.4,1226.9 1410.5,1225.7 1411.5,1227.9 1412.6,1229.3 1413.7,1229.4 1414.8,1228.3 1415.9,1229.0 1417.0,1230.0 1418.1,1228.7 1419.2,1229.2 1420.3,1228.6 1421.4,1229.3 1422.4,1228.8 1423.5,1229.5 1424.6,1227.8 1425.6,1227.9 1426.7,1229.0 1427.8,1231.5 1428.8,1234.6 1429.9,1234.4 1431.0,1238.0 1432.1,1236.9 1433.1,1239.1 1434.2,1238.8 1435.3,1240.2 1436.3,1238.5 1437.4,1238.1 1438.5,1238.2 1439.5,1237.3 1440.6,1237.8 1441.7,1236.3 1442.7,1234.9 1443.8,1233.0 1444.9,1231.8 1445.9,1231.0 1447.0,1234.2 1448.1,1234.1 1449.1,1233.7 1450.2,1234.6 1451.3,1236.9 1452.4,1237.8 1453.5,1239.2 1454.6,1236.9 1455.7,1239.1 1456.8,1240.1 1457.9,1238.9 1459.0,1239.5 1460.0,1238.1 1461.1,1238.6 1462.2,1240.1 1463.2,1239.9 1464.3,1238.0 1465.4,1240.8 1466.5,1237.6 1467.5,1239.0 1468.6,1236.2 1469.7,1235.1 1470.7,1233.9 1471.8,1234.4 1472.9,1234.3 1473.9,1233.3 1475.0,1231.8 1476.1,1230.1 1477.1,1226.3 1478.2,1226.7 1479.3,1225.1 1480.3,1224.2 1481.4,1225.5 1482.5,1224.1 1483.5,1223.3 1484.6,1224.1 1485.7,1221.3 1486.8,1223.3 1487.8,1225.0 1488.9,1224.0 1490.0,1222.1 1491.0,1222.8 1492.1,1221.5 1493.2,1223.5 1494.2,1223.0 1495.3,1223.4 1496.4,1224.1 1497.4,1221.5 1498.5,1225.4 1499.5,1230.1 1500.5,1233.8 1501.5,1234.5 1502.6,1239.5 1503.7,1237.4 1504.8,1238.6 1505.9,1239.9 1507.0,1238.3 1508.1,1236.9 1509.2,1240.1 1510.3,1239.5 1511.3,1240.0 1512.3,1235.5 1513.3,1235.9 1514.4,1235.9 1515.4,1231.8 1516.5,1232.3 1517.5,1231.6 1518.6,1230.6 1519.7,1231.3 1520.7,1231.4 1521.8,1229.2 1522.9,1226.9 1523.9,1227.9 1525.0,1226.2 1526.1,1226.4 1527.1,1225.5 1528.2,1224.1 1529.2,1225.3 1530.3,1222.3 1531.3,1221.5 1532.3,1222.4 1533.3,1219.0 1534.4,1218.3 1535.5,1218.1 1536.6,1217.3 1537.7,1215.3 1538.8,1211.4 1539.9,1209.3 1541.0,1210.0 1542.2,1208.8 1543.4,1209.5 1544.6,1205.5 1545.7,1205.3 1546.9,1202.3 1547.9,1193.3 1549.1,1192.0 1550.3,1193.5 1551.5,1193.4 1552.7,1193.9 1553.8,1194.6 1554.9,1192.0 1555.9,1191.3 1556.9,1188.5 1557.9,1186.5 1559.0,1185.6 1560.0,1183.8 1561.1,1183.2 1562.2,1183.8 1563.2,1181.3 1564.3,1179.3 1565.4,1177.9 1566.7,1182.3 1567.9,1186.9 1569.0,1186.0 1570.0,1187.8 1571.0,1187.2 1572.1,1186.8 1573.1,1188.2 1574.4,1185.6 1575.6,1186.0 1576.9,1181.8 1578.0,1184.6 1579.1,1182.3 1580.1,1184.4 1581.2,1185.8 1582.3,1184.6 1583.3,1184.4 1584.4,1186.3 1585.5,1184.4 1586.5,1182.4 1587.6,1181.0 1588.7,1181.4 1589.7,1180.5 1591.0,1167.7 1592.3,1164.2 1593.6,1156.2 1594.6,1158.7 1595.6,1161.8 1596.7,1161.0 1597.7,1164.4 1598.7,1165.1 1599.7,1162.6 1600.8,1159.9 1601.8,1157.9 1602.8,1155.3 1603.8,1156.2 1604.9,1152.8 1606.0,1154.1 1607.1,1155.1 1608.2,1151.1 1609.3,1150.7 1610.4,1148.1 1611.5,1149.7 1612.8,1155.7 1614.1,1162.8 1615.4,1170.3 1616.7,1175.2 1617.9,1178.6 1619.2,1183.1 1620.3,1181.7 1621.4,1181.7 1622.4,1179.7 1623.5,1180.1 1624.6,1177.3 1625.6,1179.2 1626.7,1182.9 1627.7,1183.6 1628.7,1183.3 1629.7,1186.3 1630.8,1188.2 1631.8,1188.0 1632.8,1191.0 1633.8,1195.4 1634.9,1198.0 1635.9,1199.7 1637.0,1197.9 1638.1,1196.5 1639.2,1198.6 1640.3,1197.5 1641.4,1195.1 1642.5,1192.7 1643.6,1194.6 1644.7,1197.0 1645.7,1194.4 1646.8,1194.9 1647.9,1195.6 1648.9,1195.5 1650.0,1195.9 1651.1,1193.8 1652.1,1193.5 1653.2,1196.7 1654.3,1194.6 1655.3,1195.7 1656.4,1194.6 1657.4,1194.9 1658.5,1197.2 1659.5,1199.8 1660.5,1198.8 1661.5,1201.0 1662.6,1203.6 1663.7,1204.2 1664.7,1207.1 1665.8,1207.7 1666.9,1209.3 1667.9,1212.6 1669.0,1210.6 1670.1,1212.5 1671.2,1212.8 1672.2,1212.7 1673.3,1214.4 1674.4,1216.4 1675.4,1215.2 1676.5,1216.2 1677.6,1212.9 1678.6,1211.0 1679.7,1213.4 1680.8,1211.3 1682.1,1210.7 1683.3,1206.5 1684.6,1204.9 1685.7,1205.1 1686.8,1205.0 1687.8,1204.0 1688.9,1204.8 1690.0,1202.5 1691.0,1202.3 1692.1,1199.6 1693.2,1202.1 1694.2,1200.3 1695.3,1199.1 1696.4,1198.5 1697.4,1199.7 1698.5,1197.5 1699.6,1198.3 1700.6,1197.9 1701.7,1197.8 1702.8,1197.1 1703.8,1198.5 1705.1,1200.7 1706.4,1204.3 1707.7,1207.4 1708.8,1208.4 1709.8,1205.7 1710.9,1207.2 1712.0,1207.6 1713.0,1210.0 1714.1,1210.0 1715.2,1209.8 1716.2,1211.7 1717.3,1213.1 1718.4,1216.1 1719.4,1216.2 1720.5,1217.7 1721.6,1216.0 1722.6,1214.7 1723.7,1217.6 1724.8,1217.6 1725.9,1217.5 1726.9,1216.4 1728.0,1216.7 1729.1,1214.3 1730.1,1215.9 1731.2,1214.3 1732.3,1215.4 1733.3,1213.8 1734.4,1212.4 1735.5,1213.1 1736.5,1217.0 1737.6,1217.3 1738.7,1217.6 1739.7,1219.0 1740.8,1219.3 1741.8,1219.7 1742.8,1221.1 1743.8,1222.2 1744.9,1222.8 1745.9,1222.1 1747.0,1222.4 1748.1,1220.9 1749.1,1219.4 1750.2,1217.8 1751.3,1213.8 1752.4,1214.8 1753.4,1214.7 1754.5,1214.2 1755.6,1215.2 1756.6,1215.0 1757.7,1216.4 1758.8,1219.4 1759.8,1219.7 1760.9,1219.1 1762.0,1222.3 1763.0,1224.1 1764.1,1226.7 1765.2,1224.2 1766.2,1223.2 1767.3,1224.9 1768.4,1224.7 1769.4,1227.1 1770.5,1224.1 1771.6,1223.2 1772.6,1223.8 1773.7,1221.7 1774.8,1220.3 1775.9,1218.5 1776.9,1217.7 1778.0,1218.0 1779.1,1216.9 1780.1,1216.4 1781.2,1213.1 1782.3,1211.5 1783.3,1210.0 1784.4,1210.4 1785.5,1207.7 1786.5,1208.9 1787.6,1209.7 1788.7,1210.1 1789.7,1207.4 1790.8,1208.0 1791.9,1205.7 1792.9,1204.4 1794.0,1202.8 1795.1,1205.0 1796.2,1203.6 1797.2,1205.2 1798.3,1205.7 1799.4,1207.3 1800.4,1212.2 1801.5,1213.3 1802.6,1212.6 1803.6,1208.9 1804.7,1208.0 1805.8,1209.0 1806.8,1209.2 1807.9,1205.7 1809.0,1203.6 1810.0,1202.7 1811.1,1201.0 1812.2,1203.8 1813.2,1202.3 1814.3,1204.5 1815.4,1203.6 1816.5,1201.2 1817.6,1202.8 1818.7,1201.9 1819.8,1203.4 1820.9,1202.9 1822.0,1201.1 1823.1,1202.3 1824.1,1204.5 1825.2,1202.5 1826.3,1207.1 1827.4,1207.8 1828.4,1209.0 1829.5,1208.7 1830.6,1207.4 1831.6,1208.2 1832.7,1210.4 1833.8,1208.1 1834.8,1208.2 1835.9,1210.0 1836.9,1209.6 1837.9,1212.0 1839.0,1211.0 1840.0,1212.6 1841.0,1215.1 1842.1,1216.2 1843.2,1214.8 1844.3,1212.5 1845.4,1210.0 1846.5,1208.9 1847.6,1208.2 1848.7,1208.7 1849.8,1209.8 1850.9,1213.3 1851.9,1213.6 1853.0,1212.9 1854.1,1216.7 1855.1,1216.4 1856.2,1216.7 1857.3,1214.9 1858.3,1212.6 1859.4,1212.5 1860.5,1214.7 1861.5,1213.8 1862.8,1206.8 1864.1,1203.2 1865.4,1198.5 1866.5,1198.8 1867.5,1198.7 1868.6,1199.3 1869.7,1196.5 1870.7,1197.4 1871.8,1195.9 1872.8,1197.0 1873.8,1197.3 1874.9,1197.9 1875.9,1199.3 1876.9,1198.5 1878.2,1197.0 1879.5,1194.1 1880.8,1189.5 1881.8,1188.0 1882.8,1186.3 1883.8,1185.4 1884.9,1184.8 1885.9,1184.4 1886.9,1188.8 1887.9,1190.0 1889.0,1191.4 1890.0,1191.1 1891.0,1193.3 1892.1,1191.3 1893.1,1190.7 1894.1,1188.2 1895.1,1189.8 1896.2,1186.9 1897.3,1188.0 1898.4,1184.1 1899.5,1185.5 1900.5,1186.2 1901.6,1186.3 1902.7,1186.7 1903.8,1185.6 1904.9,1186.1 1906.0,1183.4 1907.1,1184.0 1908.2,1183.0 1909.3,1185.2 1910.4,1185.9 1911.5,1185.6 1912.8,1199.7" stroke="#ffffff" stroke-width="4.1" fill="none" stroke-linejoin="round" stroke-linecap="round"/><path d="M20.0,1180.5 21.0,1184.1 22.1,1189.3 23.1,1192.3 24.1,1195.1 25.1,1195.9 26.2,1196.1 27.3,1195.4 28.3,1193.8 29.4,1191.8 30.5,1190.3 31.5,1190.8 32.6,1191.8 33.6,1194.1 34.6,1197.1 35.6,1197.5 36.7,1197.2 37.7,1200.0 38.8,1200.8 39.9,1199.6 40.9,1203.9 42.0,1204.5 43.1,1206.2 44.1,1208.2 45.2,1213.0 46.3,1215.2 47.4,1216.4 48.4,1216.1 49.5,1219.0 50.6,1219.8 51.6,1223.4 52.7,1222.1 53.8,1224.5 54.8,1227.6 55.9,1227.9 57.0,1228.6 58.1,1229.4 59.2,1231.1 60.3,1230.2 61.4,1231.8 62.5,1233.8 63.6,1231.8 64.7,1231.2 65.8,1233.2 66.9,1232.9 68.0,1232.2 69.1,1235.9 70.2,1237.0 71.3,1235.6 72.3,1239.5 73.3,1240.6 74.4,1240.0 75.4,1239.2 76.4,1243.3 77.5,1241.3 78.6,1241.6 79.7,1241.7 80.8,1239.1 81.9,1239.0 83.0,1241.1 84.1,1238.2 85.2,1236.8 86.3,1237.3 87.4,1237.6 88.5,1238.4 89.6,1238.8 90.7,1237.7 91.8,1236.9 92.9,1237.6 93.9,1234.4 95.0,1236.2 96.1,1235.4 97.1,1233.6 98.2,1233.1 99.3,1232.8 100.4,1230.3 101.5,1228.8 102.6,1230.3 103.7,1232.2 104.8,1230.4 105.9,1229.2 107.0,1230.2 108.1,1229.6 109.2,1231.7 110.3,1233.4 111.4,1233.5 112.5,1235.1 113.6,1234.4 114.7,1236.3 115.7,1237.0 116.8,1238.7 117.9,1241.3 118.9,1243.3 120.0,1244.6 121.1,1246.0 122.2,1243.7 123.3,1246.0 124.4,1243.1 125.5,1244.0 126.6,1244.9 127.7,1244.6 128.8,1244.8 129.9,1244.0 131.1,1242.1 132.2,1243.4 133.3,1242.4 134.4,1240.6 135.5,1241.0 136.7,1240.8 137.7,1242.7 138.8,1243.2 139.9,1245.3 140.9,1246.5 142.0,1250.2 143.1,1249.7 144.2,1251.7 145.3,1250.6 146.4,1251.9 147.5,1253.1 148.6,1251.4 149.7,1251.3 150.8,1251.0 151.8,1248.7 152.8,1247.8 153.8,1247.7 154.9,1248.0 155.9,1245.9 157.0,1247.3 158.0,1249.0 159.1,1248.6 160.2,1252.0 161.2,1253.1 162.3,1254.9 163.4,1254.7 164.4,1257.7 165.5,1258.9 166.6,1260.9 167.6,1261.0 168.7,1262.6 169.8,1262.7 170.9,1261.3 172.0,1262.7 173.1,1263.5 174.2,1263.3 175.3,1265.4 176.4,1265.1 177.5,1267.5 178.6,1265.8 179.7,1263.5 180.8,1263.8 181.9,1263.2 183.0,1263.9 184.1,1263.8 185.2,1264.9 186.2,1263.5 187.3,1266.9 188.4,1266.9 189.4,1268.9 190.5,1267.7 191.6,1270.9 192.6,1268.5 193.7,1269.6 194.8,1271.3 195.9,1268.3 196.9,1271.5 198.0,1267.9 199.1,1270.6 200.1,1269.7 201.2,1266.5 202.3,1263.7 203.3,1265.1 204.4,1262.8 205.5,1260.8 206.5,1260.6 207.6,1258.5 208.7,1255.3 209.7,1256.2 210.8,1256.7 211.9,1254.6 213.0,1253.9 214.1,1255.4 215.2,1255.0 216.3,1251.8 217.4,1252.3 218.5,1253.0 219.6,1254.8 220.7,1253.7 221.8,1254.7 222.9,1257.4 224.0,1256.5 225.1,1258.7 226.2,1260.2 227.3,1260.2 228.3,1263.5 229.4,1264.4 230.5,1264.4 231.5,1265.1 232.6,1266.5 233.7,1265.8 234.7,1263.2 235.8,1263.0 236.9,1261.8 237.9,1260.0 239.0,1259.6 240.1,1263.1 241.2,1261.1 242.2,1262.3 243.3,1264.5 244.4,1262.6 245.4,1262.9 246.5,1262.1 247.6,1263.5 248.6,1262.0 249.7,1263.7 250.8,1263.8 251.8,1264.7 252.8,1263.2 253.8,1264.0 254.9,1267.4 255.9,1267.7 257.0,1263.2 258.0,1264.5 259.1,1261.1 260.2,1260.8 261.2,1259.7 262.3,1256.2 263.4,1255.1 264.5,1252.1 265.6,1253.6 266.7,1255.5 267.8,1251.7 268.9,1252.9 270.0,1251.0 271.1,1252.5 272.2,1249.9 273.3,1250.1 274.4,1250.5 275.5,1252.3 276.6,1249.5 277.7,1249.7 278.8,1248.2 279.9,1249.7 281.1,1247.0 282.2,1247.6 283.3,1246.2 284.4,1246.7 285.5,1248.1 286.7,1247.2 287.8,1247.7 288.9,1246.4 290.0,1246.4 291.1,1246.2 292.2,1245.0 293.3,1246.2 294.4,1245.9 295.4,1246.7 296.5,1249.5 297.6,1250.7 298.6,1251.4 299.7,1253.4 300.8,1254.9 301.9,1255.1 303.0,1255.0 304.1,1252.7 305.2,1251.1 306.3,1247.7 307.4,1247.0 308.5,1247.2 309.5,1246.7 310.6,1247.2 311.7,1251.5 312.7,1251.1 313.8,1250.2 314.9,1252.3 316.0,1251.4 317.1,1257.0 318.2,1256.8 319.4,1258.4 320.5,1259.9 321.6,1259.8 322.7,1261.6 323.8,1262.6 324.9,1260.7 326.0,1260.7 327.1,1257.4 328.1,1255.4 329.2,1253.8 330.3,1253.6 331.3,1253.1 332.4,1255.3 333.5,1252.0 334.5,1251.1 335.6,1249.9 336.7,1252.3 337.7,1252.8 338.8,1255.4 339.9,1255.1 340.9,1256.4 342.0,1260.1 343.1,1260.0 344.1,1259.6 345.2,1259.9 346.3,1257.7 347.4,1259.5 348.4,1258.0 349.5,1257.4 350.5,1254.8 351.5,1252.6 352.6,1251.3 353.6,1248.0 354.6,1244.6 355.7,1243.5 356.9,1243.7 358.0,1244.0 359.1,1244.6 360.2,1242.5 361.3,1246.1 362.5,1244.0 363.6,1244.6 364.6,1243.1 365.6,1241.1 366.7,1239.6 367.7,1237.9 368.7,1236.9 369.7,1235.5 370.8,1233.4 371.8,1230.3 372.8,1224.2 373.8,1221.5 374.9,1220.6 375.9,1218.1 376.9,1216.6 377.9,1214.5 379.0,1212.6 380.3,1211.4 381.5,1214.0 382.8,1213.8 384.1,1209.2 385.4,1201.0 386.5,1200.1 387.5,1200.4 388.6,1200.4 389.7,1201.4 390.7,1199.7 391.8,1199.7 393.1,1203.7 394.4,1206.2 395.5,1204.9 396.6,1204.2 397.7,1205.0 398.8,1205.1 399.9,1204.0 401.0,1201.6 402.1,1201.0 403.1,1198.9 404.1,1195.3 405.1,1194.0 406.2,1190.0 407.2,1188.2 408.5,1190.5 409.7,1193.6 411.0,1199.7 412.1,1193.1 413.2,1189.2 414.2,1185.2 415.3,1182.0 416.4,1176.5 417.4,1172.8 418.5,1169.8 419.6,1167.2 420.6,1164.9 421.7,1163.1 422.8,1160.8 423.8,1160.0 424.9,1157.0 426.0,1155.7 427.1,1156.9 428.1,1153.8 429.2,1153.6 430.3,1152.3 431.3,1152.5 432.4,1151.5 433.5,1150.3 434.5,1151.8 435.6,1152.4 436.7,1149.7 437.9,1145.9 439.2,1138.6 440.5,1131.8 441.6,1131.8 442.6,1132.5 443.7,1134.6 444.8,1134.7 445.9,1136.2 446.9,1136.9 448.0,1137.7 449.1,1137.8 450.1,1137.8 451.2,1142.9 452.3,1141.9 453.3,1142.1 454.4,1139.1 455.5,1139.0 456.6,1141.6 457.7,1139.9 458.8,1137.5 459.9,1139.5 461.0,1136.9 462.1,1135.9 463.1,1135.9 464.1,1132.9 465.1,1131.4 466.2,1127.9 467.2,1125.3 468.3,1127.3 469.4,1127.0 470.4,1125.3 471.5,1127.7 472.6,1127.9 473.6,1127.2 474.7,1126.8 475.8,1124.8 476.8,1121.9 477.9,1122.0 479.0,1122.8 480.3,1117.8 481.5,1115.1 482.8,1113.8 484.1,1111.7 485.4,1106.8 486.7,1102.3 487.8,1104.2 488.9,1104.1 490.0,1103.5 491.1,1103.0 492.2,1102.3 493.3,1105.0 494.4,1104.9 495.4,1106.2 496.5,1104.0 497.6,1103.3 498.6,1104.2 499.7,1105.7 500.8,1103.6 502.1,1098.7 503.3,1095.5 504.6,1090.8 505.6,1089.4 506.7,1084.9 507.7,1081.4 508.7,1080.8 509.7,1079.2 510.8,1080.7 511.9,1081.1 513.0,1080.9 514.1,1077.7 515.2,1079.3 516.3,1078.9 517.4,1080.5 518.5,1082.1 519.6,1079.2 520.7,1079.6 521.8,1080.1 522.9,1080.8 524.0,1082.4 525.1,1083.1 526.2,1081.0 527.3,1081.9 528.4,1082.2 529.5,1081.5 530.6,1082.5 531.7,1079.9 532.8,1079.2 533.9,1079.6 535.0,1079.7 536.1,1081.8 537.2,1084.7 538.3,1085.8 539.4,1086.2 540.5,1086.9 541.6,1087.2 542.6,1086.1 543.7,1080.8 544.8,1078.6 545.9,1079.9 546.9,1077.9 548.0,1077.7 549.1,1076.5 550.1,1072.6 551.2,1070.1 552.3,1070.4 553.3,1069.0 554.4,1070.8 555.4,1076.0 556.4,1074.5 557.4,1078.3 558.5,1080.5 559.5,1083.5 560.6,1082.0 561.7,1081.3 562.7,1082.7 563.8,1081.9 564.9,1084.4 565.9,1083.9 567.0,1084.2 568.1,1085.8 569.1,1085.5 570.2,1084.7 571.3,1085.6 572.4,1085.8 573.4,1086.4 574.5,1086.7 575.6,1089.0 576.6,1088.6 577.7,1089.5 578.8,1089.2 579.8,1088.1 580.9,1086.1 582.0,1082.2 583.0,1084.6 584.1,1080.5 585.2,1078.8 586.2,1079.4 587.3,1079.3 588.4,1076.3 589.4,1075.8 590.5,1077.9 591.6,1078.2 592.6,1078.8 593.7,1079.9 594.8,1082.4 595.9,1082.8 596.9,1085.6 598.0,1084.7 599.1,1082.8 600.2,1084.2 601.3,1083.8 602.4,1079.1 603.5,1078.6 604.6,1077.9 605.6,1079.0 606.7,1078.4 607.7,1080.3 608.7,1082.3 609.7,1085.6 610.8,1083.5 611.9,1082.4 612.9,1080.8 614.0,1075.7 615.1,1074.3 616.2,1074.1 617.3,1072.3 618.4,1069.8 619.5,1069.2 620.5,1071.3 621.6,1066.6 622.7,1065.4 623.8,1065.1 624.9,1062.3 626.0,1061.8 627.1,1060.2 628.1,1057.9 629.2,1057.4 630.3,1057.4 631.4,1055.5 632.5,1055.8 633.6,1055.7 634.7,1055.2 635.8,1054.6 636.8,1051.7 637.9,1052.3 639.0,1050.8 640.1,1048.7 641.2,1048.6 642.2,1047.6 643.3,1046.4 644.4,1045.9 645.4,1046.2 646.4,1048.8 647.4,1049.9 648.5,1051.9 649.5,1054.9 650.6,1054.9 651.7,1054.9 652.8,1054.6 653.9,1052.1 655.0,1052.7 656.1,1054.5 657.2,1052.3 658.3,1053.3 659.4,1052.2 660.5,1050.3 661.6,1050.9 662.7,1048.6 663.8,1049.2 664.9,1049.7 665.9,1046.3 667.0,1044.2 668.1,1044.7 669.1,1043.0 670.2,1042.3 671.3,1040.8 672.3,1045.0 673.3,1047.2 674.4,1051.6 675.4,1053.4 676.4,1058.7 677.6,1060.2 678.8,1061.0 680.0,1062.6 680.5,1062.6 681.6,1065.5 682.7,1061.9 683.8,1061.7 684.9,1065.0 686.0,1063.1 687.1,1064.3 688.2,1065.1 689.2,1064.9 690.3,1067.3 691.3,1070.3 692.3,1072.9 693.3,1072.8 694.4,1075.8 695.4,1077.1 696.4,1080.1 697.4,1081.6 698.5,1084.4 699.6,1085.3 700.7,1085.8 701.8,1084.3 702.9,1083.4 704.0,1084.4 705.1,1085.6 706.2,1084.4 707.3,1084.1 708.4,1085.2 709.5,1085.8 710.5,1085.4 711.6,1089.4 712.7,1088.1 713.8,1088.2 715.1,1084.4 716.4,1079.6 717.7,1077.9 718.8,1075.9 719.8,1074.8 720.9,1074.2 722.0,1071.9 723.0,1072.0 724.1,1072.8 725.2,1070.0 726.3,1068.5 727.4,1066.4 728.5,1065.7 729.6,1065.9 730.7,1065.0 731.8,1063.8 732.9,1061.3 733.9,1061.3 735.0,1060.3 736.1,1055.3 737.1,1055.9 738.2,1052.3 739.3,1050.1 740.3,1049.8 741.4,1049.9 742.5,1051.4 743.5,1048.5 744.6,1047.2 745.7,1046.1 746.8,1045.1 747.8,1046.2 748.9,1043.6 750.0,1043.2 751.0,1042.1 752.1,1042.7 753.2,1042.0 754.3,1041.6 755.4,1042.5 756.5,1040.0 757.6,1040.1 758.7,1038.2 760.0,1037.7 761.3,1036.6 762.6,1036.9 763.8,1040.7 765.1,1049.5 766.4,1056.2 767.5,1054.6 768.5,1055.5 769.6,1057.9 770.7,1058.2 771.8,1059.1 772.8,1058.7 773.9,1056.3 775.0,1055.6 776.0,1056.4 777.1,1057.3 778.2,1058.0 779.2,1056.2 780.3,1059.6 781.4,1060.5 782.4,1061.2 783.5,1060.9 784.6,1064.6 785.6,1066.4 786.7,1068.4 787.7,1068.7 788.7,1070.0 789.7,1076.4 790.8,1076.7 791.8,1079.3 792.9,1078.9 794.0,1079.0 795.0,1080.0 796.1,1078.5 797.2,1077.9 798.2,1076.1 799.3,1077.3 800.4,1078.1 801.5,1080.6 802.5,1079.8 803.6,1081.8 804.6,1084.1 805.6,1087.4 806.7,1089.1 807.7,1091.6 808.7,1093.3 809.8,1094.5 810.9,1093.2 811.9,1091.1 813.0,1089.0 814.1,1091.6 815.1,1090.8 816.2,1091.3 817.3,1091.2 818.3,1094.5 819.4,1093.7 820.5,1096.8 821.5,1097.2 822.6,1099.3 823.6,1099.1 824.6,1097.6 825.6,1101.3 826.7,1099.7 827.7,1099.0 828.7,1094.9 829.7,1092.4 830.8,1089.4 831.8,1088.2 832.9,1087.6 833.9,1085.4 835.0,1085.0 836.1,1085.1 837.1,1084.5 838.2,1086.9 839.3,1087.2 840.3,1087.0 841.4,1084.8 842.5,1087.3 843.5,1084.3 844.6,1084.4 845.6,1082.5 846.7,1081.2 847.7,1083.5 848.7,1081.3 849.7,1083.1 850.8,1078.6 851.9,1077.2 852.9,1076.1 854.0,1074.6 855.1,1074.1 856.2,1071.5 857.2,1072.2 858.3,1071.6 859.4,1069.9 860.4,1068.9 861.5,1069.7 862.6,1069.0 863.6,1068.1 864.6,1065.6 865.6,1064.3 866.7,1066.1 867.7,1065.1 869.0,1071.0 870.3,1077.4 871.5,1080.5 872.8,1082.1 874.1,1086.3 875.4,1086.9 876.5,1085.0 877.6,1085.2 878.7,1081.0 879.8,1080.0 880.9,1080.6 882.0,1079.9 883.1,1077.9 884.2,1078.9 885.3,1080.1 886.4,1079.5 887.5,1076.8 888.6,1075.9 889.7,1076.2 890.8,1076.7 891.9,1079.3 893.0,1079.6 894.1,1079.8 895.2,1077.8 896.3,1079.6 897.4,1080.2 898.5,1080.5 899.5,1085.8 900.6,1090.0 901.7,1093.4 902.7,1096.6 903.8,1097.4 904.9,1101.0 906.0,1099.7 907.1,1100.5 908.2,1100.8 909.4,1100.9 910.5,1099.4 911.6,1099.7 912.7,1098.1 913.8,1097.2 914.9,1095.4 916.0,1095.0 917.1,1093.9 918.1,1095.2 919.2,1093.5 920.3,1093.3 921.3,1097.1 922.3,1099.9 923.3,1102.0 924.4,1103.9 925.4,1106.2 926.5,1106.2 927.5,1108.6 928.6,1111.1 929.7,1109.4 930.7,1111.8 931.8,1113.8 932.8,1111.7 933.8,1114.7 934.9,1114.2 935.9,1114.0 936.9,1115.1 938.0,1116.5 939.1,1115.7 940.1,1114.2 941.2,1111.6 942.3,1110.4 943.3,1110.0 944.6,1106.2 945.9,1102.8 947.2,1098.5 948.2,1098.0 949.3,1096.0 950.4,1096.6 951.5,1094.4 952.5,1092.7 953.6,1089.5 954.7,1090.1 955.7,1087.6 956.8,1087.4 957.9,1087.3 958.9,1086.6 960.0,1085.6 961.1,1088.3 962.2,1087.9 963.3,1088.9 964.4,1090.8 965.5,1090.4 966.6,1095.1 967.7,1095.9 969.0,1095.2 970.3,1090.9 971.5,1088.2 972.6,1087.5 973.7,1085.3 974.8,1083.6 975.9,1084.0 977.0,1083.0 978.1,1082.5 979.2,1081.8 980.3,1084.3 981.4,1085.3 982.4,1088.4 983.5,1088.5 984.6,1092.5 985.6,1094.6 986.7,1092.6 987.8,1088.4 988.8,1086.7 989.9,1085.0 991.0,1082.5 992.1,1080.5 993.2,1081.3 994.2,1081.4 995.3,1082.7 996.4,1081.7 997.5,1082.1 998.6,1080.8 999.7,1081.8 1000.8,1078.8 1001.9,1080.3 1003.0,1078.1 1004.1,1080.2 1005.2,1079.7 1006.3,1080.3 1007.4,1079.2 1008.6,1078.5 1009.7,1077.0 1010.8,1075.3 1011.9,1074.4 1013.0,1072.6 1014.2,1071.4 1015.3,1071.5 1016.4,1070.3 1017.4,1073.5 1018.5,1076.2 1019.5,1078.2 1020.5,1081.8 1021.5,1083.1 1022.6,1083.6 1023.7,1082.7 1024.8,1081.3 1025.9,1081.5 1027.0,1081.9 1028.1,1084.3 1029.2,1083.1 1030.3,1081.4 1031.4,1081.7 1032.4,1079.5 1033.5,1077.7 1034.6,1074.4 1035.6,1074.1 1036.9,1078.7 1038.2,1083.6 1039.5,1090.8 1040.5,1093.4 1041.5,1095.8 1042.6,1096.1 1043.6,1097.5 1044.6,1102.3 1045.7,1106.1 1046.8,1105.2 1047.8,1107.4 1048.9,1108.0 1050.0,1109.0 1051.0,1110.0 1052.1,1107.0 1053.1,1106.8 1054.1,1106.0 1055.1,1105.2 1056.2,1104.9 1057.2,1097.7 1058.2,1094.7 1059.2,1089.3 1060.3,1085.8 1061.3,1080.5 1062.4,1078.8 1063.4,1077.7 1064.5,1073.8 1065.6,1070.0 1066.6,1068.1 1067.7,1065.1 1068.8,1064.4 1069.8,1061.5 1070.9,1061.7 1072.0,1059.8 1073.0,1058.5 1074.1,1058.7 1075.2,1057.3 1076.2,1056.3 1077.3,1055.9 1078.4,1052.4 1079.4,1051.7 1080.5,1049.7 1081.6,1047.2 1082.6,1045.3 1083.7,1045.0 1084.8,1043.6 1085.9,1044.5 1086.9,1043.3 1088.0,1043.1 1089.1,1040.9 1090.1,1041.9 1091.2,1041.6 1092.3,1040.7 1093.3,1040.8 1094.6,1040.3 1095.9,1038.1 1097.2,1036.9 1098.5,1044.8 1099.7,1051.2 1101.0,1057.4 1102.3,1062.0 1103.6,1065.2 1104.9,1065.1 1106.0,1062.8 1107.1,1061.7 1108.2,1062.3 1109.3,1060.6 1110.4,1057.9 1111.5,1057.0 1112.6,1056.2 1113.7,1057.0 1114.8,1056.1 1115.9,1057.3 1117.0,1054.4 1118.1,1057.2 1119.2,1058.7 1120.3,1057.4 1121.3,1060.5 1122.4,1060.5 1123.5,1061.0 1124.5,1063.5 1125.6,1063.9 1126.7,1065.1 1127.7,1065.7 1128.8,1063.0 1129.9,1062.5 1130.9,1060.7 1132.0,1060.8 1133.1,1058.7 1134.1,1057.2 1135.2,1058.1 1136.3,1057.8 1137.4,1057.5 1138.4,1058.2 1139.5,1057.4 1140.6,1057.3 1141.7,1057.4 1142.8,1056.0 1143.9,1056.4 1145.0,1055.5 1146.1,1054.1 1147.2,1054.9 1148.2,1052.8 1149.2,1049.8 1150.3,1044.6 1151.3,1043.7 1152.3,1039.5 1153.3,1036.6 1154.4,1035.6 1155.4,1034.0 1156.4,1031.6 1157.4,1030.5 1158.5,1027.6 1159.5,1029.7 1160.5,1028.4 1161.5,1028.6 1162.6,1027.9 1163.8,1034.0 1165.1,1036.1 1166.4,1038.2 1167.4,1037.7 1168.5,1039.1 1169.5,1038.8 1170.5,1037.6 1171.5,1039.5 1172.8,1041.2 1174.1,1046.3 1175.4,1052.3 1176.4,1056.4 1177.4,1060.9 1178.5,1066.6 1179.5,1069.9 1180.5,1072.8 1181.6,1072.7 1182.6,1071.4 1183.7,1071.3 1184.8,1068.6 1185.9,1068.8 1186.9,1065.1 1187.9,1067.2 1189.0,1067.5 1190.0,1068.8 1191.0,1069.9 1192.1,1069.0 1193.1,1068.6 1194.2,1064.9 1195.3,1063.4 1196.3,1060.4 1197.4,1059.6 1198.5,1057.4 1199.5,1056.1 1200.6,1056.3 1201.7,1054.3 1202.7,1054.7 1203.8,1053.3 1204.9,1051.0 1205.9,1051.2 1206.9,1053.9 1207.9,1052.0 1209.0,1051.6 1210.0,1052.3 1211.3,1059.2 1212.6,1061.6 1213.8,1067.7 1214.9,1068.7 1216.0,1070.3 1217.1,1073.1 1218.1,1071.4 1219.2,1073.2 1220.3,1075.4 1221.5,1084.0 1222.8,1087.4 1224.1,1093.3 1225.2,1095.7 1226.2,1098.5 1227.3,1102.2 1228.4,1103.3 1229.4,1106.9 1230.5,1110.0 1231.5,1108.7 1232.6,1110.3 1233.6,1112.1 1234.6,1115.7 1235.6,1113.8 1236.7,1116.5 1237.7,1121.8 1238.7,1124.7 1239.7,1127.9 1240.8,1131.8 1241.8,1132.0 1242.8,1135.6 1243.8,1137.2 1244.9,1138.1 1245.9,1139.5 1247.0,1139.2 1248.0,1138.3 1249.1,1138.3 1250.2,1138.4 1251.2,1135.8 1252.3,1136.9 1253.4,1137.1 1254.4,1136.4 1255.5,1138.6 1256.6,1138.9 1257.6,1139.5 1258.7,1138.2 1260.0,1137.0 1261.3,1131.1 1262.6,1126.7 1263.7,1124.5 1264.8,1124.4 1265.9,1125.6 1267.0,1122.9 1268.1,1122.2 1269.2,1120.3 1270.3,1121.5 1271.3,1123.8 1272.4,1124.4 1273.5,1123.5 1274.5,1125.8 1275.6,1126.2 1276.7,1126.7 1277.8,1128.2 1278.9,1127.8 1280.0,1128.8 1281.1,1130.2 1282.2,1129.8 1283.3,1130.2 1284.4,1131.8 1285.5,1129.1 1286.6,1128.8 1287.7,1128.2 1288.8,1127.1 1289.9,1126.6 1291.0,1125.9 1292.1,1124.1 1293.1,1125.8 1294.2,1125.6 1295.3,1122.5 1296.3,1122.6 1297.4,1122.7 1298.5,1122.8 1299.5,1125.2 1300.6,1125.3 1301.7,1124.9 1302.7,1125.7 1303.8,1128.0 1304.9,1129.2 1305.9,1129.0 1307.0,1128.0 1308.1,1131.9 1309.1,1130.0 1310.2,1129.9 1311.3,1131.8 1312.3,1132.5 1313.3,1135.3 1314.4,1139.8 1315.4,1139.5 1316.4,1142.1 1317.6,1144.4 1318.8,1146.3 1320.0,1152.3 1321.1,1153.5 1322.2,1153.2 1323.3,1154.0 1324.4,1154.9 1325.4,1156.1 1326.4,1157.9 1327.4,1162.7 1328.5,1164.4 1329.5,1165.1 1330.5,1168.5 1331.5,1171.0 1332.6,1170.9 1333.6,1172.4 1334.6,1175.4 1335.7,1177.1 1336.8,1176.3 1337.8,1175.4 1338.9,1173.0 1340.0,1172.4 1341.0,1170.3 1342.1,1170.7 1343.2,1170.8 1344.3,1170.0 1345.4,1170.6 1346.5,1172.1 1347.6,1171.8 1348.7,1171.5 1349.7,1170.9 1350.8,1169.5 1351.8,1167.8 1352.8,1166.9 1353.8,1169.0 1354.9,1168.7 1356.0,1167.9 1357.1,1170.0 1358.1,1168.8 1359.2,1169.3 1360.3,1167.7 1361.5,1173.6 1362.8,1179.0 1364.1,1183.1 1365.1,1183.8 1366.2,1184.0 1367.2,1185.1 1368.2,1184.6 1369.2,1188.2 1370.3,1185.7 1371.4,1185.2 1372.4,1184.1 1373.5,1185.9 1374.6,1186.8 1375.6,1184.4 1376.7,1185.9 1377.8,1182.8 1378.8,1181.8 1379.9,1182.0 1381.0,1179.9 1382.1,1177.9 1383.1,1177.5 1384.2,1177.2 1385.3,1174.7 1386.3,1172.6 1387.4,1170.5 1388.5,1169.0 1389.5,1167.7 1390.6,1167.2 1391.7,1167.8 1392.7,1168.8 1393.8,1172.9 1394.9,1171.5 1396.0,1170.6 1397.1,1170.1 1398.2,1170.1 1399.4,1169.2 1400.5,1167.5 1401.6,1165.6 1402.7,1165.2 1403.8,1166.4 1404.9,1169.3 1405.9,1169.0 1406.9,1169.1 1407.9,1171.4 1409.0,1172.8 1410.0,1173.5 1411.1,1174.9 1412.2,1176.7 1413.2,1178.3 1414.3,1177.1 1415.4,1177.9 1416.4,1177.1 1417.4,1175.9 1418.5,1173.7 1419.5,1172.6 1420.5,1172.8 1421.6,1170.3 1422.6,1169.6 1423.7,1167.0 1424.8,1163.6 1425.9,1163.0 1426.9,1162.6 1428.0,1163.6 1429.1,1162.3 1430.1,1163.5 1431.2,1163.3 1432.3,1165.4 1433.3,1163.8 1434.4,1165.0 1435.5,1165.8 1436.5,1166.9 1437.6,1168.2 1438.7,1169.7 1439.7,1169.0 1440.8,1169.3 1441.9,1173.3 1442.9,1175.7 1444.0,1176.4 1445.1,1179.0 1446.2,1177.9 1447.2,1180.6 1448.2,1183.3 1449.2,1181.6 1450.3,1184.1 1451.3,1186.9 1452.3,1188.1 1453.3,1192.5 1454.4,1194.7 1455.4,1193.3 1456.4,1197.2 1457.5,1197.3 1458.6,1198.2 1459.7,1200.5 1460.8,1201.3 1461.9,1202.1 1463.0,1201.3 1464.1,1202.3 1465.2,1202.2 1466.3,1204.2 1467.4,1204.5 1468.5,1207.7 1469.6,1207.0 1470.7,1207.7 1471.8,1208.7 1472.9,1208.1 1474.0,1207.6 1475.1,1207.6 1476.2,1207.4 1477.3,1203.9 1478.4,1202.8 1479.5,1204.9 1480.6,1205.0 1481.7,1201.8 1482.9,1204.4 1484.0,1202.7 1485.1,1202.1 1486.2,1201.7 1487.3,1202.1 1488.5,1201.0 1489.6,1199.9 1490.7,1200.6 1491.8,1202.0 1492.9,1204.6 1494.1,1204.0 1495.2,1201.5 1496.3,1201.2 1497.4,1203.6 1498.5,1205.4 1499.5,1211.8 1500.5,1213.7 1501.5,1215.2 1502.6,1217.7 1503.6,1218.7 1504.7,1217.9 1505.8,1219.0 1506.8,1219.0 1507.9,1220.1 1509.0,1217.7 1510.1,1219.2 1511.2,1217.4 1512.3,1218.2 1513.4,1217.1 1514.5,1216.7 1515.6,1216.6 1516.7,1216.4 1517.7,1215.3 1518.8,1213.0 1519.9,1214.4 1520.9,1214.4 1522.0,1214.1 1523.1,1213.8 1524.1,1213.6 1525.2,1214.2 1526.3,1213.6 1527.4,1215.6 1528.4,1216.1 1529.5,1216.4 1530.6,1215.2 1531.6,1215.9 1532.7,1214.2 1533.8,1214.9 1534.8,1214.5 1535.9,1213.8 1537.0,1214.2 1538.0,1212.2 1539.1,1210.7 1540.2,1208.7 1541.2,1209.8 1542.3,1207.4 1543.3,1207.3 1544.4,1202.1 1545.4,1202.0 1546.4,1198.7 1547.4,1199.7 1548.5,1200.0 1549.6,1199.5 1550.6,1199.2 1551.7,1199.5 1552.8,1197.0 1553.8,1198.5 1554.9,1198.3 1555.9,1198.8 1556.9,1198.3 1557.9,1196.9 1559.0,1195.9 1560.0,1193.5 1561.1,1193.3 1562.2,1193.5 1563.2,1193.9 1564.3,1194.8 1565.4,1192.1 1566.7,1193.4 1567.9,1200.1 1569.2,1201.0 1570.3,1201.0 1571.4,1200.2 1572.4,1198.9 1573.5,1199.3 1574.6,1200.1 1575.6,1199.7 1576.7,1201.8 1577.8,1201.7 1578.8,1203.9 1579.9,1204.1 1581.0,1205.6 1582.1,1206.2 1583.1,1205.5 1584.2,1204.5 1585.3,1204.4 1586.3,1205.2 1587.4,1205.8 1588.5,1207.4 1589.5,1204.9 1590.5,1203.5 1591.5,1199.5 1592.6,1199.7 1593.6,1198.5 1594.7,1196.2 1595.7,1197.4 1596.8,1194.4 1597.9,1193.7 1598.9,1194.0 1600.0,1192.1 1601.1,1190.5 1602.1,1189.3 1603.2,1190.2 1604.3,1186.8 1605.3,1186.5 1606.4,1183.1 1607.4,1179.5 1608.5,1179.3 1609.5,1178.3 1610.5,1178.0 1611.5,1177.9 1612.6,1180.0 1613.6,1182.9 1614.6,1186.7 1615.6,1190.2 1616.7,1193.3 1617.7,1193.0 1618.7,1191.0 1619.7,1193.9 1620.8,1194.1 1621.8,1193.3 1623.1,1190.5 1624.4,1188.3 1625.6,1185.6 1626.7,1187.8 1627.7,1192.8 1628.7,1195.2 1629.7,1196.2 1630.8,1197.2 1631.8,1198.3 1632.9,1200.2 1634.0,1201.1 1635.0,1204.9 1636.1,1206.7 1637.2,1207.4 1638.2,1208.5 1639.3,1207.8 1640.4,1208.5 1641.5,1209.0 1642.5,1206.8 1643.6,1206.2 1644.7,1205.7 1645.7,1206.3 1646.8,1209.5 1647.9,1213.0 1648.9,1211.3 1650.0,1212.6 1651.1,1213.2 1652.1,1212.9 1653.2,1210.2 1654.3,1211.1 1655.3,1212.0 1656.4,1212.6 1657.5,1213.5 1658.5,1213.7 1659.6,1214.9 1660.7,1218.1 1661.8,1219.4 1662.8,1217.7 1663.9,1218.1 1665.0,1217.6 1666.0,1217.8 1667.1,1216.9 1668.2,1217.3 1669.2,1220.3 1670.3,1222.1 1671.4,1223.3 1672.4,1221.5 1673.5,1220.9 1674.6,1221.1 1675.6,1221.5 1676.7,1218.9 1677.8,1219.8 1678.8,1218.3 1679.9,1217.7 1681.0,1216.7 1682.1,1215.1 1683.2,1213.5 1684.2,1211.8 1685.3,1213.2 1686.4,1214.1 1687.5,1213.4 1688.6,1211.6 1689.7,1212.6 1690.8,1212.2 1691.9,1211.4 1692.9,1208.9 1694.0,1208.3 1695.1,1207.9 1696.2,1207.4 1697.2,1206.0 1698.3,1203.1 1699.4,1205.3 1700.4,1206.3 1701.5,1201.6 1702.6,1202.3 1703.6,1206.4 1704.6,1205.6 1705.6,1209.0 1706.7,1209.5 1707.7,1210.0 1709.0,1212.1 1710.3,1212.7 1711.5,1215.1 1712.6,1214.8 1713.7,1212.2 1714.7,1210.4 1715.8,1210.5 1716.9,1207.9 1717.9,1206.2 1719.0,1208.9 1720.0,1208.5 1721.0,1210.0 1722.1,1209.7 1723.1,1213.8 1724.4,1211.6 1725.6,1209.6 1726.9,1208.7 1727.9,1209.2 1729.0,1210.9 1730.0,1214.6 1731.0,1216.5 1732.1,1219.0 1733.1,1220.7 1734.2,1218.8 1735.3,1222.8 1736.3,1224.3 1737.4,1223.2 1738.5,1224.1 1739.5,1225.1 1740.6,1226.6 1741.7,1229.9 1742.7,1232.4 1743.8,1232.4 1744.9,1233.1 1746.2,1229.0 1747.4,1224.6 1748.7,1221.5 1750.0,1219.3 1751.3,1216.9 1752.6,1213.8 1753.6,1217.4 1754.7,1217.0 1755.8,1219.2 1756.8,1221.7 1757.9,1223.3 1759.0,1225.4 1760.0,1226.5 1761.1,1229.7 1762.2,1232.7 1763.2,1234.5 1764.3,1238.7 1765.4,1238.2 1766.5,1237.6 1767.6,1236.8 1768.8,1239.6 1769.9,1237.5 1771.0,1239.2 1772.1,1237.1 1773.2,1236.5 1774.4,1235.6 1775.6,1232.5 1776.9,1229.7 1778.2,1222.8 1779.2,1221.6 1780.3,1220.6 1781.3,1218.8 1782.3,1218.2 1783.3,1217.7 1784.4,1216.4 1785.5,1216.2 1786.5,1216.5 1787.6,1214.4 1788.7,1213.0 1789.7,1211.3 1790.8,1211.4 1791.9,1211.1 1792.9,1210.1 1794.0,1206.4 1795.1,1206.3 1796.2,1204.9 1797.2,1207.5 1798.3,1207.8 1799.4,1208.0 1800.4,1209.0 1801.5,1210.3 1802.6,1210.0 1803.6,1208.8 1804.7,1208.9 1805.8,1209.5 1806.8,1209.1 1807.9,1207.4 1809.0,1206.2 1810.0,1204.9 1811.1,1207.0 1812.2,1205.9 1813.2,1206.1 1814.3,1206.7 1815.4,1207.4 1816.5,1205.6 1817.6,1206.1 1818.7,1206.3 1819.8,1204.7 1820.9,1206.9 1822.0,1208.9 1823.1,1206.2 1824.1,1205.9 1825.2,1202.6 1826.3,1202.5 1827.4,1200.3 1828.4,1199.4 1829.5,1199.7 1830.6,1196.8 1831.6,1194.4 1832.7,1192.6 1833.8,1191.9 1834.8,1187.0 1835.9,1186.9 1837.0,1184.6 1838.1,1186.0 1839.2,1186.7 1840.3,1185.9 1841.4,1185.7 1842.5,1187.5 1843.6,1185.6 1844.7,1183.9 1845.7,1183.9 1846.8,1185.8 1847.9,1183.5 1848.9,1182.6 1850.0,1181.8 1851.1,1183.9 1852.1,1182.0 1853.2,1182.0 1854.3,1180.7 1855.3,1182.8 1856.4,1180.5 1857.5,1181.7 1858.6,1181.3 1859.7,1179.2 1860.8,1179.0 1861.9,1179.5 1863.0,1179.9 1864.1,1179.2 1865.4,1176.3 1866.7,1172.8 1867.8,1173.9 1868.9,1173.8 1870.0,1170.8 1871.1,1170.2 1872.2,1170.9 1873.3,1173.3 1874.4,1172.8 1875.6,1177.6 1876.9,1180.3 1878.2,1183.1 1879.3,1183.0 1880.3,1181.4 1881.4,1178.0 1882.5,1174.3 1883.5,1173.6 1884.6,1170.3 1885.6,1170.7 1886.7,1175.5 1887.7,1177.0 1888.7,1180.0 1889.7,1179.2 1890.8,1178.5 1891.8,1179.8 1892.8,1176.6 1893.8,1178.3 1894.9,1176.7 1895.9,1177.8 1896.9,1175.0 1897.9,1173.9 1899.0,1172.3 1900.0,1171.5 1901.1,1170.8 1902.1,1174.3 1903.2,1172.9 1904.3,1172.3 1905.3,1170.8 1906.4,1172.8 1907.4,1172.7 1908.5,1172.1 1909.5,1173.0 1910.5,1174.0 1911.5,1172.8 1912.8,1180.5" stroke="#67ad5b" stroke-width="4.1" fill="none" stroke-linejoin="round" stroke-linecap="round"/><path d="M20 163H2526" stroke="#449782" stroke-width="2" stroke-dasharray="2 4" fill="none"/><rect x="20" y="635.5" width="2662" height="2.4" fill="#2e2e2e"/></svg><div class="b" style="left:20px;top:18px;width:1650px;height:51.5px;background:rgba(15,15,15,0.45)"></div><div class="b" style="left:24px;top:70px;width:429px;height:84px;background:rgba(15,15,15,0.45)"></div><div class="b" style="left:24px;top:154px;width:254px;height:48px;background:rgba(15,15,15,0.45)"></div><div class="b" style="left:24px;top:202px;width:70px;height:52px;background:rgba(15,15,15,0.45)"></div><div class="b" style="left:20px;top:640px;width:1298px;height:45px;background:rgba(15,15,15,0.45)"></div><svg width="40" height="40" viewBox="0 0 40 40" style="left:32px;top:26px"><circle cx="19.9" cy="19.7" r="18" fill="#cc9e34"/><path d="M16.4 12H23.4L27.2 18H12.9Z M9.5 19.9H16.2L19.2 25.9H6.2Z M23.2 19.9H29.9L33.9 25.9H20.6Z" fill="#fff"/></svg><div class="t" style="left:77.9px;top:47.4px;font-size:33px;color:#dbdbdb;letter-spacing:0.17px;transform:scaleX(0.935);transform-origin:1.7px 0;">Gold Spot / U.S. Dollar · 1h · OANDA</div><div class="b" style="left:612px;top:28px;width:36px;height:36px;border-radius:50%;background:#16231f"></div><div class="b" style="left:622px;top:38px;width:16px;height:16px;border-radius:50%;background:#449782"></div><div class="t" style="left:664.4px;top:47.3px;font-size:26px;color:#dbdbdb;">O</div><div class="t" style="left:686.7px;top:47.3px;font-size:26px;color:#449782;letter-spacing:1.51px;">4,191.030</div><div class="t" style="left:826.2px;top:47.3px;font-size:26px;color:#dbdbdb;">H</div><div class="t" style="left:848.2px;top:47.3px;font-size:26px;color:#449782;letter-spacing:1.58px;">4,199.920</div><div class="t" style="left:988.5px;top:47.3px;font-size:26px;color:#dbdbdb;">L</div><div class="t" style="left:1006.1px;top:47.3px;font-size:26px;color:#449782;letter-spacing:1.43px;">4,191.030</div><div class="t" style="left:1145.7px;top:47.3px;font-size:26px;color:#dbdbdb;">C</div><div class="t" style="left:1167.0px;top:47.3px;font-size:26px;color:#449782;letter-spacing:1.43px;">4,198.735</div><div class="t" style="left:1306.7px;top:47.3px;font-size:26px;color:#449782;letter-spacing:1.23px;">+7.750 (+0.18%)</div><div class="t" style="left:1532.2px;top:47.3px;font-size:26px;color:#dbdbdb;letter-spacing:-0.51px;">Vol</div><div class="t" style="left:1571.3px;top:47.3px;font-size:26px;color:#449782;letter-spacing:1.04px;word-spacing:-4px;">14.88 K</div><div class="b" style="left:32px;top:78px;width:168px;height:68px;border:2px solid #df484c;border-radius:10px;background:#0f0f0f"></div><div class="t" style="left:55.4px;top:98.8px;font-size:24px;color:#df484c;letter-spacing:2.17px;-webkit-text-stroke:0.9px #df484c;">4,198.36</div><div class="t" style="left:165.8px;top:96.1px;font-size:20px;color:#df484c;-webkit-text-stroke:0.8px #df484c;">0</div><div class="t" style="left:88.0px;top:127.1px;font-size:22px;color:#df484c;letter-spacing:0.44px;">SELL</div><div class="t" style="left:216.5px;top:112.2px;font-size:20px;color:#d0d0d0;letter-spacing:1.46px;">75.0</div><div class="b" style="left:277px;top:78px;width:168px;height:68px;border:2px solid #3861f6;border-radius:10px;background:#0f0f0f"></div><div class="t" style="left:300.4px;top:98.8px;font-size:24px;color:#3861f6;letter-spacing:2.19px;-webkit-text-stroke:0.9px #3861f6;">4,199.11</div><div class="t" style="left:410.8px;top:96.1px;font-size:20px;color:#3861f6;-webkit-text-stroke:0.8px #3861f6;">0</div><div class="t" style="left:335.4px;top:127.1px;font-size:22px;color:#3861f6;letter-spacing:1.58px;">BUY</div><div class="t" style="left:34.8px;top:178.8px;font-size:26px;color:#dbdbdb;letter-spacing:0.14px;">Vol · Ticks</div><div class="t" style="left:175.1px;top:178.8px;font-size:26px;color:#449782;letter-spacing:0.81px;word-spacing:-4px;">14.88 K</div><div class="b" style="left:32px;top:208px;width:58px;height:42px;border:2px solid #4a4a4a;border-radius:7px;background:#0f0f0f"><svg width="58" height="42" viewBox="0 0 58 42" style="left:-2px;top:-2px"><path d="M21.5 25.5 L29.5 18.5 L37.5 25.5" fill="none" stroke="#e0e0e0" stroke-width="2.2"/></svg></div><div class="t" style="left:32.8px;top:670.4px;font-size:26px;color:#dbdbdb;letter-spacing:0.80px;">PurpleAlgo 1h</div><div class="t" style="left:211.6px;top:670.4px;font-size:26px;color:#8a8a8a;letter-spacing:2.89px;">40</div><div class="t" style="left:252.4px;top:670.4px;font-size:26px;color:#8a8a8a;letter-spacing:2.01px;">130</div><div class="t" style="left:316.5px;top:670.4px;font-size:26px;color:#797b85;letter-spacing:1.71px;">10.000</div><div class="t" style="left:416.6px;top:670.4px;font-size:26px;color:#797b85;letter-spacing:1.68px;">−10.000</div><div class="t" style="left:533.8px;top:670.4px;font-size:26px;color:#ffffff;letter-spacing:1.79px;">9.547</div><div class="t" style="left:618.8px;top:670.4px;font-size:26px;color:#67ad5b;letter-spacing:1.68px;">12.718</div><div class="t" style="left:720.3px;top:670.4px;font-size:26px;color:#3861f6;letter-spacing:1.52px;">10.808</div><div class="t" style="left:820.2px;top:670.4px;font-size:26px;color:#df484c;letter-spacing:1.41px;">11.501</div><div class="t" style="left:920.3px;top:670.4px;font-size:26px;color:#3861f6;letter-spacing:1.48px;">−9.381</div><div class="t" style="left:1020.7px;top:670.4px;font-size:26px;color:#df484c;letter-spacing:1.72px;">−7.983</div><div class="t" style="left:1121.9px;top:670.4px;font-size:26px;color:#ffffff;letter-spacing:1.55px;">−8.612</div><div class="t" style="left:1222.4px;top:670.4px;font-size:26px;color:#67ad5b;letter-spacing:1.69px;">−7.172</div><div class="b" style="left:2534px;top:22px;width:144px;height:52px;border:2px solid #4a4a4a;border-radius:9px;background:#0f0f0f"></div><div class="t" style="left:2541.5px;top:48.6px;font-size:24px;color:#dbdbdb;letter-spacing:-0.04px;">USD</div><svg width="16" height="10" viewBox="0 0 16 10" style="left:2655px;top:43px"><path d="M2.5 2.5 L8 7.5 L13.5 2.5" fill="none" stroke="#e0e0e0" stroke-width="2.2"/></svg><div class="b" style="left:2528px;top:82px;width:148px;height:30px;background:#df484c;border-radius:0 0 5px 0;overflow:hidden"></div><div class="t" style="left:2544.4px;top:94.0px;font-size:24px;color:#fff;letter-spacing:1.53px;">4,310.850</div><div class="b" style="left:2528px;top:112px;width:148px;height:34px;background:#449782;border-radius:0 5px 5px 0;overflow:hidden"></div><div class="t" style="left:2544.4px;top:128.3px;font-size:24px;color:#fff;letter-spacing:1.50px;">4,241.684</div><div class="b" style="left:2528px;top:146px;width:148px;height:62px;background:#449782;border-radius:0 5px 5px 0;overflow:hidden"></div><div class="t" style="left:2544.4px;top:162.4px;font-size:24px;color:#fff;letter-spacing:1.54px;">4,198.735</div><div class="b" style="left:2528px;top:208px;width:148px;height:34px;background:#858585;border-radius:0 5px 5px 0;overflow:hidden"></div><div class="t" style="left:2544.4px;top:224.0px;font-size:24px;color:#fff;letter-spacing:1.56px;">4,194.107</div><div class="b" style="left:2528px;top:242px;width:148px;height:34px;background:#858585;border-radius:0 5px 5px 0;overflow:hidden"></div><div class="t" style="left:2544.4px;top:258.5px;font-size:24px;color:#fff;letter-spacing:1.54px;">4,075.165</div><div class="b" style="left:2528px;top:276px;width:148px;height:34px;background:#449782;border-radius:0 5px 5px 0;overflow:hidden"></div><div class="t" style="left:2544.4px;top:292.3px;font-size:24px;color:#fff;letter-spacing:1.56px;">4,012.721</div><div class="b" style="left:2528px;top:310px;width:148px;height:34px;background:#df484c;border-radius:0 5px 5px 0;overflow:hidden"></div><div class="t" style="left:2544.4px;top:326.0px;font-size:24px;color:#fff;letter-spacing:1.56px;">4,012.721</div><div class="b" style="left:2528px;top:344px;width:148px;height:34px;background:#449782;border-radius:0 5px 5px 0;overflow:hidden"></div><div class="t" style="left:2544.1px;top:360.6px;font-size:24px;color:#fff;letter-spacing:1.59px;">3,899.726</div><div class="b" style="left:2528px;top:514px;width:148px;height:34px;background:#df484c;border-radius:0 5px 5px 0;overflow:hidden"></div><div class="t" style="left:2544.1px;top:530.1px;font-size:24px;color:#fff;letter-spacing:1.59px;">3,424.716</div><div class="b" style="left:2528px;top:548px;width:148px;height:34px;background:#449782;border-radius:0 5px 5px 0;overflow:hidden"></div><div class="t" style="left:2544.1px;top:564.1px;font-size:24px;color:#fff;letter-spacing:1.57px;">3,409.390</div><div class="b" style="left:2528px;top:582px;width:148px;height:34px;background:#858585;border-radius:0 5px 5px 0;overflow:hidden"></div><div class="t" style="left:2544.1px;top:598.1px;font-size:24px;color:#fff;letter-spacing:1.61px;">3,370.087</div><div class="b" style="left:2528px;top:616px;width:148px;height:19.5px;background:#858585;border-radius:0 5px 0 0;overflow:hidden"><div class="t" style="left:16.1px;top:16.1px;font-size:24px;color:#fff;letter-spacing:1.61px">3,369.612</div></div><div class="t" style="left:2544.6px;top:189.6px;font-size:24px;color:#ffffff;letter-spacing:1.58px;opacity:0.62;">02:10</div><div class="t" style="left:2544.1px;top:446.2px;font-size:24px;color:#b2b2b2;letter-spacing:1.57px;">3,600.000</div><div class="t" style="left:2544.1px;top:686.2px;font-size:24px;color:#b2b2b2;letter-spacing:1.69px;">30.000</div><div class="t" style="left:2543.8px;top:752.8px;font-size:24px;color:#b2b2b2;letter-spacing:1.75px;">25.000</div><div class="t" style="left:2543.8px;top:819.4px;font-size:24px;color:#b2b2b2;letter-spacing:1.75px;">20.000</div><div class="t" style="left:2544.0px;top:1019.2px;font-size:24px;color:#b2b2b2;letter-spacing:1.71px;">5.000</div><div class="t" style="left:2544.1px;top:1085.8px;font-size:24px;color:#b2b2b2;letter-spacing:1.70px;">0.000</div><div class="t" style="left:2543.8px;top:1152.4px;font-size:24px;color:#b2b2b2;letter-spacing:1.61px;">−5.000</div><div class="b" style="left:2630px;top:1205px;width:10px;height:19px;border-radius:0 8px 8px 0;border:2px solid #a8a8a8;border-left:none"></div><div class="b" style="left:2630px;top:1274px;width:10px;height:19px;border-radius:0 8px 8px 0;border:2px solid #a8a8a8;border-left:none"></div><div class="b" style="left:2528px;top:833px;width:109px;height:34px;background:#67ad5b;border-radius:0 5px 5px 0;overflow:hidden"></div><div class="t" style="left:2543.2px;top:850.6px;font-size:24px;color:#fff;letter-spacing:1.89px;">12.718</div><div class="b" style="left:2528px;top:867px;width:109px;height:34px;background:#df484c;border-radius:0 5px 5px 0;overflow:hidden"></div><div class="t" style="left:2543.2px;top:884.6px;font-size:24px;color:#fff;letter-spacing:1.92px;">11.501</div><div class="b" style="left:2528px;top:901px;width:109px;height:34px;background:#3861f6;border-radius:0 5px 5px 0;overflow:hidden"></div><div class="t" style="left:2543.2px;top:918.6px;font-size:24px;color:#fff;letter-spacing:1.89px;">10.808</div><div class="b" style="left:2528px;top:935px;width:109px;height:34px;background:#797b85;border-radius:0 5px 5px 0;overflow:hidden"></div><div class="t" style="left:2543.2px;top:952.6px;font-size:24px;color:#fff;letter-spacing:1.87px;">10.000</div><div class="b" style="left:2528px;top:969px;width:94px;height:34px;background:#ffffff;border-radius:0 5px 5px 0;overflow:hidden"></div><div class="t" style="left:2543.9px;top:986.6px;font-size:24px;color:#000;letter-spacing:1.82px;">9.547</div><div class="b" style="left:2528px;top:1164px;width:109px;height:34px;background:#67ad5b;border-radius:0 5px 5px 0;overflow:hidden"></div><div class="t" style="left:2543.8px;top:1181.6px;font-size:24px;color:#fff;letter-spacing:1.66px;">−7.172</div><div class="b" style="left:2528px;top:1198px;width:109px;height:34px;background:#df484c;border-radius:0 5px 5px 0;overflow:hidden"></div><div class="t" style="left:2543.8px;top:1215.6px;font-size:24px;color:#fff;letter-spacing:1.63px;">−7.983</div><div class="b" style="left:2528px;top:1232px;width:109px;height:34px;background:#ffffff;border-radius:0 5px 5px 0;overflow:hidden"></div><div class="t" style="left:2543.8px;top:1249.6px;font-size:24px;color:#000;letter-spacing:1.66px;">−8.612</div><div class="b" style="left:2528px;top:1266px;width:109px;height:34px;background:#3861f6;border-radius:0 5px 5px 0;overflow:hidden"></div><div class="t" style="left:2543.8px;top:1283.6px;font-size:24px;color:#fff;letter-spacing:1.66px;">−9.381</div><div class="b" style="left:2528px;top:1300px;width:124px;height:34px;background:#797b85;border-radius:0 5px 5px 0;overflow:hidden"></div><div class="t" style="left:2543.8px;top:1317.6px;font-size:24px;color:#fff;letter-spacing:1.78px;">−10.000</div><svg width="36" height="32" viewBox="0 0 36 32" style="left:2589px;top:1349px"><path d="M10.2 3.8 H25.8 L32.6 16 L25.8 28.2 H10.2 L3.4 16 Z" fill="none" stroke="#e6e6e6" stroke-width="2"/><circle cx="18" cy="16" r="4.2" fill="none" stroke="#e6e6e6" stroke-width="2"/></svg><div class="t" style="left:356.7px;top:1365.7px;font-size:24px;color:#b4b4b4;font-weight:bold;">Sep</div><div class="t" style="left:860.2px;top:1365.7px;font-size:24px;color:#b4b4b4;font-weight:bold;">Oct</div><div class="t" style="left:1386.1px;top:1365.7px;font-size:24px;color:#b4b4b4;font-weight:bold;">Nov</div><div class="t" style="left:1847.5px;top:1365.7px;font-size:24px;color:#b4b4b4;font-weight:bold;">Dec</div><svg width="64" height="34" viewBox="0 0 64 34" style="left:38px;top:1276px"><path d="M1.9 2 H26.1 V31.8 H14 V14.2 H1.9 Z" fill="#d9d9d9"/><circle cx="36" cy="8.1" r="6.1" fill="#d9d9d9"/><path d="M47.8 2 H61.9 L50.1 31.8 H36 Z" fill="#d9d9d9"/></svg><svg width="130" height="50" viewBox="0 0 130 50" style="left:1888px;top:586px"><circle cx="24.8" cy="25" r="19.3" fill="none" stroke="#a44fc2" stroke-width="3"/><path d="M30 20 L15.5 25.8 H25 L18 34.5 L21 36.5 L32 24.5 Z" fill="#a44fc2"/><circle cx="45" cy="24" r="22" fill="#0c0c0c"/><clipPath id="c45"><circle cx="45" cy="24" r="16.2"/></clipPath><g clip-path="url(#c45)"><rect x="28.8" y="7.800000000000001" width="32.4" height="32.4" fill="#de5d55"/><rect x="28.8" y="14.200000000000001" width="32.4" height="6" fill="#f6f6fb"/><rect x="28.8" y="26.8" width="32.4" height="6.2" fill="#f6f6fb"/><rect x="28.8" y="7.800000000000001" width="19.7" height="19" fill="#3e86e4"/><circle cx="33.1" cy="12.4" r="1.25" fill="#fff"/><circle cx="33.1" cy="17.7" r="1.25" fill="#fff"/><circle cx="33.1" cy="23.0" r="1.25" fill="#fff"/><circle cx="38.5" cy="12.4" r="1.25" fill="#fff"/><circle cx="38.5" cy="17.7" r="1.25" fill="#fff"/><circle cx="38.5" cy="23.0" r="1.25" fill="#fff"/><circle cx="43.9" cy="12.4" r="1.25" fill="#fff"/><circle cx="43.9" cy="17.7" r="1.25" fill="#fff"/><circle cx="43.9" cy="23.0" r="1.25" fill="#fff"/></g><circle cx="45" cy="24" r="20.5" fill="none" stroke="#e24a50" stroke-width="3"/><circle cx="92.8" cy="24" r="22" fill="#0c0c0c"/><clipPath id="c92"><circle cx="92.8" cy="24" r="16.2"/></clipPath><g clip-path="url(#c92)"><rect x="76.6" y="7.800000000000001" width="32.4" height="32.4" fill="#de5d55"/><rect x="76.6" y="14.200000000000001" width="32.4" height="6" fill="#f6f6fb"/><rect x="76.6" y="26.8" width="32.4" height="6.2" fill="#f6f6fb"/><rect x="76.6" y="7.800000000000001" width="19.7" height="19" fill="#3e86e4"/><circle cx="80.9" cy="12.4" r="1.25" fill="#fff"/><circle cx="80.9" cy="17.7" r="1.25" fill="#fff"/><circle cx="80.9" cy="23.0" r="1.25" fill="#fff"/><circle cx="86.3" cy="12.4" r="1.25" fill="#fff"/><circle cx="86.3" cy="17.7" r="1.25" fill="#fff"/><circle cx="86.3" cy="23.0" r="1.25" fill="#fff"/><circle cx="91.7" cy="12.4" r="1.25" fill="#fff"/><circle cx="91.7" cy="17.7" r="1.25" fill="#fff"/><circle cx="91.7" cy="23.0" r="1.25" fill="#fff"/></g><circle cx="92.8" cy="24" r="20.5" fill="none" stroke="#e24a50" stroke-width="3"/></svg><div class="b" style="left:0px;top:0px;width:2684px;height:6px;background:#0b0b0b"></div><div class="b" style="left:0px;top:6px;width:2684px;height:8px;background:linear-gradient(#303030,#272727)"></div><div class="b" style="left:1688px;top:0px;width:191px;height:6px;background:#1e1e1e;border-radius:0 0 10px 10px"></div><div class="b" style="left:0px;top:14px;width:16px;height:1376px;background:#2d2d2d"></div><div class="b" style="left:0px;top:14px;width:7.5px;height:1376px;background:#0e0e0e;border-radius:0 6px 0 0"></div><div class="b" style="left:16px;top:14px;width:2670px;height:1378px;border:4px solid #8f8f8f;border-radius:8px;background:transparent"></div></body></html>
